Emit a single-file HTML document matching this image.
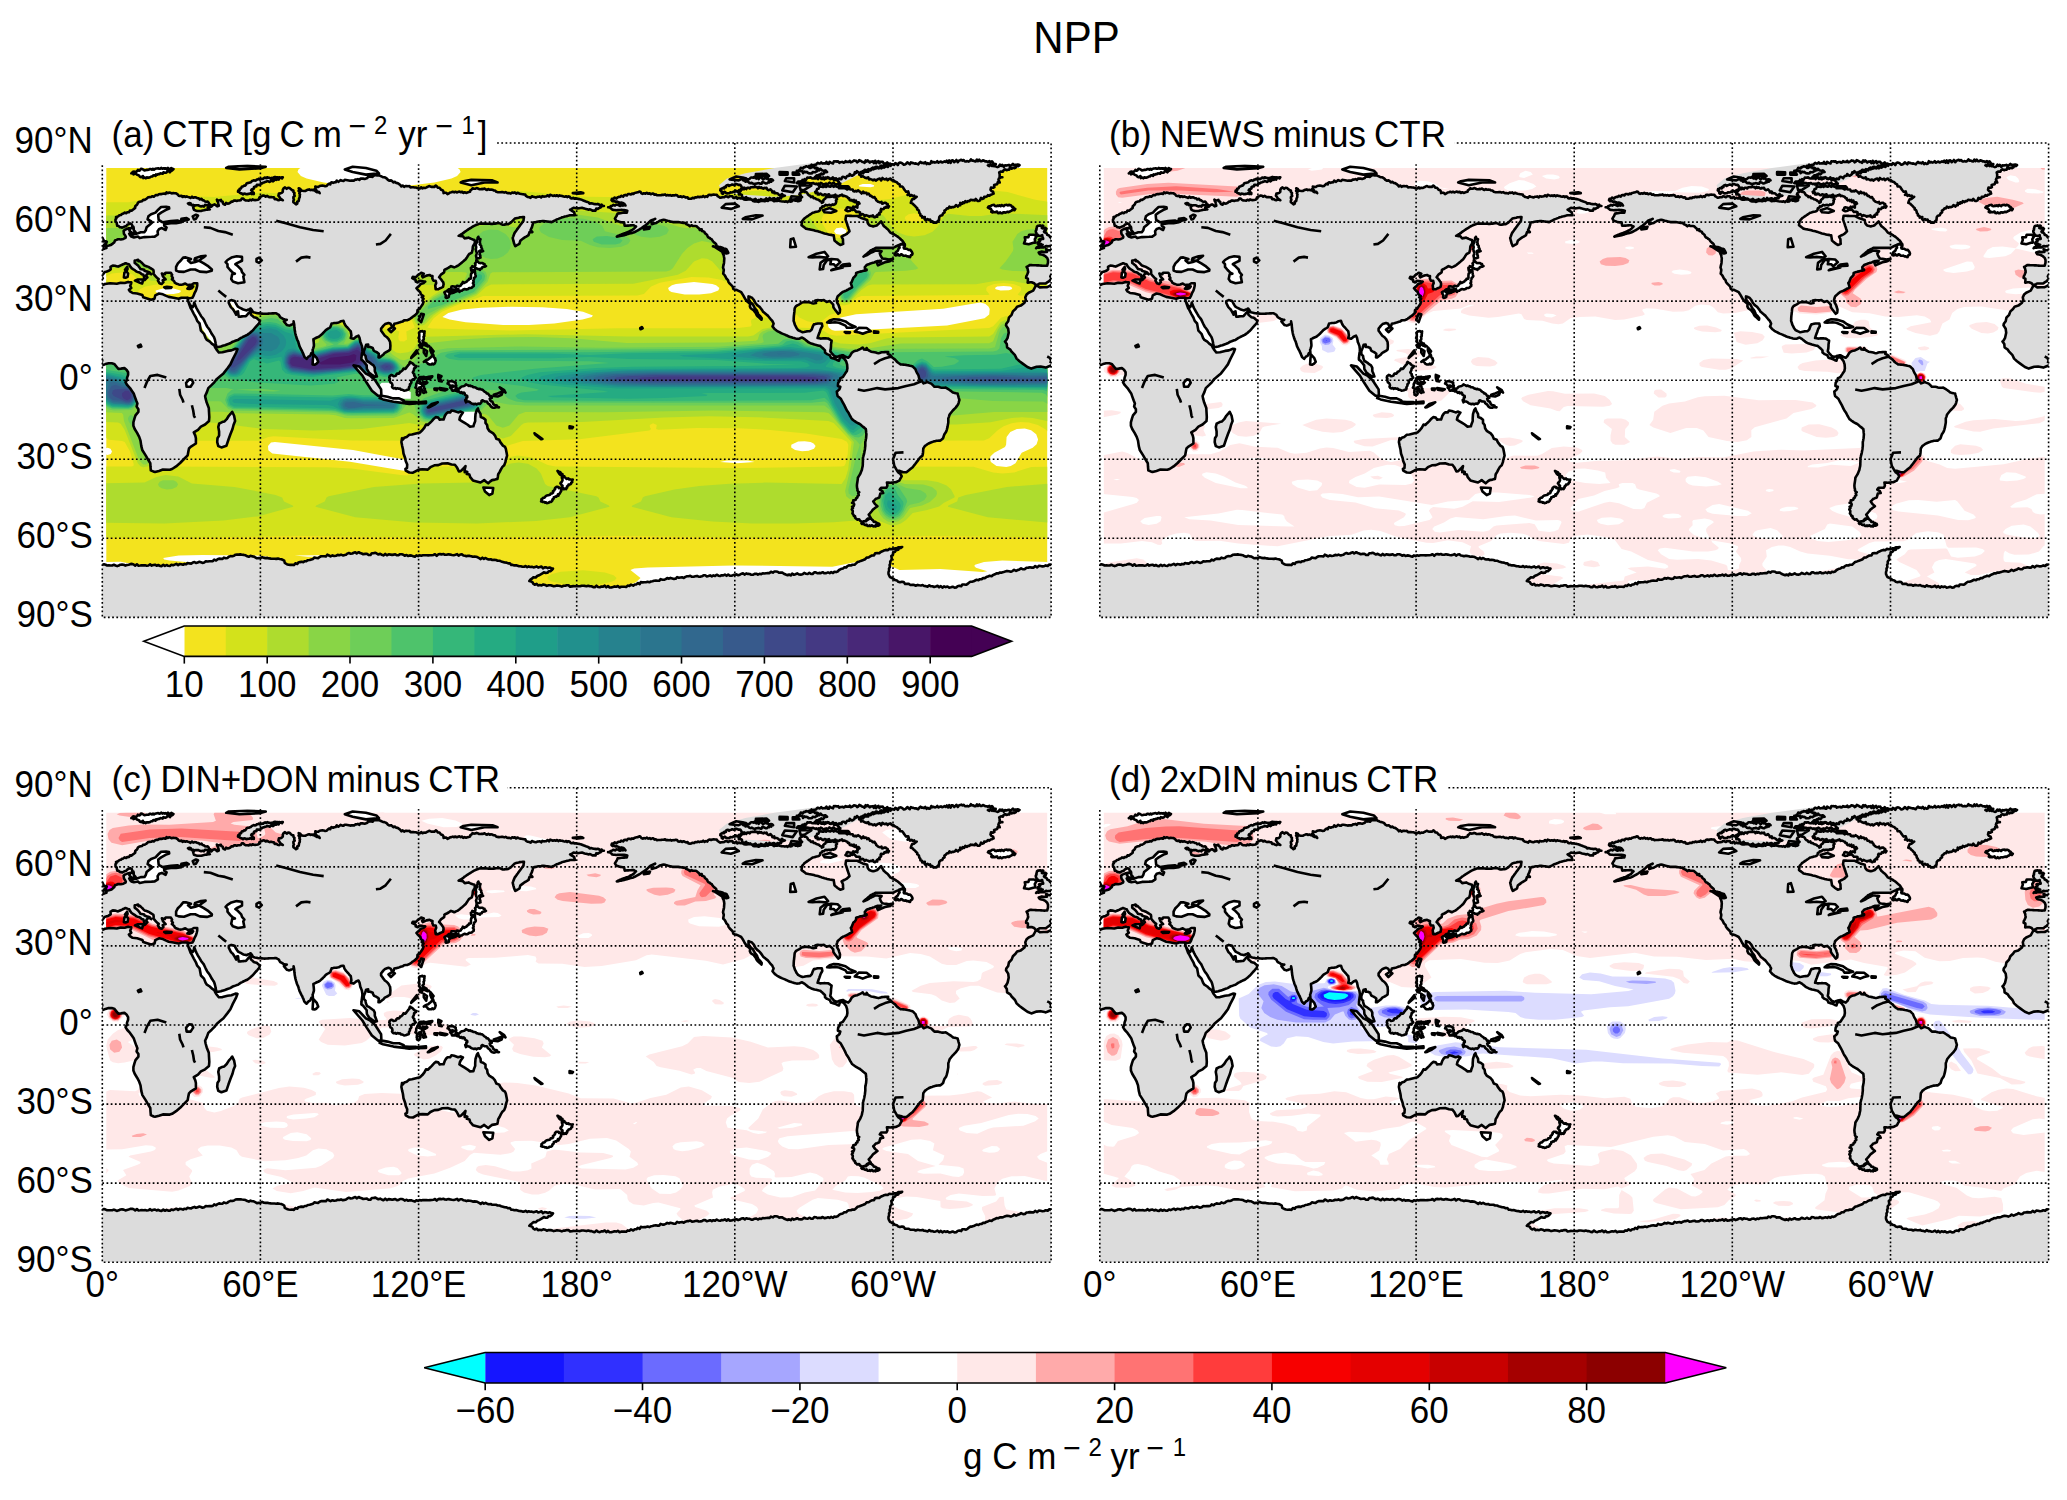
<!DOCTYPE html><html><head><meta charset="utf-8"><title>NPP</title>
<style>html,body{margin:0;padding:0;background:#fff;}svg{display:block;}text{font-family:'Liberation Sans', Arial, Helvetica, sans-serif;fill:#000;}</style></head><body>
<svg xmlns="http://www.w3.org/2000/svg" xmlns:xlink="http://www.w3.org/1999/xlink" width="2067" height="1500" viewBox="0 0 2067 1500">
<rect width="2067" height="1500" fill="#fff"/>
<defs>
<clipPath id="mapclip"><rect x="0" y="0" width="948.8" height="474.4"/></clipPath>
<clipPath id="dataclip"><rect x="4.0" y="25.0" width="940.9" height="448.1"/></clipPath>
<path id="land" fill="#dcdcdc" d="M-14.8,142.3l1.1-.6 1-.6 1.1-.6 1.2,0 1.2,0 1.2,0 1.3,0 1.2,0 1.2-.8 1.2-.8 1.3-.8 .7-1 .8-.9 .8-1-1.3-1.8 .8-1.4 .8-.9 .8-1 .8-1 1.1-.3 1.2-.4 1.1-.3 1.3-.8 1.3-.8-.1-1.3-.1-1.3 1.2-.7 1.1-.6 2.2,.2 1.5,.4 1.6,.4 1.3-.6 1.3-.6 1.4-.6 1.1-.6 1.2-.5 1.1-.5 1.2,.4 1.3,.5 1.2,.4 .8,1.6 .8,1 .8,1.1 1.4,.9 1.5,.9 1,.8 1.1,.8 1.1,.4 1.1,.3 1.2,.4 .9,.8 .9,.8 1.6,.5 .4,1.4 .4,1.5-.3,1.3-.2,1.3 1-.2 1.4-1.4 1.3-1.3-1.3-1.8 .7-1 .8-.9 2.1-.5 1.4,1.1-1.4-1.9-1.3-.4-1.3-.4-1.3-.4-1.3-.4-.3-1-1.2-.3-1.3-.3-1.2-.2-.8-1.2-.8-1.1-.8-1.1-1.1-.9-1.1-.9-1.2-.9 0-2.4 1.7-.3 1.7-.4 .3,1.5 1.6-.2 1.2,1.2 1.2,1.1 1,1.1 1.1,1.1 1.3,.4 1.3,.4 1.3,.5 1.3,.8 1.4,.8 1.1,.7 1.2,.8 .3,2.1-.3,1.6 .8,.9 .8,1 .9,1 1,1.1 1.8,1.3-.8,1.6 .8,1.3 .8,1.3 2.1,.8 .9-.9 .9-.9-.7-1.9 1.4-.5 1.5-.5-.9-1-.9-1-.9-.9-.5-1.5-.5-1.4 1.4,.4 1.5,.4 .8-1.6 1.3,0 1.3,0 1.3,0 1.3,0 .6,1 .7,1.1-.5,1.3 1.3,1.8-1,1.4 1.2,1 1.2,1.1 .5,1.3 1.3,.8 1.3,.4 1.3,.5 1.4,.4 1.3-.1 1.3-.2 1.3-.5 1.3-.5 1.3,.8 1.4,.8 1.3-.2 1.3-.2 1.3-.2 1.9-1.3 1.7,0 1.7,0 0,1.3 0,1.3-.5,2.2-.4,1.3-.4,1.3-.7,1.3-.7,1.3-.5,1.3-.5,1.4-1.1,1.8-1.5,.3-1.6,.2-1.9-.5 .3,1.2 .3,1.3 .2,1.2 .6,1.1 .6,1 .6,1.1 .6,1 1,.8 1.1,.8 1.1-2.1 .2-1.3 .3-1.3 .4,1.1 .4,1.1 .4,1.1 .4,1.1 .6,1.2 .7,1.2 .6,1.2 .7,1.2 .7,1.1 .6,1.1 .7,1.1 .6,1.2 .9,1.1 .9,1.1 .9,1.2 .6,1.3 .6,1.3 .6,1.3 .8,1.6 .8,1.6 .9,1.1 .9,1.2 .8,1.1 .6,1.3 .7,1.2 .6,1.2 .7,1 .7,1 .7,.9 .5,1.3 .5,1.4 .3,1.3 .3,1.3 .2,1.3 .4,1.7 .4,1.7 1.9,.3 1.3-.3 1.3-.2 1.3-.5 1.3-.4 1.4-.4 1.3-.5 1.3-.5 1.3-.4 1.3-.5 1.3-.8 1.4-.8 1.3-.4 1.3-.5 1.3-.5 1.3-.4 1.9-1.3 1.1-.7 1.2-.6 1.1-.6 1.3-.6 1.3-.6 1.4-.6 1.3-1 1.3-.9 1.3-1.2 1.3-1.1 1-1.1 .9-1.1 1-1.1 1.1-1.2 .9-1 .8-1 .9-.9 .4-1.2 .4-1.2-1-1-1.1-.9-1.1-1-1.4-.4-1.5-.4-.9-.9-1-.8-1-.9-.1-1.7-.1-1.7-1.1,.9-1,.9-.9,1.1-.9,1-.9,1.1-1.3,0-1.3,.1-1.3,.1-1.6,.2-1.6,.1-.2-1.2-.3-1.2-.1-1.4-.2-1.5-1.3,.3-.2,1.6-.3,1.5-.6-1.1-.6-1.1-.7-1.2-.7-1.2-.8-1.2-1-.9-.9-.9-.7-1.4-.7-1.4-.7-1.4 0-1.9 1.2-.5 1.2-.5 1.7,.4 1.7,.4 .8,1.6 .8,1.5 .9,1.4 .9,1.3 1.1,.6 1,.5 1.1,.6 1.1,.6 1,.6 1.7,.4 1.7,.4 1.3-.7 1.4-.6 1.3-.6 .9,1.2 .8,1.3 .9,1.2 1.5,.4 1.5,.3 1.5,.4 1.4,.1 1.3,.1 1.4,.1 1.4,.1 1.4,.1 1.2-.1 1.3,0 1.2-.1 1.3-.1 1.3,0 1.3-.1 1.3,0 1.3-.1 1.3,0 1.4,.8 1.3,.7 .6,1.2 .7,1.2 1.1,.6 1,.6 1.1,.7 1.7,.4 1.7,.3-1.5,.8-1.4,.8 1,1.2 .9,1.1 1,1.2 1.2,.4 1.2,.3 1.1-.4 1.1-.5 1.1-.4 1.1-.5 0-1.2 0-1.2 .3,1.6 .3,1.6 .1,1.4 .1,1.5 .2,1.3 .1,1.3 .3,1.3 .2,1.4 .3,1.3 .4,1.5 .5,1.5 .4,1.5 .5,1.2 .6,1.2 .5,1.3 .3,1.2 .4,1.2 .3,1.2 .7,1.5 .7,1.4 .6,1.2 .7,1.2 .6,1.5 .7,1.4 .5,1.5 .6,1.4 1,.9 1.1,1 .9-1.1 .9-1.1 1.1-.6 1-.7 .4-1.2 .4-1.1 1.6,0-.1-1.6-.2-1.6 .5-1.3 .4-1.3 .4-1.4 0-1.3-.1-1.3-.1-1.3-.2-1.5-.1-1.4 1.2-.5 1.2-.6 1.1-.5 1.2-.5 1.1-.5 1.1-.9 1-.9 1.1-.9 .8-.9 .9-.9 .8-.9 .9-1 1.1-.7 1.1-.7 1.2-.7 1.1-.8 .4-1.2 .5-1.2 .4-1.3 1.4-.2 1.5-.3 1.8,0 1.2-.3 1.2-.2 1.2-.7 1.2-.6 1.2-.2 1.2-.1 .4,1.1 .4,1.2 .5,1.1 .8,1.3 .9,1 .9,.9 .9,1 .8,1 .9,1 .8,.9 .2,1.4 .2,1.3 .2,1.3-.3,1.3-.3,1.3 1.5,.4 1.4,.4 1.2-1 1.2-1.1 1.2-.5 1.2-.5 1,2.1 .3,1.4 .3,1.4 .2,1.4 .6,1.3 .5,1.3 .5,1.3 .2,1.4 .2,1.3 .1,1.3-.1,1.3-.2,1.3-.2,1.3-.2,1.4-.1,1.3-.2,1.3 0,1.8 1.8,1.4 .9,1.2 1,1.1 .8,1.1 .8,1 0,1.3 .1,1.2 .1,1.2 .7,1.2 .7,1.1 .7,1.2 1,.8 1,.7 .9,.8 1.1,.6 1,.7 1.1,.6 1.8-.3-.5-1.4-.5-1.5-.6-1.3-.5-1.3 0-1.6 0-1.6-.6-1.2-.7-1.2-1.1-.7-1-.8-1.3-1-1.3-.9-1.9-1-.5-1.4-.5-1.3-.2-1.2-.1-1.1-.9-1-.9-.9 0-1.4 0-1.5 .5-1.2 .5-1.2 .4-1.1 .4-1.2 .5-1.6 2.1-.3 0,1.2 0,1.2 2.1,0 1.2,.5 1.2,.5 .5,1.4 .6,1.3 1.1,.6 1.2,.6 1.1,.6 1.6,1.3-.1,1.3-.1,1.2-.1,1.2 1.1,0 1-.8 .9-.7 1-.8 1-.8 1.3-1.6 1.6-.8 1.6-.8 1.1-.8 1-.8 .1-1.2 .1-1.2 .1-1.3-.1-1.3-.1-1.3-.1-1.3-.7-1.3-.6-1.3-.9-1.1-1-1.1-1-.7-1.1-.8-.9-1.2-.9-1.2-.9-1.3-1-1.3 0-2.2 .8-.9 .8-1 .8-1 1.6-1.5 1.8-.6 1.6-.5 2.1,.8 .7,1.3 .7,1.3 1.3,.3 .5-1.4 .5-1.5 1.2-.3 1.2-.2 1.1-.4 1.2-.3 1.1-.4 1.3-.4 1.4-.4 1.3-1 1.7-.2 1.7-.1 1.3-.6 1.3-.7 1.2-.9 1.2-1 1.2-.7 1.2-.8 1.2-1.2 1.2-1.2 .1-1.5 .1-1.4 1.1-.7 1-.6 .8-1.2 .8-1.2 .8-1.2 .8-1.2 .4-1.2 .4-1.1-1.1-1.4 1.1-1.5-.9-.8-1-.8 1.6-1.1-1.2-.9-1.2-.9-.7-2.1-.9-.9-.9-.9-.9-.9-1-1.3 .9-.9 1-.8 1-.9 1-1.3 1.6-.7 1.6-.6 1.6-1.4-1.8-.2-1.7-.3-2.1-.3-1.2,.8-1.1,.8-1.6-.8 0-1.5-1.2-.7-1.1-.6-1.2-.6 .6-1.3 1.4,.1 1.5,.2 1.2-1.1 1.1-1.1 1.1-.7 1.1-.8 1-.8 1.3,.5 1.3,.5-.9,1.1-.9,1 .8,1.6 1.6-.8 2.1-1 1.6-.3 1.5-.3 1.4,.8 1.5,.3-.2,2.1 .5,1.2 .5,1.2 1.2,.1 1.2,.1 .5,2.2-.5,1.3-.5,1.3 .2,1.2 .1,1.2 .2,1.3 1.2,0 1.2,0 2.1-1.1 1.4-.6 1.5-.7 .2-1.3 .3-1.3-.3-1.9-.7-.9-.7-1-.7-1-1-1.2-1.1-1.1 .7-1 .7-1 .7-.9 1.5-1 1.4-.9 .2-1.3 .1-1.3 1.2-.6 1.2-.5 1.8-1 1.2-.8 1.2-.8 1.6,.6 1.6,.7 1.2-.5 1.2-.6 1.2-.5 1.1-.8 1.1-.9 1-.9 1.1-.8 .9-.8 .9-.8 .9-.8 .9-.8 1-1.4 .9-1.5 .8-1.2 .8-1.1 1.3-.7 1.3-.7 .4-1.5 .4-1.6 .1-1.6 .2-1.6 .7-1.2 .7-1.2 .7-1.3-.3-1.3-.3-1.3-1.5-.5-1.6-.6-1.3-.6-1.4-.7-1.3,.3-1.3,.2-1.3,.3-.9-1-.9-1.1-1.5-.2-1.4-.2-1.4-.1 1.2-.6 1.1-.7 1.2-.6 1.3-1 1.3-1.1 1-.6 1-.7 1-.7 .9-.6 1.1-.7 1.1-.6 1-.7 1.1-.7 1.2-.6 1.2-.6 1.3-.6 1.5-.5 1.6-.6 1.2,0 1.2,0 1.3,0 1.2,0 1.2,0 1.3,.1 1.3,.1 1.3,0 1.4,.1 1.3,0 1.3-.1 1.3-.2 1.3-.2 1.3-.1 1.4-.2 1.3,.5 1.3,.6 1.3,.5 1.3-.1 1.3-.2 1.4-.1 1.3-.1 1.3-.8 1.3-.8 1-1 1-1 1-1 1-1 1.3-.3 1.3-.3 1.3-.3 1.3-.4 1.4-.1 1.3-.1 1.3,0-.2,1.2-.2,1.2-.1,1.3-.8,1-.8,1.1-.8,1.1-.8,1.1-.8,1.1-.8,1.1-.8,1.1-.8,1-.7,1.1-.8,1.1-.8,1-.6,1.3-.5,1.3-.5,1.4-.5,1.3 .3,1.3 .3,1.3 .4,1.3 .3,1.4 .6,1.4 .7,1.5 1.1-.6 1-.6 1.1-.6 1-.6 .4-1.5 .4-1.4 1.2-1 1.3-1 1.2-.9 1.1-.7 1.1-.6 1.2-.7 1.1-.7 .5-1.5 .5-1.6 1.5,0 1.4,0-.9-1.1-.9-1 .6-1.3 .7-1.4 .3-1.1 .4-1.2 .3-1.2 .3-1.2 1.3-.3 1.4-.2 1.3-.3 1.3-.3 1.3-.1 1.3-.1 1.3-.2 1.4-.1 1.3,.2 1.3,.2 1.3,.1 1.3,.2 1.4,.2 1.3,.2 1.3-.7 1.3-.6 1.3-.7 1.3-.7 1.4-.5 1.3-.5 1.3-.5 1.3-.6 1.3-.3 1.3-.4 1.4-.3 1.3-.4 1.3-.3 1.3-.4 1.2,0 1.2,0 1.2,0 1.2,0-.4-1.6-.4-1.5-1.3-.8-1.4-.8-1.3-.8 1.2-.6 1.1-.6 1.1-.7 1.4,.2 1.3,.2 1.3,.2 1.5-.2 1.5-.2 1.5-.2 1.3,.4 1.3,.4 1.3,.3 1.4,.4 1.3,.4 1.4-.4 1.2,.6 1.3,.8 1.3-.2 1.7,.2 .7-2.1 1.6,.3 1.2-.8 1.4-.5 .9-1 1.1-.8 1.5,.2-1.3-.1-.9-1.2-1.7,.9-.9-1.2-1.3-.5-1.4,.4-1.3-.2-1.3-.1-1.3-.4-1.3-.3-1.6,.3-1-1.2-1.3-.5-1.4-.4-1.3-.5-1.3-.5-1.3-.6-1.3-.5-1.4-.3-1.3-.2-1.3-.3-1.2-.2-1.2,.2-1.1-.8-1.4,.7-1.1-.3-1-1.4-1.1-.4-1.4,.8-1-1-1.4,.6-1.3-.3-1.3-.5-1.3-.1-1.3-.5-1.3,.9-1.3-1.1-1.4,.8-1.2-.6-1.5,.5-1.2-.5-1.5-.6-1.1,1.7-1.5-1.2-1.2,1-1.3,.2-1.3,.1-1.4-.5-1.2,1.4-1.4-1.1-1.3,.3-1.3,.1-1.3,.7-1.4-.4-1.3-.4-1.3-.5-1.3,1.6-1.3-.6-1.4-.2-1-.5-1-.6-.6-1.4-1.3-.1-1.3-.2-1.4-.2-1.3-.2-1.3-.5-1.3-.6-1.3,1-1.3-1.3-1.3,.5-1.3-.4-1.4,1.1-1.3-.5-1.3,0-1.3-.2-1.3-.8-1.4,.5-1.2-.5-1.4,0-1.3,.1-1.3,.1-1.5-.2-1.4-.4-1-1.2-1.5,0-1.2-.8-1.4-.1-1.3,.2-1.3-.8-1.4,1-1.2-.5-1.3-1-1.4,.6-1.3-.2-1.3,.3-1.3,0-1.3-.7-1.3-.4-1.4,.6-1.3,.1-1.3-.5-.9,1.2-1.3,.8-.4,1.5-1.3,.3-1.3,.4-1.3,.4-1.4-.6-1.5,.7-1.1-1.3-1.4,.6-1.3-.8-1.3,.4-1.3,.6-1.3-.8-1.3,.7-1.4-.6-1.3,.5-1.4,.2-1.2,.8-1.4,.8-1.2-1.3-1.4,0-1.3,.3-.2-1.7-.8-1.2-1.6-.5-.8-1.1-.9-.9-1.6-.1-.7-1.1-1.2-1-1.5,1.5-1.3-.2-1.3,.1-1.3-.4-1.3-.5-1.2,.7-1.3,.6-1.2,.7-1.6-.2-1.3,.6-1.3-1.1-1.3,1.2-1.4,0-1.3-.6-1.3-.4-1.3,0-1.3-.2-1.4-.1-1.4,.2-1.1-1.3-1.4,.1-1.3-.1-1.3-.1-1.3,.8-1.4-1.2-1.3,.9-.7-1-.9-.9-1-.7-1.2-.8-1.5-.2-1.1-1.1-1.7,.6-1.1-1.2-1.2-.8-1.8,.3-1.3-.8-1-1.3-1.2-.8-1.3-.5-1.5-.1-1.2-.7-1.5-.6-1.3-.8-1.7,.3-1.3-.2-1.2,.1-1.2,.6-1,1.1-1.4-.5-1.3,.3-1.5-.4-1,1.6-1.3,.5-1.3,.4-1.5-.3-1.3,0-1.4,0-1.1,1.4-1.5-.9-1.3,.5-1.3,0-1.2,1-1.4-.1-1.3,.1-1.3,.2-1.3-.3-1.4-.3-1.3-.2-1.4-.1-1.2,1.1-1.3-.2-1.5-.7-1.2,.9-1.2,.8-1.6-1.2-1,1.6-1.4,.2-1.2,.5-1.5-.6-1,.8-.3,1.3-1.5-.6-1.2,1.1-1.1,1.1-1.3,.2-1.5-.5-1.3-.2-1.4,.2-1.3,.3-1.4,1-1.5-.1-1.5-.4 .3,1.5-1.1,1.1 1.4,.4 .7,1.2 .6,1.3 1.5,.3 1,.8-.9-1.4-1.9,.5-1.3-.8-1.1-1-1.4-.1-1.2-.6-1.5,.4-1.2-.7-1.4,.4-1.3,.5-1.3,.7-1.3,0-1.3-.2-1.3-.4-1-1.4-1.6-.7 .6,1.2-.7,1.4 1.4,1-.7,1.4 .7,1.1-.3,1.3 .1,1.4-.7,1.2-.2,1.4-.2,1.3-1.5,.7 .1,1.9-1.3,.8-1.2-1.1-1.4-1-.1-1.3 .6-1.3-.5-1.4 0-1.3 1.3-1.1-.5-1.5 .3-1.4-1.2-1.2 .1-1.4-1.5-.3-1.2-1-1-1.1-1.6-.2-1.4,1-1.7-1.4-1.4,.9-.8,1.6 0,1.9-1.1,1.1-1.3,.5-1.5,.2-.5,2.1 1,1.2 .8,1.4 1.3,.9 1.3,1-1.3-.4-1.3-.4-1.3,.9-1.3-.4-1.3-.8-1.6,0-.8-1.7-1.6-.1-1.3-.3-1.4,.3-1.2-.5-1.3-.9-1.4,.8-1.2-1-1.3-.2-1.4,.7-1.4,.5-1,.8-.3,1.6-1.3,.6-1.3,.3-1.4,.1-1.3-.1-1.3-.6-1.2,1-1.4-.7-1.2,1-1.4-.2-1.4,0-1.4-.7-1.2-1.2-1.5-.1-.9,1.7-1.4,.2-1.5,.1-1.3,.4-1.4-.4-1.3,.1-1.2,1-1.4-.1-1,1.2-1.3,.7-1.6,.2-1.4-.7-1.1,1.8-1.5-.6-.6-1-.2-1.3-1.5-.6-.3-1.3-1.3,.4-1.4,.2-1.3-.8 .4,1.3 .7,1.2 .3,1.4 .5,2.1-1.6,.7-1.3-1.2-1.4-.8-1.5,.5-.9,1-.9,.7-1.4,.1-1,.6-1.1,.5 1.1,.8 1,.8-1.2,.1-1.1,.2-1.2,.1-1.2,.1-1.3,.4-1.3,.3-1.4,.4-1.3,0-1.3,0-1.3,0-1.6-.5-1.6-.6-.4-1.1-.4-1.2 1.1-1.9-1.3-.2-1.2-.5-1.1-.7-1.4,.1-1.3-1 1.5-.4 1.3,.5 .9,1.8 1.5-.4 1.3,.8 1.4-.4 1.3-.1 1.3,.1 1.3,.7 1.3,.4 1.4-.4 1.4,.6 1.1-1.7 1.4,.2 1.4,.3 1.2-1 1.4,.3-1.3-.7-.5-1.5-.9-1-1.4,.2-1.4-.3-1.1-1-1.3-.2-1-1.4-1.8,.7-1-1.3-1.5-.1-1.3-.7-1.3-.1-1.4,.5-1.2-1.1-1.5,1.3-1.2-.7-1.3-.4-1.3-.5-1.5,.5-1.2-.7-1.4,.8-1.2-1.3-1.4,.4-1.3-.4-1.1-1.4-1.5-1-1.5-.1-1.4-.2-1.5,.4-1.4-.6-1.3-.3-1.1,.7-1.4-.8-1,1.6-1.3-.4-1.3,.1-1.3,.4-1.4,0-1.4,.2-1.2,.9-1.4-.2-1.2,.6-1.2,1.1-1.4-.5-1.2,.8-1.5,.1-1.5,.1-1.1,1.1-1.2,.9-1.2,.7-1.5,0-1.1,1.3-1.6,.3-1.5,.4-1.1,.8-.5,1.4-1,1.2-1.2,1 0,1.6-1.3,1-1.1,.9-1.2,1-1.6-.3-.9,1.6-1.8,.2-1.1,.9-1.7-.6-1.1,1-1.4,.4-1.1,1-1.5,.2-.9,1-1.2,.6-1.3,.3 .4,1.3-.9,1 0,2.4 1.2,.7 .1,1.4 .5,1.9 1.4,.2 1,1.1 1.2,.2 1.3,.4 1.2-.6 1.4-.7 1.5-.4 1-1.3 1.4-.6 1.3-.7 1.8,1 .4,1.5 1.2,.9 .3,1.3-1.7,0-1.8,0-1.8,.3-1.1,.4-1.2,.5-1.1,.4-1.4,1.3 .2,1.3 .1,1.4 1.1,1.5 .8,1.6-.3,1.1-2.1,1-1.3,.3-1.4,.3-1.3-.2-1.3-.1-1.6,.7-1.5,.6-.8,1.9-1.1,.9-1,.9-1.4,.8-1.8,.5-1.2,.3-1.2,.3 0,1.8-1.2,.4-1.2,.5-1.3,.4-1.8,1.1-1.9-.3-1.8-.8 .4,1.3 .4,1.4-1.2,.1-1.2,.1-1.3-.2-1.3-.3-1.6,.5-1.6,.5 1.1,1.6 1.7,.4 1.7,.4 2.1,1.1 .9,.9 .9,.9 .8,2.1 0,1.3 0,1.4-.4,1.4-.4,1.5-1.3,.1-1.3,.1-1.7-.1-1.7-.1-1.3-.1-1.4-.1-1.3,0-1.3-.1-1.4-.1-1.5,0-1.4-.1-1.5-.1-1.1,.6-1.2,.7-1.1,.6 1,2.1 .3,1.6 .3,1.5-.6,1.5-.7,1.4-.6,1.4-.2,1.5 1.8,.8 0,1.6-.1,1.2-.2,1.2 1.4-.2 1.3-.2 1.3-.1 1.3,.5 1.3,.5 1.1,1.6zM934.1,142.3l1-.6 1.1-.6 1-.6 1.2,0 1.2,0 1.3,0 1.2,0 1.2,0 1.2-.8 1.2-.8 1.3-.8 .8-1 .8-.9 .7-1-1.3-1.8 .8-1.4 .8-.9 .8-1 .8-1 1.1-.3 1.2-.4 1.1-.3 1.3-.8 1.3-.8-.1-1.3-.1-1.3 1.2-.7 1.2-.6 2.1,.2 1.5,.4 1.6,.4 1.3-.6 1.4-.6 1.3-.6 1.1-.6 1.2-.5 1.1-.5 1.2,.4 1.3,.5 1.2,.4 .8,1.6 .8,1 .8,1.1 1.4,.9 1.5,.9 1,.8 1.1,.8 1.1,.4 1.2,.3 1.1,.4 .9,.8 1,.8 1.5,.5 .4,1.4 .4,1.5-.2,1.3-.3,1.3 1-.2 1.4-1.4 1.3-1.3-1.3-1.8 .8-1 .7-.9 2.2-.5 1.3,1.1-1.3-1.9-1.4-.4-1.3-.4-1.3-.4-1.3-.4-.3-1-1.2-.3-1.2-.3-1.3-.2-.8-1.2-.7-1.1-.8-1.1-1.2-.9-1.1-.9-1.2-.9 0-2.4 1.7-.3 1.8-.4 .2,1.5 1.6-.2 1.2,1.2 1.2,1.1 1,1.1 1.1,1.1 1.3,.4 1.3,.4 1.3,.5 1.4,.8 1.3,.8 1.2,.7 1.1,.8 .3,2.1-.3,1.6 .8,.9 .8,1 1,1 .9,1.1 1.8,1.3-.8,1.6 .8,1.3 .8,1.3 2.1,.8 .9-.9 1-.9-.8-1.9 1.4-.5 1.5-.5-.9-1-.9-1-.9-.9-.5-1.5-.5-1.4 1.4,.4 1.5,.4 .8-1.6 1.3,0 1.3,0 1.3,0 1.3,0 .6,1 .8,1.1-.6,1.3 1.4,1.8-1.1,1.4 1.2,1 1.2,1.1 .5,1.3 1.3,.8 1.3,.4 1.3,.5 1.4,.4 1.3-.1 1.3-.2 1.3-.5 1.3-.5 1.4,.8 1.3,.8 1.3-.2 1.3-.2 1.3-.2 1.9-1.3 1.7,0 1.7,0 0,1.3 0,1.3-.5,2.2-.4,1.3-.4,1.3-.7,1.3-.6,1.3-.6,1.3-.5,1.4-1,1.8-1.6,.3-1.6,.2-1.9-.5 .3,1.2 .3,1.3 .2,1.2 .6,1.1 .6,1 .6,1.1 .6,1 1.1,.8 1,.8 1.1-2.1 .2-1.3 .3-1.3 .4,1.1 .4,1.1 .4,1.1 .4,1.1 .6,1.2 .7,1.2 .7,1.2 .6,1.2 .7,1.1 .6,1.1 .7,1.1 .7,1.2 .8,1.1 .9,1.1 .9,1.2 .6,1.3 .6,1.3 .6,1.3 .8,1.6 .8,1.6 .9,1.1 .9,1.2 .8,1.1 .7,1.3 .6,1.2 .6,1.2 .7,1 .7,1 .7,.9 .5,1.3 .6,1.4 .2,1.3 .3,1.3 .2,1.3 .4,1.7 .4,1.7 1.9,.3 1.3-.3 1.3-.2 1.3-.5 1.4-.4 1.3-.4 1.3-.5 1.3-.5 1.3-.4 1.3-.5 1.4-.8 1.3-.8 1.3-.4 1.3-.5 1.3-.5 1.3-.4 1.9-1.3 1.1-.7 1.2-.6 1.1-.6 1.3-.6 1.4-.6 1.3-.6 1.3-1 1.3-.9 1.3-1.2 1.3-1.1 1-1.1 .9-1.1 1-1.1 1.1-1.2 .9-1 .9-1 .8-.9 .4-1.2 .4-1.2-1-1-1.1-.9-1-1-1.5-.4-1.4-.4-1-.9-1-.8-.9-.9-.2-1.7-.1-1.7-1.1,.9-1,.9-.9,1.1-.9,1-.8,1.1-1.4,0-1.3,.1-1.3,.1-1.6,.2-1.6,.1-.2-1.2-.3-1.2-.1-1.4-.2-1.5-1.3,.3-.2,1.6-.3,1.5-.6-1.1-.6-1.1-.6-1.2-.8-1.2-.8-1.2-.9-.9-1-.9-.7-1.4-.7-1.4-.7-1.4 0-1.9 1.2-.5 1.2-.5 1.7,.4 1.7,.4 .8,1.6 .8,1.5 .9,1.4 .9,1.3 1.1,.6 1.1,.5 1,.6 1.1,.6 1,.6 1.7,.4 1.7,.4 1.4-.7 1.3-.6 1.3-.6 .9,1.2 .9,1.3 .8,1.2 1.5,.4 1.5,.3 1.5,.4 1.4,.1 1.4,.1 1.3,.1 1.4,.1 1.4,.1 1.2-.1 1.3,0 1.2-.1 1.3-.1 1.3,0 1.3-.1 1.3,0 1.3-.1 1.4,0 1.3,.8 1.3,.7 .7,1.2 .6,1.2 1.1,.6 1,.6 1.1,.7 1.7,.4 1.7,.3-1.4,.8-1.5,.8 1,1.2 .9,1.1 1,1.2 1.2,.4 1.2,.3 1.1-.4 1.1-.5 1.1-.4 1.2-.5 0-1.2 0-1.2 .2,1.6 .3,1.6 .1,1.4 .2,1.5 .1,1.3 .1,1.3 .3,1.3 .2,1.4 .3,1.3 .4,1.5 .5,1.5 .4,1.5 .6,1.2 .5,1.2 .5,1.3 .4,1.2 .3,1.2 .4,1.2 .6,1.5 .7,1.4 .6,1.2 .7,1.2 .7,1.5 .6,1.4 .5,1.5 .6,1.4 1,.9 1.1,1 .9-1.1 .9-1.1 1.1-.6 1-.7 .4-1.2 .4-1.1 1.6,0-.1-1.6-.2-1.6 .5-1.3 .4-1.3 .5-1.4-.1-1.3-.1-1.3-.1-1.3-.1-1.5-.2-1.4 1.2-.5 1.2-.6 1.1-.5 1.2-.5 1.1-.5 1.1-.9 1-.9 1.1-.9 .8-.9 .9-.9 .9-.9 .8-1 1.1-.7 1.2-.7 1.1-.7 1.1-.8 .4-1.2 .5-1.2 .4-1.3 1.5-.2 1.4-.3 1.9,0 1.1-.3 1.2-.2 1.2-.7 1.2-.6 1.2-.2 1.2-.1 .4,1.1 .5,1.2 .4,1.1 .8,1.3 .9,1 .9,.9 .9,1 .8,1 .9,1 .9,.9 .1,1.4 .2,1.3 .2,1.3-.3,1.3-.2,1.3 1.4,.4 1.5,.4 1.1-1 1.2-1.1 1.2-.5 1.2-.5 1.1,2.1 .2,1.4 .3,1.4 .2,1.4 .6,1.3 .5,1.3 .5,1.3 .2,1.4 .2,1.3 .1,1.3-.1,1.3-.2,1.3-.2,1.3-.2,1.4-.1,1.3-.2,1.3 0,1.8 1.8,1.4 1,1.2 .9,1.1 .8,1.1 .8,1 .1,1.3 0,1.2 .1,1.2 .7,1.2 .7,1.1 .7,1.2 1,.8 1,.7 .9,.8 1.1,.6 1,.7 1.1,.6 1.8-.3-.5-1.4-.5-1.5-.5-1.3-.6-1.3 0-1.6 0-1.6-.6-1.2-.7-1.2-1-.7-1.1-.8-1.3-1-1.3-.9-1.9-1-.5-1.4-.5-1.3-.2-1.2-.1-1.1-.9-1-.9-.9 0-1.4 0-1.5 .5-1.2 .5-1.2 .4-1.1 .4-1.2 .5-1.6 2.1-.3 0,1.2 0,1.2 2.2,0 1.1,.5 1.2,.5 .6,1.4 .5,1.3 1.1,.6 1.2,.6 1.1,.6 1.6,1.3-.1,1.3-.1,1.2-.1,1.2 1.1,0 1-.8 1-.7 .9-.8 1-.8 1.4-1.6 1.5-.8 1.6-.8 1.1-.8 1-.8 .1-1.2 .1-1.2 .1-1.3-.1-1.3-.1-1.3-.1-1.3-.6-1.3-.7-1.3-.9-1.1-.9-1.1-1.1-.7-1-.8-1-1.2-.9-1.2-.9-1.3-.9-1.3 0-2.2 .8-.9 .7-1 .8-1 1.6-1.5 1.9-.6 1.5-.5 2.2,.8 .6,1.3 .7,1.3 1.3,.3 .5-1.4 .5-1.5 1.2-.3 1.2-.2 1.2-.4 1.1-.3 1.1-.4 1.4-.4 1.3-.4 1.3-1 1.7-.2 1.7-.1 1.3-.6 1.4-.7 1.1-.9 1.2-1 1.2-.7 1.2-.8 1.2-1.2 1.2-1.2 .1-1.5 .1-1.4 1.1-.7 1-.6 .8-1.2 .8-1.2 .8-1.2 .8-1.2 .4-1.2 .4-1.1-1.1-1.4 1.1-1.5-.9-.8-.9-.8 1.5-1.1-1.2-.9-1.1-.9-.8-2.1-.9-.9-.9-.9-.9-.9-1-1.3 .9-.9 1-.8 1-.9 1-1.3 1.6-.7 1.6-.6 1.6-1.4-1.7-.2-1.7-.3-2.2-.3-1.1,.8-1.2,.8-1.6-.8 0-1.5-1.2-.7-1.1-.6-1.1-.6 .5-1.3 1.4,.1 1.5,.2 1.2-1.1 1.2-1.1 1-.7 1.1-.8 1-.8 1.3,.5 1.4,.5-1,1.1-.9,1 .8,1.6 1.6-.8 2.1-1 1.6-.3 1.6-.3 1.3,.8 1.6,.3-.3,2.1 .5,1.2 .5,1.2 1.2,.1 1.2,.1 .5,2.2-.5,1.3-.5,1.3 .2,1.2 .1,1.2 .2,1.3 1.2,0 1.2,0 2.1-1.1 1.4-.6 1.5-.7 .3-1.3 .2-1.3-.2-1.9-.7-.9-.7-1-.7-1-1.1-1.2-1.1-1.1 .7-1 .8-1 .7-.9 1.4-1 1.5-.9 .1-1.3 .1-1.3 1.2-.6 1.2-.5 1.8-1 1.2-.8 1.2-.8 1.6,.6 1.6,.7 1.2-.5 1.2-.6 1.3-.5 1-.8 1.1-.9 1-.9 1.1-.8 .9-.8 .9-.8 .9-.8 1-.8 .9-1.4 .9-1.5 .8-1.2 .8-1.1 1.3-.7 1.3-.7 .4-1.5 .4-1.6 .1-1.6 .2-1.6 .7-1.2 .7-1.2 .7-1.3-.3-1.3-.2-1.3-1.6-.5-1.6-.6-1.3-.6-1.3-.7-1.4,.3-1.3,.2-1.3,.3-.9-1-.9-1.1-1.4-.2-1.4-.2-1.5-.1 1.2-.6 1.1-.7 1.2-.6 1.3-1 1.3-1.1 1-.6 1-.7 1-.7 1-.6 1-.7 1.1-.6 1-.7 1.1-.7 1.2-.6 1.2-.6 1.3-.6 1.6-.5 1.5-.6 1.2,0 1.3,0 1.2,0 1.2,0 1.2,0 1.3,.1 1.3,.1 1.3,0 1.4,.1 1.3,0 1.3-.1 1.3-.2 1.3-.2 1.4-.1 1.3-.2 1.3,.5 1.3,.6 1.3,.5 1.3-.1 1.4-.2 1.3-.1 1.3-.1 1.3-.8 1.3-.8 1-1 1-1 1-1 1-1 1.3-.3 1.3-.3 1.3-.3 1.4-.4 1.3-.1 1.3-.1 1.3,0-.2,1.2-.1,1.2-.2,1.3-.8,1-.8,1.1-.8,1.1-.8,1.1-.8,1.1-.8,1.1-.7,1.1-.8,1-.8,1.1-.8,1.1-.8,1-.5,1.3-.6,1.3-.5,1.4-.5,1.3 .3,1.3 .3,1.3 .4,1.3 .3,1.4 .7,1.4 .6,1.5 1.1-.6 1-.6 1.1-.6 1-.6 .4-1.5 .4-1.4 1.3-1 1.2-1 1.2-.9 1.1-.7 1.2-.6 1.1-.7 1.1-.7 .5-1.5 .5-1.6 1.5,0 1.4,0-.9-1.1-.9-1 .7-1.3 .6-1.4 .3-1.1 .4-1.2 .3-1.2 .3-1.2 1.4-.3 1.3-.2 1.3-.3 1.3-.3 1.3-.1 1.3-.1 1.4-.2 1.3-.1 1.3,.2 1.3,.2 1.3,.1 1.4,.2 1.3,.2 1.3,.2 1.3-.7 1.3-.6 1.3-.7 1.4-.7 1.3-.5 1.3-.5 1.3-.5 1.3-.6 1.3-.3 1.4-.4 1.3-.3 1.3-.4 1.3-.3 1.3-.4 1.2,0 1.2,0 1.2,0 1.2,0-.4-1.6-.4-1.5-1.3-.8-1.3-.8-1.4-.8 1.2-.6 1.1-.6 1.2-.7 1.3,.2 1.3,.2 1.3,.2 1.5-.2 1.5-.2 1.5-.2 1.3,.4 1.3,.4 1.3,.3 1.4,.4 1.3,.4 1.4-.4 1.2,.6 1.3,.8 1.4-.2 1.6,.2 .7-2.1 1.6,.3 1.2-.8 1.4-.5 1-1 1-.8 1.5,.2-1.3-.1-.9-1.2-1.7,.9-.9-1.2-1.2-.5-1.4,.4-1.3-.2-1.4-.1-1.3-.4-1.3-.3-1.6,.3-1-1.2-1.3-.5-1.4-.4-1.3-.5-1.3-.5-1.3-.6-1.3-.5-1.3-.3-1.4-.2-1.3-.3-1.1-.2-1.3,.2-1.1-.8-1.4,.7-1.1-.3-1-1.4-1.1-.4-1.4,.8-1-1-1.4,.6-1.3-.3-1.3-.5-1.3-.1-1.3-.5-1.3,.9-1.3-1.1-1.4,.8-1.2-.6-1.4,.5-1.3-.5-1.5-.6-1.1,1.7-1.5-1.2-1.2,1-1.3,.2-1.3,.1-1.4-.5-1.2,1.4-1.4-1.1-1.3,.3-1.3,.1-1.3,.7-1.3-.4-1.4-.4-1.3-.5-1.3,1.6-1.3-.6-1.3-.2-1.1-.5-1-.6-.5-1.4-1.4-.1-1.3-.2-1.3-.2-1.4-.2-1.3-.5-1.3-.6-1.3,1-1.3-1.3-1.3,.5-1.3-.4-1.4,1.1-1.3-.5-1.3,0-1.3-.2-1.3-.8-1.3,.5-1.3-.5-1.4,0-1.3,.1-1.3,.1-1.5-.2-1.4-.4-1-1.2-1.5,0-1.2-.8-1.3-.1-1.4,.2-1.2-.8-1.4,1-1.3-.5-1.3-1-1.4,.6-1.3-.2-1.3,.3-1.3,0-1.3-.7-1.3-.4-1.4,.6-1.3,.1-1.3-.5-.9,1.2-1.3,.8-.4,1.5-1.3,.3-1.3,.4-1.3,.4-1.4-.6-1.4,.7-1.2-1.3-1.4,.6-1.3-.8-1.3,.4-1.3,.6-1.3-.8-1.3,.7-1.3-.6-1.4,.5-1.4,.2-1.2,.8-1.4,.8-1.2-1.3-1.3,0-1.4,.3-.2-1.7-.8-1.2-1.6-.5-.8-1.1-.9-.9-1.5-.1-.8-1.1-1.2-1-1.4,1.5-1.4-.2-1.3,.1-1.3-.4-1.3-.5-1.2,.7-1.2,.6-1.3,.7-1.5-.2-1.4,.6-1.3-1.1-1.3,1.2-1.3,0-1.3-.6-1.3-.4-1.4,0-1.3-.2-1.4-.1-1.3,.2-1.2-1.3-1.4,.1-1.3-.1-1.3-.1-1.3,.8-1.4-1.2-1.2,.9-.8-1-.9-.9-1-.7-1.2-.8-1.5-.2-1.1-1.1-1.7,.6-1.1-1.2-1.2-.8-1.8,.3-1.3-.8-.9-1.3-1.3-.8-1.3-.5-1.5-.1-1.2-.7-1.5-.6-1.3-.8-1.7,.3-1.3-.2-1.2,.1-1.2,.6-1,1.1-1.4-.5-1.3,.3-1.5-.4-1,1.6-1.3,.5-1.3,.4-1.5-.3-1.3,0-1.3,0-1.2,1.4-1.5-.9-1.2,.5-1.4,0-1.2,1-1.4-.1-1.3,.1-1.3,.2-1.3-.3-1.4-.3-1.3-.2-1.4-.1-1.2,1.1-1.3-.2-1.4-.7-1.3,.9-1.2,.8-1.5-1.2-1.1,1.6-1.4,.2-1.2,.5-1.5-.6-1,.8-.3,1.3-1.5-.6-1.1,1.1-1.2,1.1-1.3,.2-1.5-.5-1.3-.2-1.3,.2-1.3,.3-1.4,1-1.6-.1-1.5-.4 .4,1.5-1.2,1.1 1.4,.4 .7,1.2 .6,1.3 1.5,.3 1.1,.8-1-1.4-1.9,.5-1.3-.8-1.1-1-1.4-.1-1.2-.6-1.5,.4-1.2-.7-1.4,.4-1.3,.5-1.2,.7-1.4,0-1.3-.2-1.3-.4-1-1.4-1.6-.7 .7,1.2-.8,1.4 1.4,1-.7,1.4 .7,1.1-.3,1.3 .1,1.4-.7,1.2-.2,1.4-.2,1.3-1.5,.7 .1,1.9-1.3,.8-1.2-1.1-1.4-1-.1-1.3 .6-1.3-.5-1.4 0-1.3 1.3-1.1-.5-1.5 .3-1.4-1.2-1.2 .1-1.4-1.5-.3-1.1-1-1.1-1.1-1.6-.2-1.4,1-1.7-1.4-1.4,.9-.8,1.6 .1,1.9-1.1,1.1-1.4,.5-1.5,.2-.5,2.1 1,1.2 .8,1.4 1.4,.9 1.3,1-1.3-.4-1.3-.4-1.4,.9-1.3-.4-1.3-.8-1.6,0-.8-1.7-1.6-.1-1.3-.3-1.3,.3-1.3-.5-1.3-.9-1.4,.8-1.2-1-1.3-.2-1.4,.7-1.4,.5-1,.8-.3,1.6-1.3,.6-1.3,.3-1.3,.1-1.4-.1-1.3-.6-1.1,1-1.5-.7-1.2,1-1.4-.2-1.3,0-1.5-.7-1.2-1.2-1.5-.1-.9,1.7-1.4,.2-1.5,.1-1.2,.4-1.4-.4-1.4,.1-1.2,1-1.3-.1-1.1,1.2-1.3,.7-1.6,.2-1.4-.7-1.1,1.8-1.4-.6-.7-1-.2-1.3-1.5-.6-.3-1.3-1.3,.4-1.4,.2-1.2-.8 .3,1.3 .7,1.2 .3,1.4 .5,2.1-1.6,.7-1.3-1.2-1.3-.8-1.6,.5-.8,1-1,.7-1.4,.1-1,.6-1.1,.5 1.1,.8 1,.8-1.1,.1-1.2,.2-1.2,.1-1.2,.1-1.3,.4-1.3,.3-1.3,.4-1.4,0-1.3,0-1.3,0-1.6-.5-1.6-.6-.4-1.1-.4-1.2 1.1-1.9-1.3-.2-1.2-.5-1.1-.7-1.4,.1-1.3-1 1.5-.4 1.3,.5 .9,1.8 1.5-.4 1.3,.8 1.4-.4 1.3-.1 1.3,.1 1.3,.7 1.3,.4 1.4-.4 1.4,.6 1.1-1.7 1.4,.2 1.4,.3 1.2-1 1.4,.3-1.3-.7-.5-1.5-.9-1-1.4,.2-1.3-.3-1.2-1-1.3-.2-1-1.4-1.8,.7-1-1.3-1.5-.1-1.3-.7-1.3-.1-1.4,.5-1.2-1.1-1.4,1.3-1.3-.7-1.3-.4-1.3-.5-1.4,.5-1.3-.7-1.4,.8-1.2-1.3-1.4,.4-1.3-.4-1.1-1.4-1.5-1-1.4-.1-1.5-.2-1.5,.4-1.4-.6-1.3-.3-1.1,.7-1.3-.8-1.1,1.6-1.2-.4-1.4,.1-1.3,.4-1.4,0-1.4,.2-1.1,.9-1.5-.2-1.2,.6-1.2,1.1-1.4-.5-1.2,.8-1.5,.1-1.5,.1-1.1,1.1-1.2,.9-1.2,.7-1.5,0-1,1.3-1.7,.3-1.5,.4-1,.8-.6,1.4-1,1.2-1.1,1-.1,1.6-1.3,1-1.1,.9-1.2,1-1.6-.3-.8,1.6-1.8,.2-1.2,.9-1.7-.6-1.1,1-1.4,.4-1.1,1-1.5,.2-.9,1-1.2,.6-1.3,.3 .4,1.3-.9,1 0,2.4 1.2,.7 .1,1.4 .5,1.9 1.4,.2 1,1.1 1.2,.2 1.3,.4 1.2-.6 1.4-.7 1.5-.4 1.1-1.3 1.3-.6 1.3-.7 1.8,1 .5,1.5 1.1,.9 .3,1.3-1.7,0-1.7,0-1.9,.3-1.1,.4-1.2,.5-1.1,.4-1.3,1.3 .1,1.3 .1,1.4 1.1,1.5 .8,1.6-.3,1.1-2.1,1-1.3,.3-1.3,.3-1.4-.2-1.3-.1-1.6,.7-1.5,.6-.8,1.9-1.1,.9-1,.9-1.4,.8-1.8,.5-1.2,.3-1.2,.3 0,1.8-1.2,.4-1.2,.5-1.3,.4-1.8,1.1-1.8-.3-1.9-.8 .4,1.3 .4,1.4-1.2,.1-1.2,.1-1.3-.2-1.3-.3-1.6,.5-1.6,.5 1.1,1.6 1.7,.4 1.7,.4 2.1,1.1 .9,.9 1,.9 .8,2.1 0,1.3 0,1.4-.4,1.4-.4,1.5-1.4,.1-1.3,.1-1.7-.1-1.7-.1-1.3-.1-1.3-.1-1.4,0-1.3-.1-1.4-.1-1.5,0-1.4-.1-1.5-.1-1.1,.6-1.2,.7-1.1,.6 1.1,2.1 .2,1.6 .3,1.5-.6,1.5-.6,1.4-.7,1.4-.2,1.5 1.8,.8 0,1.6-.1,1.2-.1,1.2 1.3-.2 1.3-.2 1.3-.1 1.3,.5 1.3,.5 1.1,1.6zM-15.3,142.8l-1,1.9-1.6,2.9-2.1,1-2.4,1.1-2.1,1.8-1.3,2.9 .5,2.7-1.6,2.9-3.4,2.6-3.7,1.1-1.6,2.3-2.6,2.4-1.3,3.4-2.7,2.9-.8,3.5-1.8,2.6-.3,1.6 2.1,3.4 .6,4-1.1,5-1.6,2.9-1,.8 1.8,2.6 .3,3.4 3.1,2.1 1.4,2.1 3.4,3.5 1.6,3.4 2.9,2.6 3.1,2.4 4.8,3.4 3.9,1.6 5.3-1.8 4-.3 3.9,.8 1.3,.3 2.7-1.1 2.6-1.1 3.2-1.3 3.1-.8 3.2,0 2.4,.6 2.6,3.1 1.6,1.9 2.6-.3 3.4-.5 2.1,1.6 1.6,2.6 0,2.6-1,2.7-.3,2.6-1.3,2.1 1.8,2.9 2.7,2.9 1.8,2.6 1.9,2.7 1,2.9 1.6,4.5 1.1,2.6-.8,3.2 1.8,2.6 0,2.6-2.9,3.5-1,3.1-1.1,4 0,3.4 1.3,3.2 2.4,3.9 2.1,4 1.3,3.7 .8,5.5 1.1,4.2 3.4,5.3 2.1,3.7 2.4,3.9 .2,3.5 .3,3.6 2.9,1.4 1.3,.2 4-1 3.9-1.3 6.9,.2 2.3-.8 4-2.6 4-3.4 3.9-4 3.7-3.7 .8-4.5 .5-2.3 1.6-1.6 5.3-3.4 0-5.3-.6-2.6-1.5-3.2 4.2-2.6 2.9-3.2 4.2-2.1 3.9-3.4 .3-4-.3-5.3-.2-3.9-2.1-5.3-1.1-3.9-.5-2.7 1.8-3.9 1.4-4 3.4-3.2 2.6-2.6 2.6-3.4 3.5-2.9 3.1-2.6 4-5.1 2.9-3.9 2.4-5.3 3.4-6.6 1.3-3.4-2.1-.3-4,1.6-3.9,.5-5,1.4-3.7,.2-2.4-3.1-1.3-2.1-.8-1.9-2.6-1.8-1.9-1.9-2.9-1.8-1.3-1.9-1.6-4.2-3.1-3.1-.6-3.2-.7-4-2.4-2.6-1.3-3.4-2.1-3.7-1.9-3.7-1.3-2.1-2.4-6.6-.8-3.7-6,0-2.7,1.1-5.2-1.1-4.8-.8-3.1-1.3-2.7-1.3-3.9-.8-3.7,1.8-.8,3.5-3.4,1-4-1.3-3.9-1.3-.8-2.1-5.3-1.6-4.5-.5-2.6-1.6-1.1-1.6 2.4-1.8-1.1-2.2 .8-1.8 .3-1.6-2.1-.2-1.1-.3-3.4,1.1-4-.3-3.9,1-6.6-.5-5.3,.8-3.9,1.8-2.7,1.4-3.6,0-3.7,.2-2.7-1.8zM933.5,142.8l-1,1.9-1.6,2.9-2.1,1-2.4,1.1-2.1,1.8-1.3,2.9 .5,2.7-1.6,2.9-3.4,2.6-3.7,1.1-1.6,2.3-2.6,2.4-1.3,3.4-2.7,2.9-.7,3.5-1.9,2.6-.3,1.6 2.2,3.4 .5,4-1.1,5-1.6,2.9-1,.8 1.8,2.6 .3,3.4 3.2,2.1 1.3,2.1 3.4,3.5 1.6,3.4 2.9,2.6 3.2,2.4 4.7,3.4 3.9,1.6 5.3-1.8 4-.3 3.9,.8 1.3,.3 2.7-1.1 2.6-1.1 3.2-1.3 3.1-.8 3.2,0 2.4,.6 2.6,3.1 1.6,1.9 2.6-.3 3.5-.5 2.1,1.6 1.5,2.6 0,2.6-1,2.7-.3,2.6-1.3,2.1 1.9,2.9 2.6,2.9 1.8,2.6 1.9,2.7 1,2.9 1.6,4.5 1.1,2.6-.8,3.2 1.8,2.6 0,2.6-2.9,3.5-1,3.1-1.1,4 0,3.4 1.3,3.2 2.4,3.9 2.1,4 1.3,3.7 .8,5.5 1.1,4.2 3.4,5.3 2.1,3.7 2.4,3.9 .2,3.5 .3,3.6 2.9,1.4 1.3,.2 4-1 3.9-1.3 6.9,.2 2.4-.8 3.9-2.6 4-3.4 3.9-4 3.7-3.7 .8-4.5 .5-2.3 1.6-1.6 5.3-3.4 0-5.3-.5-2.6-1.6-3.2 4.2-2.6 2.9-3.2 4.2-2.1 4-3.4 .2-4-.2-5.3-.3-3.9-2.1-5.3-1.1-3.9-.5-2.7 1.8-3.9 1.4-4 3.4-3.2 2.6-2.6 2.7-3.4 3.4-2.9 3.2-2.6 3.9-5.1 2.9-3.9 2.4-5.3 3.4-6.6 1.3-3.4-2.1-.3-3.9,1.6-4,.5-5,1.4-3.7,.2-2.4-3.1-1.3-2.1-.8-1.9-2.6-1.8-1.9-1.9-2.9-1.8-1.3-1.9-1.5-4.2-3.2-3.1-.5-3.2-.8-4-2.4-2.6-1.3-3.4-2.1-3.7-1.9-3.7-1.3-2.1-2.4-6.6-.8-3.7-6,0-2.7,1.1-5.2-1.1-4.8-.8-3.1-1.3-2.7-1.3-3.9-.8-3.7,1.8-.8,3.5-3.4,1-4-1.3-3.9-1.3-.8-2.1-5.3-1.6-4.5-.5-2.6-1.6-1.1-1.6 2.4-1.8-1-2.2 .7-1.8 .3-1.6-2.1-.2-1.1-.3-3.4,1.1-3.9-.3-4,1-6.6-.5-5.2,.8-4,1.8-2.6,1.4-3.7,0-3.7,.2-2.7-1.8zM505.8,64.3l1.6,.1 1.1-1.3 1.5-.4 1.2-.8 1.5,.7 1.2-1 1.4,.1 1.2,.7 1.4,.6 1.2-.9 1.4,.5 1.3-.9 1.4,.8-1.4-1.9-1.4-.6-1.5-.4-1.5,.5-1.3-1-1.6-.6-1.5,.2-1.2-.8-1.5,.4-1.1-1.1 .5-1.5 1.6-.1 1.1-1.1 1.7,1.1 1.1-1.1 1.3-.6 1.4,.1 1-1.2 1.9,.8 1-1.3 1.4-.4 1.4,.6 1.1-1.5 1.4,0 1.5,.5 1.2-.9 1.3,.4 1-1 1.1-.2 1.2-.3 1.2-.2 1.3-.7 1.2,.2 1,1.5 1.2,.6 1.3-.6 1.5,.4 1.4-.9 1.5,1 1.4-.5 1.1,.9 1.4-.6 1.2,0 1.1,1.2 1.3-.4 1.2,.9 1.4-.1 1.3,0 1.3-.1 1.4-.2 1.3,0 1.4-.5 1.2,1.1 1.4-.4 1.3,.3 1.3-.3 1.3,.7 1.3-.5 1.3,.1 1.6-.5 1.3,.3 1,1.4 1.4,.2 1.3-.6 1.3,1 1.4-.8 1.3,.6 1.2,.6 1.5-.4 1,1.5 1.4,.1 1.5-.2 1.2-.7 1.6,.3 1.1-.9 1.4,.2 1.2-.8 1.4,.6 1.3-.5 1.3,.2 1.3-1.1 1.4,1.2 1.3-.9 1.4,.6 1.1-1.7 1.3-.4 1.4,.5 1.3-.5 1.3-.1 1.4,.1 1.7,.1 .9,1.4 1.3,.8 1.3,.8 1.4-.4 1.3-.1 1.3-.1 1.2-1 1.4,.3 1.5,.7 1.2-1 1.4,.1 1.4,0 .9,1.7 1.5-.4 1.5-.7 1.1,1.8 1.4-1 1.3,.7 1.3-.1 1.4,.3 1.2,.8 1.3,.2 1.3,0 1.4-.2 1.5-.2 1.3,.3 1.3,.4 1.1,1.2 1.3,.3 1.4,.1 1.4,0 1.3,.4 1.3-.6 1.3-.3 1.3-.2 1.4,.3 1.3,.1 1.3-.7 1.4,.4 1.2-.9 1.3-.3 1.4,.2 1.2,.6 1.2,.8 1.5-.5 1.3,.2 1.4-.7 1.3,.7 1.3,.3 1.3,.2 1.3,0 1.3,.3 1.3-.5 1.4,.8 1.3-1.3 1.3,.8 1.3-.1 1.2-1.2 1.4-.6 1.2,1.1 1.4-.2 1.2,.7 1.5-.3 1.2-.7-.1-1.4 .6-1 1-.9-1.1-.7-.5-1.3-1.1-.6 .6-1.4 1.1-.7 1.2-.6 1.1-.7 1.2,.9 1.6,.1 1.1,1.1 .6,1.2 .8,.9 1.3,.5 .9,1.4 1.9-.5 .8,1.6 1.6,.1 1.2,.9 1.5,.4 1.3,.6 .8,.9 1.3,.5 .5,1.2 1.4-.7 0-1.7 1-1.1 1.2-.8 .4-1.5 1.4,.1 1.2-.4 1.5,.2 1.3-.1 1.2-1.1 1,1.3 1.5,.3 1.4,.5 .7,1.3-1.1,1.2 .4,1.2-.4,1.5-.8,1.2-1.4,.7-1.3-.5-1.4,1.1-1.3-.6-1.3,.1-1.3,.4-1.3-.5-1,.7-.9,.9-1.5-.1-.6,1.2-1.5,.6-.2,1.7-.9,1.1-1.3,.4-1.4,.3-1.3,.4-1.3,.4-1.3,.3-1,.7-1,.7-1,.6-1,.7-.9,.6-1,.7-1,.7-1,.6-.9,1.1-.9,1-.8,1.1-.2,1.3-.2,1.3-.2,1.3 1.1,.9 1.2,.8 1.1,.9 1.1,.9 1.3,.2 1.3,.3 1.4,.2 1.3,.3 1.3,.3 1.3,.3 1.3,.4 1.3,.3 1.4,.3 1.3,.4 1.3,.4 1.3,.5 1.3,.4 1.4,.4 1.3,.3 1.3,.4 1.3,.3 1.3,.3 1.3,.2 1.4,.2 1.3,.1 .2,1.4 .2,1.3 .2,1.3 .2,1.3 1,.9 1.1,.9 1,.9 1.4,.9 1.3,.9 1.4-.5 1.5-.6-.1-1.1-.1-1.2 0-1.2-.1-1.2-.7-1.3-.6-1.3 1.3-.7 1.3-.7 1.3-.6 1.4-.7 .8-.9 .9-.8 .9-.9-.4-1.3-.5-1.3-.4-1.4-.5-1.3-.4-1.3-.4-1.3-.5-1.3-.4-1.3-.5-1.4 .2-1.2 .2-1.2 .2-1.3 1.2,.1 1.2,0 1.3,.1 1.2,0 1.2,.1 1.2,0 1.4,0 1.3,0 1.3,0 1.3,.7 1.3,.6 1.4,.7 1.3,.6 1.5,.5 1.5,.4 1.5,.5 .3,1.7 .4,1.7 1.4,1.8 1.3,.5 1.3,.4 1.3,.4 1.3-.4 1.3-.4 1.4-.5 1-1 .9-.9 1-1 1-1 .7,1.2 .6,1.1 .7,1.2 .7,1.2 .9,.8 1,.8 1,.8 1,.8 .9,1.1 .9,1.2 .8,1.1 1.4,.6 1.3,.6 1.3,.7 1,.6 1,.7 1,.6 1,.7 .9,.8 1,.9 1,.9 1,.8 .9,1.3 .9,1.4-1.1,.3-1.1,.4-1.1,.4-1.1,.4-1.1,.6-1.1,.5-1.1,.5-1.1,.5-1.1,.6-1.1,.5-1.3,0-1.4,0-1.3,0-1.3,0-1.3,0-1.3,0-1.3,0-1.4,0-1.3,0-1.3,0-1.3,0-1.3,0-1.4,0-1.3,.7-1.3,.6-1.3,.7-1.3,.6-1,.9-1,.8-1,.9-1,.9-1,.8-1.1,.9-1,.9 1.5-.7 1.6-.6 1.3-.8 1.4-.8 1.3-.8 1.3-.6 1.3-.6 1.3-.6 1.3-.6 1.5,.2 1.4,.2 1.5,.2 1.4,.2-.9,1.1-.9,1 .5,1.5 .6,1.4 .7,1.1 .8,1 1.4,.3 1.3,.2 1.3,.2 1.3,.2 1.3,.2 1.3-.2 1.4-.2 1.3-.1-1.3,1-1.4,1.1-1.3,.3-1.3,.3-1.3,.3-1.3,.3-1.3,.4-1.2,.5-1.2,.5-1.1,.5-1.2,.6-1.1,.5-.6-1.2-.5-1.2 1.4-.7 1.4-.7 1.4-.7-1.3,.1-1.3,.1-1.3,.1-1.5,.6-1.4,.7-1.3,.3-1.2,.4-1.2,.3-1.3,.6-1.4,.5-1.3,.5-.9,1.1-.9,1 .2,1.9 1.6,.5 0,.8-1.3,.3-1.3,.2-1.3,.3-1.3,.3-1.4,.2-1.3,.5-1.3,.4-1.3,.4 0,1.9-1.3,1.8-1.4,1.1-.5,1.2-.5,1.2-.8,2.1-.8,.8 .4,1.1 .3,1.1 .4,1.2 .2,1-1.3,.7-1.3,.6-1.1,.7-1.2,.6-1.1,.6-1.6,.7-1.6,.6-1.2,.9-1.2,1-.9,.8-1,.9-1,.9-.3,1.1-.4,1.2-.3,1.1 .2,1.3 .3,1.4 .8,1.4 .8,1.5 .4,1.4 .5,1.4 .4,1.4-.1,1.6-.2,1.5-1.5,1.1-1.4-1.9-.7-.9-.8-.9-1-1.5-.9-1.4-.1-1.3-.1-1.3-1.4-1.6-1-.9-1.1-1-1.6,.4-1.5,.4-1.4-.9-1.3-.9-1.7,.1-1.7,.1-1.3-.1-1.3-.1-1.4,.2-1.3,.3 .4,1.2 .4,1.2-1.3,.2-1.3,.3-1.2-.3-1.1-.4-1.1-.3-1.4-.2-1.3-.2-1.3-.2-1.3,.2-1.3,.2-1.3,.2-1.4,.9-1.3,.9-1.1,.6-1.2,.6-1.1,.6-.7,1.1-.6,1.1-.2,1.7-.1,1.7-.2,1.3-.1,1.3-.2,1.3-.1,1.3-.1,1.4 0,1.3-.1,1.3 .5,1.3 .4,1.3 .4,1.4 .7,1.2 .6,1.2 .6,1.2 1.3,1.6 1.3,.7 1.3,.6 1.9,.8 1.3-.2 1.3-.3 1.3-.3 1.7-.1 1.8-.1 .9-.9 .9-1 .5-1.5 .6-1.6 1-1.9 1.3-.2 1.3-.3 1.4-.3 1.3,0 1.3,0 1.3,0 .3,1.4 .2,1.3-.7,1.3-.8,1.3-.6,1.6-.5,1.6-.4,1.1-.5,1.2-.4,1.1-.4,1.3-.4,1.3 1.5,.3 1.4,.3 1.3-.1 1.3-.1 1.4-.1 1.3,.1 1.3,.1 1.3,.1 1.1,.7 1,.7 1.1,.7-.2,1.3-.2,1.3-.2,1.3 0,1.3-.1,1.4-.1,1.3-.3,1.3-.2,1.3 .7,1.1 .8,1 1.2,1.3 1.2,1.4 1.2,.5 1.2,.5 1.2-.4 1.2-.5 1.3-.4 1.3-.3 1.3-.2 1.1,.6 1,.6 1.1,.6 2.1,.8 .9-.9 .9-.9 .6-1.1 .6-1.1 .7-1 1-.8 1.1-.8 1.7-.4 1.7-.4 1.6-.8 1.6-.8 1-.6 1.1-.7 1.3,1.9 2.1,.2 .5-1.6 1.3,1.9 1.1,.6 1.1,.6 1,.6 1.7,.3 1.7,.3 1.3,.3 1.4,.4 1.3,.3 1.1-.3 1.2-.4 1.1-.3 1.5-.1 1.5-.1 1.5-.1 1.8,0-.5,1.8 1.3,.7 1.3,.7 1,1.2 .9,1.1 1,.7 .9,.7 1,.7 1.2,1.4 1.2,1.3 1,.7 1.1,.7 1,.7 1.4,.1 1.4,.1 1.4,.1 1.4,.2 1.3,.3 1.3,.2 1.3,.4 1.3,.3 1.3,.4 .9,.9 .9,.9 .9,.8 .6,1.6 .7,1.6 .6,1.1 .6,1 .6,1.1 .4,1.7 .4,1.7 .9,.9 .9,.8 .9,.9 .8,.9 .8,1 1.2-.5 1.2-.4 1.2-.5 1.4,.6 1.3,.5 1.3,.5 1.1,1.1 1,1 1.1,1.1 1.7,0 1.7,0 1.3,.3 1.3,.4 1.3,.3 1.4,0 1.3-.1 1.3-.1 1.3,.8 1.3,.8 1.3,.8 1.2,.8 1.1,.9 1.2,.9 1.5,.3 1.5,.4 1.5,.3 .3,1.3 .4,1.2 .3,1.2 .4,1.4 .4,1.3-.4,1.3-.3,1.3-.4,1.3-.8,1.3-.9,1.2-.9,1.2-1,1-.9,.9-1,1-.8,1-.8,1-.8,1-.8,1-.4,1.3-.4,1.3-.5,1.3 0,1.3 0,1.4 0,1.3-.2,1.2-.2,1.1-.2,1.2-.2,1.2-.4,1.5-.4,1.5-.5,1.5-.9,1.3-.9,1.3-.5,1.4-.4,1.3-.4,1.3-1.4,1.2-1.3,1.2-1.3,0-1.3,.1-1.3,.1-1.6,.4-1.6,.4-1.2,.5-1.2,.4-1.2,.5-1.1,.5-1.2,.7-1.1,.8-1.2,.8-.9,1.3-.9,1.4-.1,1.4-.1,1.4-.1,1.4-.2,1.4-.3,1.5-1.3,1-1.3,1.1-.7,1-.7,.9-.7,1-.8,1-.8,1.1-.8,1.1-.9,1.1-.9,1.1-.9,1.2-1.3,1-1.3,1.1-1.2,1-1.2,.9-1.3,1-1.7,0-1.7,0-1.1-.5-1.2-.4-1.1-.4-1.3-.2-1.4-.1 1.4,1.9 1,.6 1.1,.7 .6,1.2 .7,1.1-.6,1.2-.6,1.1-.6,1.1-.6,1.1-1.2,.5-1.3,.6-1.2,.5-1.3,.1-1.3,.2-1.3,.1-1.4,.1-1.7-.1-1.7-.1 .3,1.5 .2,1.6-1,2.1-1.3,0-1.3,0-1.4,0-1.3,0-1.3,1.9 1.3,.8 1.3,.8 .8,1.8-1.4,.3-1.5,.2-.3,1.4-.4,1.3-.3,1.3-1.2,.4-1.1,.5-1.2,.4-.8,.9-.9,.9-.9,.8 .9,1.4 1,1.3 1.1,1 1.2,1.1-1,.8-1.1,.8-1,.8-1.1,.7-.9,1.1-.8,1.1-.9,1-.9,1.1-1,1 .7,1.2 .7,1.1 .7,1.1-1.4,.3-1.5,.3-1.1,.9-.8,1.3-1.5,.4-1.8,.8-1.4-.6-1.3-.7-.9-1.5-1.9,.5-1.1-1.1-1.1-.8 .1-1.5-1.3-.5-.4-1.2-1-1.1 .4-1.5-.1-1.3-.9-1.3 1.2-1.5-.9-1.2 1.7-.8 .4-1.8-.9-.9-1.2-.4 1.4-.4-.3-2 1.6-.3 1.1-.6 .2-1.3 1.3-.6 0-1.4 1.4-1-.6-1.9 1-1.1-1.1-.7-.7-1.1 .1-1.2-.4-1.2-.1-1.2-.1-1.2 .1-1.3 .2-1.3 .2-1.3 .2-1.3 .2-1.4 .1-1.3 .8-1.3 .8-1.3 .8-1.3 .5-1.3 .6-1.4 .5-1.3 .2-1.3 .3-1.3 .3-1.3 .1-1.4 0-1.3 .1-1.3 0-1.3 0-1.3 0-1.3 .4-1.4 .3-1.3 .4-1.3 .3-1.3 .2-1.3 .3-1.4 .2-1.3 .1-1.3 .2-1.3 0-1.3 0-1.3 0-1.4 .3-1.3 .2-1.3 .3-1.3 .1-1.3 .1-1.3 .1-1.4-.2-1.3-.1-1.3-.1-1.3-.2-1.3-1.3-1.1-1.3-1-1.1-.9-1-.9-1.1-.9-1.3-.7-1.3-.7-1.3-.7-1-.7-1-.7-1-.8-1-.7-.7-1.1-.7-1.2-.7-1.1-.6-1.3-.7-1.4-.9-1.3-.9-1.3-.7-1.3-.6-1.3-.6-1.3-.7-1.4-.7-1.3-.7-1.3-.7-1.3-.7-1.3-.7-1.3-1.1-.9-1-.9-1.1-.9-.5-2.1-.1-1.2-.2-1.2 1.4-1.1 1.3-1.2 .4-1.2 .4-1.2-1.2-.4-1.2-.4 .1-1.6 .2-1.6 .9-1.3 .9-1.3 .3-2.1 1.3-.5 1.3-.6 .7-1 .6-1.1 .7-1 .6-.9 .7-1 .7-1 .2-1.3 .3-1.4-.1-1.3-.1-1.3-.1-1.3-.5-1.6-.5-1.6-1-1.3-.9-1.3-1.3-.9-1.3-1-.9,.8-1,.8-.4,1.2-.3,1.2-1.4-.5-1.3-.6-1.3-.5-1.3-.5-1.3-.4-1.4-.4-.6-1.3-.7-1.3-1.3-.6-1.3-.5-1.1-.8-1-.8 0-2.1-1.2-1.2-1.2-1.2-1.2-1-1.2-1.1-1.1-.2-1.2-.3-1.7-.4-1.8-.4-1.5-.5-1.6-.5-1.6-.8-1.6-.8-1.1-1-1.2-.9-1.1-1-1.3-.8-1.3-.8-1.4,.5-1.3,.6-1.3,.1-1.3,.1-1.3-.3-1.4-.4-1.3-.3-1.3-.5-1.3-.4-1.3-.4-1.3-.7-1.4-.6-1.3-.6-1.3-.5-1.3-.5-1.3-.6-1.6-.8-1.6-.8-1-.7-.9-.7-1-.7-.8-.9-.8-1-.8-1 .6-1.4 .5-1.5-.7-1.3-.6-1.3-1-1.1-.9-1-.9-1.1-.8-1-.9-1.1-1.3-1-1.3-1.1-1.1-.9-1.1-.9-.6-1.1-.7-1-1-1.3-1.1-1.4-1.2-.9-1.2-.9-.9-1.1-.9-1-.8-1.6-.8-1.6-.9-1-.9-1.1-1.2-.4-1.1-.5-1.2-.4 0,1.3 0,1.3 .8,1.5 .8,1.4 1.3,1.2 1.4,1.2 .6,1.1 .6,1.2 .6,1.1 .8,1.1 .8,1 .8,1.1 .4,1.1 .5,1.2 .4,1.1 1.1,1.1 1,1 1.3,1.9-.2,1.5-1.6-1.5-1-.9-1-.9-.9-.9-.7-1.3-.6-1.3-1-1.3-.9-1.3-1-.7-1.1-.7-1-.7-.8-1.9 .1-1.3 .1-1.3-1.1-.9-1.2-.9-1.1-.9-.9-1.3-.9-1.3-.7-1.3-.7-1.3-.6-1.1-.7-1-1-1.6-2.1-1.1-2.1-1-1.3-.4-1.2-.3-1.2-.4-.3-1.2-.3-1.2-.9-.9-1-1-1-1-1.3-1.8-.5-1.8-1.6-1.6-.8-1.6-.8-1.6-1.6-1.6 .2-1.2 .2-1.2 .2-1.3-.4-1.3-.4-1.3 .3-1.5 .4-1.5 .3-1.5 .1-1.5 .1-1.5 .1-1.5-.3-1.4-.2-1.5-.7-1.4-.6-1.5 1.4-.3 1.2,.9 1.3,.2 1.9-.5-.8-1.8-1.1-1.9-1.1-.4-1.3-.1-1-.8-1.3-.4-1.4-.4-1.4,0-1.3-.7-1.2-.6-.1-1.5-.9-.9-1.1-.8-1-1-.9-1.1-.6-1.1-1.2-.6-.8-.9-1.2-.4-.9-.9-.6-1.6-1.2-1.1-1-.7-.5-1.3-1.2-.6-1.2-.4-.3-1.7-1.9,.8-.5-1.3-1.4-1.2-1.3-1.2-1.3-.3-1.3,0-1.3,0-1.2-.8-1.6,1.1-1.2-1.1-1.3-.6-1.3-.6-1-1.2-1.7,.1-1.3-.2-1.3-.2-1.3-.2-1.3-.2-1.3,0-1.4,0-1.3,0-1.3,0-1.3-.4-1.3-.3-1.3-.3-1.4-.3-1.3-.4-1.3-.4-1.3-.3-1.3,.3-1.4,.4-1.3,.4-1.1,.7-1.2,.7-1.1,.7-1.5,.4-1.5,.4-1.5,.5-.2-1.7-.3-1.7 1.3-.7 1.3-.6 1.3-.6-1.1,.5-1.2,.4-1.2,.5-1.2,.5-.9,.8-.9,.9-.8,.9-1.3,1-1.4,1.1-1.3,.9-1.3,.9-1,.7-1,.7-1,.6-1,.7-1.3,.6-1.3,.7-1.3,.7-1.3,.6-1.3,.3-1.4,.4-1.3,.3-1.3,.3-1.3,.5-1.3,.4-1.4,.4-1.3,.3-1.3,.3-1.3,.2-1.3,.3-2.1,.3 1.1-.6 1.2-.5 1.1-.5 1.3-.5 1.3-.6 1.3-.5 1.4-.4 1.3-.5 1.3-.4 1.1-.6 1-.6 1.1-.6 1-.5 1.1-.6 .9-.9 .8-.9 .9-.9-1.3-.6-1.3-.7-1.3,.1-1.4,.1-1.3,.1-1.2,.1-1.2,0-1.1,.1-1.2,.1-.3-1.6-.3-1.6-1.3-.2-1.3-.2-1.3-.1-1.3-.5-1.3-.4-1.4-.4-.6-1.1-.7-1.1 .6-1 .7-1.1 .6-1 .8-1.9 1.3-.2 1.3-.2 1.3-.2 1.3-.2 1.3,0 1.4-.1 1.3-.1 .5-1.9-1.8-.5-1.4-.1-1.3-.1-1.3-.1-1.3,.1-1.3,.1-1.3,0-1.4,.1-1.3-.2-1.3-.1-1.3-.2-1.3-1.3-1.3-1zM299.7,295.2l-.6,3.9 .8,4 .8,3.4 .5,4 1.6,4.5 .6,2.9 1.5,3.6-.2,3.5-1.6,.8 .3,1.8 3.6,1.9 3.7,.2 2.9-1.6 2.7-1.5 3.9-.3 5.3,.3 2.6-2.4 4-1.9 3.9-.2 4-1.6 5.3-.3 3.9,1.3 3.4,.3 1.9,2.4 2.1,4.2 1.8-.3 2.7-2.6 2.1-2.4-.8,3.5 0,2.6 1.3-.8 1.3,.5-.5,2.1 2.6,.6 .8,2.6 2.7,3.2 3.7,1 3.9,1.1 2.6-1.6 1.1-.8 1.6,1.3 2.4,1.9 2.1-1.9 1.8-1.3 2.9-.5 2.4-.6 .5-2.6 .3-2.1 1.5-2.4 1.1-2.3 1.6-2.7 1.8-1.6 1.3-3.4 .3-2.1 1.3-4.2-.5-2.9-.8-4-.8-1.8-2.1-1.3-2.6-3.5-1.1-2.3-2.9-1.1-1.3-3.1-1.8-2.2-4-2.6-1.6-2.6-.5-3.2-1.6-2.1 0-3.2-2.4-1.8-2.3-.8-.3-3.2-1.8-3.1-.8-2.4-1.1,1.6-1.3,4.2-.3,4.2 0,2.7-1.3,3.4-.5,1.8-3.4,.3-2.7-2.1-2.6-1.6-2.6-1.6-2.7-1.6 .6-2.6 .7-1.3 2.2-3.2-2.2-1-2.6,.8-3.9-1.4-2.7-.5-1.3,1.9-2.6,0-1.4,1.3-1.3,2.1-1.3,3.7-2.6,0-1.3,.2-1.4-2.1-2.6-.5-1.8,1.6-2.1,2.4-2.2,2.1-1.8,1.8-1.8-.5-1.6,3.1-2.1,2.7-2.4,2.1-4,1-3.9,1.1-2.7,.3-2.6,2.1-2.4,.8-1.3,1.8zM834.2,79.6l-1.5-.1-1.5,.3-1-1.5-1.6,.3-.8-2-1.5,.4-1.2-1-1.8,1.3-1-1.4 .2-1.9-2.6,.6-.2-1.6-1.6-.5-.1-1.7-1-1-.2-1.4-.6-1.2-1.3-.8 0-1.4-1.1-.8-.7-.9-.9-.9-1-.8-.8-1-1.9-.7 .6-1.9 .8-1.7 1.9-.4 1.1-1.4 1.5-.7-1.5,1.2-1-2.4-1.5,.6-1-1.2-1.7,.9-.9-1.9-1.6,.9 1.3-1.6-.6-1.9-2,.4-1.1-1.3-1.1-1.4-.8-1.4-1-1.2-2.1-.1-.5-2-1.6-.8-1.1-1.3-1.3-.5-1.3-.6-1-1.2-1.6,.2-1.2-1.6-1.4,.4-1.5,1.2-1.1-1.5-1.4,.7-1.4-.4-1.3-1-1.2,2.5-1.4-2-1.3,.4-1.3,.7-1.4,1-1.3-1.1-1.4,.8-1.2-.7-1.3-.5-1.5,.4-.9-2.2-1.6,.9-1.3-.4-1.3-.8-1.3-.8-1.6,.5-.5-1.9-1.4-.2 .8-1.6 1.3-.6 1.7,1.1 1.1-1.3 1.2-.7 1.5,.1 1.4,.1 .8-2.2 1.7,.9 .8-2 1.7,1 1.3-.6 1.3-.4 1.3-.4 1.3-.4 1.4,.2 1.6,.6 1.1-1.1 1.4,.3 1.2-.8 1.3-.6 1.6,.8 .7-2.9 1.9,1.8 .9-1.7 1.5,.1 1.2,.6 1.1-1.8 1.2,.6 1.3,1.4 1.1-2.1 1.2-.4 1.2,.1 1.3,.9 1.2,1.1 1.2-.2 1.2-.9 1.1-1.3 1.2,1 1.3,1 1.1-2 1.2,.6 1.2,.2 1.3,.5 1.2-.2 1.2,.5 1.2,.5 1.1-1.4 1.2-1.1 1.2,1.1 1.2-.3 1.2,.7 1.2-1.3 1.3,2 1.1-1 1.3,.9 1.2-.3 1.1-2.5 1.2,1.3 1.2-.5 1.2,.6 1.2-.3 1.2-1.1 1.2,1.5 1.2-.7 1.2-.4 1.2,.9 1.2-.5 1.2-.7 1.2,.7 1.1-1.3 1.4,2 1-2.3 1.4,2.5 1-2.3 1.2-.2 1.4,1.8 1.1-.9 1.1-1.3 1.4,2.2 1.1-1.5 1.2-.4 1.2-.5 1.2,.8 1.2-.6 1.2,1.5 1.2,0 1.2-.4 1.2,.5 1.2-.5 1.2-1.7 1.1,1.3 1.3-.2 1.1,.8 1.2,.2 1.3-1.9 1.1,1.6 1.3-1.5 1.1,1.4 1.2,.1 1.3-1 1.2,.5 1.1,.7 1.4,0 1.2,.7 1.6-1.1 1.1,1.6 1.5-1.3 1.1,1.5 .8,1.7 1.9-.4-1.4,0-1.3,.5-1.1,1.4-1.6-1.7-1.1,1.8-1.4-.7 1.2-.5 1.2,0 1.2,.3 1.2-1 1.1,1.9 1.2-.1 1.2,.6 1.2,.5 1.2-.4 1.3-2 1.1,1.2 1.3-1.1 1.5,2.1 1.2-1.6 1.3,.3 1.3-.4 1.3-.3 1.4,.9 1.3-.7 1.3-1.3 1.3,1.4 1.3-.4 1.4-.1 1.3,1.4 1.3-1-1.8-.6-.9,1.5-1,1.4-1.2,.7-1.7-.3-1.2,.9-1.7-1.5-.8,2.5-1.4,0-1.3,.5-1.5-.8-1.3,.7-.8,1.7-1.9-.3-1.8,1 .5,2.1-.1,1.9 .9,.9 1.9-.1-1.4,0-1,.7-1.1,.5-.5,1.4 .8,1.2 .5,1.4-1.9-.4-.6,2.1-1.4,.4-1.7,.5 .3,2-1.3,.7-2.1-.2-.5,2.1 1,1.4 1.6,.7 .5,1.8-1.8,.8-1.3,.4-1.1,1-1.5-.6-.8,1.1-1.2,.6-1.7-.2-.4,1.6-1.2,.6-1.6-1.1-.9,2.5-1.2,.7-1.4-.1-1.8-2-1,1.6-1.4-.4-1.3,0-1.4-.4-1.2,1.5-1.3-.2-1.1,1.1-1.7-1-.9,1.9-1.6-.7-.5,1.4-2.1-.8 .1,2.2-1.4,.1-1,1.4-1.9-1.5-1,1.4-1.3,.6-1.4-.1-1.3,.7-1.6-1.1-1,1.9-1.4-.1-1.1,1.4-1.5,.9 .2,1.8-1.5,.9-.8,1.8-1.9,.5-1.1,1.3-.2,1.6-.1,1.5-1.2,.9zM619.4,48.8l18.4,2.6 34.3,2.4 23.7-1.6 15.8-3.4 10.6-6.6 15.8-1.1 7.9-4.2 13.2-6.6 15.8-5.3 15.8-4.7-26.4-2.1-52.7,1.6-39.5,5.2-29,5.3-18.5,5.3-7.9,6.6zM-948.8,474.4l0-52.7 1.7-.4 1.6,.5 1.6,.7 1.7-.1 1.6,.1 1.7,0 1.6-.7 1.7,.7 1.7,.6 1.6-.6 1.6-.8 1.6-.1 1.7,.2 1.7,.8 1.6-.5 1.6-.4 1.7-.6 1.7-.2 1.6,.6 1.6,1.1 1.7-1.3 1.6,1.4 1.7-.2 1.6-.3 1.7,.2 1.6-.1 1.7,.4 1.6-.2 1.6-1.1 1.7,1.2 1.7-.6 1.6-.3 1.6,1 1.7-.7 1.6,.9 1.6,.2 1.8-1.3 1.5,1.2 1.8-1 1.6,.8 1.7,.2 1.5-1.2 1.7,.5 1.6-.7 1.6-.7 1.8,1.2 1.6-1 1.7,.1 1.6,.6 1.5-.9 1.7,.4 1.4-1.3 1.7,.4 1.9,.2 1.6-1 1.7-.5 1.5,.9 1.7-.6 1.6-.6 1.6,.4 1.5,.7 1.8-.4 1.6-1.3 1.9,.3 1.7-.3 1.7,.1 1.7-.1 1.4-1.6 1.9,.9 1.4-1.2 1.6-.7 1.8,.3 1.7,0 1.3-1.3 1.9,.7 1.6-.3 1.4-1.2 1.7-.7 1.8,.1 1.8-.5 1.4-1 1.6-.2 1.6,.1 1.6-.2 1.7,.3 1.8,.2 1.8,.4 1.6,1 1.6,.5 1.7-1 1.6,.6 1.5,.1 1.5,.8 1.7,1 1.8-.2 1.8-.1 1.8-.9 1.7,.8 1.8,.2 1.8-.2 1.7,.5 1.8,.2 1.7,.1 1.8,0 1.7,.2 1.8-.3 1.5,.4 1.7,.2 1.5,.6 1.4,.9 .7,2.3 2,1.2 1.7,.5 1.8,.2 1.7-.2 1.9,.4 1.5-1.8 1.9,.6 1-1.4 1.7-.4 1.6-.3 1.7,.3 1.4-.9 1.7-.1 1.5-.9 1.8-.2 1.7-.6 1.7-.5 1.3-1.4 1.9,.5 1.8,.1 1.4-1.1 1.5-.7 1.6-.1 1.6,.1 1.7,.2 1.4-1.8 1.6,.8 1.7,.9 1.9-1 1.7,.6 1.8-.3 1.6-.8 1.9,.3 1.5-.6 1.8,.8 1.6-.3 1.6-.4 1.4-1.1 1.5-.6 1.8,.7 1.5-.2 1.6-.7 1.5-.5 1.4,1.2 2-1.3 1.4,.8 1.6,.5 1.5,.7 1.8-.3 1.9-.1 1.6,1.1 2,.1 1.3-1.8 2-.1 1.7-.3 1.4,.9 1.5,.8 1.8-.7 1.5,.9 1.7,.7 1.8-1.5 1.7,1.4 1.8-1 1.8,.3 1.7,.3 1.6-.3 1.5-.3 1.7,1 1.6-.2 1.5-.9 1.7,0 1.5,.5 1.4,1.1 1.9-.8 1.4,1 1.8-.6 1.8,.2 1.7,.7 1.6,.5 1.5-1.4 1.6,.7 1.6-.8 1.6,.4 1.7-.5 1.8,.1 1.8,0 1.7,.1 1.8-.1 1.7-.1 1.7-.2 1.6-.8 1.7,1.7 1.6-1.6 1.6-.2 1.7,.3 1.6-.4 1.7,.7 1.8,.1 1.7-.5 1.8,.3 1.7,.4 1.8,.2 1.8-.5 1.6-.6 1.5,1.6 1.7-1.2 1.6-.1 1.5,1.1 1.5,.2 1.6,.6 1.6-.5 1.6,.1 1.6,.4 1.5,.5 1.7-.2 1.7,.2 1.5,.5 1.5,.8 1.5,1 1.7-1.4 1.5,1.2 1.7-.9 1.5,.9 1.7,.6 1.9-.3 1.6,.8 1.9-.1 1.7,.1 1.7,.7 1.9,0 1.7,.7 1.7,.5 1.7,.6 1.9,.1 1.7,.8 1.7-.2 1.2,1.7 1.7,0 1.6,.5 1.7-.2 1.5,.5 1.6,.5 1.6,.1 1.5,.5 1.7,0 1.6-.8 1.5,1.2 1.6-.8 1.6,.6 1.6-.2 1.6,.6 1.5-.5 1.6-.5 1.6,1.2 1.6-.5 1.7-.6 1.3,1.8 1.8-1 1.6,.1 1.5,.7 1.8-.6 1.7,.8 1.8,.3-1.2,1.5-1.5,1.2-1.7,0-1.2,1.5-1.7,.1-1.9-.6-1.4,1.1-1.7,1-1.7,.9-1.8,.7-1.5,1.5-2.3-.2-1.5,1.4-1.5,1-1.1,1.3 1.6,.4 1.5,.7 .8,1.6 1.5,1 1.9-.9 1.4,1.6 1.8-.4 1.7,.4 1.8-.9 1.8,.4 1.7,1 1.8-.7 1.7,.1 1.7,.3 1.6,.7 1.7-.4 1.6-.4 1.7,.2 1.6,.3 1.6,.6 1.7-.8 1.7,0 1.6-.5 1.7,0 1.6,1.4 1.6-.3 1.7-.3 1.6,.1 1.7-.2 1.6,.2 1.7,.1 1.6-.6 1.7,0 1.6,.2 1.7,.4 1.6-.5 1.7,.5 1.6,0 1.7,.8 1.6,.2 1.7-1.6 1.6,1.3 1.6,.3 1.7-.8 1.6,.1 1.7-.9 1.6,1.6 1.7-1.2 1.6,1.4 1.7,0 1.6-.5 1.7-.6 1.6,.4 1.6-.8 1.8,1.5 1.6-.7 1.6,0 1.7,0 1.7,.2 1.5-1.4 1.7,.4 1.5-1.4 2.2,1.1 1.6-1.2 1.7,0 1.3-1.5 1.9,1.1 1.2-2.1 1.8,.4 1.6-.2 1.7,.1 1.6-.5 1.8,.5 1.6-.8 1.6-.3 1.6-.5 1.7-.2 1.7,.3 1.7,0 1.4-1.7 1.8,.7 1.7,0 1.5-.7 1.6-1 1.7,.6 1.6-.8 1.7,.5 1.8,.5 1.6-.1 1.5-1.7 1.7,.7 1.7-.3 1.6-.2 1.7,.6 1.6-1 1.6-.6 1.7,0 1.6-.5 1.7,1 1.7-.1 1.6-.4 1.6-.4 1.7,.8 1.6-.1 1.7-.3 1.6-1 1.7,0 1.6,1.1 1.7-.4 1.6-.6 1.7,1 1.6-1 1.7,.6 1.6-1.3 1.7,1 1.6,.3 1.6-.8 1.7,.2 1.6-.8 1.7,1.2 1.6-1.2 1.7,1.2 1.7-.1 1.6-.6 1.6-.4 1.7-.3 1.7,.9 1.6-.5 1.6-1.1 1.6-.3 1.7,1.2 1.6-1.2 1.7,.5 1.7,.1 1.6,.8 1.6,0 1.7-.9 1.6-.2 1.7,1 1.6-.9 1.7,.4 1.5-.9 1.8,.2 1.6-.3 1.7-.1 1.7,0 1.5-1.3 1.9,.8 1.5-1.1 1.6,0 1.6,.2 1.4,1.1 1.7-.3 1.6,.1 1.6,1.1 1.8,.8 1.8,.7 1.5-.7 1.8,.9 1.4-1.7 1.7,1.1 1.5-.6 1.8-.8 1.8,1.1 1.7,.1 1.8-.3 1.7-1.4 1.8,.8 1.7,.3 1.6-1.1 1.7,1 1.6,.1 1.6-1.7 1.6,.1 1.7,.9 1.7-.4 1.7,.3 1.8-1 1.7,1.1 1.8-.2 1.8-.7 1.7,.7 1.4-1 1.9,.9 1.4-1.3 1.7,.4 1.5-.6 1.5-1.5 1.7-.9 2.1-.5 1.3-1.2 1.9,.1 1.3-1.4 1.5-.7 1.9,.1 1.7-.8 2.1,.1 1.5-1.4 1.5-1.4 1.9-.6 1.8-.7 2-.7 1.9-.8 1.4-1.6 2-.1 1.6-1.1 1.7-.9 2.1-.1 1.1-2.1 2.1-.2 1.9,.1 1.6-1.3 1.7-.6 1.7-.9 1.7-.5 1.9,.3 1.5-1.3 2,.3 1.8-.3 1.7-.5 1.9,0 1.6-1.1 2-.1 2-.2-1.4,.9-1.7,.2-.9,1.6-2.1,.4-1.3,1.8-1.8,.9 0,1.9-1.7,1.4 .3,2-.1,1.8-1.3,1.6 .1,1.9-.7,1.7 .3,1.9-.9,1.6 .1,1.8-.6,1.7 0,1.8 .6,1.7 .9,1.4 1.6,.9 1.8,.8 1.5,1.3 2,.4 1.3,1.4 1.8,.5 1.9-.5 1.8,.3 1.4,1.9 1.9-.1 1.8,0 1.6,1.1 1.8-.1 1.8,0 1.7,.8 1.9-.8 1.7,.4 1.7,.2 1.6-.4 1.6,.9 1.7,.1 1.6,.6 1.8-1.4 1.5,1 1.7,0 1.6,.7 1.7-.4 1.7-.8 1.6,1.5 1.7-1.2 1.5,1.5 1.8-1.2 1.6,.7 1.7-.6 1.8,1.1 1.7-.3 1.8-.6 1.8,.9 1.7-.2 1.4-1.2 1.6-.4 2,.5 1.1-1.8 1.8,0 1.9,.3 1.5-.8 1.4-1.2 1.4-1 1.7,0 1.6-.5 1.5-.8 1.5-.7 1.9,.4 1.4-1 1.8-.1 1.4-1 1.7,0 1.5-1 1.5-.5 1.7-.8 2.1,.4 1.5-1.3 1.7-.6 1.6-1 2,.1 1.6-.9 1.9,.1 1.7-.5 1.7-.7 1.7-.5 1.9,.4 1.9,.5 1.7-.7 1.6-1.3 2,1.1 1.7-.9 1.7-.6 1.6-1.1 2,1 1.8-.2 1.5-1.4 1.8-.1 1.8-.3 1.8,.3 1.8,0 1.6-1.6 2,1.4 1.5-1.6 1.9,.2 1.8,.4 1.7-.2 1.7-.8 1.9,.6 1.6-1.5 1.8,.2 0,52.7zM0,474.4l0-52.7 1.7-.4 1.6,.5 1.6,.7 1.7-.1 1.6,.1 1.7,0 1.7-.7 1.6,.7 1.7,.6 1.6-.6 1.6-.8 1.6-.1 1.7,.2 1.7,.8 1.6-.5 1.7-.4 1.6-.6 1.7-.2 1.6,.6 1.6,1.1 1.7-1.3 1.6,1.4 1.7-.2 1.6-.3 1.7,.2 1.6-.1 1.7,.4 1.6-.2 1.7-1.1 1.6,1.2 1.7-.6 1.6-.3 1.6,1 1.7-.7 1.6,.9 1.6,.2 1.8-1.3 1.6,1.2 1.7-1 1.6,.8 1.7,.2 1.5-1.2 1.7,.5 1.6-.7 1.6-.7 1.8,1.2 1.6-1 1.7,.1 1.6,.6 1.5-.9 1.7,.4 1.4-1.3 1.7,.4 1.9,.2 1.6-1 1.7-.5 1.5,.9 1.7-.6 1.7-.6 1.5,.4 1.6,.7 1.7-.4 1.6-1.3 1.9,.3 1.7-.3 1.7,.1 1.7-.1 1.4-1.6 1.9,.9 1.5-1.2 1.5-.7 1.8,.3 1.7,0 1.3-1.3 1.9,.7 1.6-.3 1.4-1.2 1.7-.7 1.8,.1 1.8-.5 1.5-1 1.5-.2 1.7,.1 1.5-.2 1.7,.3 1.8,.2 1.8,.4 1.7,1 1.5,.5 1.7-1 1.6,.6 1.6,.1 1.5,.8 1.7,1 1.7-.2 1.8-.1 1.8-.9 1.8,.8 1.7,.2 1.8-.2 1.7,.5 1.8,.2 1.7,.1 1.8,0 1.7,.2 1.8-.3 1.6,.4 1.6,.2 1.5,.6 1.5,.9 .6,2.3 2,1.2 1.7,.5 1.8,.2 1.8-.2 1.8,.4 1.5-1.8 1.9,.6 1-1.4 1.7-.4 1.6-.3 1.7,.3 1.5-.9 1.6-.1 1.5-.9 1.8-.2 1.7-.6 1.7-.5 1.3-1.4 1.9,.5 1.8,.1 1.5-1.1 1.5-.7 1.5-.1 1.7,.1 1.6,.2 1.4-1.8 1.7,.8 1.6,.9 1.9-1 1.7,.6 1.8-.3 1.7-.8 1.8,.3 1.5-.6 1.8,.8 1.6-.3 1.6-.4 1.4-1.1 1.5-.6 1.8,.7 1.6-.2 1.5-.7 1.5-.5 1.4,1.2 2-1.3 1.4,.8 1.6,.5 1.5,.7 1.9-.3 1.8-.1 1.6,1.1 2,.1 1.3-1.8 2-.1 1.7-.3 1.4,.9 1.5,.8 1.8-.7 1.5,.9 1.7,.7 1.8-1.5 1.7,1.4 1.8-1 1.8,.3 1.7,.3 1.6-.3 1.5-.3 1.7,1 1.6-.2 1.5-.9 1.7,0 1.5,.5 1.4,1.1 1.9-.8 1.4,1 1.8-.6 1.8,.2 1.7,.7 1.6,.5 1.5-1.4 1.7,.7 1.5-.8 1.6,.4 1.7-.5 1.8,.1 1.8,0 1.7,.1 1.8-.1 1.8-.1 1.6-.2 1.6-.8 1.7,1.7 1.6-1.6 1.7-.2 1.6,.3 1.7-.4 1.6,.7 1.8,.1 1.7-.5 1.8,.3 1.8,.4 1.7,.2 1.8-.5 1.6-.6 1.5,1.6 1.7-1.2 1.6-.1 1.5,1.1 1.6,.2 1.5,.6 1.6-.5 1.6,.1 1.6,.4 1.5,.5 1.7-.2 1.7,.2 1.5,.5 1.5,.8 1.5,1 1.7-1.4 1.5,1.2 1.7-.9 1.5,.9 1.7,.6 1.9-.3 1.6,.8 1.9-.1 1.8,.1 1.6,.7 1.9,0 1.7,.7 1.8,.5 1.7,.6 1.8,.1 1.7,.8 1.7-.2 1.3,1.7 1.6,0 1.6,.5 1.7-.2 1.5,.5 1.6,.5 1.6,.1 1.6,.5 1.6,0 1.6-.8 1.6,1.2 1.5-.8 1.6,.6 1.6-.2 1.6,.6 1.6-.5 1.6-.5 1.5,1.2 1.6-.5 1.7-.6 1.4,1.8 1.7-1 1.6,.1 1.5,.7 1.9-.6 1.7,.8 1.7,.3-1.2,1.5-1.4,1.2-1.7,0-1.3,1.5-1.7,.1-1.9-.6-1.4,1.1-1.7,1-1.7,.9-1.8,.7-1.5,1.5-2.3-.2-1.5,1.4-1.5,1-1.1,1.3 1.7,.4 1.4,.7 .8,1.6 1.5,1 1.9-.9 1.4,1.6 1.8-.4 1.8,.4 1.7-.9 1.8,.4 1.7,1 1.8-.7 1.8,.1 1.6,.3 1.6,.7 1.7-.4 1.6-.4 1.7,.2 1.6,.3 1.6,.6 1.7-.8 1.7,0 1.6-.5 1.7,0 1.6,1.4 1.7-.3 1.6-.3 1.7,.1 1.6-.2 1.7,.2 1.6,.1 1.7-.6 1.6,0 1.7,.2 1.6,.4 1.6-.5 1.7,.5 1.6,0 1.7,.8 1.6,.2 1.7-1.6 1.6,1.3 1.7,.3 1.6-.8 1.7,.1 1.6-.9 1.6,1.6 1.7-1.2 1.6,1.4 1.7,0 1.6-.5 1.7-.6 1.6,.4 1.6-.8 1.8,1.5 1.6-.7 1.7,0 1.6,0 1.7,.2 1.5-1.4 1.7,.4 1.5-1.4 2.3,1.1 1.5-1.2 1.7,0 1.3-1.5 2,1.1 1.1-2.1 1.8,.4 1.7-.2 1.6,.1 1.7-.5 1.7,.5 1.6-.8 1.6-.3 1.6-.5 1.7-.2 1.7,.3 1.7,0 1.4-1.7 1.8,.7 1.7,0 1.6-.7 1.5-1 1.8,.6 1.5-.8 1.8,.5 1.7,.5 1.6-.1 1.5-1.7 1.8,.7 1.6-.3 1.6-.2 1.7,.6 1.6-1 1.6-.6 1.7,0 1.6-.5 1.7,1 1.7-.1 1.6-.4 1.7-.4 1.6,.8 1.7-.1 1.6-.3 1.6-1 1.7,0 1.6,1.1 1.7-.4 1.6-.6 1.7,1 1.6-1 1.7,.6 1.6-1.3 1.7,1 1.7,.3 1.6-.8 1.6,.2 1.6-.8 1.7,1.2 1.6-1.2 1.7,1.2 1.7-.1 1.6-.6 1.6-.4 1.7-.3 1.7,.9 1.6-.5 1.6-1.1 1.6-.3 1.8,1.2 1.5-1.2 1.7,.5 1.7,.1 1.6,.8 1.6,0 1.7-.9 1.7-.2 1.6,1 1.7-.9 1.6,.4 1.5-.9 1.8,.2 1.6-.3 1.7-.1 1.7,0 1.5-1.3 1.9,.8 1.5-1.1 1.6,0 1.6,.2 1.4,1.1 1.7-.3 1.6,.1 1.6,1.1 1.8,.8 1.9,.7 1.5-.7 1.7,.9 1.4-1.7 1.7,1.1 1.6-.6 1.7-.8 1.8,1.1 1.8,.1 1.7-.3 1.7-1.4 1.8,.8 1.7,.3 1.6-1.1 1.7,1 1.6,.1 1.6-1.7 1.6,.1 1.8,.9 1.6-.4 1.7,.3 1.8-1 1.7,1.1 1.8-.2 1.8-.7 1.7,.7 1.5-1 1.8,.9 1.4-1.3 1.7,.4 1.5-.6 1.5-1.5 1.7-.9 2.1-.5 1.3-1.2 1.9,.1 1.3-1.4 1.5-.7 1.9,.1 1.7-.8 2.1,.1 1.5-1.4 1.5-1.4 1.9-.6 1.9-.7 1.9-.7 1.9-.8 1.4-1.6 2-.1 1.6-1.1 1.7-.9 2.1-.1 1.1-2.1 2.1-.2 2,.1 1.5-1.3 1.7-.6 1.7-.9 1.7-.5 1.9,.3 1.6-1.3 1.9,.3 1.8-.3 1.8-.5 1.9,0 1.6-1.1 1.9-.1 2-.2-1.4,.9-1.7,.2-.8,1.6-2.2,.4-1.3,1.8-1.8,.9 0,1.9-1.7,1.4 .4,2-.2,1.8-1.3,1.6 .1,1.9-.7,1.7 .3,1.9-.9,1.6 .1,1.8-.6,1.7 0,1.8 .7,1.7 .8,1.4 1.7,.9 1.7,.8 1.5,1.3 2,.4 1.4,1.4 1.7,.5 1.9-.5 1.8,.3 1.4,1.9 1.9-.1 1.8,0 1.6,1.1 1.8-.1 1.8,0 1.7,.8 1.9-.8 1.7,.4 1.7,.2 1.7-.4 1.5,.9 1.7,.1 1.6,.6 1.8-1.4 1.6,1 1.6,0 1.6,.7 1.7-.4 1.7-.8 1.6,1.5 1.7-1.2 1.6,1.5 1.7-1.2 1.6,.7 1.8-.6 1.7,1.1 1.8-.3 1.7-.6 1.8,.9 1.7-.2 1.4-1.2 1.7-.4 1.9,.5 1.1-1.8 1.8,0 1.9,.3 1.5-.8 1.4-1.2 1.4-1 1.7,0 1.6-.5 1.5-.8 1.5-.7 1.9,.4 1.5-1 1.7-.1 1.4-1 1.7,0 1.5-1 1.6-.5 1.7-.8 2,.4 1.5-1.3 1.8-.6 1.6-1 1.9,.1 1.6-.9 1.9,.1 1.7-.5 1.7-.7 1.7-.5 1.9,.4 1.9,.5 1.7-.7 1.6-1.3 2,1.1 1.7-.9 1.7-.6 1.6-1.1 2,1 1.8-.2 1.6-1.4 1.8-.1 1.7-.3 1.8,.3 1.8,0 1.6-1.6 2,1.4 1.6-1.6 1.8,.2 1.8,.4 1.8-.2 1.6-.8 1.9,.6 1.6-1.5 1.8,.2 0,52.7zM948.8,474.4l0-52.7 1.7-.4 1.6,.5 1.6,.7 1.7-.1 1.6,.1 1.7,0 1.7-.7 1.6,.7 1.7,.6 1.6-.6 1.6-.8 1.7-.1 1.6,.2 1.7,.8 1.6-.5 1.7-.4 1.6-.6 1.7-.2 1.6,.6 1.6,1.1 1.7-1.3 1.6,1.4 1.7-.2 1.7-.3 1.6,.2 1.7-.1 1.6,.4 1.7-.2 1.6-1.1 1.7,1.2 1.6-.6 1.6-.3 1.6,1 1.7-.7 1.6,.9 1.6,.2 1.8-1.3 1.6,1.2 1.7-1 1.6,.8 1.7,.2 1.5-1.2 1.8,.5 1.6-.7 1.5-.7 1.9,1.2 1.5-1 1.7,.1 1.6,.6 1.6-.9 1.6,.4 1.5-1.3 1.6,.4 1.9,.2 1.6-1 1.8-.5 1.5,.9 1.6-.6 1.7-.6 1.5,.4 1.6,.7 1.7-.4 1.6-1.3 1.9,.3 1.7-.3 1.7,.1 1.7-.1 1.4-1.6 1.9,.9 1.5-1.2 1.5-.7 1.8,.3 1.7,0 1.4-1.3 1.8,.7 1.7-.3 1.3-1.2 1.7-.7 1.9,.1 1.7-.5 1.5-1 1.6-.2 1.6,.1 1.6-.2 1.6,.3 1.9,.2 1.8,.4 1.6,1 1.5,.5 1.7-1 1.6,.6 1.6,.1 1.5,.8 1.7,1 1.8-.2 1.7-.1 1.9-.9 1.7,.8 1.7,.2 1.8-.2 1.7,.5 1.8,.2 1.7,.1 1.8,0 1.8,.2 1.7-.3 1.6,.4 1.6,.2 1.5,.6 1.5,.9 .6,2.3 2,1.2 1.7,.5 1.8,.2 1.8-.2 1.8,.4 1.6-1.8 1.9,.6 .9-1.4 1.7-.4 1.6-.3 1.7,.3 1.5-.9 1.6-.1 1.5-.9 1.8-.2 1.7-.6 1.8-.5 1.3-1.4 1.9,.5 1.8,.1 1.4-1.1 1.5-.7 1.6-.1 1.6,.1 1.6,.2 1.4-1.8 1.7,.8 1.7,.9 1.8-1 1.7,.6 1.8-.3 1.7-.8 1.8,.3 1.5-.6 1.8,.8 1.6-.3 1.6-.4 1.4-1.1 1.6-.6 1.7,.7 1.6-.2 1.5-.7 1.5-.5 1.4,1.2 2-1.3 1.5,.8 1.5,.5 1.5,.7 1.9-.3 1.8-.1 1.6,1.1 2,.1 1.3-1.8 2-.1 1.7-.3 1.5,.9 1.4,.8 1.8-.7 1.5,.9 1.7,.7 1.8-1.5 1.7,1.4 1.8-1 1.8,.3 1.7,.3 1.6-.3 1.6-.3 1.7,1 1.5-.2 1.5-.9 1.7,0 1.5,.5 1.5,1.1 1.8-.8 1.4,1 1.8-.6 1.8,.2 1.7,.7 1.6,.5 1.5-1.4 1.7,.7 1.5-.8 1.6,.4 1.8-.5 1.7,.1 1.8,0 1.8,.1 1.7-.1 1.8-.1 1.6-.2 1.6-.8 1.7,1.7 1.6-1.6 1.7-.2 1.6,.3 1.7-.4 1.6,.7 1.8,.1 1.8-.5 1.7,.3 1.8,.4 1.7,.2 1.8-.5 1.6-.6 1.5,1.6 1.7-1.2 1.6-.1 1.5,1.1 1.6,.2 1.5,.6 1.7-.5 1.5,.1 1.6,.4 1.5,.5 1.8-.2 1.6,.2 1.5,.5 1.5,.8 1.5,1 1.7-1.4 1.5,1.2 1.7-.9 1.5,.9 1.7,.6 1.9-.3 1.7,.8 1.8-.1 1.8,.1 1.7,.7 1.8,0 1.7,.7 1.8,.5 1.7,.6 1.8,.1 1.7,.8 1.7-.2 1.3,1.7 1.6,0 1.6,.5 1.7-.2 1.5,.5 1.6,.5 1.6,.1 1.6,.5 1.6,0 1.6-.8 1.6,1.2 1.6-.8 1.5,.6 1.6-.2 1.6,.6 1.6-.5 1.6-.5 1.5,1.2 1.6-.5 1.7-.6 1.4,1.8 1.7-1 1.6,.1 1.5,.7 1.9-.6 1.7,.8 1.7,.3-1.2,1.5-1.4,1.2-1.7,0-1.3,1.5-1.7,.1-1.8-.6-1.4,1.1-1.7,1-1.8,.9-1.8,.7-1.5,1.5-2.3-.2-1.5,1.4-1.4,1-1.2,1.3 1.7,.4 1.4,.7 .8,1.6 1.5,1 1.9-.9 1.4,1.6 1.8-.4 1.8,.4 1.8-.9 1.7,.4 1.7,1 1.8-.7 1.8,.1 1.6,.3 1.6,.7 1.7-.4 1.7-.4 1.6,.2 1.6,.3 1.7,.6 1.6-.8 1.7,0 1.7-.5 1.6,0 1.6,1.4 1.7-.3 1.6-.3 1.7,.1 1.6-.2 1.7,.2 1.6,.1 1.7-.6 1.6,0 1.7,.2 1.6,.4 1.7-.5 1.6,.5 1.7,0 1.6,.8 1.6,.2 1.7-1.6 1.6,1.3 1.7,.3 1.6-.8 1.7,.1 1.6-.9 1.7,1.6 1.6-1.2 1.7,1.4 1.6,0 1.7-.5 1.6-.6 1.7,.4 1.6-.8 1.7,1.5 1.6-.7 1.7,0 1.6,0 1.7,.2 1.6-1.4 1.6,.4 1.5-1.4 2.3,1.1 1.5-1.2 1.7,0 1.3-1.5 2,1.1 1.1-2.1 1.8,.4 1.7-.2 1.7,.1 1.6-.5 1.7,.5 1.6-.8 1.6-.3 1.6-.5 1.7-.2 1.7,.3 1.7,0 1.4-1.7 1.8,.7 1.7,0 1.6-.7 1.5-1 1.8,.6 1.6-.8 1.7,.5 1.7,.5 1.6-.1 1.5-1.7 1.8,.7 1.6-.3 1.6-.2 1.7,.6 1.6-1 1.6-.6 1.7,0 1.6-.5 1.8,1 1.6-.1 1.6-.4 1.7-.4 1.6,.8 1.7-.1 1.6-.3 1.6-1 1.7,0 1.7,1.1 1.6-.4 1.6-.6 1.7,1 1.6-1 1.7,.6 1.6-1.3 1.7,1 1.7,.3 1.6-.8 1.6,.2 1.7-.8 1.7,1.2 1.6-1.2 1.7,1.2 1.6-.1 1.6-.6 1.7-.4 1.6-.3 1.7,.9 1.6-.5 1.6-1.1 1.6-.3 1.8,1.2 1.6-1.2 1.6,.5 1.7,.1 1.6,.8 1.7,0 1.6-.9 1.7-.2 1.6,1 1.7-.9 1.6,.4 1.6-.9 1.7,.2 1.7-.3 1.6-.1 1.8,0 1.4-1.3 1.9,.8 1.5-1.1 1.6,0 1.6,.2 1.5,1.1 1.6-.3 1.6,.1 1.6,1.1 1.8,.8 1.9,.7 1.5-.7 1.7,.9 1.4-1.7 1.7,1.1 1.6-.6 1.7-.8 1.8,1.1 1.8,.1 1.7-.3 1.7-1.4 1.8,.8 1.7,.3 1.6-1.1 1.7,1 1.7,.1 1.5-1.7 1.7,.1 1.7,.9 1.6-.4 1.7,.3 1.8-1 1.8,1.1 1.7-.2 1.8-.7 1.7,.7 1.5-1 1.8,.9 1.4-1.3 1.7,.4 1.5-.6 1.5-1.5 1.8-.9 2-.5 1.3-1.2 1.9,.1 1.3-1.4 1.5-.7 1.9,.1 1.8-.8 2,.1 1.5-1.4 1.5-1.4 1.9-.6 1.9-.7 1.9-.7 1.9-.8 1.4-1.6 2.1-.1 1.5-1.1 1.7-.9 2.1-.1 1.2-2.1 2-.2 2,.1 1.5-1.3 1.8-.6 1.6-.9 1.7-.5 1.9,.3 1.6-1.3 1.9,.3 1.8-.3 1.8-.5 1.9,0 1.6-1.1 1.9-.1 2-.2-1.3,.9-1.8,.2-.8,1.6-2.2,.4-1.3,1.8-1.8,.9 0,1.9-1.7,1.4 .4,2-.2,1.8-1.3,1.6 .2,1.9-.8,1.7 .3,1.9-.9,1.6 .1,1.8-.5,1.7-.1,1.8 .7,1.7 .8,1.4 1.7,.9 1.7,.8 1.5,1.3 2,.4 1.4,1.4 1.7,.5 1.9-.5 1.8,.3 1.4,1.9 1.9-.1 1.8,0 1.7,1.1 1.8-.1 1.7,0 1.7,.8 1.9-.8 1.8,.4 1.6,.2 1.7-.4 1.6,.9 1.6,.1 1.6,.6 1.8-1.4 1.6,1 1.6,0 1.6,.7 1.7-.4 1.7-.8 1.6,1.5 1.7-1.2 1.6,1.5 1.7-1.2 1.6,.7 1.8-.6 1.7,1.1 1.8-.3 1.7-.6 1.8,.9 1.8-.2 1.3-1.2 1.7-.4 1.9,.5 1.2-1.8 1.8,0 1.8,.3 1.5-.8 1.4-1.2 1.4-1 1.8,0 1.5-.5 1.5-.8 1.6-.7 1.9,.4 1.4-1 1.7-.1 1.4-1 1.8,0 1.4-1 1.6-.5 1.7-.8 2,.4 1.5-1.3 1.8-.6 1.6-1 1.9,.1 1.7-.9 1.8,.1 1.7-.5 1.7-.7 1.8-.5 1.9,.4 1.9,.5 1.6-.7 1.6-1.3 2,1.1 1.7-.9 1.7-.6 1.6-1.1 2,1 1.8-.2 1.6-1.4 1.8-.1 1.7-.3 1.9,.3 1.7,0 1.6-1.6 2,1.4 1.6-1.6 1.8,.2 1.8,.4 1.8-.2 1.7-.8 1.8,.6 1.6-1.5 1.8,.2 0,52.7zM129.9,268.8l1.9,4 1,5.3-1.5,3.6-1.1,4.3-2.1,5.2-1.9,5.3-2.1,6.3-5,1.6-3.1-1.3-1.1-4 .3-3.9 1.6-2.6 0-4-.8-4.5 .8-3.4 3.1-1.6 2.1-.5 2.4-2.4 2.1-3.4 1.9-2.1zM-15,105.2l.9-.8 1,.4 1,0 .9-.3 1-.2 1,.1 .9-.2 1,.3 .9-.6 .9-.6 .9-.3 1,.5 1-.2 1-.2 1.1,.3 1.1,0 .9-1.2 1.2,.6 1-.5-1.6-.8 1.2-.5 .7-1 .5-1.2-.8-.6-1,0-1.1,.2-.8-.6 .4-1-.7-.9-.3-1-.9-.5-.6-.8-.6-.9-.9-.5-1.1-.4-.3-1.1-1.3-1.1-1-.2-.6-.8 .5-.8 1.2-.3 0-1.2 .7-.6-1.1-.8-1.1,.1-1.2,.4-1.1-.3 .6-1.1 .7-1.2-1.1-.2-1,.5-1.1-.7-1,.4-1.1,0-.9,.7-.2,1.2-.5,1 .2,1.1-.7,.9 0,1.1 .5,1.2 .3,1.2 1.1,.5 .5,1.1 1-.1 1,.4 1-.4 .9-.5 .3,1.6 .5,1 .3,1.1-1.1-.1-1,.7-1.1-.3-1,.5 1,1.3-.9,.8-1.1,.6-.3,1.3 1.1-.4 .7,1.4 1.3-.9 .8,1.1 1.1-.2-1.2,0-1.2,0-1.1,.6-.7,.7-.4,1.2-1.3,.1zM933.8,105.2l.9-.8 1,.4 1,0 .9-.3 1-.2 1,.1 .9-.2 1,.3 .9-.6 .9-.6 .9-.3 1,.5 1-.2 1-.2 1.2,.3 1.1,0 .8-1.2 1.2,.6 1-.5-1.6-.8 1.2-.5 .7-1 .5-1.2-.8-.6-1,0-1.1,.2-.8-.6 .5-1-.8-.9-.2-1-1-.5-.6-.8-.6-.9-.9-.5-1.1-.4-.3-1.1-1.3-1.1-1-.2-.6-.8 .6-.8 1.1-.3 0-1.2 .7-.6-1.1-.8-1.1,.1-1.2,.4-1.1-.3 .7-1.1 .6-1.2-1-.2-1.1,.5-1.1-.7-1,.4-1.1,0-.9,.7-.2,1.2-.4,1 .1,1.1-.7,.9 0,1.1 .6,1.2 .2,1.2 1.1,.5 .5,1.1 1-.1 1.1,.4 .9-.4 1-.5 .2,1.6 .6,1 .2,1.1-1.1-.1-1,.7-1.1-.3-1,.5 1,1.3-.9,.8-1.1,.6-.3,1.3 1.1-.4 .8,1.4 1.2-.9 .8,1.1 1.1-.2-1.2,0-1.2,0-1,.6-.8,.7-.4,1.2-1.3,.1zM135.7,48.8l.2-1.3 1.5-.2-.1-1.5 1.5-.3 .3-1.1 .6-.9 1.2,0 .8-.9 1.2,0 .8-.9 .6-1.3 1-.4 1.2-.1 1.1-.4 1-.3 .8-1 .9-.4 1-.5 1.3,.3 1.1-.1 .7-.9 1.1-.2 1-.7 1.2,.9 1-.5 1-.3 1.1,.1 1-.9 1-.5 1.1,.7 1-.9 1.1,.5 1.2,.1 1.1,.6 1.1-.6 1.1,.5 1.1-1.2 1.1-.3 1.1,.3 1.2,0 1.1,.3 1.1-.3 1.1,.8 1.1-.7 1.1,0-.8,1.1-1.6-.9-1.1,.4-.6,1.7-1.4-.4-1.1,.7-1.2-.5-.9,1.1-1,.8-1.3-.8-1,.5-1,.9-1.2-.4-1.2-.4-1.1,.6-1.1,.2-1,.6-1.1,0-.8,.9-1.4-.2-.5,1.5-1.1,.3-1.3-.2-1.2,0-.4,1.7-1.2,0-1.2,.4 0,1.6-1.2,.4-1.1,.5-.5,1 1.2,.6-.2,1.5 1.6,.3 0,1.3-1-.3-1.1,.3-1.1-.9-1.1,.6-1,.1-1.1,.2-1.1,.2-1.1-.6-1.1-.1-1.1,.8-1-.8-1.1-.2-1-.5-.7-1zM720.8,67.2l6.6-2.1 6.6,2.9-5.3,1.8-6.5-.5zM768,375.8l1.1,.1 .5,.7 .7,.5 .7,.6 .4,1 .8,.3 1.1-.1 .5,.7 .7,.3 .9,.2 0,1.6 1.5-.8 .3,1-.7,.5-.8,.4-.9,0-1.1-.9-.5,1.6-1-.5-.8,.4-.8-.1-.8-1.1-.9,.2-.8,.7-.8-.7-.8,.6-.9,0-.8-.4-.5-1-1.2,.5-.8-.3-.7-.8-.7-.6-1.1,.6-.7-.7 .5-.9 1,0 .5-1 1,0 .9-.2 .9,.1 .3-1.2 .9,0 .6-.5 .7-.5 .6-.6zM287.3,233.3l1.6-1.4 1.2,.4 1.1,.9 1.4-.2 1.1-.4 .4-1.3 .8-.8 1.5,.1 .9-.7 .5-1.1 1.2-.4 .9-.8 .7-.9 .6-1.2 1.7,.4 .9-.7 .6-1.2 .9-.9 .7-1.1 1-.8 .2-1.3 .6-1.1 .9,.7 1,.6 .9,.6 .7,.9 .8,.7 1,.5 1.1,.4-.6,1-.9,.6-.9,.5-.1,1.5-.5,1.3-.7,1.2 .6,1 .9,.9-.1,1.4 .9,.9 .6,1.1-.9,.7-.6,1.1-1.4-.1-.8,.9-.9,.8 .3,1.4-.5,1-1,.8 .1,1.1-.5,1-.6,1 .1,1.1-.4,1-1.2,.3-1.1,.5-1.1,.3-1.1,.2-1-.6-1-.4-1.2-.1-.8-1-1.3,.1-1.3-.4-1.3,.6-1-.8-1.4,.4-1.1-.7-.7-1.1 .5-1.3-.3-1.2-.6-1-1.2-.7-.3-1.2-.5-1.1 .3-1.3-.6-1.3zM251.2,222.4l5.8,1.1 6.6,7.1 3.9,1.9 5.3,4.7 2.6,4 3.4,5.2 .3,6.1-3.4,.3-6.1-5.1-5.2-7.9-4.3-7.1-4.4-5zM345.8,239.3l1-.7 1.2-.3 1.2,0 1.1,.2 1.1,.3 1,.5 1,.3-.1,1 .3,1.1 .4,1-.3,1.1 .2,1.2 1.1,.5 .8,.7 1-.5 .9-.7 .7-.9 1-.6 1.2-.2 1.2-.3 1-.6 .9-1 1,.5 1,.4 .9,.6 1.3-.4 .9,.8 1.2-.1 .8,.9 1.3,.1 1.2,.3 1,.9 1.1,.2 1,.5 1.3-.2 1,.6 1.1,.1 1,.6 .8,1 1,.6 1,.5 .7,1.1 1.3,.2 .9,1 .8,1.3 1.5,.1 .7,1.9-1.1,0-1,.8 .4,1.4 1,1.2 1.3,.5 .5,1.3 .6,1.2 1,.6 1.3,.3 1.2,.5 .5,1.5 1.5,.2-1.4-.1-1.3-.3-1.3,.6-1.4,.2-1.4-.4-1.1-.8-.8-1-.7-1.1-1.1-.6-.9-.9-.5-1.2-1.1-.3-1.3,0-1.1-.6-1-.7-1.1,.6 0,1.4-.8,.9-.7,.8-1.2-.3-1.2,.1-1,.8-1.3-.8-1.4,.5-1.1-.4-1.2-.3-1-.7-.8-.9-1.2-.3-1.4-.3-1.2,1-.5-1.1-.3-1.2 1.2-.6-.1-1.5 1-.6-.1-1.3-1.2-.6-1.1-.7-.2-1.3-.9-.9-1.4,.9-.8-1.2-1.3,.7-.9-.8-.7-1-1.3,.3-.9-.7-1.1,0-.7-1-1,1-1.4,0-.6-1-.4-1.3-1.1-.8 1.4,.1 1.2-.9 1.4-.3-1-.7-1.1-.2-1.1,.4-1.3-.6-.8-1.3-1.3-.5zM774.9,73.8l-1.1-.5-1.2,1.1-1.1-.4-.9-1.6-1.2,.9-1.1-.3-1.3,.7-1.1-.8-1.1-.3-1.1-.5-1.3,1.2-1-1.5-1.1-.8-1.2,.7-1.5,.1 .2-2.4-1-.5-1.4,0-1.4,0-.7-.9-.8-.8-1.2-1.2-1.1,1-1.2-.8-1.1,1.6-1.2,.2-1.2,.2-1.1-.4-1.2-.6 1-1.2 .4-1.4 1-.4 1.1,.4 1,.2 1.1,.5 1,.2 1.1-1.9 1,1 1.1-1 1,.3 1.1,.7-.2-1.2 .5-1-.5-1.2 2.3-.6-.8-1.3-1.1,.1-1.2,.2-.5-2-1.5,1.5-.6-2.2-1.4,1.1-.7-1.1-1.3,.5-.9-.7-.3-1.4-1.3-.2-.5-1.2-1.1-.3-1-.5-1.1-.4-1.1,.4-1.1-1.5-1.1,.8-1.1-.1-1.1,1.1-1.1-.6-1.1,.7-1.1-1.8-1.1,.4-1.1,1.5-1.1-.7-1.1-.2-1.1,.7-.9-2.1-1.1,.4-1.2,.8-1-1.1-1-.2-1.3,1.1-1-.2-1-1-1-.6-1.2,.9-1.5,.1-.1-2-1.9,.6-.5-1.3 1.1-.6 .5-1 .3-1.2 1.4-.2 .4-1.2 .3-1.1 1.1,0 1.2,.1 1.1,.3 1.2,0 1-1.7 1.3,1.7 1-1.2 1.1,.5 1.1,.2 1.1,.3 1.1-.9 1.1,0 1.1,1.1 1.1-1.6 1.1,1 1.1,.4 1,.3 1.2-.2 1.1-.8 1.1,.1 .8,1 1,.3 1.1,.2 .8,.9 1.1,.2 .9,.8 1.4-.8 1,.4 1,.4 1.1,0 1.1,.1 .7,1.5 1,.4 1.3-.6 .9,.6 1.5-1.1 .9,.7 .9,.5 .9,1 .8,.9 1.6-1.8 .8,1.4 1.3-.4 1.2,.2 .6,1.4 1.5-.7 .8,1.1 .7,1.3 1.2-.1 .9,1 .9,.6 1.4-.5 .5,1.2 .9,.8 .3,1.2 1,.8 .9,.8 1,.3 1.1,.3 1.3-.5 .6,1.7 1.2-.2 1.4-.7 1.1,.1 .9,1 1,.3 .1,1.4 1.2,.8-.8,1.3-1.6-1.2-.8,1.4-1.4-.3-.7,1.5-1.2,.3-1.4-.4-.5,1.3 .5,1.3-.8,.8-1,.6 .3,1.6-1.7,.1-1,.7zM636.5,50.1l.6-1 .9-.7 .7-.9 .7-.8 1.1-.6 1.2,.1 .8-1.3 1.5,1.2 .9-1.4 1.2,0 1.4,.8 .9-1.2 1-.1 1.1-.1 1,.1 1.1-.5 1,.5 1.1-.2 1,1.3 1.1-1.3 1,.9 1.1-.6 1,.9 1.1,.4 1.1-.8 1,.5 1.1-.5 .5,1.2 .8,.8 1,.4 1.7-.9 .7,.9 .8,.8 .4,1.4 1.8-.9 .2,1.8 1.3-.2 1,.2 1.1,.3 .8,.9 .9,.7 1.2-.1 1.4-1.1 .8,1.2 1,.2 1,.3-1.2,.3-1.2,.4-1.1,.5-.4,1.4-1.2-.4-1.1,1.1-1.2-.8-1.1,1.4-1.2-.6-1.2-.8-1.1,.3-1.2,.4-1,.4-1.2-1.3-1,1.9-1.1-.2-1.1-1.4-1.1,1.2-1,.4-1.1,.2-1.1-.5-1.1-.5-1,1.5-1.2-.7-1,.8-1.1-.5-1.2-1.3-1,.6-1.1,.4-1.1-.2-1-.2-.9-.9-1.3,.4-.9-.6-1.1-.1-.8-1.2-1.4,.8-1.1,.3-.9-.9-.8-.9-.1-1.5-1.1-.6-1.9,.2zM618,47.4l.3-1.3 1.1-.3 .9-.7 1.6,.4 .2-1.4 1.5,.1 .2-1.4 .8-.6 1.1-.3 1.1,1.1 1-.8 1.1-.3 1-.4 1.1,.3 1.1,.4 .9-1.2 1.1,0 1.1,.4 .9,.5 1.3-.2 .9,.5 .7,1.1 .5,1.2 1.1,.2 1.2,.1-1.2,.1-1.1,.2-.8,1-.7,1.3-1.3-.3-.8,.9-1,.6-1.6-1-.8,1.2-1.1-.3-1,.8-1.1,.2-1.1-.3-1.1,1-1.1,.1-1,.2-1.2-.5-1.2-1.2-1.1,.5-.9,1.6-1.2-.8 0-1.7zM711.6,35.1l1,.4 1.1-.5 1.1-.8 1,1.9 1.1-1.5 1.1,0 1,1.2 1.1-1 1-.4 1,2 1.1-1.9 1.1,.9 1-.6 1.1-.3 1,1.5 1.1-.4 1-.2 1.1,.3 1,1.3 1.1-1 1.1-.7 1,1.7 1-.7 1.1-.8 1.1,.6 1.1,.1 .5-1.6 .9-.7 1.2,.1 1.7,1.3 .6-1.3 .8-.9 1.1-.2 1.1-.1 .4-1.8 1.8,1.6 1.1,0 .9-.8 .9-.6 .4-1.9 1.3,.5 .8-1.6 1.6,1.4 1.3,.4 .9-1 1.2-.2 1-.7 1.1-.4 .9-1 1.4,.6 1.1-.2 1-1.1 1.3,.8 1-.8 1.2-.2 .8-1.2 1.2,.1 1.2,.4 .7-1.4 1.2,0 1.5,1.8 1-.4 .7-1.8 1-.7 1.2,.6 1.2-.4 1.2,.1 .9-1.2 1.1-.6 1.6,1.1 1-.7 .9-.9-1.1,.2-1-.5-1-1-1.2,1.2-1.1,0-1.1,.1-1-1.8-1.1,.1-1-.2-1.3,1.5-.9-2.1-1.1,.5-1.3,1.7-.8-2.5-1.4,2.3-.9-1.8-1.1,.4-1.1-.1-1,1-1.1-1.3-1-.9-1.1,1.1-1-1.1-1.1,2.5-1-.9-1.1,0-1-.8-1.1-.6-1-.5-1.1,1.6-1.1,.6-1-1.4-1.1-.1-1-.4-1.1,1-1,.6-1.1,.4-1-1.5-1.1,1.1-1.1-.2-1,.1-1.1-.7-.9,1.2-1.1,.2-1.1-.7-1,.2-1.1,.2-1,.5-1.2-1.5-1,.4-1.1-.4-1.1,.2-1-.2-.9,2.2-1.1-.4-1.1-.5-1.2-.8-.8,2.1-1.1-.1-1.2-1.9-.9,1.6-1.1-.2-1.1,.1-1,.2-1.2-1.2-1,1-1,.2-1.4-.7-.9,.6-.8,1.2-1.1,.2-1.1,.2-.8,1.3-1.6-1.8-.5,2.4-1.3-.5-1.1,.2 .9,1.2 1.1,.1 1.3-1 1.1,.1 1.2-.1 .8,1.2 1.2-.5 .7,1.9 1.1-.1 1.2-.1 1.4-.6 .9,1.2 1.1,.5 1.2,.2 1.3-.3 1.1,.6 .9,1-1.2,.2-1.3-.1-.8,1.4-.9,.9-1.6-.9-.8,1.2-1.3-.1-.9,1-1.6-.2-.9,1-.7,1.2zM738,40.6l-1.1,.7-1.1-.5-1.1,.6-1.1-.2-1,.2-1.1-1.8-1.1,.6-1.1,.6-1.1-.3-1.1-.9-1,1-1.1,.6-1.1-.6-1.1,.3-1.1,.5-1.1-.1-1-.9-1.1-.5-1.1,1.6-1.1-1-1.1,1.1-1-1-1.1,.5-1.1-.5-1.1-.6-1.1,.5-1.1-.3-1,.4-1-.6-1.1,0-1-.3-1.1,0-.8-1-.9-.7-1.5,1.4-1.1-.1-.8-1.1 1.4,.5 .4-1.8 1.5,.8 .6-1.5 1.4,.6 .7-1.2 .6-1.1 1.3,.3 1.1-.2 1.1-.2 1,.9 1,.2 1.1-.2 1.1-1.3 1,1.5 1.1-.8 1,1.2 1.1-1.6 1.1-.3 1,1.3 1,.7 1.1,0 1.1-.8 1,.6 1.1-.6 1-1 1.1,.7 1,.5 1.1,.8 1-1 1.1-.8 1,1.9 1.1-1 .1,1.4 1.1,.4 1.2,.3 .6,.9 .9,.6 0,1.5zM706.3,30.3l1.2,.1 1.2,.1 1-.2 .8-1.3 1.2,.2 1.2,.1 .9-.8 1-.3 .8-1.3 1.3,.5-.7-.9-.6-1.1-1-.5-1.3-.2-1.3-.2-.4-1.3-1,.9-1.2-1.1-1.1,.4-1.2-.6-1,.9-1.1-.1-1.2-.3-1,.8-1.1,0-1,1.3-1.1-.4-1.2-.2-.5,1.3-1,.8-.9,.9-1.5,.1 .9,1.2 1.3-1.1 1.2-.2 1,.4 1.2-.1 .7,2.1 1.4-1.6 1,.6 1.2-.3 1,.7zM690.5,31.6l6.6,0-1.3-2.1-5.3,0zM677.3,31.6l8,0 0-2.3-8-.3zM653.6,32.9l13.2,0-2.6-2.1-10.6,.3zM736.7,45.3l10.5-.5-1.3-1.6-9.2,0zM698.4,47.4l4-.7 6.6-4-11.9-.5zM680,47.4l10.5,1.9 4-5.8-11.9-.8zM687.9,56.7l7.9-.6 1.3-2.1-7.9-.8zM643.1,38.7l1.1-.4 1.1,.1 1,.7 .9,.9 1,.3 1.2-.5 1,.6 1,.3 1,.6 1.2-.7 1.1-.1 1.1-.4 1.1,.2 1.2,.5 1.1,0 .9-1.8 1.2,.4 1.1,.5 1.2,.6 1.1-.2 1-1 1.1,.2 .7-1 1.4,.3 .5-1.6 1.4,.2-1-.9-1.1-.3-1.2,.4-1.3,.1-.7-1.6-1.3,.5-1.1-.8-1.1,.6-1.2,1-1-1.1-1.1-.8-1.1-.3-1.2,1.9-1-1.6-1.2,1.1-1-.5-1-1.2-1.2,.9-1.1-.3-1.1,0-1,.8-.9,.9-1.1,0-1,.1-1.3-1.2-1,.9-1,.1-1,.3 .5,1.1 1.5,.1zM682.6,38l9.2,1.5 0-4.2-7.9,0zM694.5,40.1l9.2,0-1.3-2.1-6.6,.5zM627.3,36.4l6.6-2.9 7.9,1.3-5.3,2.6z"/>
<path id="lakes" fill="#fff" d="M933,99.6l-.5-3.4 1.8-2.9-2.6-1.6-4.8,0-.8,2.4-3.6,.3 .5,2.6-1.3,3.4 4.7,.8 5.5-1.6zM890.8,68.5l-1.1-.3-.5-1.2-.6-1-1-.5-1-.5-1-.4 .7-1.1 1.1-.3 1.2-.3 .9-.7 1.2-.2 1.1-.1 1,1.2 1,.2 1.3-.8 1,.5 1-.7 1.2,.9 .9-1.2 1.1,.6 1.1,.6 1-1.2 1.1,0 1-.2 1.1,.7 1-.6 1.2,.2 1,.4 .7,1.1 1.1,.2 .7,.8 .6,.9 1.1,.4-.9,1.3-1.9-.8-.9,1.3-1,.3-.9,.7-1,.5-1.2-.4-1,.4-1,.4-1.1-.2-1.1,0-.9,.7-1.2,.2-1-.9-1.3,.9-1-.2-.9-1.6-1.2,.6-1.2,.2-1.1-.2-1.1,.4-1.1-.7zM29,30.3l.9-.5 .7-1.1 1.1-.1 1.3,.3 1.2-.1 .7-.9 .7-1 1.1,.8 1.1-.5 .9-1.5 1.2,.3 1.1,.7 1.1,.7 1.1-.2 1-.3 1.1,0 1.1-.1 1-.7 1.1-.1 1.1,.7 1-.9 1.1,.8 1-.7 1.1-.3 1-.2 1.1-.2 1,.6 1.1-.2 1.1-.7 1.1,.9 1.1-.5 1.1,.5 1.1-.5 1.1,1 1.1-1.4 1.1,1 1.1,.2 1.1-1.1 1.1,.8 1.1,.3-.8,.9-.9,.6-1,.6-.9,1.1-1.3-1.5-1.1,.3-.8,1.2-1,.5-1.1,0-1.2-.5-.8,1.5-1.2-.3-1.1-.2-.8,.9-1.2-.2-.9,.7-1.3-.3-.5,1.5-1.5-.7-1,.3-.7,1-1.2,0-1,.7-1.1,.4-1.2,0-1.2-.2-.9,.9-1-.7-1.5,.5-.4-2.1-1.8,1.3-1.1-.4-.8-1.2-1.1-.6-1.1-.3-.9-1.1-1.2,0-1.4,.6-.8-1.5zM123.9,25l13.2,1.4 21-1.1 5.3-1.6-18.4-.8-18.5,.8zM250.4,29l13.2,2.6 13.1-1.3-2.6-2.6-10.5-2.7-13.2-1.3-7.9,2.7zM358.4,39.5l10.6,2.7 13.2-2.7 13.1,0-5.2-2.1-21.1-.5-7.9,1.3zM470.5,50.1l7.9-.8 2.6,.8-5.3,.5zM792.3,111.7l.6-1.1 .4-1.2 1-.8 1.1-.7 .6-1.2 .3-1.1 1-.8-.5-1.6 .7-1 1.1-.7 1.3-.2 1.4,.6 1.2-.7 .1,1.1-.2,1.1-1,.9 .3,1.1 1.3,.2 1.2,.1 1.2,.6 1.1,.7 1.3-.3 .8,.9 .7,.9 .5,.9 .4,1.1-.3,1.2-1.2,.4-.5,.9-.4,1.1-1-.2-1-.7-1.2,.2-.9-.8-1.2,.2-1.4-.1-1.2-1-1.1-.5-1.1,1.2-1.1,.1-1.1-1.3-1.1,1-1,.2zM623.6,109.6l-4.2-1.3-6.6-4.2-2.1-.8 6,1.6 4,1.6zM724.8,179.5l2.6-2.1 4-1.1 5.3,.3 6.5,1.8 4,2.9 6.1,2.7-3.5,.8-5.2,0-1.4-2.2-6.5-2.9-4-.5-5.3,.5zM752.5,188.7l3.9-3.9 7.9,.2 4.2,3.2-4.2,1-3.9,1.6-3.5-1.3zM742.4,189l5.3,.2-.5,.8-3.4,0zM771.7,188.4l4.2,.3 0,1.1-4.2,0zM381.1,344.5l9.8,.5-.8,5.5-3.2,1.6-4.2-3.7zM455.2,327.9l.8,.3 .5,.8 1,0 .8,.4 .2,1.1 .9,.3 .8,.4 0,1.2 .7,.5 1.1,.3 .2,.9 .8,.5 .6,.6 .8,.7 .9-.3 .9-.2 .7,1 .9,0 .9,.2 .8,.3 1-.3-.8,.6 .1,.9 .1,1-1,.5 0,.9-.8,.7-.9,.2-1,.2 0,.9-1,.4-.5,.7 .2,1.1-.9,.5-.1,.9-1.1-.5-1,.6-1.1-.1 .3-1-1-.7-.1-.8 .3-1-.9-.5-.5-1-.7-.6 .3-.9 .9-.5 .5-.9 .4-.8-.1-.8 .1-.9-.6-.7 0-.8 0-.8-.3-.7-.3-.8-1-.2-.6-.5-.6-.6-.4-.7-.2-.8-.7-.5zM455.2,343.9l1,.1 .4,1.1 1.1-.3 .8,.4 .6,.9-.4,.9 .2,1.1-.6,.9-.5,.6-.3,1-.6,.5-1.2,.1-.3,.9 .8,.5-.8,.1-.8,.2-.6,.9-1-.3-.6,.7-.9,0 0,1-.4,.8-1,.5 0,.9-.5,.8-.7,.7-1,0-.9,.1-.7,.8-.9,.2-.9,.1-.7-.7-.9,.3-.7-.6-.9-.2-.9,.1-.7-.4-.9-.2 .7-.9-.4-1.2 .8-.3 .5-.9 .8-.4 1-.1 .6-.7 .5-.7 .7-.5 .8-.3 .8-.2 .8-.1 .9-.2 .7-.4 .4-1 1,0 .8-.3 .6-.6-.2-1.3 .7-.5 .7-.4 .2-.8 .7-.6-.2-.9 .6-.6 .9-.6zM432.2,290.2l7.9,5.8-1.3,.2-6-4.7zM467.3,283.3l3.4,.8-.8,1.1-2.6,0zM538.2,186.3l2.1-1-.8-1.3-1.6,1zM345,147.6l1.4-.5 1.5-.3 1.3,.2 1.3-.5 1.4,0 1.1,.4 .9-1 1.1,.1 1.1,0 .2,1.6 .8,1.3 .9-1.2 1.5,0 1.1-.9 1.8-.8 1.1,.4 1.2,0 1.1-.4 1.1-1 1.6,0 1.1-.4 .8-.9 1-.6 .1-1.6-.9-1.3 .8-1.2-.4-1.5 .6-1.2 .2-1.4 1.1-.7 .6-1.1-.4-1.3-.2-1.3-.3-1.2 .1-1.2-1.1,.7-1.3-.2-.4,1.1-1,.8-.2,1.3-.1,1.3 .1,1.3-.3,1.3-1.7,.1-.4,1.3-1,.3-.6,1-.9,.6-1,.4-.9,.6-1.3-1.1-.4,1-.5,1-.9,.7-.4,1-1.5,.8-1.1-.5-1-.2-1.1,1-1.1,.1-1-.3-1.1-.1-1.3,.2-.3,1.7-1.1,.6-1.2,.4zM369,127.8l1-.4 1.1,0 1-.4 .7-1.4 1.5-.4 .9,.8 1.4,.1 1.1,.7 .4-1.1 1.3-.3 .4-1 1-.5 1.5-.2 1.4-.6-1.2-.7-.3-1.4-1.1-.2-.9-.8-1.1,0-1.2,.1-1-.2-1-.8-.8-1.1-1.1-.7 .1,1.2-.6,1.1-.8,.8 .5,1.5-.5,1.4-1.4,.5-1.3-.7 0,1.2-1.4,.5 .1,1.2zM342.1,149.4l.4,.8 .3,.8 .5,.7 .2,.8 0,.9-.2,.9 .6,.7 1-.2 .9-.4 .8-.6-.4-1.2 .6-.7 .6-.8 .2-.9-.6-.5-.7-.5-.2-1-.8-.3-1.1,.4-1,.3zM349.2,150.2l2.7-.8 3.1-1.3-1.3-1.3-3.2,.5-1.8,1.6zM374.3,116l1.2-.7 1.4-.2 1.3-.5-.2-1 0-1.2-.8-1 .4-1.2-.4-1.1-.3-1 1.3-.6 1.3,1.1 1.3-.5-1-.7 0-1.2-.3-1-.7-.9 .2-1.2-.6-.9-1-.7 .5-1-.5-1.2 .3-1 .1-1.1 .4-1-1.1-.4-.7-.8-.3-1.2-.8,1.1 0,1.4-.5,1.2-.1,1.1-.2,1.1-.8,.9-.1,1.1-.1,1.1 .4,1.1-.1,1.1-.5,1.2 .5,1.1 .1,1.1 .6,1.1-.2,1.2-.2,1-.4,1.1 .3,1.1 .2,1zM316.5,176.6l2.4-5.8 2.6,.5-2.6,7.9zM286.2,186.6l3.7-2.4 2.7,1.3-4,3.7zM317.9,188.4l1.1,0 1.1-.4 1.1,.9 1.1-.5-.2,1.1 0,1.1-.3,1.1 .2,1.2-.8,1 .3,1.1-.1,1.6-1.2,1.1 .6,1.1 1.1,.7 1,.8 1.2,.3 .5,1.3 1,.7 1.2,.3-1.3,.6-1.3-.6-1.1-.4-.9-.9-1.4,.2-.8-1.1-1.3,.1-.8-1-.8-1.1-.2-1.2 .3-1.4-.9-1.1 .7-.9 0-1.2 0-1.2-.1-1.2 .1-1.1zM321.5,218.8l1-.8 1-.7 1.2-.5 1.2-.3 .9-.9 .9-.7 .9-.7 .7-.8 .8-.8 .7-1 .4,1 .1,1.1 .5,1 1.1,.6-.1,1.3 .6,.8-.3,1.2-.4,1.2-.6,1.1-1,.5-1.2-.8-.9,.9-1.1,0-1.1-.1-1.2-.5-.7-1.2-1-.7-1-.8zM328.1,204.3l3.2,3.9-1.8,2.6-1.4-3.4zM321.5,206.1l3.2,2.1-.8,4.8-2.4-3.5zM308.9,215.1l6.3-5.6-.8-2.1-5.2,6.6zM317.1,201.9l3.1,.5-.8,2.4-1.8-.5zM277.3,255.1l2.1-2.3 5.8,1 5.8,1.6 5.8,0 4.7,2.1 .3,2.6-10.6-1.3-10.5-2.4zM303.1,258.8l3.9,.3 6.6,0 0,1.3-6.6,.5-3.9-.5zM315.7,259.3l8-.7 0,1.5-8,.3zM325.5,264.4l4-3.5 6-1.6-3.4,2.4-4.8,2.4zM314.7,251.7l.1-1.1-.4-1.1 .2-1 0-1.1 .6-1-.9-1.1-1.2-.7 .6-1 .3-1.1-.1-1.2 .4-1 .7-1 .1-1.3 1.3-.9-.1-1.5 1-1.3 1.6-.3 1.4,0 1.3-.2 1.3,.8 1-.4 1.2,.4 .9-.9 1.1,.1 1-.3 1.9-.2-.6,1.1-1.2,.6-.6,1.1-1.1-.5-1.2,.2-1.1,.1-1.1-.4-1,.3-1.1-.2-1,.1-1.1,.2-1,.6-.8,.7 0,1.2 1,1-.2,1.2 1.5-.2 1.1-1.1 1.1-.5 1.1,.7 1.2-.6 1.1,.7-1,.8-1.2,.6-1.3,.4-1.5,1.1 1,.5 .7,.9 0,1.3 .9,.7-.1,1.3 .6,1 .6,1.1-1.2-.1-1,.7-1.2-.8-.1-1.7-1.3-.7 .1-1.5-.9-1.1-1,1 .1,1.1 .5,1.1-.1,1.1 0,1.1 .3,1.1-.6,1.1-1.3,.4zM336,231.9l3.2,1.4-1.8,2.6 2.1,2.6-2.7-.5-.8-3.4zM337.4,245.1l7.6,1.3-2.4,1.1-4.7-.8zM332.1,245.6l3.1,0-.5,1.6-2.4-.5zM391.4,251.7l3.9-1.3 5.3-2.1-1.3,3.4-4,1.8-3.9-.5zM397.4,244.3l4.5,2.9 1.3,2.4-3.9-3.2zM210.3,221.4l.3-5.3 .5-4.7 3.2,3.4 1.6,4-1.9,2.1-1.8,.8zM61.9,144.2l2.7-.3 4.7,.3-.8,.8-5.2,.2zM85.1,145.7l1.3-1.3 4.5-1-1.3,1.8-2.6,.8zM32.7,137.6l2.9-1.1 5.5-.2-1.3,4.2-2.1-.8zM21.6,134.4l.5-4.7 2.1-1.1 1.6,1.9-.5,3.4-2.1,.8zM22.7,126.8l2.1-2.9 .5,2.1-1.1,2.1-1-.5zM541.6,86.4l5.3-.7 .8-1.9-3.4,.5zM29,92.2l4.2-1.5-.8-1.4-2.9,.8zM123.3,119.1l1.9-2.1 3.9-2.4 5.3-1.3 5.3,.6 0,3.9-4.5,2.1-2.1,1.3 2.6,2.1 3.2,3.2 .8,2.6 2.4,2.7-1.1,1.8 1.1,5.6-6.4,1-5.2-1.8-1.6-2.4 1-4.7 2.7-.6-2.1-1-2.7-2.7-2.6-3.1 0-2.7zM73.8,127.6l0-3.7 1.8-3.5 2.7-2.6 2.6-3.2 2.6-.2 5.1,1.6-2.9,1.5 2.9,2.4 4.4-1 3.2-1.1-4-.8 .6-1.8 6-1.9 4.5-.5-2.1,1.6-2.4,1.6-1.8,1.8 1.8,1.1 2.7,1.5 3.9,2.4 4.2,3.7-.2,1.3-4.8,1.3-7.1-.5-4.7-2.1-4.5,0-6.6,2.4-5.3-.3zM31.4,85.1l0,1.9 1.8,2.1 .8,1.8 4.5-1.6 3.7-.2 1.3-1.9 .8-2.9 3.1-2.6 2.4-2.1-.8-1.1-3.7-2.1 .8-3.1 2.7-2.1 4.4-1.6 2.7-2.9 2.9-2.7 5-.2 2.9,.5 .2,1.3-2.3,.8-5.8,3.2-2.9,2.1 .2,2.6 .3,2.7 4,2.3 8.1-1.3 6.6-.5 4,1.8-5.3,.8-5.3,0-6.6,1.1 0,1.6 2.4,1.8-1,2.4-3.7-1.9-2.7,.8-1.6,2.4 .3,3.2-3.2,2.1-3.1,.2-7.1,.3-4.8,1-1.8-1.5-4,.8-2.6-.8-1.3-1.4-.8-1.5 1.8-1.6-1.6-1.6 .8-2.4zM706.3,114.1l7.9-3.4 8-1.8 3.6,4.4-2.3,1.3-6.6-.7-6.6,.5zM717.4,126.5l.8-6.6 4.5-3.4 2.6,0-3.9,5.5-.6,4zM725.6,116.5l3.4-.5 6.3,.5 2.7,2.6-4.5,4.2-2.1-2.1-3.4,0 .7-3.4zM729,127.3l11.6-2.9-2.1,0-8.4,2.1zM738.5,123.1l9.2-.5-.5-1.9-6.6,.8zM687.9,104.1l5.8-.3-2.6-8.4-2.7,.8zM640.5,75.9l9.2,.5 10.5-3.9-6.6-.3-10.5,2.1zM619.4,64.6l9.2,1.3 7.9-2.6-4-2.7-9.2,.5zM78.5,78.5l3.2-.7 4.7-1.4-2.1-1.3-5.2,.8zM91.7,76.4l1.9-.5 2.1-3.4-2.1-.8-3.2,1.6zM83.8,239.8l3.2-3.4 2.6,.3 1.3,3.1-2.6,4-4,0zM154.2,118.6l2.6,1.3 2.7-2.6-2.7-2.7-2.6,1.4zM35.6,202.9l2.6-1.3 .8,1.9-2.6,.8z"/>
<path id="nodata" fill="#fff" d="M85.1,156.8l1.9,6.6 3.9,5.3 4,6.6 3.9,7.9 3.5,6.6 4.4,5.8 4,4.7 3.4,3.7 .8-1.8-2.1-5.8-2.1-4-4-6.6-3.1-5.3-2.9-6.6-4.5-6.5-4-5.3-1-3.4-2.9-1.1zM126.5,157.3l2.6,4.8 4,5.3 2.6,5.2 6.6,1.3 6.6-1.3 0-6.6-5.3,0-6.5-2.6-4-5.3-4-1.3zM357.7,268.8l16,0-.8,14.5-6.6,.8-6.5-6-2.7-2.7zM275.4,243.8l4-4 9.2,0 4,5.3 9.2,.8 6.6,3.2 0,6.6-7.9,0-10.6-1.4-10.5-2.6-2.7-4zM26.4,94.9l54,0 0-31.6-38.2,0-15.8,21zM72.5,129.7l38.2,0 0-17.7-38.2,0zM122.6,141l22.4,0 0-29-22.4,0z"/>
<path id="coast" fill="none" stroke="#000" stroke-width="2.6" stroke-linejoin="round" d="M-14.8,142.3l1.1-.6 1-.6 1.1-.6 1.2,0 1.2,0 1.2,0 1.3,0 1.2,0 1.2-.8 1.2-.8 1.3-.8 .7-1 .8-.9 .8-1-1.3-1.8 .8-1.4 .8-.9 .8-1 .8-1 1.1-.3 1.2-.4 1.1-.3 1.3-.8 1.3-.8-.1-1.3-.1-1.3 1.2-.7 1.1-.6 2.2,.2 1.5,.4 1.6,.4 1.3-.6 1.3-.6 1.4-.6 1.1-.6 1.2-.5 1.1-.5 1.2,.4 1.3,.5 1.2,.4 .8,1.6 .8,1 .8,1.1 1.4,.9 1.5,.9 1,.8 1.1,.8 1.1,.4 1.1,.3 1.2,.4 .9,.8 .9,.8 1.6,.5 .4,1.4 .4,1.5-.3,1.3-.2,1.3 1-.2 1.4-1.4 1.3-1.3-1.3-1.8 .7-1 .8-.9 2.1-.5 1.4,1.1-1.4-1.9-1.3-.4-1.3-.4-1.3-.4-1.3-.4-.3-1-1.2-.3-1.3-.3-1.2-.2-.8-1.2-.8-1.1-.8-1.1-1.1-.9-1.1-.9-1.2-.9 0-2.4 1.7-.3 1.7-.4 .3,1.5 1.6-.2 1.2,1.2 1.2,1.1 1,1.1 1.1,1.1 1.3,.4 1.3,.4 1.3,.5 1.3,.8 1.4,.8 1.1,.7 1.2,.8 .3,2.1-.3,1.6 .8,.9 .8,1 .9,1 1,1.1 1.8,1.3-.8,1.6 .8,1.3 .8,1.3 2.1,.8 .9-.9 .9-.9-.7-1.9 1.4-.5 1.5-.5-.9-1-.9-1-.9-.9-.5-1.5-.5-1.4 1.4,.4 1.5,.4 .8-1.6 1.3,0 1.3,0 1.3,0 1.3,0 .6,1 .7,1.1-.5,1.3 1.3,1.8-1,1.4 1.2,1 1.2,1.1 .5,1.3 1.3,.8 1.3,.4 1.3,.5 1.4,.4 1.3-.1 1.3-.2 1.3-.5 1.3-.5 1.3,.8 1.4,.8 1.3-.2 1.3-.2 1.3-.2 1.9-1.3 1.7,0 1.7,0 0,1.3 0,1.3-.5,2.2-.4,1.3-.4,1.3-.7,1.3-.7,1.3-.5,1.3-.5,1.4-1.1,1.8-1.5,.3-1.6,.2-1.9-.5 .3,1.2 .3,1.3 .2,1.2 .6,1.1 .6,1 .6,1.1 .6,1 1,.8 1.1,.8 1.1-2.1 .2-1.3 .3-1.3 .4,1.1 .4,1.1 .4,1.1 .4,1.1 .6,1.2 .7,1.2 .6,1.2 .7,1.2 .7,1.1 .6,1.1 .7,1.1 .6,1.2 .9,1.1 .9,1.1 .9,1.2 .6,1.3 .6,1.3 .6,1.3 .8,1.6 .8,1.6 .9,1.1 .9,1.2 .8,1.1 .6,1.3 .7,1.2 .6,1.2 .7,1 .7,1 .7,.9 .5,1.3 .5,1.4 .3,1.3 .3,1.3 .2,1.3 .4,1.7 .4,1.7 1.9,.3 1.3-.3 1.3-.2 1.3-.5 1.3-.4 1.4-.4 1.3-.5 1.3-.5 1.3-.4 1.3-.5 1.3-.8 1.4-.8 1.3-.4 1.3-.5 1.3-.5 1.3-.4 1.9-1.3 1.1-.7 1.2-.6 1.1-.6 1.3-.6 1.3-.6 1.4-.6 1.3-1 1.3-.9 1.3-1.2 1.3-1.1 1-1.1 .9-1.1 1-1.1 1.1-1.2 .9-1 .8-1 .9-.9 .4-1.2 .4-1.2-1-1-1.1-.9-1.1-1-1.4-.4-1.5-.4-.9-.9-1-.8-1-.9-.1-1.7-.1-1.7-1.1,.9-1,.9-.9,1.1-.9,1-.9,1.1-1.3,0-1.3,.1-1.3,.1-1.6,.2-1.6,.1-.2-1.2-.3-1.2-.1-1.4-.2-1.5-1.3,.3-.2,1.6-.3,1.5-.6-1.1-.6-1.1-.7-1.2-.7-1.2-.8-1.2-1-.9-.9-.9-.7-1.4-.7-1.4-.7-1.4 0-1.9 1.2-.5 1.2-.5 1.7,.4 1.7,.4 .8,1.6 .8,1.5 .9,1.4 .9,1.3 1.1,.6 1,.5 1.1,.6 1.1,.6 1,.6 1.7,.4 1.7,.4 1.3-.7 1.4-.6 1.3-.6 .9,1.2 .8,1.3 .9,1.2 1.5,.4 1.5,.3 1.5,.4 1.4,.1 1.3,.1 1.4,.1 1.4,.1 1.4,.1 1.2-.1 1.3,0 1.2-.1 1.3-.1 1.3,0 1.3-.1 1.3,0 1.3-.1 1.3,0 1.4,.8 1.3,.7 .6,1.2 .7,1.2 1.1,.6 1,.6 1.1,.7 1.7,.4 1.7,.3-1.5,.8-1.4,.8 1,1.2 .9,1.1 1,1.2 1.2,.4 1.2,.3 1.1-.4 1.1-.5 1.1-.4 1.1-.5 0-1.2 0-1.2 .3,1.6 .3,1.6 .1,1.4 .1,1.5 .2,1.3 .1,1.3 .3,1.3 .2,1.4 .3,1.3 .4,1.5 .5,1.5 .4,1.5 .5,1.2 .6,1.2 .5,1.3 .3,1.2 .4,1.2 .3,1.2 .7,1.5 .7,1.4 .6,1.2 .7,1.2 .6,1.5 .7,1.4 .5,1.5 .6,1.4 1,.9 1.1,1 .9-1.1 .9-1.1 1.1-.6 1-.7 .4-1.2 .4-1.1 1.6,0-.1-1.6-.2-1.6 .5-1.3 .4-1.3 .4-1.4 0-1.3-.1-1.3-.1-1.3-.2-1.5-.1-1.4 1.2-.5 1.2-.6 1.1-.5 1.2-.5 1.1-.5 1.1-.9 1-.9 1.1-.9 .8-.9 .9-.9 .8-.9 .9-1 1.1-.7 1.1-.7 1.2-.7 1.1-.8 .4-1.2 .5-1.2 .4-1.3 1.4-.2 1.5-.3 1.8,0 1.2-.3 1.2-.2 1.2-.7 1.2-.6 1.2-.2 1.2-.1 .4,1.1 .4,1.2 .5,1.1 .8,1.3 .9,1 .9,.9 .9,1 .8,1 .9,1 .8,.9 .2,1.4 .2,1.3 .2,1.3-.3,1.3-.3,1.3 1.5,.4 1.4,.4 1.2-1 1.2-1.1 1.2-.5 1.2-.5 1,2.1 .3,1.4 .3,1.4 .2,1.4 .6,1.3 .5,1.3 .5,1.3 .2,1.4 .2,1.3 .1,1.3-.1,1.3-.2,1.3-.2,1.3-.2,1.4-.1,1.3-.2,1.3 0,1.8 1.8,1.4 .9,1.2 1,1.1 .8,1.1 .8,1 0,1.3 .1,1.2 .1,1.2 .7,1.2 .7,1.1 .7,1.2 1,.8 1,.7 .9,.8 1.1,.6 1,.7 1.1,.6 1.8-.3-.5-1.4-.5-1.5-.6-1.3-.5-1.3 0-1.6 0-1.6-.6-1.2-.7-1.2-1.1-.7-1-.8-1.3-1-1.3-.9-1.9-1-.5-1.4-.5-1.3-.2-1.2-.1-1.1-.9-1-.9-.9 0-1.4 0-1.5 .5-1.2 .5-1.2 .4-1.1 .4-1.2 .5-1.6 2.1-.3 0,1.2 0,1.2 2.1,0 1.2,.5 1.2,.5 .5,1.4 .6,1.3 1.1,.6 1.2,.6 1.1,.6 1.6,1.3-.1,1.3-.1,1.2-.1,1.2 1.1,0 1-.8 .9-.7 1-.8 1-.8 1.3-1.6 1.6-.8 1.6-.8 1.1-.8 1-.8 .1-1.2 .1-1.2 .1-1.3-.1-1.3-.1-1.3-.1-1.3-.7-1.3-.6-1.3-.9-1.1-1-1.1-1-.7-1.1-.8-.9-1.2-.9-1.2-.9-1.3-1-1.3 0-2.2 .8-.9 .8-1 .8-1 1.6-1.5 1.8-.6 1.6-.5 2.1,.8 .7,1.3 .7,1.3 1.3,.3 .5-1.4 .5-1.5 1.2-.3 1.2-.2 1.1-.4 1.2-.3 1.1-.4 1.3-.4 1.4-.4 1.3-1 1.7-.2 1.7-.1 1.3-.6 1.3-.7 1.2-.9 1.2-1 1.2-.7 1.2-.8 1.2-1.2 1.2-1.2 .1-1.5 .1-1.4 1.1-.7 1-.6 .8-1.2 .8-1.2 .8-1.2 .8-1.2 .4-1.2 .4-1.1-1.1-1.4 1.1-1.5-.9-.8-1-.8 1.6-1.1-1.2-.9-1.2-.9-.7-2.1-.9-.9-.9-.9-.9-.9-1-1.3 .9-.9 1-.8 1-.9 1-1.3 1.6-.7 1.6-.6 1.6-1.4-1.8-.2-1.7-.3-2.1-.3-1.2,.8-1.1,.8-1.6-.8 0-1.5-1.2-.7-1.1-.6-1.2-.6 .6-1.3 1.4,.1 1.5,.2 1.2-1.1 1.1-1.1 1.1-.7 1.1-.8 1-.8 1.3,.5 1.3,.5-.9,1.1-.9,1 .8,1.6 1.6-.8 2.1-1 1.6-.3 1.5-.3 1.4,.8 1.5,.3-.2,2.1 .5,1.2 .5,1.2 1.2,.1 1.2,.1 .5,2.2-.5,1.3-.5,1.3 .2,1.2 .1,1.2 .2,1.3 1.2,0 1.2,0 2.1-1.1 1.4-.6 1.5-.7 .2-1.3 .3-1.3-.3-1.9-.7-.9-.7-1-.7-1-1-1.2-1.1-1.1 .7-1 .7-1 .7-.9 1.5-1 1.4-.9 .2-1.3 .1-1.3 1.2-.6 1.2-.5 1.8-1 1.2-.8 1.2-.8 1.6,.6 1.6,.7 1.2-.5 1.2-.6 1.2-.5 1.1-.8 1.1-.9 1-.9 1.1-.8 .9-.8 .9-.8 .9-.8 .9-.8 1-1.4 .9-1.5 .8-1.2 .8-1.1 1.3-.7 1.3-.7 .4-1.5 .4-1.6 .1-1.6 .2-1.6 .7-1.2 .7-1.2 .7-1.3-.3-1.3-.3-1.3-1.5-.5-1.6-.6-1.3-.6-1.4-.7-1.3,.3-1.3,.2-1.3,.3-.9-1-.9-1.1-1.5-.2-1.4-.2-1.4-.1 1.2-.6 1.1-.7 1.2-.6 1.3-1 1.3-1.1 1-.6 1-.7 1-.7 .9-.6 1.1-.7 1.1-.6 1-.7 1.1-.7 1.2-.6 1.2-.6 1.3-.6 1.5-.5 1.6-.6 1.2,0 1.2,0 1.3,0 1.2,0 1.2,0 1.3,.1 1.3,.1 1.3,0 1.4,.1 1.3,0 1.3-.1 1.3-.2 1.3-.2 1.3-.1 1.4-.2 1.3,.5 1.3,.6 1.3,.5 1.3-.1 1.3-.2 1.4-.1 1.3-.1 1.3-.8 1.3-.8 1-1 1-1 1-1 1-1 1.3-.3 1.3-.3 1.3-.3 1.3-.4 1.4-.1 1.3-.1 1.3,0-.2,1.2-.2,1.2-.1,1.3-.8,1-.8,1.1-.8,1.1-.8,1.1-.8,1.1-.8,1.1-.8,1.1-.8,1-.7,1.1-.8,1.1-.8,1-.6,1.3-.5,1.3-.5,1.4-.5,1.3 .3,1.3 .3,1.3 .4,1.3 .3,1.4 .6,1.4 .7,1.5 1.1-.6 1-.6 1.1-.6 1-.6 .4-1.5 .4-1.4 1.2-1 1.3-1 1.2-.9 1.1-.7 1.1-.6 1.2-.7 1.1-.7 .5-1.5 .5-1.6 1.5,0 1.4,0-.9-1.1-.9-1 .6-1.3 .7-1.4 .3-1.1 .4-1.2 .3-1.2 .3-1.2 1.3-.3 1.4-.2 1.3-.3 1.3-.3 1.3-.1 1.3-.1 1.3-.2 1.4-.1 1.3,.2 1.3,.2 1.3,.1 1.3,.2 1.4,.2 1.3,.2 1.3-.7 1.3-.6 1.3-.7 1.3-.7 1.4-.5 1.3-.5 1.3-.5 1.3-.6 1.3-.3 1.3-.4 1.4-.3 1.3-.4 1.3-.3 1.3-.4 1.2,0 1.2,0 1.2,0 1.2,0-.4-1.6-.4-1.5-1.3-.8-1.4-.8-1.3-.8 1.2-.6 1.1-.6 1.1-.7 1.4,.2 1.3,.2 1.3,.2 1.5-.2 1.5-.2 1.5-.2 1.3,.4 1.3,.4 1.3,.3 1.4,.4 1.3,.4 1.4-.4 1.2,.6 1.3,.8 1.3-.2 1.7,.2 .7-2.1 1.6,.3 1.2-.8 1.4-.5 .9-1 1.1-.8 1.5,.2-1.3-.1-.9-1.2-1.7,.9-.9-1.2-1.3-.5-1.4,.4-1.3-.2-1.3-.1-1.3-.4-1.3-.3-1.6,.3-1-1.2-1.3-.5-1.4-.4-1.3-.5-1.3-.5-1.3-.6-1.3-.5-1.4-.3-1.3-.2-1.3-.3-1.2-.2-1.2,.2-1.1-.8-1.4,.7-1.1-.3-1-1.4-1.1-.4-1.4,.8-1-1-1.4,.6-1.3-.3-1.3-.5-1.3-.1-1.3-.5-1.3,.9-1.3-1.1-1.4,.8-1.2-.6-1.5,.5-1.2-.5-1.5-.6-1.1,1.7-1.5-1.2-1.2,1-1.3,.2-1.3,.1-1.4-.5-1.2,1.4-1.4-1.1-1.3,.3-1.3,.1-1.3,.7-1.4-.4-1.3-.4-1.3-.5-1.3,1.6-1.3-.6-1.4-.2-1-.5-1-.6-.6-1.4-1.3-.1-1.3-.2-1.4-.2-1.3-.2-1.3-.5-1.3-.6-1.3,1-1.3-1.3-1.3,.5-1.3-.4-1.4,1.1-1.3-.5-1.3,0-1.3-.2-1.3-.8-1.4,.5-1.2-.5-1.4,0-1.3,.1-1.3,.1-1.5-.2-1.4-.4-1-1.2-1.5,0-1.2-.8-1.4-.1-1.3,.2-1.3-.8-1.4,1-1.2-.5-1.3-1-1.4,.6-1.3-.2-1.3,.3-1.3,0-1.3-.7-1.3-.4-1.4,.6-1.3,.1-1.3-.5-.9,1.2-1.3,.8-.4,1.5-1.3,.3-1.3,.4-1.3,.4-1.4-.6-1.5,.7-1.1-1.3-1.4,.6-1.3-.8-1.3,.4-1.3,.6-1.3-.8-1.3,.7-1.4-.6-1.3,.5-1.4,.2-1.2,.8-1.4,.8-1.2-1.3-1.4,0-1.3,.3-.2-1.7-.8-1.2-1.6-.5-.8-1.1-.9-.9-1.6-.1-.7-1.1-1.2-1-1.5,1.5-1.3-.2-1.3,.1-1.3-.4-1.3-.5-1.2,.7-1.3,.6-1.2,.7-1.6-.2-1.3,.6-1.3-1.1-1.3,1.2-1.4,0-1.3-.6-1.3-.4-1.3,0-1.3-.2-1.4-.1-1.4,.2-1.1-1.3-1.4,.1-1.3-.1-1.3-.1-1.3,.8-1.4-1.2-1.3,.9-.7-1-.9-.9-1-.7-1.2-.8-1.5-.2-1.1-1.1-1.7,.6-1.1-1.2-1.2-.8-1.8,.3-1.3-.8-1-1.3-1.2-.8-1.3-.5-1.5-.1-1.2-.7-1.5-.6-1.3-.8-1.7,.3-1.3-.2-1.2,.1-1.2,.6-1,1.1-1.4-.5-1.3,.3-1.5-.4-1,1.6-1.3,.5-1.3,.4-1.5-.3-1.3,0-1.4,0-1.1,1.4-1.5-.9-1.3,.5-1.3,0-1.2,1-1.4-.1-1.3,.1-1.3,.2-1.3-.3-1.4-.3-1.3-.2-1.4-.1-1.2,1.1-1.3-.2-1.5-.7-1.2,.9-1.2,.8-1.6-1.2-1,1.6-1.4,.2-1.2,.5-1.5-.6-1,.8-.3,1.3-1.5-.6-1.2,1.1-1.1,1.1-1.3,.2-1.5-.5-1.3-.2-1.4,.2-1.3,.3-1.4,1-1.5-.1-1.5-.4 .3,1.5-1.1,1.1 1.4,.4 .7,1.2 .6,1.3 1.5,.3 1,.8-.9-1.4-1.9,.5-1.3-.8-1.1-1-1.4-.1-1.2-.6-1.5,.4-1.2-.7-1.4,.4-1.3,.5-1.3,.7-1.3,0-1.3-.2-1.3-.4-1-1.4-1.6-.7 .6,1.2-.7,1.4 1.4,1-.7,1.4 .7,1.1-.3,1.3 .1,1.4-.7,1.2-.2,1.4-.2,1.3-1.5,.7 .1,1.9-1.3,.8-1.2-1.1-1.4-1-.1-1.3 .6-1.3-.5-1.4 0-1.3 1.3-1.1-.5-1.5 .3-1.4-1.2-1.2 .1-1.4-1.5-.3-1.2-1-1-1.1-1.6-.2-1.4,1-1.7-1.4-1.4,.9-.8,1.6 0,1.9-1.1,1.1-1.3,.5-1.5,.2-.5,2.1 1,1.2 .8,1.4 1.3,.9 1.3,1-1.3-.4-1.3-.4-1.3,.9-1.3-.4-1.3-.8-1.6,0-.8-1.7-1.6-.1-1.3-.3-1.4,.3-1.2-.5-1.3-.9-1.4,.8-1.2-1-1.3-.2-1.4,.7-1.4,.5-1,.8-.3,1.6-1.3,.6-1.3,.3-1.4,.1-1.3-.1-1.3-.6-1.2,1-1.4-.7-1.2,1-1.4-.2-1.4,0-1.4-.7-1.2-1.2-1.5-.1-.9,1.7-1.4,.2-1.5,.1-1.3,.4-1.4-.4-1.3,.1-1.2,1-1.4-.1-1,1.2-1.3,.7-1.6,.2-1.4-.7-1.1,1.8-1.5-.6-.6-1-.2-1.3-1.5-.6-.3-1.3-1.3,.4-1.4,.2-1.3-.8 .4,1.3 .7,1.2 .3,1.4 .5,2.1-1.6,.7-1.3-1.2-1.4-.8-1.5,.5-.9,1-.9,.7-1.4,.1-1,.6-1.1,.5 1.1,.8 1,.8-1.2,.1-1.1,.2-1.2,.1-1.2,.1-1.3,.4-1.3,.3-1.4,.4-1.3,0-1.3,0-1.3,0-1.6-.5-1.6-.6-.4-1.1-.4-1.2 1.1-1.9-1.3-.2-1.2-.5-1.1-.7-1.4,.1-1.3-1 1.5-.4 1.3,.5 .9,1.8 1.5-.4 1.3,.8 1.4-.4 1.3-.1 1.3,.1 1.3,.7 1.3,.4 1.4-.4 1.4,.6 1.1-1.7 1.4,.2 1.4,.3 1.2-1 1.4,.3-1.3-.7-.5-1.5-.9-1-1.4,.2-1.4-.3-1.1-1-1.3-.2-1-1.4-1.8,.7-1-1.3-1.5-.1-1.3-.7-1.3-.1-1.4,.5-1.2-1.1-1.5,1.3-1.2-.7-1.3-.4-1.3-.5-1.5,.5-1.2-.7-1.4,.8-1.2-1.3-1.4,.4-1.3-.4-1.1-1.4-1.5-1-1.5-.1-1.4-.2-1.5,.4-1.4-.6-1.3-.3-1.1,.7-1.4-.8-1,1.6-1.3-.4-1.3,.1-1.3,.4-1.4,0-1.4,.2-1.2,.9-1.4-.2-1.2,.6-1.2,1.1-1.4-.5-1.2,.8-1.5,.1-1.5,.1-1.1,1.1-1.2,.9-1.2,.7-1.5,0-1.1,1.3-1.6,.3-1.5,.4-1.1,.8-.5,1.4-1,1.2-1.2,1 0,1.6-1.3,1-1.1,.9-1.2,1-1.6-.3-.9,1.6-1.8,.2-1.1,.9-1.7-.6-1.1,1-1.4,.4-1.1,1-1.5,.2-.9,1-1.2,.6-1.3,.3 .4,1.3-.9,1 0,2.4 1.2,.7 .1,1.4 .5,1.9 1.4,.2 1,1.1 1.2,.2 1.3,.4 1.2-.6 1.4-.7 1.5-.4 1-1.3 1.4-.6 1.3-.7 1.8,1 .4,1.5 1.2,.9 .3,1.3-1.7,0-1.8,0-1.8,.3-1.1,.4-1.2,.5-1.1,.4-1.4,1.3 .2,1.3 .1,1.4 1.1,1.5 .8,1.6-.3,1.1-2.1,1-1.3,.3-1.4,.3-1.3-.2-1.3-.1-1.6,.7-1.5,.6-.8,1.9-1.1,.9-1,.9-1.4,.8-1.8,.5-1.2,.3-1.2,.3 0,1.8-1.2,.4-1.2,.5-1.3,.4-1.8,1.1-1.9-.3-1.8-.8 .4,1.3 .4,1.4-1.2,.1-1.2,.1-1.3-.2-1.3-.3-1.6,.5-1.6,.5 1.1,1.6 1.7,.4 1.7,.4 2.1,1.1 .9,.9 .9,.9 .8,2.1 0,1.3 0,1.4-.4,1.4-.4,1.5-1.3,.1-1.3,.1-1.7-.1-1.7-.1-1.3-.1-1.4-.1-1.3,0-1.3-.1-1.4-.1-1.5,0-1.4-.1-1.5-.1-1.1,.6-1.2,.7-1.1,.6 1,2.1 .3,1.6 .3,1.5-.6,1.5-.7,1.4-.6,1.4-.2,1.5 1.8,.8 0,1.6-.1,1.2-.2,1.2 1.4-.2 1.3-.2 1.3-.1 1.3,.5 1.3,.5 1.1,1.6zM934.1,142.3l1-.6 1.1-.6 1-.6 1.2,0 1.2,0 1.3,0 1.2,0 1.2,0 1.2-.8 1.2-.8 1.3-.8 .8-1 .8-.9 .7-1-1.3-1.8 .8-1.4 .8-.9 .8-1 .8-1 1.1-.3 1.2-.4 1.1-.3 1.3-.8 1.3-.8-.1-1.3-.1-1.3 1.2-.7 1.2-.6 2.1,.2 1.5,.4 1.6,.4 1.3-.6 1.4-.6 1.3-.6 1.1-.6 1.2-.5 1.1-.5 1.2,.4 1.3,.5 1.2,.4 .8,1.6 .8,1 .8,1.1 1.4,.9 1.5,.9 1,.8 1.1,.8 1.1,.4 1.2,.3 1.1,.4 .9,.8 1,.8 1.5,.5 .4,1.4 .4,1.5-.2,1.3-.3,1.3 1-.2 1.4-1.4 1.3-1.3-1.3-1.8 .8-1 .7-.9 2.2-.5 1.3,1.1-1.3-1.9-1.4-.4-1.3-.4-1.3-.4-1.3-.4-.3-1-1.2-.3-1.2-.3-1.3-.2-.8-1.2-.7-1.1-.8-1.1-1.2-.9-1.1-.9-1.2-.9 0-2.4 1.7-.3 1.8-.4 .2,1.5 1.6-.2 1.2,1.2 1.2,1.1 1,1.1 1.1,1.1 1.3,.4 1.3,.4 1.3,.5 1.4,.8 1.3,.8 1.2,.7 1.1,.8 .3,2.1-.3,1.6 .8,.9 .8,1 1,1 .9,1.1 1.8,1.3-.8,1.6 .8,1.3 .8,1.3 2.1,.8 .9-.9 1-.9-.8-1.9 1.4-.5 1.5-.5-.9-1-.9-1-.9-.9-.5-1.5-.5-1.4 1.4,.4 1.5,.4 .8-1.6 1.3,0 1.3,0 1.3,0 1.3,0 .6,1 .8,1.1-.6,1.3 1.4,1.8-1.1,1.4 1.2,1 1.2,1.1 .5,1.3 1.3,.8 1.3,.4 1.3,.5 1.4,.4 1.3-.1 1.3-.2 1.3-.5 1.3-.5 1.4,.8 1.3,.8 1.3-.2 1.3-.2 1.3-.2 1.9-1.3 1.7,0 1.7,0 0,1.3 0,1.3-.5,2.2-.4,1.3-.4,1.3-.7,1.3-.6,1.3-.6,1.3-.5,1.4-1,1.8-1.6,.3-1.6,.2-1.9-.5 .3,1.2 .3,1.3 .2,1.2 .6,1.1 .6,1 .6,1.1 .6,1 1.1,.8 1,.8 1.1-2.1 .2-1.3 .3-1.3 .4,1.1 .4,1.1 .4,1.1 .4,1.1 .6,1.2 .7,1.2 .7,1.2 .6,1.2 .7,1.1 .6,1.1 .7,1.1 .7,1.2 .8,1.1 .9,1.1 .9,1.2 .6,1.3 .6,1.3 .6,1.3 .8,1.6 .8,1.6 .9,1.1 .9,1.2 .8,1.1 .7,1.3 .6,1.2 .6,1.2 .7,1 .7,1 .7,.9 .5,1.3 .6,1.4 .2,1.3 .3,1.3 .2,1.3 .4,1.7 .4,1.7 1.9,.3 1.3-.3 1.3-.2 1.3-.5 1.4-.4 1.3-.4 1.3-.5 1.3-.5 1.3-.4 1.3-.5 1.4-.8 1.3-.8 1.3-.4 1.3-.5 1.3-.5 1.3-.4 1.9-1.3 1.1-.7 1.2-.6 1.1-.6 1.3-.6 1.4-.6 1.3-.6 1.3-1 1.3-.9 1.3-1.2 1.3-1.1 1-1.1 .9-1.1 1-1.1 1.1-1.2 .9-1 .9-1 .8-.9 .4-1.2 .4-1.2-1-1-1.1-.9-1-1-1.5-.4-1.4-.4-1-.9-1-.8-.9-.9-.2-1.7-.1-1.7-1.1,.9-1,.9-.9,1.1-.9,1-.8,1.1-1.4,0-1.3,.1-1.3,.1-1.6,.2-1.6,.1-.2-1.2-.3-1.2-.1-1.4-.2-1.5-1.3,.3-.2,1.6-.3,1.5-.6-1.1-.6-1.1-.6-1.2-.8-1.2-.8-1.2-.9-.9-1-.9-.7-1.4-.7-1.4-.7-1.4 0-1.9 1.2-.5 1.2-.5 1.7,.4 1.7,.4 .8,1.6 .8,1.5 .9,1.4 .9,1.3 1.1,.6 1.1,.5 1,.6 1.1,.6 1,.6 1.7,.4 1.7,.4 1.4-.7 1.3-.6 1.3-.6 .9,1.2 .9,1.3 .8,1.2 1.5,.4 1.5,.3 1.5,.4 1.4,.1 1.4,.1 1.3,.1 1.4,.1 1.4,.1 1.2-.1 1.3,0 1.2-.1 1.3-.1 1.3,0 1.3-.1 1.3,0 1.3-.1 1.4,0 1.3,.8 1.3,.7 .7,1.2 .6,1.2 1.1,.6 1,.6 1.1,.7 1.7,.4 1.7,.3-1.4,.8-1.5,.8 1,1.2 .9,1.1 1,1.2 1.2,.4 1.2,.3 1.1-.4 1.1-.5 1.1-.4 1.2-.5 0-1.2 0-1.2 .2,1.6 .3,1.6 .1,1.4 .2,1.5 .1,1.3 .1,1.3 .3,1.3 .2,1.4 .3,1.3 .4,1.5 .5,1.5 .4,1.5 .6,1.2 .5,1.2 .5,1.3 .4,1.2 .3,1.2 .4,1.2 .6,1.5 .7,1.4 .6,1.2 .7,1.2 .7,1.5 .6,1.4 .5,1.5 .6,1.4 1,.9 1.1,1 .9-1.1 .9-1.1 1.1-.6 1-.7 .4-1.2 .4-1.1 1.6,0-.1-1.6-.2-1.6 .5-1.3 .4-1.3 .5-1.4-.1-1.3-.1-1.3-.1-1.3-.1-1.5-.2-1.4 1.2-.5 1.2-.6 1.1-.5 1.2-.5 1.1-.5 1.1-.9 1-.9 1.1-.9 .8-.9 .9-.9 .9-.9 .8-1 1.1-.7 1.2-.7 1.1-.7 1.1-.8 .4-1.2 .5-1.2 .4-1.3 1.5-.2 1.4-.3 1.9,0 1.1-.3 1.2-.2 1.2-.7 1.2-.6 1.2-.2 1.2-.1 .4,1.1 .5,1.2 .4,1.1 .8,1.3 .9,1 .9,.9 .9,1 .8,1 .9,1 .9,.9 .1,1.4 .2,1.3 .2,1.3-.3,1.3-.2,1.3 1.4,.4 1.5,.4 1.1-1 1.2-1.1 1.2-.5 1.2-.5 1.1,2.1 .2,1.4 .3,1.4 .2,1.4 .6,1.3 .5,1.3 .5,1.3 .2,1.4 .2,1.3 .1,1.3-.1,1.3-.2,1.3-.2,1.3-.2,1.4-.1,1.3-.2,1.3 0,1.8 1.8,1.4 1,1.2 .9,1.1 .8,1.1 .8,1 .1,1.3 0,1.2 .1,1.2 .7,1.2 .7,1.1 .7,1.2 1,.8 1,.7 .9,.8 1.1,.6 1,.7 1.1,.6 1.8-.3-.5-1.4-.5-1.5-.5-1.3-.6-1.3 0-1.6 0-1.6-.6-1.2-.7-1.2-1-.7-1.1-.8-1.3-1-1.3-.9-1.9-1-.5-1.4-.5-1.3-.2-1.2-.1-1.1-.9-1-.9-.9 0-1.4 0-1.5 .5-1.2 .5-1.2 .4-1.1 .4-1.2 .5-1.6 2.1-.3 0,1.2 0,1.2 2.2,0 1.1,.5 1.2,.5 .6,1.4 .5,1.3 1.1,.6 1.2,.6 1.1,.6 1.6,1.3-.1,1.3-.1,1.2-.1,1.2 1.1,0 1-.8 1-.7 .9-.8 1-.8 1.4-1.6 1.5-.8 1.6-.8 1.1-.8 1-.8 .1-1.2 .1-1.2 .1-1.3-.1-1.3-.1-1.3-.1-1.3-.6-1.3-.7-1.3-.9-1.1-.9-1.1-1.1-.7-1-.8-1-1.2-.9-1.2-.9-1.3-.9-1.3 0-2.2 .8-.9 .7-1 .8-1 1.6-1.5 1.9-.6 1.5-.5 2.2,.8 .6,1.3 .7,1.3 1.3,.3 .5-1.4 .5-1.5 1.2-.3 1.2-.2 1.2-.4 1.1-.3 1.1-.4 1.4-.4 1.3-.4 1.3-1 1.7-.2 1.7-.1 1.3-.6 1.4-.7 1.1-.9 1.2-1 1.2-.7 1.2-.8 1.2-1.2 1.2-1.2 .1-1.5 .1-1.4 1.1-.7 1-.6 .8-1.2 .8-1.2 .8-1.2 .8-1.2 .4-1.2 .4-1.1-1.1-1.4 1.1-1.5-.9-.8-.9-.8 1.5-1.1-1.2-.9-1.1-.9-.8-2.1-.9-.9-.9-.9-.9-.9-1-1.3 .9-.9 1-.8 1-.9 1-1.3 1.6-.7 1.6-.6 1.6-1.4-1.7-.2-1.7-.3-2.2-.3-1.1,.8-1.2,.8-1.6-.8 0-1.5-1.2-.7-1.1-.6-1.1-.6 .5-1.3 1.4,.1 1.5,.2 1.2-1.1 1.2-1.1 1-.7 1.1-.8 1-.8 1.3,.5 1.4,.5-1,1.1-.9,1 .8,1.6 1.6-.8 2.1-1 1.6-.3 1.6-.3 1.3,.8 1.6,.3-.3,2.1 .5,1.2 .5,1.2 1.2,.1 1.2,.1 .5,2.2-.5,1.3-.5,1.3 .2,1.2 .1,1.2 .2,1.3 1.2,0 1.2,0 2.1-1.1 1.4-.6 1.5-.7 .3-1.3 .2-1.3-.2-1.9-.7-.9-.7-1-.7-1-1.1-1.2-1.1-1.1 .7-1 .8-1 .7-.9 1.4-1 1.5-.9 .1-1.3 .1-1.3 1.2-.6 1.2-.5 1.8-1 1.2-.8 1.2-.8 1.6,.6 1.6,.7 1.2-.5 1.2-.6 1.3-.5 1-.8 1.1-.9 1-.9 1.1-.8 .9-.8 .9-.8 .9-.8 1-.8 .9-1.4 .9-1.5 .8-1.2 .8-1.1 1.3-.7 1.3-.7 .4-1.5 .4-1.6 .1-1.6 .2-1.6 .7-1.2 .7-1.2 .7-1.3-.3-1.3-.2-1.3-1.6-.5-1.6-.6-1.3-.6-1.3-.7-1.4,.3-1.3,.2-1.3,.3-.9-1-.9-1.1-1.4-.2-1.4-.2-1.5-.1 1.2-.6 1.1-.7 1.2-.6 1.3-1 1.3-1.1 1-.6 1-.7 1-.7 1-.6 1-.7 1.1-.6 1-.7 1.1-.7 1.2-.6 1.2-.6 1.3-.6 1.6-.5 1.5-.6 1.2,0 1.3,0 1.2,0 1.2,0 1.2,0 1.3,.1 1.3,.1 1.3,0 1.4,.1 1.3,0 1.3-.1 1.3-.2 1.3-.2 1.4-.1 1.3-.2 1.3,.5 1.3,.6 1.3,.5 1.3-.1 1.4-.2 1.3-.1 1.3-.1 1.3-.8 1.3-.8 1-1 1-1 1-1 1-1 1.3-.3 1.3-.3 1.3-.3 1.4-.4 1.3-.1 1.3-.1 1.3,0-.2,1.2-.1,1.2-.2,1.3-.8,1-.8,1.1-.8,1.1-.8,1.1-.8,1.1-.8,1.1-.7,1.1-.8,1-.8,1.1-.8,1.1-.8,1-.5,1.3-.6,1.3-.5,1.4-.5,1.3 .3,1.3 .3,1.3 .4,1.3 .3,1.4 .7,1.4 .6,1.5 1.1-.6 1-.6 1.1-.6 1-.6 .4-1.5 .4-1.4 1.3-1 1.2-1 1.2-.9 1.1-.7 1.2-.6 1.1-.7 1.1-.7 .5-1.5 .5-1.6 1.5,0 1.4,0-.9-1.1-.9-1 .7-1.3 .6-1.4 .3-1.1 .4-1.2 .3-1.2 .3-1.2 1.4-.3 1.3-.2 1.3-.3 1.3-.3 1.3-.1 1.3-.1 1.4-.2 1.3-.1 1.3,.2 1.3,.2 1.3,.1 1.4,.2 1.3,.2 1.3,.2 1.3-.7 1.3-.6 1.3-.7 1.4-.7 1.3-.5 1.3-.5 1.3-.5 1.3-.6 1.3-.3 1.4-.4 1.3-.3 1.3-.4 1.3-.3 1.3-.4 1.2,0 1.2,0 1.2,0 1.2,0-.4-1.6-.4-1.5-1.3-.8-1.3-.8-1.4-.8 1.2-.6 1.1-.6 1.2-.7 1.3,.2 1.3,.2 1.3,.2 1.5-.2 1.5-.2 1.5-.2 1.3,.4 1.3,.4 1.3,.3 1.4,.4 1.3,.4 1.4-.4 1.2,.6 1.3,.8 1.4-.2 1.6,.2 .7-2.1 1.6,.3 1.2-.8 1.4-.5 1-1 1-.8 1.5,.2-1.3-.1-.9-1.2-1.7,.9-.9-1.2-1.2-.5-1.4,.4-1.3-.2-1.4-.1-1.3-.4-1.3-.3-1.6,.3-1-1.2-1.3-.5-1.4-.4-1.3-.5-1.3-.5-1.3-.6-1.3-.5-1.3-.3-1.4-.2-1.3-.3-1.1-.2-1.3,.2-1.1-.8-1.4,.7-1.1-.3-1-1.4-1.1-.4-1.4,.8-1-1-1.4,.6-1.3-.3-1.3-.5-1.3-.1-1.3-.5-1.3,.9-1.3-1.1-1.4,.8-1.2-.6-1.4,.5-1.3-.5-1.5-.6-1.1,1.7-1.5-1.2-1.2,1-1.3,.2-1.3,.1-1.4-.5-1.2,1.4-1.4-1.1-1.3,.3-1.3,.1-1.3,.7-1.3-.4-1.4-.4-1.3-.5-1.3,1.6-1.3-.6-1.3-.2-1.1-.5-1-.6-.5-1.4-1.4-.1-1.3-.2-1.3-.2-1.4-.2-1.3-.5-1.3-.6-1.3,1-1.3-1.3-1.3,.5-1.3-.4-1.4,1.1-1.3-.5-1.3,0-1.3-.2-1.3-.8-1.3,.5-1.3-.5-1.4,0-1.3,.1-1.3,.1-1.5-.2-1.4-.4-1-1.2-1.5,0-1.2-.8-1.3-.1-1.4,.2-1.2-.8-1.4,1-1.3-.5-1.3-1-1.4,.6-1.3-.2-1.3,.3-1.3,0-1.3-.7-1.3-.4-1.4,.6-1.3,.1-1.3-.5-.9,1.2-1.3,.8-.4,1.5-1.3,.3-1.3,.4-1.3,.4-1.4-.6-1.4,.7-1.2-1.3-1.4,.6-1.3-.8-1.3,.4-1.3,.6-1.3-.8-1.3,.7-1.3-.6-1.4,.5-1.4,.2-1.2,.8-1.4,.8-1.2-1.3-1.3,0-1.4,.3-.2-1.7-.8-1.2-1.6-.5-.8-1.1-.9-.9-1.5-.1-.8-1.1-1.2-1-1.4,1.5-1.4-.2-1.3,.1-1.3-.4-1.3-.5-1.2,.7-1.2,.6-1.3,.7-1.5-.2-1.4,.6-1.3-1.1-1.3,1.2-1.3,0-1.3-.6-1.3-.4-1.4,0-1.3-.2-1.4-.1-1.3,.2-1.2-1.3-1.4,.1-1.3-.1-1.3-.1-1.3,.8-1.4-1.2-1.2,.9-.8-1-.9-.9-1-.7-1.2-.8-1.5-.2-1.1-1.1-1.7,.6-1.1-1.2-1.2-.8-1.8,.3-1.3-.8-.9-1.3-1.3-.8-1.3-.5-1.5-.1-1.2-.7-1.5-.6-1.3-.8-1.7,.3-1.3-.2-1.2,.1-1.2,.6-1,1.1-1.4-.5-1.3,.3-1.5-.4-1,1.6-1.3,.5-1.3,.4-1.5-.3-1.3,0-1.3,0-1.2,1.4-1.5-.9-1.2,.5-1.4,0-1.2,1-1.4-.1-1.3,.1-1.3,.2-1.3-.3-1.4-.3-1.3-.2-1.4-.1-1.2,1.1-1.3-.2-1.4-.7-1.3,.9-1.2,.8-1.5-1.2-1.1,1.6-1.4,.2-1.2,.5-1.5-.6-1,.8-.3,1.3-1.5-.6-1.1,1.1-1.2,1.1-1.3,.2-1.5-.5-1.3-.2-1.3,.2-1.3,.3-1.4,1-1.6-.1-1.5-.4 .4,1.5-1.2,1.1 1.4,.4 .7,1.2 .6,1.3 1.5,.3 1.1,.8-1-1.4-1.9,.5-1.3-.8-1.1-1-1.4-.1-1.2-.6-1.5,.4-1.2-.7-1.4,.4-1.3,.5-1.2,.7-1.4,0-1.3-.2-1.3-.4-1-1.4-1.6-.7 .7,1.2-.8,1.4 1.4,1-.7,1.4 .7,1.1-.3,1.3 .1,1.4-.7,1.2-.2,1.4-.2,1.3-1.5,.7 .1,1.9-1.3,.8-1.2-1.1-1.4-1-.1-1.3 .6-1.3-.5-1.4 0-1.3 1.3-1.1-.5-1.5 .3-1.4-1.2-1.2 .1-1.4-1.5-.3-1.1-1-1.1-1.1-1.6-.2-1.4,1-1.7-1.4-1.4,.9-.8,1.6 .1,1.9-1.1,1.1-1.4,.5-1.5,.2-.5,2.1 1,1.2 .8,1.4 1.4,.9 1.3,1-1.3-.4-1.3-.4-1.4,.9-1.3-.4-1.3-.8-1.6,0-.8-1.7-1.6-.1-1.3-.3-1.3,.3-1.3-.5-1.3-.9-1.4,.8-1.2-1-1.3-.2-1.4,.7-1.4,.5-1,.8-.3,1.6-1.3,.6-1.3,.3-1.3,.1-1.4-.1-1.3-.6-1.1,1-1.5-.7-1.2,1-1.4-.2-1.3,0-1.5-.7-1.2-1.2-1.5-.1-.9,1.7-1.4,.2-1.5,.1-1.2,.4-1.4-.4-1.4,.1-1.2,1-1.3-.1-1.1,1.2-1.3,.7-1.6,.2-1.4-.7-1.1,1.8-1.4-.6-.7-1-.2-1.3-1.5-.6-.3-1.3-1.3,.4-1.4,.2-1.2-.8 .3,1.3 .7,1.2 .3,1.4 .5,2.1-1.6,.7-1.3-1.2-1.3-.8-1.6,.5-.8,1-1,.7-1.4,.1-1,.6-1.1,.5 1.1,.8 1,.8-1.1,.1-1.2,.2-1.2,.1-1.2,.1-1.3,.4-1.3,.3-1.3,.4-1.4,0-1.3,0-1.3,0-1.6-.5-1.6-.6-.4-1.1-.4-1.2 1.1-1.9-1.3-.2-1.2-.5-1.1-.7-1.4,.1-1.3-1 1.5-.4 1.3,.5 .9,1.8 1.5-.4 1.3,.8 1.4-.4 1.3-.1 1.3,.1 1.3,.7 1.3,.4 1.4-.4 1.4,.6 1.1-1.7 1.4,.2 1.4,.3 1.2-1 1.4,.3-1.3-.7-.5-1.5-.9-1-1.4,.2-1.3-.3-1.2-1-1.3-.2-1-1.4-1.8,.7-1-1.3-1.5-.1-1.3-.7-1.3-.1-1.4,.5-1.2-1.1-1.4,1.3-1.3-.7-1.3-.4-1.3-.5-1.4,.5-1.3-.7-1.4,.8-1.2-1.3-1.4,.4-1.3-.4-1.1-1.4-1.5-1-1.4-.1-1.5-.2-1.5,.4-1.4-.6-1.3-.3-1.1,.7-1.3-.8-1.1,1.6-1.2-.4-1.4,.1-1.3,.4-1.4,0-1.4,.2-1.1,.9-1.5-.2-1.2,.6-1.2,1.1-1.4-.5-1.2,.8-1.5,.1-1.5,.1-1.1,1.1-1.2,.9-1.2,.7-1.5,0-1,1.3-1.7,.3-1.5,.4-1,.8-.6,1.4-1,1.2-1.1,1-.1,1.6-1.3,1-1.1,.9-1.2,1-1.6-.3-.8,1.6-1.8,.2-1.2,.9-1.7-.6-1.1,1-1.4,.4-1.1,1-1.5,.2-.9,1-1.2,.6-1.3,.3 .4,1.3-.9,1 0,2.4 1.2,.7 .1,1.4 .5,1.9 1.4,.2 1,1.1 1.2,.2 1.3,.4 1.2-.6 1.4-.7 1.5-.4 1.1-1.3 1.3-.6 1.3-.7 1.8,1 .5,1.5 1.1,.9 .3,1.3-1.7,0-1.7,0-1.9,.3-1.1,.4-1.2,.5-1.1,.4-1.3,1.3 .1,1.3 .1,1.4 1.1,1.5 .8,1.6-.3,1.1-2.1,1-1.3,.3-1.3,.3-1.4-.2-1.3-.1-1.6,.7-1.5,.6-.8,1.9-1.1,.9-1,.9-1.4,.8-1.8,.5-1.2,.3-1.2,.3 0,1.8-1.2,.4-1.2,.5-1.3,.4-1.8,1.1-1.8-.3-1.9-.8 .4,1.3 .4,1.4-1.2,.1-1.2,.1-1.3-.2-1.3-.3-1.6,.5-1.6,.5 1.1,1.6 1.7,.4 1.7,.4 2.1,1.1 .9,.9 1,.9 .8,2.1 0,1.3 0,1.4-.4,1.4-.4,1.5-1.4,.1-1.3,.1-1.7-.1-1.7-.1-1.3-.1-1.3-.1-1.4,0-1.3-.1-1.4-.1-1.5,0-1.4-.1-1.5-.1-1.1,.6-1.2,.7-1.1,.6 1.1,2.1 .2,1.6 .3,1.5-.6,1.5-.6,1.4-.7,1.4-.2,1.5 1.8,.8 0,1.6-.1,1.2-.1,1.2 1.3-.2 1.3-.2 1.3-.1 1.3,.5 1.3,.5 1.1,1.6zM-15.3,142.8l-1,1.9-1.6,2.9-2.1,1-2.4,1.1-2.1,1.8-1.3,2.9 .5,2.7-1.6,2.9-3.4,2.6-3.7,1.1-1.6,2.3-2.6,2.4-1.3,3.4-2.7,2.9-.8,3.5-1.8,2.6-.3,1.6 2.1,3.4 .6,4-1.1,5-1.6,2.9-1,.8 1.8,2.6 .3,3.4 3.1,2.1 1.4,2.1 3.4,3.5 1.6,3.4 2.9,2.6 3.1,2.4 4.8,3.4 3.9,1.6 5.3-1.8 4-.3 3.9,.8 1.3,.3 2.7-1.1 2.6-1.1 3.2-1.3 3.1-.8 3.2,0 2.4,.6 2.6,3.1 1.6,1.9 2.6-.3 3.4-.5 2.1,1.6 1.6,2.6 0,2.6-1,2.7-.3,2.6-1.3,2.1 1.8,2.9 2.7,2.9 1.8,2.6 1.9,2.7 1,2.9 1.6,4.5 1.1,2.6-.8,3.2 1.8,2.6 0,2.6-2.9,3.5-1,3.1-1.1,4 0,3.4 1.3,3.2 2.4,3.9 2.1,4 1.3,3.7 .8,5.5 1.1,4.2 3.4,5.3 2.1,3.7 2.4,3.9 .2,3.5 .3,3.6 2.9,1.4 1.3,.2 4-1 3.9-1.3 6.9,.2 2.3-.8 4-2.6 4-3.4 3.9-4 3.7-3.7 .8-4.5 .5-2.3 1.6-1.6 5.3-3.4 0-5.3-.6-2.6-1.5-3.2 4.2-2.6 2.9-3.2 4.2-2.1 3.9-3.4 .3-4-.3-5.3-.2-3.9-2.1-5.3-1.1-3.9-.5-2.7 1.8-3.9 1.4-4 3.4-3.2 2.6-2.6 2.6-3.4 3.5-2.9 3.1-2.6 4-5.1 2.9-3.9 2.4-5.3 3.4-6.6 1.3-3.4-2.1-.3-4,1.6-3.9,.5-5,1.4-3.7,.2-2.4-3.1-1.3-2.1-.8-1.9-2.6-1.8-1.9-1.9-2.9-1.8-1.3-1.9-1.6-4.2-3.1-3.1-.6-3.2-.7-4-2.4-2.6-1.3-3.4-2.1-3.7-1.9-3.7-1.3-2.1-2.4-6.6-.8-3.7-6,0-2.7,1.1-5.2-1.1-4.8-.8-3.1-1.3-2.7-1.3-3.9-.8-3.7,1.8-.8,3.5-3.4,1-4-1.3-3.9-1.3-.8-2.1-5.3-1.6-4.5-.5-2.6-1.6-1.1-1.6 2.4-1.8-1.1-2.2 .8-1.8 .3-1.6-2.1-.2-1.1-.3-3.4,1.1-4-.3-3.9,1-6.6-.5-5.3,.8-3.9,1.8-2.7,1.4-3.6,0-3.7,.2-2.7-1.8zM933.5,142.8l-1,1.9-1.6,2.9-2.1,1-2.4,1.1-2.1,1.8-1.3,2.9 .5,2.7-1.6,2.9-3.4,2.6-3.7,1.1-1.6,2.3-2.6,2.4-1.3,3.4-2.7,2.9-.7,3.5-1.9,2.6-.3,1.6 2.2,3.4 .5,4-1.1,5-1.6,2.9-1,.8 1.8,2.6 .3,3.4 3.2,2.1 1.3,2.1 3.4,3.5 1.6,3.4 2.9,2.6 3.2,2.4 4.7,3.4 3.9,1.6 5.3-1.8 4-.3 3.9,.8 1.3,.3 2.7-1.1 2.6-1.1 3.2-1.3 3.1-.8 3.2,0 2.4,.6 2.6,3.1 1.6,1.9 2.6-.3 3.5-.5 2.1,1.6 1.5,2.6 0,2.6-1,2.7-.3,2.6-1.3,2.1 1.9,2.9 2.6,2.9 1.8,2.6 1.9,2.7 1,2.9 1.6,4.5 1.1,2.6-.8,3.2 1.8,2.6 0,2.6-2.9,3.5-1,3.1-1.1,4 0,3.4 1.3,3.2 2.4,3.9 2.1,4 1.3,3.7 .8,5.5 1.1,4.2 3.4,5.3 2.1,3.7 2.4,3.9 .2,3.5 .3,3.6 2.9,1.4 1.3,.2 4-1 3.9-1.3 6.9,.2 2.4-.8 3.9-2.6 4-3.4 3.9-4 3.7-3.7 .8-4.5 .5-2.3 1.6-1.6 5.3-3.4 0-5.3-.5-2.6-1.6-3.2 4.2-2.6 2.9-3.2 4.2-2.1 4-3.4 .2-4-.2-5.3-.3-3.9-2.1-5.3-1.1-3.9-.5-2.7 1.8-3.9 1.4-4 3.4-3.2 2.6-2.6 2.7-3.4 3.4-2.9 3.2-2.6 3.9-5.1 2.9-3.9 2.4-5.3 3.4-6.6 1.3-3.4-2.1-.3-3.9,1.6-4,.5-5,1.4-3.7,.2-2.4-3.1-1.3-2.1-.8-1.9-2.6-1.8-1.9-1.9-2.9-1.8-1.3-1.9-1.5-4.2-3.2-3.1-.5-3.2-.8-4-2.4-2.6-1.3-3.4-2.1-3.7-1.9-3.7-1.3-2.1-2.4-6.6-.8-3.7-6,0-2.7,1.1-5.2-1.1-4.8-.8-3.1-1.3-2.7-1.3-3.9-.8-3.7,1.8-.8,3.5-3.4,1-4-1.3-3.9-1.3-.8-2.1-5.3-1.6-4.5-.5-2.6-1.6-1.1-1.6 2.4-1.8-1-2.2 .7-1.8 .3-1.6-2.1-.2-1.1-.3-3.4,1.1-3.9-.3-4,1-6.6-.5-5.2,.8-4,1.8-2.6,1.4-3.7,0-3.7,.2-2.7-1.8zM505.8,64.3l1.6,.1 1.1-1.3 1.5-.4 1.2-.8 1.5,.7 1.2-1 1.4,.1 1.2,.7 1.4,.6 1.2-.9 1.4,.5 1.3-.9 1.4,.8-1.4-1.9-1.4-.6-1.5-.4-1.5,.5-1.3-1-1.6-.6-1.5,.2-1.2-.8-1.5,.4-1.1-1.1 .5-1.5 1.6-.1 1.1-1.1 1.7,1.1 1.1-1.1 1.3-.6 1.4,.1 1-1.2 1.9,.8 1-1.3 1.4-.4 1.4,.6 1.1-1.5 1.4,0 1.5,.5 1.2-.9 1.3,.4 1-1 1.1-.2 1.2-.3 1.2-.2 1.3-.7 1.2,.2 1,1.5 1.2,.6 1.3-.6 1.5,.4 1.4-.9 1.5,1 1.4-.5 1.1,.9 1.4-.6 1.2,0 1.1,1.2 1.3-.4 1.2,.9 1.4-.1 1.3,0 1.3-.1 1.4-.2 1.3,0 1.4-.5 1.2,1.1 1.4-.4 1.3,.3 1.3-.3 1.3,.7 1.3-.5 1.3,.1 1.6-.5 1.3,.3 1,1.4 1.4,.2 1.3-.6 1.3,1 1.4-.8 1.3,.6 1.2,.6 1.5-.4 1,1.5 1.4,.1 1.5-.2 1.2-.7 1.6,.3 1.1-.9 1.4,.2 1.2-.8 1.4,.6 1.3-.5 1.3,.2 1.3-1.1 1.4,1.2 1.3-.9 1.4,.6 1.1-1.7 1.3-.4 1.4,.5 1.3-.5 1.3-.1 1.4,.1 1.7,.1 .9,1.4 1.3,.8 1.3,.8 1.4-.4 1.3-.1 1.3-.1 1.2-1 1.4,.3 1.5,.7 1.2-1 1.4,.1 1.4,0 .9,1.7 1.5-.4 1.5-.7 1.1,1.8 1.4-1 1.3,.7 1.3-.1 1.4,.3 1.2,.8 1.3,.2 1.3,0 1.4-.2 1.5-.2 1.3,.3 1.3,.4 1.1,1.2 1.3,.3 1.4,.1 1.4,0 1.3,.4 1.3-.6 1.3-.3 1.3-.2 1.4,.3 1.3,.1 1.3-.7 1.4,.4 1.2-.9 1.3-.3 1.4,.2 1.2,.6 1.2,.8 1.5-.5 1.3,.2 1.4-.7 1.3,.7 1.3,.3 1.3,.2 1.3,0 1.3,.3 1.3-.5 1.4,.8 1.3-1.3 1.3,.8 1.3-.1 1.2-1.2 1.4-.6 1.2,1.1 1.4-.2 1.2,.7 1.5-.3 1.2-.7-.1-1.4 .6-1 1-.9-1.1-.7-.5-1.3-1.1-.6 .6-1.4 1.1-.7 1.2-.6 1.1-.7 1.2,.9 1.6,.1 1.1,1.1 .6,1.2 .8,.9 1.3,.5 .9,1.4 1.9-.5 .8,1.6 1.6,.1 1.2,.9 1.5,.4 1.3,.6 .8,.9 1.3,.5 .5,1.2 1.4-.7 0-1.7 1-1.1 1.2-.8 .4-1.5 1.4,.1 1.2-.4 1.5,.2 1.3-.1 1.2-1.1 1,1.3 1.5,.3 1.4,.5 .7,1.3-1.1,1.2 .4,1.2-.4,1.5-.8,1.2-1.4,.7-1.3-.5-1.4,1.1-1.3-.6-1.3,.1-1.3,.4-1.3-.5-1,.7-.9,.9-1.5-.1-.6,1.2-1.5,.6-.2,1.7-.9,1.1-1.3,.4-1.4,.3-1.3,.4-1.3,.4-1.3,.3-1,.7-1,.7-1,.6-1,.7-.9,.6-1,.7-1,.7-1,.6-.9,1.1-.9,1-.8,1.1-.2,1.3-.2,1.3-.2,1.3 1.1,.9 1.2,.8 1.1,.9 1.1,.9 1.3,.2 1.3,.3 1.4,.2 1.3,.3 1.3,.3 1.3,.3 1.3,.4 1.3,.3 1.4,.3 1.3,.4 1.3,.4 1.3,.5 1.3,.4 1.4,.4 1.3,.3 1.3,.4 1.3,.3 1.3,.3 1.3,.2 1.4,.2 1.3,.1 .2,1.4 .2,1.3 .2,1.3 .2,1.3 1,.9 1.1,.9 1,.9 1.4,.9 1.3,.9 1.4-.5 1.5-.6-.1-1.1-.1-1.2 0-1.2-.1-1.2-.7-1.3-.6-1.3 1.3-.7 1.3-.7 1.3-.6 1.4-.7 .8-.9 .9-.8 .9-.9-.4-1.3-.5-1.3-.4-1.4-.5-1.3-.4-1.3-.4-1.3-.5-1.3-.4-1.3-.5-1.4 .2-1.2 .2-1.2 .2-1.3 1.2,.1 1.2,0 1.3,.1 1.2,0 1.2,.1 1.2,0 1.4,0 1.3,0 1.3,0 1.3,.7 1.3,.6 1.4,.7 1.3,.6 1.5,.5 1.5,.4 1.5,.5 .3,1.7 .4,1.7 1.4,1.8 1.3,.5 1.3,.4 1.3,.4 1.3-.4 1.3-.4 1.4-.5 1-1 .9-.9 1-1 1-1 .7,1.2 .6,1.1 .7,1.2 .7,1.2 .9,.8 1,.8 1,.8 1,.8 .9,1.1 .9,1.2 .8,1.1 1.4,.6 1.3,.6 1.3,.7 1,.6 1,.7 1,.6 1,.7 .9,.8 1,.9 1,.9 1,.8 .9,1.3 .9,1.4-1.1,.3-1.1,.4-1.1,.4-1.1,.4-1.1,.6-1.1,.5-1.1,.5-1.1,.5-1.1,.6-1.1,.5-1.3,0-1.4,0-1.3,0-1.3,0-1.3,0-1.3,0-1.3,0-1.4,0-1.3,0-1.3,0-1.3,0-1.3,0-1.4,0-1.3,.7-1.3,.6-1.3,.7-1.3,.6-1,.9-1,.8-1,.9-1,.9-1,.8-1.1,.9-1,.9 1.5-.7 1.6-.6 1.3-.8 1.4-.8 1.3-.8 1.3-.6 1.3-.6 1.3-.6 1.3-.6 1.5,.2 1.4,.2 1.5,.2 1.4,.2-.9,1.1-.9,1 .5,1.5 .6,1.4 .7,1.1 .8,1 1.4,.3 1.3,.2 1.3,.2 1.3,.2 1.3,.2 1.3-.2 1.4-.2 1.3-.1-1.3,1-1.4,1.1-1.3,.3-1.3,.3-1.3,.3-1.3,.3-1.3,.4-1.2,.5-1.2,.5-1.1,.5-1.2,.6-1.1,.5-.6-1.2-.5-1.2 1.4-.7 1.4-.7 1.4-.7-1.3,.1-1.3,.1-1.3,.1-1.5,.6-1.4,.7-1.3,.3-1.2,.4-1.2,.3-1.3,.6-1.4,.5-1.3,.5-.9,1.1-.9,1 .2,1.9 1.6,.5 0,.8-1.3,.3-1.3,.2-1.3,.3-1.3,.3-1.4,.2-1.3,.5-1.3,.4-1.3,.4 0,1.9-1.3,1.8-1.4,1.1-.5,1.2-.5,1.2-.8,2.1-.8,.8 .4,1.1 .3,1.1 .4,1.2 .2,1-1.3,.7-1.3,.6-1.1,.7-1.2,.6-1.1,.6-1.6,.7-1.6,.6-1.2,.9-1.2,1-.9,.8-1,.9-1,.9-.3,1.1-.4,1.2-.3,1.1 .2,1.3 .3,1.4 .8,1.4 .8,1.5 .4,1.4 .5,1.4 .4,1.4-.1,1.6-.2,1.5-1.5,1.1-1.4-1.9-.7-.9-.8-.9-1-1.5-.9-1.4-.1-1.3-.1-1.3-1.4-1.6-1-.9-1.1-1-1.6,.4-1.5,.4-1.4-.9-1.3-.9-1.7,.1-1.7,.1-1.3-.1-1.3-.1-1.4,.2-1.3,.3 .4,1.2 .4,1.2-1.3,.2-1.3,.3-1.2-.3-1.1-.4-1.1-.3-1.4-.2-1.3-.2-1.3-.2-1.3,.2-1.3,.2-1.3,.2-1.4,.9-1.3,.9-1.1,.6-1.2,.6-1.1,.6-.7,1.1-.6,1.1-.2,1.7-.1,1.7-.2,1.3-.1,1.3-.2,1.3-.1,1.3-.1,1.4 0,1.3-.1,1.3 .5,1.3 .4,1.3 .4,1.4 .7,1.2 .6,1.2 .6,1.2 1.3,1.6 1.3,.7 1.3,.6 1.9,.8 1.3-.2 1.3-.3 1.3-.3 1.7-.1 1.8-.1 .9-.9 .9-1 .5-1.5 .6-1.6 1-1.9 1.3-.2 1.3-.3 1.4-.3 1.3,0 1.3,0 1.3,0 .3,1.4 .2,1.3-.7,1.3-.8,1.3-.6,1.6-.5,1.6-.4,1.1-.5,1.2-.4,1.1-.4,1.3-.4,1.3 1.5,.3 1.4,.3 1.3-.1 1.3-.1 1.4-.1 1.3,.1 1.3,.1 1.3,.1 1.1,.7 1,.7 1.1,.7-.2,1.3-.2,1.3-.2,1.3 0,1.3-.1,1.4-.1,1.3-.3,1.3-.2,1.3 .7,1.1 .8,1 1.2,1.3 1.2,1.4 1.2,.5 1.2,.5 1.2-.4 1.2-.5 1.3-.4 1.3-.3 1.3-.2 1.1,.6 1,.6 1.1,.6 2.1,.8 .9-.9 .9-.9 .6-1.1 .6-1.1 .7-1 1-.8 1.1-.8 1.7-.4 1.7-.4 1.6-.8 1.6-.8 1-.6 1.1-.7 1.3,1.9 2.1,.2 .5-1.6 1.3,1.9 1.1,.6 1.1,.6 1,.6 1.7,.3 1.7,.3 1.3,.3 1.4,.4 1.3,.3 1.1-.3 1.2-.4 1.1-.3 1.5-.1 1.5-.1 1.5-.1 1.8,0-.5,1.8 1.3,.7 1.3,.7 1,1.2 .9,1.1 1,.7 .9,.7 1,.7 1.2,1.4 1.2,1.3 1,.7 1.1,.7 1,.7 1.4,.1 1.4,.1 1.4,.1 1.4,.2 1.3,.3 1.3,.2 1.3,.4 1.3,.3 1.3,.4 .9,.9 .9,.9 .9,.8 .6,1.6 .7,1.6 .6,1.1 .6,1 .6,1.1 .4,1.7 .4,1.7 .9,.9 .9,.8 .9,.9 .8,.9 .8,1 1.2-.5 1.2-.4 1.2-.5 1.4,.6 1.3,.5 1.3,.5 1.1,1.1 1,1 1.1,1.1 1.7,0 1.7,0 1.3,.3 1.3,.4 1.3,.3 1.4,0 1.3-.1 1.3-.1 1.3,.8 1.3,.8 1.3,.8 1.2,.8 1.1,.9 1.2,.9 1.5,.3 1.5,.4 1.5,.3 .3,1.3 .4,1.2 .3,1.2 .4,1.4 .4,1.3-.4,1.3-.3,1.3-.4,1.3-.8,1.3-.9,1.2-.9,1.2-1,1-.9,.9-1,1-.8,1-.8,1-.8,1-.8,1-.4,1.3-.4,1.3-.5,1.3 0,1.3 0,1.4 0,1.3-.2,1.2-.2,1.1-.2,1.2-.2,1.2-.4,1.5-.4,1.5-.5,1.5-.9,1.3-.9,1.3-.5,1.4-.4,1.3-.4,1.3-1.4,1.2-1.3,1.2-1.3,0-1.3,.1-1.3,.1-1.6,.4-1.6,.4-1.2,.5-1.2,.4-1.2,.5-1.1,.5-1.2,.7-1.1,.8-1.2,.8-.9,1.3-.9,1.4-.1,1.4-.1,1.4-.1,1.4-.2,1.4-.3,1.5-1.3,1-1.3,1.1-.7,1-.7,.9-.7,1-.8,1-.8,1.1-.8,1.1-.9,1.1-.9,1.1-.9,1.2-1.3,1-1.3,1.1-1.2,1-1.2,.9-1.3,1-1.7,0-1.7,0-1.1-.5-1.2-.4-1.1-.4-1.3-.2-1.4-.1 1.4,1.9 1,.6 1.1,.7 .6,1.2 .7,1.1-.6,1.2-.6,1.1-.6,1.1-.6,1.1-1.2,.5-1.3,.6-1.2,.5-1.3,.1-1.3,.2-1.3,.1-1.4,.1-1.7-.1-1.7-.1 .3,1.5 .2,1.6-1,2.1-1.3,0-1.3,0-1.4,0-1.3,0-1.3,1.9 1.3,.8 1.3,.8 .8,1.8-1.4,.3-1.5,.2-.3,1.4-.4,1.3-.3,1.3-1.2,.4-1.1,.5-1.2,.4-.8,.9-.9,.9-.9,.8 .9,1.4 1,1.3 1.1,1 1.2,1.1-1,.8-1.1,.8-1,.8-1.1,.7-.9,1.1-.8,1.1-.9,1-.9,1.1-1,1 .7,1.2 .7,1.1 .7,1.1-1.4,.3-1.5,.3-1.1,.9-.8,1.3-1.5,.4-1.8,.8-1.4-.6-1.3-.7-.9-1.5-1.9,.5-1.1-1.1-1.1-.8 .1-1.5-1.3-.5-.4-1.2-1-1.1 .4-1.5-.1-1.3-.9-1.3 1.2-1.5-.9-1.2 1.7-.8 .4-1.8-.9-.9-1.2-.4 1.4-.4-.3-2 1.6-.3 1.1-.6 .2-1.3 1.3-.6 0-1.4 1.4-1-.6-1.9 1-1.1-1.1-.7-.7-1.1 .1-1.2-.4-1.2-.1-1.2-.1-1.2 .1-1.3 .2-1.3 .2-1.3 .2-1.3 .2-1.4 .1-1.3 .8-1.3 .8-1.3 .8-1.3 .5-1.3 .6-1.4 .5-1.3 .2-1.3 .3-1.3 .3-1.3 .1-1.4 0-1.3 .1-1.3 0-1.3 0-1.3 0-1.3 .4-1.4 .3-1.3 .4-1.3 .3-1.3 .2-1.3 .3-1.4 .2-1.3 .1-1.3 .2-1.3 0-1.3 0-1.3 0-1.4 .3-1.3 .2-1.3 .3-1.3 .1-1.3 .1-1.3 .1-1.4-.2-1.3-.1-1.3-.1-1.3-.2-1.3-1.3-1.1-1.3-1-1.1-.9-1-.9-1.1-.9-1.3-.7-1.3-.7-1.3-.7-1-.7-1-.7-1-.8-1-.7-.7-1.1-.7-1.2-.7-1.1-.6-1.3-.7-1.4-.9-1.3-.9-1.3-.7-1.3-.6-1.3-.6-1.3-.7-1.4-.7-1.3-.7-1.3-.7-1.3-.7-1.3-.7-1.3-1.1-.9-1-.9-1.1-.9-.5-2.1-.1-1.2-.2-1.2 1.4-1.1 1.3-1.2 .4-1.2 .4-1.2-1.2-.4-1.2-.4 .1-1.6 .2-1.6 .9-1.3 .9-1.3 .3-2.1 1.3-.5 1.3-.6 .7-1 .6-1.1 .7-1 .6-.9 .7-1 .7-1 .2-1.3 .3-1.4-.1-1.3-.1-1.3-.1-1.3-.5-1.6-.5-1.6-1-1.3-.9-1.3-1.3-.9-1.3-1-.9,.8-1,.8-.4,1.2-.3,1.2-1.4-.5-1.3-.6-1.3-.5-1.3-.5-1.3-.4-1.4-.4-.6-1.3-.7-1.3-1.3-.6-1.3-.5-1.1-.8-1-.8 0-2.1-1.2-1.2-1.2-1.2-1.2-1-1.2-1.1-1.1-.2-1.2-.3-1.7-.4-1.8-.4-1.5-.5-1.6-.5-1.6-.8-1.6-.8-1.1-1-1.2-.9-1.1-1-1.3-.8-1.3-.8-1.4,.5-1.3,.6-1.3,.1-1.3,.1-1.3-.3-1.4-.4-1.3-.3-1.3-.5-1.3-.4-1.3-.4-1.3-.7-1.4-.6-1.3-.6-1.3-.5-1.3-.5-1.3-.6-1.6-.8-1.6-.8-1-.7-.9-.7-1-.7-.8-.9-.8-1-.8-1 .6-1.4 .5-1.5-.7-1.3-.6-1.3-1-1.1-.9-1-.9-1.1-.8-1-.9-1.1-1.3-1-1.3-1.1-1.1-.9-1.1-.9-.6-1.1-.7-1-1-1.3-1.1-1.4-1.2-.9-1.2-.9-.9-1.1-.9-1-.8-1.6-.8-1.6-.9-1-.9-1.1-1.2-.4-1.1-.5-1.2-.4 0,1.3 0,1.3 .8,1.5 .8,1.4 1.3,1.2 1.4,1.2 .6,1.1 .6,1.2 .6,1.1 .8,1.1 .8,1 .8,1.1 .4,1.1 .5,1.2 .4,1.1 1.1,1.1 1,1 1.3,1.9-.2,1.5-1.6-1.5-1-.9-1-.9-.9-.9-.7-1.3-.6-1.3-1-1.3-.9-1.3-1-.7-1.1-.7-1-.7-.8-1.9 .1-1.3 .1-1.3-1.1-.9-1.2-.9-1.1-.9-.9-1.3-.9-1.3-.7-1.3-.7-1.3-.6-1.1-.7-1-1-1.6-2.1-1.1-2.1-1-1.3-.4-1.2-.3-1.2-.4-.3-1.2-.3-1.2-.9-.9-1-1-1-1-1.3-1.8-.5-1.8-1.6-1.6-.8-1.6-.8-1.6-1.6-1.6 .2-1.2 .2-1.2 .2-1.3-.4-1.3-.4-1.3 .3-1.5 .4-1.5 .3-1.5 .1-1.5 .1-1.5 .1-1.5-.3-1.4-.2-1.5-.7-1.4-.6-1.5 1.4-.3 1.2,.9 1.3,.2 1.9-.5-.8-1.8-1.1-1.9-1.1-.4-1.3-.1-1-.8-1.3-.4-1.4-.4-1.4,0-1.3-.7-1.2-.6-.1-1.5-.9-.9-1.1-.8-1-1-.9-1.1-.6-1.1-1.2-.6-.8-.9-1.2-.4-.9-.9-.6-1.6-1.2-1.1-1-.7-.5-1.3-1.2-.6-1.2-.4-.3-1.7-1.9,.8-.5-1.3-1.4-1.2-1.3-1.2-1.3-.3-1.3,0-1.3,0-1.2-.8-1.6,1.1-1.2-1.1-1.3-.6-1.3-.6-1-1.2-1.7,.1-1.3-.2-1.3-.2-1.3-.2-1.3-.2-1.3,0-1.4,0-1.3,0-1.3,0-1.3-.4-1.3-.3-1.3-.3-1.4-.3-1.3-.4-1.3-.4-1.3-.3-1.3,.3-1.4,.4-1.3,.4-1.1,.7-1.2,.7-1.1,.7-1.5,.4-1.5,.4-1.5,.5-.2-1.7-.3-1.7 1.3-.7 1.3-.6 1.3-.6-1.1,.5-1.2,.4-1.2,.5-1.2,.5-.9,.8-.9,.9-.8,.9-1.3,1-1.4,1.1-1.3,.9-1.3,.9-1,.7-1,.7-1,.6-1,.7-1.3,.6-1.3,.7-1.3,.7-1.3,.6-1.3,.3-1.4,.4-1.3,.3-1.3,.3-1.3,.5-1.3,.4-1.4,.4-1.3,.3-1.3,.3-1.3,.2-1.3,.3-2.1,.3 1.1-.6 1.2-.5 1.1-.5 1.3-.5 1.3-.6 1.3-.5 1.4-.4 1.3-.5 1.3-.4 1.1-.6 1-.6 1.1-.6 1-.5 1.1-.6 .9-.9 .8-.9 .9-.9-1.3-.6-1.3-.7-1.3,.1-1.4,.1-1.3,.1-1.2,.1-1.2,0-1.1,.1-1.2,.1-.3-1.6-.3-1.6-1.3-.2-1.3-.2-1.3-.1-1.3-.5-1.3-.4-1.4-.4-.6-1.1-.7-1.1 .6-1 .7-1.1 .6-1 .8-1.9 1.3-.2 1.3-.2 1.3-.2 1.3-.2 1.3,0 1.4-.1 1.3-.1 .5-1.9-1.8-.5-1.4-.1-1.3-.1-1.3-.1-1.3,.1-1.3,.1-1.3,0-1.4,.1-1.3-.2-1.3-.1-1.3-.2-1.3-1.3-1.3-1zM299.7,295.2l-.6,3.9 .8,4 .8,3.4 .5,4 1.6,4.5 .6,2.9 1.5,3.6-.2,3.5-1.6,.8 .3,1.8 3.6,1.9 3.7,.2 2.9-1.6 2.7-1.5 3.9-.3 5.3,.3 2.6-2.4 4-1.9 3.9-.2 4-1.6 5.3-.3 3.9,1.3 3.4,.3 1.9,2.4 2.1,4.2 1.8-.3 2.7-2.6 2.1-2.4-.8,3.5 0,2.6 1.3-.8 1.3,.5-.5,2.1 2.6,.6 .8,2.6 2.7,3.2 3.7,1 3.9,1.1 2.6-1.6 1.1-.8 1.6,1.3 2.4,1.9 2.1-1.9 1.8-1.3 2.9-.5 2.4-.6 .5-2.6 .3-2.1 1.5-2.4 1.1-2.3 1.6-2.7 1.8-1.6 1.3-3.4 .3-2.1 1.3-4.2-.5-2.9-.8-4-.8-1.8-2.1-1.3-2.6-3.5-1.1-2.3-2.9-1.1-1.3-3.1-1.8-2.2-4-2.6-1.6-2.6-.5-3.2-1.6-2.1 0-3.2-2.4-1.8-2.3-.8-.3-3.2-1.8-3.1-.8-2.4-1.1,1.6-1.3,4.2-.3,4.2 0,2.7-1.3,3.4-.5,1.8-3.4,.3-2.7-2.1-2.6-1.6-2.6-1.6-2.7-1.6 .6-2.6 .7-1.3 2.2-3.2-2.2-1-2.6,.8-3.9-1.4-2.7-.5-1.3,1.9-2.6,0-1.4,1.3-1.3,2.1-1.3,3.7-2.6,0-1.3,.2-1.4-2.1-2.6-.5-1.8,1.6-2.1,2.4-2.2,2.1-1.8,1.8-1.8-.5-1.6,3.1-2.1,2.7-2.4,2.1-4,1-3.9,1.1-2.7,.3-2.6,2.1-2.4,.8-1.3,1.8zM834.2,79.6l-1.5-.1-1.5,.3-1-1.5-1.6,.3-.8-2-1.5,.4-1.2-1-1.8,1.3-1-1.4 .2-1.9-2.6,.6-.2-1.6-1.6-.5-.1-1.7-1-1-.2-1.4-.6-1.2-1.3-.8 0-1.4-1.1-.8-.7-.9-.9-.9-1-.8-.8-1-1.9-.7 .6-1.9 .8-1.7 1.9-.4 1.1-1.4 1.5-.7-1.5,1.2-1-2.4-1.5,.6-1-1.2-1.7,.9-.9-1.9-1.6,.9 1.3-1.6-.6-1.9-2,.4-1.1-1.3-1.1-1.4-.8-1.4-1-1.2-2.1-.1-.5-2-1.6-.8-1.1-1.3-1.3-.5-1.3-.6-1-1.2-1.6,.2-1.2-1.6-1.4,.4-1.5,1.2-1.1-1.5-1.4,.7-1.4-.4-1.3-1-1.2,2.5-1.4-2-1.3,.4-1.3,.7-1.4,1-1.3-1.1-1.4,.8-1.2-.7-1.3-.5-1.5,.4-.9-2.2-1.6,.9-1.3-.4-1.3-.8-1.3-.8-1.6,.5-.5-1.9-1.4-.2 .8-1.6 1.3-.6 1.7,1.1 1.1-1.3 1.2-.7 1.5,.1 1.4,.1 .8-2.2 1.7,.9 .8-2 1.7,1 1.3-.6 1.3-.4 1.3-.4 1.3-.4 1.4,.2 1.6,.6 1.1-1.1 1.4,.3 1.2-.8 1.3-.6 1.6,.8 .7-2.9 1.9,1.8 .9-1.7 1.5,.1 1.2,.6 1.1-1.8 1.2,.6 1.3,1.4 1.1-2.1 1.2-.4 1.2,.1 1.3,.9 1.2,1.1 1.2-.2 1.2-.9 1.1-1.3 1.2,1 1.3,1 1.1-2 1.2,.6 1.2,.2 1.3,.5 1.2-.2 1.2,.5 1.2,.5 1.1-1.4 1.2-1.1 1.2,1.1 1.2-.3 1.2,.7 1.2-1.3 1.3,2 1.1-1 1.3,.9 1.2-.3 1.1-2.5 1.2,1.3 1.2-.5 1.2,.6 1.2-.3 1.2-1.1 1.2,1.5 1.2-.7 1.2-.4 1.2,.9 1.2-.5 1.2-.7 1.2,.7 1.1-1.3 1.4,2 1-2.3 1.4,2.5 1-2.3 1.2-.2 1.4,1.8 1.1-.9 1.1-1.3 1.4,2.2 1.1-1.5 1.2-.4 1.2-.5 1.2,.8 1.2-.6 1.2,1.5 1.2,0 1.2-.4 1.2,.5 1.2-.5 1.2-1.7 1.1,1.3 1.3-.2 1.1,.8 1.2,.2 1.3-1.9 1.1,1.6 1.3-1.5 1.1,1.4 1.2,.1 1.3-1 1.2,.5 1.1,.7 1.4,0 1.2,.7 1.6-1.1 1.1,1.6 1.5-1.3 1.1,1.5 .8,1.7 1.9-.4-1.4,0-1.3,.5-1.1,1.4-1.6-1.7-1.1,1.8-1.4-.7 1.2-.5 1.2,0 1.2,.3 1.2-1 1.1,1.9 1.2-.1 1.2,.6 1.2,.5 1.2-.4 1.3-2 1.1,1.2 1.3-1.1 1.5,2.1 1.2-1.6 1.3,.3 1.3-.4 1.3-.3 1.4,.9 1.3-.7 1.3-1.3 1.3,1.4 1.3-.4 1.4-.1 1.3,1.4 1.3-1-1.8-.6-.9,1.5-1,1.4-1.2,.7-1.7-.3-1.2,.9-1.7-1.5-.8,2.5-1.4,0-1.3,.5-1.5-.8-1.3,.7-.8,1.7-1.9-.3-1.8,1 .5,2.1-.1,1.9 .9,.9 1.9-.1-1.4,0-1,.7-1.1,.5-.5,1.4 .8,1.2 .5,1.4-1.9-.4-.6,2.1-1.4,.4-1.7,.5 .3,2-1.3,.7-2.1-.2-.5,2.1 1,1.4 1.6,.7 .5,1.8-1.8,.8-1.3,.4-1.1,1-1.5-.6-.8,1.1-1.2,.6-1.7-.2-.4,1.6-1.2,.6-1.6-1.1-.9,2.5-1.2,.7-1.4-.1-1.8-2-1,1.6-1.4-.4-1.3,0-1.4-.4-1.2,1.5-1.3-.2-1.1,1.1-1.7-1-.9,1.9-1.6-.7-.5,1.4-2.1-.8 .1,2.2-1.4,.1-1,1.4-1.9-1.5-1,1.4-1.3,.6-1.4-.1-1.3,.7-1.6-1.1-1,1.9-1.4-.1-1.1,1.4-1.5,.9 .2,1.8-1.5,.9-.8,1.8-1.9,.5-1.1,1.3-.2,1.6-.1,1.5-1.2,.9zM-948.8,421.7l1.7-.4 1.6,.5 1.6,.7 1.7-.1 1.6,.1 1.7,0 1.6-.7 1.7,.7 1.7,.6 1.6-.6 1.6-.8 1.6-.1 1.7,.2 1.7,.8 1.6-.5 1.6-.4 1.7-.6 1.7-.2 1.6,.6 1.6,1.1 1.7-1.3 1.6,1.4 1.7-.2 1.6-.3 1.7,.2 1.6-.1 1.7,.4 1.6-.2 1.6-1.1 1.7,1.2 1.7-.6 1.6-.3 1.6,1 1.7-.7 1.6,.9 1.6,.2 1.8-1.3 1.5,1.2 1.8-1 1.6,.8 1.7,.2 1.5-1.2 1.7,.5 1.6-.7 1.6-.7 1.8,1.2 1.6-1 1.7,.1 1.6,.6 1.5-.9 1.7,.4 1.4-1.3 1.7,.4 1.9,.2 1.6-1 1.7-.5 1.5,.9 1.7-.6 1.6-.6 1.6,.4 1.5,.7 1.8-.4 1.6-1.3 1.9,.3 1.7-.3 1.7,.1 1.7-.1 1.4-1.6 1.9,.9 1.4-1.2 1.6-.7 1.8,.3 1.7,0 1.3-1.3 1.9,.7 1.6-.3 1.4-1.2 1.7-.7 1.8,.1 1.8-.5 1.4-1 1.6-.2 1.6,.1 1.6-.2 1.7,.3 1.8,.2 1.8,.4 1.6,1 1.6,.5 1.7-1 1.6,.6 1.5,.1 1.5,.8 1.7,1 1.8-.2 1.8-.1 1.8-.9 1.7,.8 1.8,.2 1.8-.2 1.7,.5 1.8,.2 1.7,.1 1.8,0 1.7,.2 1.8-.3 1.5,.4 1.7,.2 1.5,.6 1.4,.9 .7,2.3 2,1.2 1.7,.5 1.8,.2 1.7-.2 1.9,.4 1.5-1.8 1.9,.6 1-1.4 1.7-.4 1.6-.3 1.7,.3 1.4-.9 1.7-.1 1.5-.9 1.8-.2 1.7-.6 1.7-.5 1.3-1.4 1.9,.5 1.8,.1 1.4-1.1 1.5-.7 1.6-.1 1.6,.1 1.7,.2 1.4-1.8 1.6,.8 1.7,.9 1.9-1 1.7,.6 1.8-.3 1.6-.8 1.9,.3 1.5-.6 1.8,.8 1.6-.3 1.6-.4 1.4-1.1 1.5-.6 1.8,.7 1.5-.2 1.6-.7 1.5-.5 1.4,1.2 2-1.3 1.4,.8 1.6,.5 1.5,.7 1.8-.3 1.9-.1 1.6,1.1 2,.1 1.3-1.8 2-.1 1.7-.3 1.4,.9 1.5,.8 1.8-.7 1.5,.9 1.7,.7 1.8-1.5 1.7,1.4 1.8-1 1.8,.3 1.7,.3 1.6-.3 1.5-.3 1.7,1 1.6-.2 1.5-.9 1.7,0 1.5,.5 1.4,1.1 1.9-.8 1.4,1 1.8-.6 1.8,.2 1.7,.7 1.6,.5 1.5-1.4 1.6,.7 1.6-.8 1.6,.4 1.7-.5 1.8,.1 1.8,0 1.7,.1 1.8-.1 1.7-.1 1.7-.2 1.6-.8 1.7,1.7 1.6-1.6 1.6-.2 1.7,.3 1.6-.4 1.7,.7 1.8,.1 1.7-.5 1.8,.3 1.7,.4 1.8,.2 1.8-.5 1.6-.6 1.5,1.6 1.7-1.2 1.6-.1 1.5,1.1 1.5,.2 1.6,.6 1.6-.5 1.6,.1 1.6,.4 1.5,.5 1.7-.2 1.7,.2 1.5,.5 1.5,.8 1.5,1 1.7-1.4 1.5,1.2 1.7-.9 1.5,.9 1.7,.6 1.9-.3 1.6,.8 1.9-.1 1.7,.1 1.7,.7 1.9,0 1.7,.7 1.7,.5 1.7,.6 1.9,.1 1.7,.8 1.7-.2 1.2,1.7 1.7,0 1.6,.5 1.7-.2 1.5,.5 1.6,.5 1.6,.1 1.5,.5 1.7,0 1.6-.8 1.5,1.2 1.6-.8 1.6,.6 1.6-.2 1.6,.6 1.5-.5 1.6-.5 1.6,1.2 1.6-.5 1.7-.6 1.3,1.8 1.8-1 1.6,.1 1.5,.7 1.8-.6 1.7,.8 1.8,.3-1.2,1.5-1.5,1.2-1.7,0-1.2,1.5-1.7,.1-1.9-.6-1.4,1.1-1.7,1-1.7,.9-1.8,.7-1.5,1.5-2.3-.2-1.5,1.4-1.5,1-1.1,1.3 1.6,.4 1.5,.7 .8,1.6 1.5,1 1.9-.9 1.4,1.6 1.8-.4 1.7,.4 1.8-.9 1.8,.4 1.7,1 1.8-.7 1.7,.1 1.7,.3 1.6,.7 1.7-.4 1.6-.4 1.7,.2 1.6,.3 1.6,.6 1.7-.8 1.7,0 1.6-.5 1.7,0 1.6,1.4 1.6-.3 1.7-.3 1.6,.1 1.7-.2 1.6,.2 1.7,.1 1.6-.6 1.7,0 1.6,.2 1.7,.4 1.6-.5 1.7,.5 1.6,0 1.7,.8 1.6,.2 1.7-1.6 1.6,1.3 1.6,.3 1.7-.8 1.6,.1 1.7-.9 1.6,1.6 1.7-1.2 1.6,1.4 1.7,0 1.6-.5 1.7-.6 1.6,.4 1.6-.8 1.8,1.5 1.6-.7 1.6,0 1.7,0 1.7,.2 1.5-1.4 1.7,.4 1.5-1.4 2.2,1.1 1.6-1.2 1.7,0 1.3-1.5 1.9,1.1 1.2-2.1 1.8,.4 1.6-.2 1.7,.1 1.6-.5 1.8,.5 1.6-.8 1.6-.3 1.6-.5 1.7-.2 1.7,.3 1.7,0 1.4-1.7 1.8,.7 1.7,0 1.5-.7 1.6-1 1.7,.6 1.6-.8 1.7,.5 1.8,.5 1.6-.1 1.5-1.7 1.7,.7 1.7-.3 1.6-.2 1.7,.6 1.6-1 1.6-.6 1.7,0 1.6-.5 1.7,1 1.7-.1 1.6-.4 1.6-.4 1.7,.8 1.6-.1 1.7-.3 1.6-1 1.7,0 1.6,1.1 1.7-.4 1.6-.6 1.7,1 1.6-1 1.7,.6 1.6-1.3 1.7,1 1.6,.3 1.6-.8 1.7,.2 1.6-.8 1.7,1.2 1.6-1.2 1.7,1.2 1.7-.1 1.6-.6 1.6-.4 1.7-.3 1.7,.9 1.6-.5 1.6-1.1 1.6-.3 1.7,1.2 1.6-1.2 1.7,.5 1.7,.1 1.6,.8 1.6,0 1.7-.9 1.6-.2 1.7,1 1.6-.9 1.7,.4 1.5-.9 1.8,.2 1.6-.3 1.7-.1 1.7,0 1.5-1.3 1.9,.8 1.5-1.1 1.6,0 1.6,.2 1.4,1.1 1.7-.3 1.6,.1 1.6,1.1 1.8,.8 1.8,.7 1.5-.7 1.8,.9 1.4-1.7 1.7,1.1 1.5-.6 1.8-.8 1.8,1.1 1.7,.1 1.8-.3 1.7-1.4 1.8,.8 1.7,.3 1.6-1.1 1.7,1 1.6,.1 1.6-1.7 1.6,.1 1.7,.9 1.7-.4 1.7,.3 1.8-1 1.7,1.1 1.8-.2 1.8-.7 1.7,.7 1.4-1 1.9,.9 1.4-1.3 1.7,.4 1.5-.6 1.5-1.5 1.7-.9 2.1-.5 1.3-1.2 1.9,.1 1.3-1.4 1.5-.7 1.9,.1 1.7-.8 2.1,.1 1.5-1.4 1.5-1.4 1.9-.6 1.8-.7 2-.7 1.9-.8 1.4-1.6 2-.1 1.6-1.1 1.7-.9 2.1-.1 1.1-2.1 2.1-.2 1.9,.1 1.6-1.3 1.7-.6 1.7-.9 1.7-.5 1.9,.3 1.5-1.3 2,.3 1.8-.3 1.7-.5 1.9,0 1.6-1.1 2-.1 2-.2-1.4,.9-1.7,.2-.9,1.6-2.1,.4-1.3,1.8-1.8,.9 0,1.9-1.7,1.4 .3,2-.1,1.8-1.3,1.6 .1,1.9-.7,1.7 .3,1.9-.9,1.6 .1,1.8-.6,1.7 0,1.8 .6,1.7 .9,1.4 1.6,.9 1.8,.8 1.5,1.3 2,.4 1.3,1.4 1.8,.5 1.9-.5 1.8,.3 1.4,1.9 1.9-.1 1.8,0 1.6,1.1 1.8-.1 1.8,0 1.7,.8 1.9-.8 1.7,.4 1.7,.2 1.6-.4 1.6,.9 1.7,.1 1.6,.6 1.8-1.4 1.5,1 1.7,0 1.6,.7 1.7-.4 1.7-.8 1.6,1.5 1.7-1.2 1.5,1.5 1.8-1.2 1.6,.7 1.7-.6 1.8,1.1 1.7-.3 1.8-.6 1.8,.9 1.7-.2 1.4-1.2 1.6-.4 2,.5 1.1-1.8 1.8,0 1.9,.3 1.5-.8 1.4-1.2 1.4-1 1.7,0 1.6-.5 1.5-.8 1.5-.7 1.9,.4 1.4-1 1.8-.1 1.4-1 1.7,0 1.5-1 1.5-.5 1.7-.8 2.1,.4 1.5-1.3 1.7-.6 1.6-1 2,.1 1.6-.9 1.9,.1 1.7-.5 1.7-.7 1.7-.5 1.9,.4 1.9,.5 1.7-.7 1.6-1.3 2,1.1 1.7-.9 1.7-.6 1.6-1.1 2,1 1.8-.2 1.5-1.4 1.8-.1 1.8-.3 1.8,.3 1.8,0 1.6-1.6 2,1.4 1.5-1.6 1.9,.2 1.8,.4 1.7-.2 1.7-.8 1.9,.6 1.6-1.5 1.8,.2M0,421.7l1.7-.4 1.6,.5 1.6,.7 1.7-.1 1.6,.1 1.7,0 1.7-.7 1.6,.7 1.7,.6 1.6-.6 1.6-.8 1.6-.1 1.7,.2 1.7,.8 1.6-.5 1.7-.4 1.6-.6 1.7-.2 1.6,.6 1.6,1.1 1.7-1.3 1.6,1.4 1.7-.2 1.6-.3 1.7,.2 1.6-.1 1.7,.4 1.6-.2 1.7-1.1 1.6,1.2 1.7-.6 1.6-.3 1.6,1 1.7-.7 1.6,.9 1.6,.2 1.8-1.3 1.6,1.2 1.7-1 1.6,.8 1.7,.2 1.5-1.2 1.7,.5 1.6-.7 1.6-.7 1.8,1.2 1.6-1 1.7,.1 1.6,.6 1.5-.9 1.7,.4 1.4-1.3 1.7,.4 1.9,.2 1.6-1 1.7-.5 1.5,.9 1.7-.6 1.7-.6 1.5,.4 1.6,.7 1.7-.4 1.6-1.3 1.9,.3 1.7-.3 1.7,.1 1.7-.1 1.4-1.6 1.9,.9 1.5-1.2 1.5-.7 1.8,.3 1.7,0 1.3-1.3 1.9,.7 1.6-.3 1.4-1.2 1.7-.7 1.8,.1 1.8-.5 1.5-1 1.5-.2 1.7,.1 1.5-.2 1.7,.3 1.8,.2 1.8,.4 1.7,1 1.5,.5 1.7-1 1.6,.6 1.6,.1 1.5,.8 1.7,1 1.7-.2 1.8-.1 1.8-.9 1.8,.8 1.7,.2 1.8-.2 1.7,.5 1.8,.2 1.7,.1 1.8,0 1.7,.2 1.8-.3 1.6,.4 1.6,.2 1.5,.6 1.5,.9 .6,2.3 2,1.2 1.7,.5 1.8,.2 1.8-.2 1.8,.4 1.5-1.8 1.9,.6 1-1.4 1.7-.4 1.6-.3 1.7,.3 1.5-.9 1.6-.1 1.5-.9 1.8-.2 1.7-.6 1.7-.5 1.3-1.4 1.9,.5 1.8,.1 1.5-1.1 1.5-.7 1.5-.1 1.7,.1 1.6,.2 1.4-1.8 1.7,.8 1.6,.9 1.9-1 1.7,.6 1.8-.3 1.7-.8 1.8,.3 1.5-.6 1.8,.8 1.6-.3 1.6-.4 1.4-1.1 1.5-.6 1.8,.7 1.6-.2 1.5-.7 1.5-.5 1.4,1.2 2-1.3 1.4,.8 1.6,.5 1.5,.7 1.9-.3 1.8-.1 1.6,1.1 2,.1 1.3-1.8 2-.1 1.7-.3 1.4,.9 1.5,.8 1.8-.7 1.5,.9 1.7,.7 1.8-1.5 1.7,1.4 1.8-1 1.8,.3 1.7,.3 1.6-.3 1.5-.3 1.7,1 1.6-.2 1.5-.9 1.7,0 1.5,.5 1.4,1.1 1.9-.8 1.4,1 1.8-.6 1.8,.2 1.7,.7 1.6,.5 1.5-1.4 1.7,.7 1.5-.8 1.6,.4 1.7-.5 1.8,.1 1.8,0 1.7,.1 1.8-.1 1.8-.1 1.6-.2 1.6-.8 1.7,1.7 1.6-1.6 1.7-.2 1.6,.3 1.7-.4 1.6,.7 1.8,.1 1.7-.5 1.8,.3 1.8,.4 1.7,.2 1.8-.5 1.6-.6 1.5,1.6 1.7-1.2 1.6-.1 1.5,1.1 1.6,.2 1.5,.6 1.6-.5 1.6,.1 1.6,.4 1.5,.5 1.7-.2 1.7,.2 1.5,.5 1.5,.8 1.5,1 1.7-1.4 1.5,1.2 1.7-.9 1.5,.9 1.7,.6 1.9-.3 1.6,.8 1.9-.1 1.8,.1 1.6,.7 1.9,0 1.7,.7 1.8,.5 1.7,.6 1.8,.1 1.7,.8 1.7-.2 1.3,1.7 1.6,0 1.6,.5 1.7-.2 1.5,.5 1.6,.5 1.6,.1 1.6,.5 1.6,0 1.6-.8 1.6,1.2 1.5-.8 1.6,.6 1.6-.2 1.6,.6 1.6-.5 1.6-.5 1.5,1.2 1.6-.5 1.7-.6 1.4,1.8 1.7-1 1.6,.1 1.5,.7 1.9-.6 1.7,.8 1.7,.3-1.2,1.5-1.4,1.2-1.7,0-1.3,1.5-1.7,.1-1.9-.6-1.4,1.1-1.7,1-1.7,.9-1.8,.7-1.5,1.5-2.3-.2-1.5,1.4-1.5,1-1.1,1.3 1.7,.4 1.4,.7 .8,1.6 1.5,1 1.9-.9 1.4,1.6 1.8-.4 1.8,.4 1.7-.9 1.8,.4 1.7,1 1.8-.7 1.8,.1 1.6,.3 1.6,.7 1.7-.4 1.6-.4 1.7,.2 1.6,.3 1.6,.6 1.7-.8 1.7,0 1.6-.5 1.7,0 1.6,1.4 1.7-.3 1.6-.3 1.7,.1 1.6-.2 1.7,.2 1.6,.1 1.7-.6 1.6,0 1.7,.2 1.6,.4 1.6-.5 1.7,.5 1.6,0 1.7,.8 1.6,.2 1.7-1.6 1.6,1.3 1.7,.3 1.6-.8 1.7,.1 1.6-.9 1.6,1.6 1.7-1.2 1.6,1.4 1.7,0 1.6-.5 1.7-.6 1.6,.4 1.6-.8 1.8,1.5 1.6-.7 1.7,0 1.6,0 1.7,.2 1.5-1.4 1.7,.4 1.5-1.4 2.3,1.1 1.5-1.2 1.7,0 1.3-1.5 2,1.1 1.1-2.1 1.8,.4 1.7-.2 1.6,.1 1.7-.5 1.7,.5 1.6-.8 1.6-.3 1.6-.5 1.7-.2 1.7,.3 1.7,0 1.4-1.7 1.8,.7 1.7,0 1.6-.7 1.5-1 1.8,.6 1.5-.8 1.8,.5 1.7,.5 1.6-.1 1.5-1.7 1.8,.7 1.6-.3 1.6-.2 1.7,.6 1.6-1 1.6-.6 1.7,0 1.6-.5 1.7,1 1.7-.1 1.6-.4 1.7-.4 1.6,.8 1.7-.1 1.6-.3 1.6-1 1.7,0 1.6,1.1 1.7-.4 1.6-.6 1.7,1 1.6-1 1.7,.6 1.6-1.3 1.7,1 1.7,.3 1.6-.8 1.6,.2 1.6-.8 1.7,1.2 1.6-1.2 1.7,1.2 1.7-.1 1.6-.6 1.6-.4 1.7-.3 1.7,.9 1.6-.5 1.6-1.1 1.6-.3 1.8,1.2 1.5-1.2 1.7,.5 1.7,.1 1.6,.8 1.6,0 1.7-.9 1.7-.2 1.6,1 1.7-.9 1.6,.4 1.5-.9 1.8,.2 1.6-.3 1.7-.1 1.7,0 1.5-1.3 1.9,.8 1.5-1.1 1.6,0 1.6,.2 1.4,1.1 1.7-.3 1.6,.1 1.6,1.1 1.8,.8 1.9,.7 1.5-.7 1.7,.9 1.4-1.7 1.7,1.1 1.6-.6 1.7-.8 1.8,1.1 1.8,.1 1.7-.3 1.7-1.4 1.8,.8 1.7,.3 1.6-1.1 1.7,1 1.6,.1 1.6-1.7 1.6,.1 1.8,.9 1.6-.4 1.7,.3 1.8-1 1.7,1.1 1.8-.2 1.8-.7 1.7,.7 1.5-1 1.8,.9 1.4-1.3 1.7,.4 1.5-.6 1.5-1.5 1.7-.9 2.1-.5 1.3-1.2 1.9,.1 1.3-1.4 1.5-.7 1.9,.1 1.7-.8 2.1,.1 1.5-1.4 1.5-1.4 1.9-.6 1.9-.7 1.9-.7 1.9-.8 1.4-1.6 2-.1 1.6-1.1 1.7-.9 2.1-.1 1.1-2.1 2.1-.2 2,.1 1.5-1.3 1.7-.6 1.7-.9 1.7-.5 1.9,.3 1.6-1.3 1.9,.3 1.8-.3 1.8-.5 1.9,0 1.6-1.1 1.9-.1 2-.2-1.4,.9-1.7,.2-.8,1.6-2.2,.4-1.3,1.8-1.8,.9 0,1.9-1.7,1.4 .4,2-.2,1.8-1.3,1.6 .1,1.9-.7,1.7 .3,1.9-.9,1.6 .1,1.8-.6,1.7 0,1.8 .7,1.7 .8,1.4 1.7,.9 1.7,.8 1.5,1.3 2,.4 1.4,1.4 1.7,.5 1.9-.5 1.8,.3 1.4,1.9 1.9-.1 1.8,0 1.6,1.1 1.8-.1 1.8,0 1.7,.8 1.9-.8 1.7,.4 1.7,.2 1.7-.4 1.5,.9 1.7,.1 1.6,.6 1.8-1.4 1.6,1 1.6,0 1.6,.7 1.7-.4 1.7-.8 1.6,1.5 1.7-1.2 1.6,1.5 1.7-1.2 1.6,.7 1.8-.6 1.7,1.1 1.8-.3 1.7-.6 1.8,.9 1.7-.2 1.4-1.2 1.7-.4 1.9,.5 1.1-1.8 1.8,0 1.9,.3 1.5-.8 1.4-1.2 1.4-1 1.7,0 1.6-.5 1.5-.8 1.5-.7 1.9,.4 1.5-1 1.7-.1 1.4-1 1.7,0 1.5-1 1.6-.5 1.7-.8 2,.4 1.5-1.3 1.8-.6 1.6-1 1.9,.1 1.6-.9 1.9,.1 1.7-.5 1.7-.7 1.7-.5 1.9,.4 1.9,.5 1.7-.7 1.6-1.3 2,1.1 1.7-.9 1.7-.6 1.6-1.1 2,1 1.8-.2 1.6-1.4 1.8-.1 1.7-.3 1.8,.3 1.8,0 1.6-1.6 2,1.4 1.6-1.6 1.8,.2 1.8,.4 1.8-.2 1.6-.8 1.9,.6 1.6-1.5 1.8,.2M948.8,421.7l1.7-.4 1.6,.5 1.6,.7 1.7-.1 1.6,.1 1.7,0 1.7-.7 1.6,.7 1.7,.6 1.6-.6 1.6-.8 1.7-.1 1.6,.2 1.7,.8 1.6-.5 1.7-.4 1.6-.6 1.7-.2 1.6,.6 1.6,1.1 1.7-1.3 1.6,1.4 1.7-.2 1.7-.3 1.6,.2 1.7-.1 1.6,.4 1.7-.2 1.6-1.1 1.7,1.2 1.6-.6 1.6-.3 1.6,1 1.7-.7 1.6,.9 1.6,.2 1.8-1.3 1.6,1.2 1.7-1 1.6,.8 1.7,.2 1.5-1.2 1.8,.5 1.6-.7 1.5-.7 1.9,1.2 1.5-1 1.7,.1 1.6,.6 1.6-.9 1.6,.4 1.5-1.3 1.6,.4 1.9,.2 1.6-1 1.8-.5 1.5,.9 1.6-.6 1.7-.6 1.5,.4 1.6,.7 1.7-.4 1.6-1.3 1.9,.3 1.7-.3 1.7,.1 1.7-.1 1.4-1.6 1.9,.9 1.5-1.2 1.5-.7 1.8,.3 1.7,0 1.4-1.3 1.8,.7 1.7-.3 1.3-1.2 1.7-.7 1.9,.1 1.7-.5 1.5-1 1.6-.2 1.6,.1 1.6-.2 1.6,.3 1.9,.2 1.8,.4 1.6,1 1.5,.5 1.7-1 1.6,.6 1.6,.1 1.5,.8 1.7,1 1.8-.2 1.7-.1 1.9-.9 1.7,.8 1.7,.2 1.8-.2 1.7,.5 1.8,.2 1.7,.1 1.8,0 1.8,.2 1.7-.3 1.6,.4 1.6,.2 1.5,.6 1.5,.9 .6,2.3 2,1.2 1.7,.5 1.8,.2 1.8-.2 1.8,.4 1.6-1.8 1.9,.6 .9-1.4 1.7-.4 1.6-.3 1.7,.3 1.5-.9 1.6-.1 1.5-.9 1.8-.2 1.7-.6 1.8-.5 1.3-1.4 1.9,.5 1.8,.1 1.4-1.1 1.5-.7 1.6-.1 1.6,.1 1.6,.2 1.4-1.8 1.7,.8 1.7,.9 1.8-1 1.7,.6 1.8-.3 1.7-.8 1.8,.3 1.5-.6 1.8,.8 1.6-.3 1.6-.4 1.4-1.1 1.6-.6 1.7,.7 1.6-.2 1.5-.7 1.5-.5 1.4,1.2 2-1.3 1.5,.8 1.5,.5 1.5,.7 1.9-.3 1.8-.1 1.6,1.1 2,.1 1.3-1.8 2-.1 1.7-.3 1.5,.9 1.4,.8 1.8-.7 1.5,.9 1.7,.7 1.8-1.5 1.7,1.4 1.8-1 1.8,.3 1.7,.3 1.6-.3 1.6-.3 1.7,1 1.5-.2 1.5-.9 1.7,0 1.5,.5 1.5,1.1 1.8-.8 1.4,1 1.8-.6 1.8,.2 1.7,.7 1.6,.5 1.5-1.4 1.7,.7 1.5-.8 1.6,.4 1.8-.5 1.7,.1 1.8,0 1.8,.1 1.7-.1 1.8-.1 1.6-.2 1.6-.8 1.7,1.7 1.6-1.6 1.7-.2 1.6,.3 1.7-.4 1.6,.7 1.8,.1 1.8-.5 1.7,.3 1.8,.4 1.7,.2 1.8-.5 1.6-.6 1.5,1.6 1.7-1.2 1.6-.1 1.5,1.1 1.6,.2 1.5,.6 1.7-.5 1.5,.1 1.6,.4 1.5,.5 1.8-.2 1.6,.2 1.5,.5 1.5,.8 1.5,1 1.7-1.4 1.5,1.2 1.7-.9 1.5,.9 1.7,.6 1.9-.3 1.7,.8 1.8-.1 1.8,.1 1.7,.7 1.8,0 1.7,.7 1.8,.5 1.7,.6 1.8,.1 1.7,.8 1.7-.2 1.3,1.7 1.6,0 1.6,.5 1.7-.2 1.5,.5 1.6,.5 1.6,.1 1.6,.5 1.6,0 1.6-.8 1.6,1.2 1.6-.8 1.5,.6 1.6-.2 1.6,.6 1.6-.5 1.6-.5 1.5,1.2 1.6-.5 1.7-.6 1.4,1.8 1.7-1 1.6,.1 1.5,.7 1.9-.6 1.7,.8 1.7,.3-1.2,1.5-1.4,1.2-1.7,0-1.3,1.5-1.7,.1-1.8-.6-1.4,1.1-1.7,1-1.8,.9-1.8,.7-1.5,1.5-2.3-.2-1.5,1.4-1.4,1-1.2,1.3 1.7,.4 1.4,.7 .8,1.6 1.5,1 1.9-.9 1.4,1.6 1.8-.4 1.8,.4 1.8-.9 1.7,.4 1.7,1 1.8-.7 1.8,.1 1.6,.3 1.6,.7 1.7-.4 1.7-.4 1.6,.2 1.6,.3 1.7,.6 1.6-.8 1.7,0 1.7-.5 1.6,0 1.6,1.4 1.7-.3 1.6-.3 1.7,.1 1.6-.2 1.7,.2 1.6,.1 1.7-.6 1.6,0 1.7,.2 1.6,.4 1.7-.5 1.6,.5 1.7,0 1.6,.8 1.6,.2 1.7-1.6 1.6,1.3 1.7,.3 1.6-.8 1.7,.1 1.6-.9 1.7,1.6 1.6-1.2 1.7,1.4 1.6,0 1.7-.5 1.6-.6 1.7,.4 1.6-.8 1.7,1.5 1.6-.7 1.7,0 1.6,0 1.7,.2 1.6-1.4 1.6,.4 1.5-1.4 2.3,1.1 1.5-1.2 1.7,0 1.3-1.5 2,1.1 1.1-2.1 1.8,.4 1.7-.2 1.7,.1 1.6-.5 1.7,.5 1.6-.8 1.6-.3 1.6-.5 1.7-.2 1.7,.3 1.7,0 1.4-1.7 1.8,.7 1.7,0 1.6-.7 1.5-1 1.8,.6 1.6-.8 1.7,.5 1.7,.5 1.6-.1 1.5-1.7 1.8,.7 1.6-.3 1.6-.2 1.7,.6 1.6-1 1.6-.6 1.7,0 1.6-.5 1.8,1 1.6-.1 1.6-.4 1.7-.4 1.6,.8 1.7-.1 1.6-.3 1.6-1 1.7,0 1.7,1.1 1.6-.4 1.6-.6 1.7,1 1.6-1 1.7,.6 1.6-1.3 1.7,1 1.7,.3 1.6-.8 1.6,.2 1.7-.8 1.7,1.2 1.6-1.2 1.7,1.2 1.6-.1 1.6-.6 1.7-.4 1.6-.3 1.7,.9 1.6-.5 1.6-1.1 1.6-.3 1.8,1.2 1.6-1.2 1.6,.5 1.7,.1 1.6,.8 1.7,0 1.6-.9 1.7-.2 1.6,1 1.7-.9 1.6,.4 1.6-.9 1.7,.2 1.7-.3 1.6-.1 1.8,0 1.4-1.3 1.9,.8 1.5-1.1 1.6,0 1.6,.2 1.5,1.1 1.6-.3 1.6,.1 1.6,1.1 1.8,.8 1.9,.7 1.5-.7 1.7,.9 1.4-1.7 1.7,1.1 1.6-.6 1.7-.8 1.8,1.1 1.8,.1 1.7-.3 1.7-1.4 1.8,.8 1.7,.3 1.6-1.1 1.7,1 1.7,.1 1.5-1.7 1.7,.1 1.7,.9 1.6-.4 1.7,.3 1.8-1 1.8,1.1 1.7-.2 1.8-.7 1.7,.7 1.5-1 1.8,.9 1.4-1.3 1.7,.4 1.5-.6 1.5-1.5 1.8-.9 2-.5 1.3-1.2 1.9,.1 1.3-1.4 1.5-.7 1.9,.1 1.8-.8 2,.1 1.5-1.4 1.5-1.4 1.9-.6 1.9-.7 1.9-.7 1.9-.8 1.4-1.6 2.1-.1 1.5-1.1 1.7-.9 2.1-.1 1.2-2.1 2-.2 2,.1 1.5-1.3 1.8-.6 1.6-.9 1.7-.5 1.9,.3 1.6-1.3 1.9,.3 1.8-.3 1.8-.5 1.9,0 1.6-1.1 1.9-.1 2-.2-1.3,.9-1.8,.2-.8,1.6-2.2,.4-1.3,1.8-1.8,.9 0,1.9-1.7,1.4 .4,2-.2,1.8-1.3,1.6 .2,1.9-.8,1.7 .3,1.9-.9,1.6 .1,1.8-.5,1.7-.1,1.8 .7,1.7 .8,1.4 1.7,.9 1.7,.8 1.5,1.3 2,.4 1.4,1.4 1.7,.5 1.9-.5 1.8,.3 1.4,1.9 1.9-.1 1.8,0 1.7,1.1 1.8-.1 1.7,0 1.7,.8 1.9-.8 1.8,.4 1.6,.2 1.7-.4 1.6,.9 1.6,.1 1.6,.6 1.8-1.4 1.6,1 1.6,0 1.6,.7 1.7-.4 1.7-.8 1.6,1.5 1.7-1.2 1.6,1.5 1.7-1.2 1.6,.7 1.8-.6 1.7,1.1 1.8-.3 1.7-.6 1.8,.9 1.8-.2 1.3-1.2 1.7-.4 1.9,.5 1.2-1.8 1.8,0 1.8,.3 1.5-.8 1.4-1.2 1.4-1 1.8,0 1.5-.5 1.5-.8 1.6-.7 1.9,.4 1.4-1 1.7-.1 1.4-1 1.8,0 1.4-1 1.6-.5 1.7-.8 2,.4 1.5-1.3 1.8-.6 1.6-1 1.9,.1 1.7-.9 1.8,.1 1.7-.5 1.7-.7 1.8-.5 1.9,.4 1.9,.5 1.6-.7 1.6-1.3 2,1.1 1.7-.9 1.7-.6 1.6-1.1 2,1 1.8-.2 1.6-1.4 1.8-.1 1.7-.3 1.9,.3 1.7,0 1.6-1.6 2,1.4 1.6-1.6 1.8,.2 1.8,.4 1.8-.2 1.7-.8 1.8,.6 1.6-1.5 1.8,.2M129.9,268.8l1.9,4 1,5.3-1.5,3.6-1.1,4.3-2.1,5.2-1.9,5.3-2.1,6.3-5,1.6-3.1-1.3-1.1-4 .3-3.9 1.6-2.6 0-4-.8-4.5 .8-3.4 3.1-1.6 2.1-.5 2.4-2.4 2.1-3.4 1.9-2.1zM-15,105.2l.9-.8 1,.4 1,0 .9-.3 1-.2 1,.1 .9-.2 1,.3 .9-.6 .9-.6 .9-.3 1,.5 1-.2 1-.2 1.1,.3 1.1,0 .9-1.2 1.2,.6 1-.5-1.6-.8 1.2-.5 .7-1 .5-1.2-.8-.6-1,0-1.1,.2-.8-.6 .4-1-.7-.9-.3-1-.9-.5-.6-.8-.6-.9-.9-.5-1.1-.4-.3-1.1-1.3-1.1-1-.2-.6-.8 .5-.8 1.2-.3 0-1.2 .7-.6-1.1-.8-1.1,.1-1.2,.4-1.1-.3 .6-1.1 .7-1.2-1.1-.2-1,.5-1.1-.7-1,.4-1.1,0-.9,.7-.2,1.2-.5,1 .2,1.1-.7,.9 0,1.1 .5,1.2 .3,1.2 1.1,.5 .5,1.1 1-.1 1,.4 1-.4 .9-.5 .3,1.6 .5,1 .3,1.1-1.1-.1-1,.7-1.1-.3-1,.5 1,1.3-.9,.8-1.1,.6-.3,1.3 1.1-.4 .7,1.4 1.3-.9 .8,1.1 1.1-.2-1.2,0-1.2,0-1.1,.6-.7,.7-.4,1.2-1.3,.1zM933.8,105.2l.9-.8 1,.4 1,0 .9-.3 1-.2 1,.1 .9-.2 1,.3 .9-.6 .9-.6 .9-.3 1,.5 1-.2 1-.2 1.2,.3 1.1,0 .8-1.2 1.2,.6 1-.5-1.6-.8 1.2-.5 .7-1 .5-1.2-.8-.6-1,0-1.1,.2-.8-.6 .5-1-.8-.9-.2-1-1-.5-.6-.8-.6-.9-.9-.5-1.1-.4-.3-1.1-1.3-1.1-1-.2-.6-.8 .6-.8 1.1-.3 0-1.2 .7-.6-1.1-.8-1.1,.1-1.2,.4-1.1-.3 .7-1.1 .6-1.2-1-.2-1.1,.5-1.1-.7-1,.4-1.1,0-.9,.7-.2,1.2-.4,1 .1,1.1-.7,.9 0,1.1 .6,1.2 .2,1.2 1.1,.5 .5,1.1 1-.1 1.1,.4 .9-.4 1-.5 .2,1.6 .6,1 .2,1.1-1.1-.1-1,.7-1.1-.3-1,.5 1,1.3-.9,.8-1.1,.6-.3,1.3 1.1-.4 .8,1.4 1.2-.9 .8,1.1 1.1-.2-1.2,0-1.2,0-1,.6-.8,.7-.4,1.2-1.3,.1zM933,99.6l-.5-3.4 1.8-2.9-2.6-1.6-4.8,0-.8,2.4-3.6,.3 .5,2.6-1.3,3.4 4.7,.8 5.5-1.6zM890.8,68.5l-1.1-.3-.5-1.2-.6-1-1-.5-1-.5-1-.4 .7-1.1 1.1-.3 1.2-.3 .9-.7 1.2-.2 1.1-.1 1,1.2 1,.2 1.3-.8 1,.5 1-.7 1.2,.9 .9-1.2 1.1,.6 1.1,.6 1-1.2 1.1,0 1-.2 1.1,.7 1-.6 1.2,.2 1,.4 .7,1.1 1.1,.2 .7,.8 .6,.9 1.1,.4-.9,1.3-1.9-.8-.9,1.3-1,.3-.9,.7-1,.5-1.2-.4-1,.4-1,.4-1.1-.2-1.1,0-.9,.7-1.2,.2-1-.9-1.3,.9-1-.2-.9-1.6-1.2,.6-1.2,.2-1.1-.2-1.1,.4-1.1-.7zM29,30.3l.9-.5 .7-1.1 1.1-.1 1.3,.3 1.2-.1 .7-.9 .7-1 1.1,.8 1.1-.5 .9-1.5 1.2,.3 1.1,.7 1.1,.7 1.1-.2 1-.3 1.1,0 1.1-.1 1-.7 1.1-.1 1.1,.7 1-.9 1.1,.8 1-.7 1.1-.3 1-.2 1.1-.2 1,.6 1.1-.2 1.1-.7 1.1,.9 1.1-.5 1.1,.5 1.1-.5 1.1,1 1.1-1.4 1.1,1 1.1,.2 1.1-1.1 1.1,.8 1.1,.3-.8,.9-.9,.6-1,.6-.9,1.1-1.3-1.5-1.1,.3-.8,1.2-1,.5-1.1,0-1.2-.5-.8,1.5-1.2-.3-1.1-.2-.8,.9-1.2-.2-.9,.7-1.3-.3-.5,1.5-1.5-.7-1,.3-.7,1-1.2,0-1,.7-1.1,.4-1.2,0-1.2-.2-.9,.9-1-.7-1.5,.5-.4-2.1-1.8,1.3-1.1-.4-.8-1.2-1.1-.6-1.1-.3-.9-1.1-1.2,0-1.4,.6-.8-1.5zM135.7,48.8l.2-1.3 1.5-.2-.1-1.5 1.5-.3 .3-1.1 .6-.9 1.2,0 .8-.9 1.2,0 .8-.9 .6-1.3 1-.4 1.2-.1 1.1-.4 1-.3 .8-1 .9-.4 1-.5 1.3,.3 1.1-.1 .7-.9 1.1-.2 1-.7 1.2,.9 1-.5 1-.3 1.1,.1 1-.9 1-.5 1.1,.7 1-.9 1.1,.5 1.2,.1 1.1,.6 1.1-.6 1.1,.5 1.1-1.2 1.1-.3 1.1,.3 1.2,0 1.1,.3 1.1-.3 1.1,.8 1.1-.7 1.1,0-.8,1.1-1.6-.9-1.1,.4-.6,1.7-1.4-.4-1.1,.7-1.2-.5-.9,1.1-1,.8-1.3-.8-1,.5-1,.9-1.2-.4-1.2-.4-1.1,.6-1.1,.2-1,.6-1.1,0-.8,.9-1.4-.2-.5,1.5-1.1,.3-1.3-.2-1.2,0-.4,1.7-1.2,0-1.2,.4 0,1.6-1.2,.4-1.1,.5-.5,1 1.2,.6-.2,1.5 1.6,.3 0,1.3-1-.3-1.1,.3-1.1-.9-1.1,.6-1,.1-1.1,.2-1.1,.2-1.1-.6-1.1-.1-1.1,.8-1-.8-1.1-.2-1-.5-.7-1zM123.9,25l13.2,1.4 21-1.1 5.3-1.6-18.4-.8-18.5,.8zM250.4,29l13.2,2.6 13.1-1.3-2.6-2.6-10.5-2.7-13.2-1.3-7.9,2.7zM358.4,39.5l10.6,2.7 13.2-2.7 13.1,0-5.2-2.1-21.1-.5-7.9,1.3zM470.5,50.1l7.9-.8 2.6,.8-5.3,.5zM720.8,67.2l6.6-2.1 6.6,2.9-5.3,1.8-6.5-.5zM792.3,111.7l.6-1.1 .4-1.2 1-.8 1.1-.7 .6-1.2 .3-1.1 1-.8-.5-1.6 .7-1 1.1-.7 1.3-.2 1.4,.6 1.2-.7 .1,1.1-.2,1.1-1,.9 .3,1.1 1.3,.2 1.2,.1 1.2,.6 1.1,.7 1.3-.3 .8,.9 .7,.9 .5,.9 .4,1.1-.3,1.2-1.2,.4-.5,.9-.4,1.1-1-.2-1-.7-1.2,.2-.9-.8-1.2,.2-1.4-.1-1.2-1-1.1-.5-1.1,1.2-1.1,.1-1.1-1.3-1.1,1-1,.2zM623.6,109.6l-4.2-1.3-6.6-4.2-2.1-.8 6,1.6 4,1.6zM724.8,179.5l2.6-2.1 4-1.1 5.3,.3 6.5,1.8 4,2.9 6.1,2.7-3.5,.8-5.2,0-1.4-2.2-6.5-2.9-4-.5-5.3,.5zM752.5,188.7l3.9-3.9 7.9,.2 4.2,3.2-4.2,1-3.9,1.6-3.5-1.3zM742.4,189l5.3,.2-.5,.8-3.4,0zM771.7,188.4l4.2,.3 0,1.1-4.2,0zM768,375.8l1.1,.1 .5,.7 .7,.5 .7,.6 .4,1 .8,.3 1.1-.1 .5,.7 .7,.3 .9,.2 0,1.6 1.5-.8 .3,1-.7,.5-.8,.4-.9,0-1.1-.9-.5,1.6-1-.5-.8,.4-.8-.1-.8-1.1-.9,.2-.8,.7-.8-.7-.8,.6-.9,0-.8-.4-.5-1-1.2,.5-.8-.3-.7-.8-.7-.6-1.1,.6-.7-.7 .5-.9 1,0 .5-1 1,0 .9-.2 .9,.1 .3-1.2 .9,0 .6-.5 .7-.5 .6-.6zM381.1,344.5l9.8,.5-.8,5.5-3.2,1.6-4.2-3.7zM455.2,327.9l.8,.3 .5,.8 1,0 .8,.4 .2,1.1 .9,.3 .8,.4 0,1.2 .7,.5 1.1,.3 .2,.9 .8,.5 .6,.6 .8,.7 .9-.3 .9-.2 .7,1 .9,0 .9,.2 .8,.3 1-.3-.8,.6 .1,.9 .1,1-1,.5 0,.9-.8,.7-.9,.2-1,.2 0,.9-1,.4-.5,.7 .2,1.1-.9,.5-.1,.9-1.1-.5-1,.6-1.1-.1 .3-1-1-.7-.1-.8 .3-1-.9-.5-.5-1-.7-.6 .3-.9 .9-.5 .5-.9 .4-.8-.1-.8 .1-.9-.6-.7 0-.8 0-.8-.3-.7-.3-.8-1-.2-.6-.5-.6-.6-.4-.7-.2-.8-.7-.5zM455.2,343.9l1,.1 .4,1.1 1.1-.3 .8,.4 .6,.9-.4,.9 .2,1.1-.6,.9-.5,.6-.3,1-.6,.5-1.2,.1-.3,.9 .8,.5-.8,.1-.8,.2-.6,.9-1-.3-.6,.7-.9,0 0,1-.4,.8-1,.5 0,.9-.5,.8-.7,.7-1,0-.9,.1-.7,.8-.9,.2-.9,.1-.7-.7-.9,.3-.7-.6-.9-.2-.9,.1-.7-.4-.9-.2 .7-.9-.4-1.2 .8-.3 .5-.9 .8-.4 1-.1 .6-.7 .5-.7 .7-.5 .8-.3 .8-.2 .8-.1 .9-.2 .7-.4 .4-1 1,0 .8-.3 .6-.6-.2-1.3 .7-.5 .7-.4 .2-.8 .7-.6-.2-.9 .6-.6 .9-.6zM432.2,290.2l7.9,5.8-1.3,.2-6-4.7zM467.3,283.3l3.4,.8-.8,1.1-2.6,0zM538.2,186.3l2.1-1-.8-1.3-1.6,1zM345,147.6l1.4-.5 1.5-.3 1.3,.2 1.3-.5 1.4,0 1.1,.4 .9-1 1.1,.1 1.1,0 .2,1.6 .8,1.3 .9-1.2 1.5,0 1.1-.9 1.8-.8 1.1,.4 1.2,0 1.1-.4 1.1-1 1.6,0 1.1-.4 .8-.9 1-.6 .1-1.6-.9-1.3 .8-1.2-.4-1.5 .6-1.2 .2-1.4 1.1-.7 .6-1.1-.4-1.3-.2-1.3-.3-1.2 .1-1.2-1.1,.7-1.3-.2-.4,1.1-1,.8-.2,1.3-.1,1.3 .1,1.3-.3,1.3-1.7,.1-.4,1.3-1,.3-.6,1-.9,.6-1,.4-.9,.6-1.3-1.1-.4,1-.5,1-.9,.7-.4,1-1.5,.8-1.1-.5-1-.2-1.1,1-1.1,.1-1-.3-1.1-.1-1.3,.2-.3,1.7-1.1,.6-1.2,.4zM369,127.8l1-.4 1.1,0 1-.4 .7-1.4 1.5-.4 .9,.8 1.4,.1 1.1,.7 .4-1.1 1.3-.3 .4-1 1-.5 1.5-.2 1.4-.6-1.2-.7-.3-1.4-1.1-.2-.9-.8-1.1,0-1.2,.1-1-.2-1-.8-.8-1.1-1.1-.7 .1,1.2-.6,1.1-.8,.8 .5,1.5-.5,1.4-1.4,.5-1.3-.7 0,1.2-1.4,.5 .1,1.2zM342.1,149.4l.4,.8 .3,.8 .5,.7 .2,.8 0,.9-.2,.9 .6,.7 1-.2 .9-.4 .8-.6-.4-1.2 .6-.7 .6-.8 .2-.9-.6-.5-.7-.5-.2-1-.8-.3-1.1,.4-1,.3zM349.2,150.2l2.7-.8 3.1-1.3-1.3-1.3-3.2,.5-1.8,1.6zM374.3,116l1.2-.7 1.4-.2 1.3-.5-.2-1 0-1.2-.8-1 .4-1.2-.4-1.1-.3-1 1.3-.6 1.3,1.1 1.3-.5-1-.7 0-1.2-.3-1-.7-.9 .2-1.2-.6-.9-1-.7 .5-1-.5-1.2 .3-1 .1-1.1 .4-1-1.1-.4-.7-.8-.3-1.2-.8,1.1 0,1.4-.5,1.2-.1,1.1-.2,1.1-.8,.9-.1,1.1-.1,1.1 .4,1.1-.1,1.1-.5,1.2 .5,1.1 .1,1.1 .6,1.1-.2,1.2-.2,1-.4,1.1 .3,1.1 .2,1zM316.5,176.6l2.4-5.8 2.6,.5-2.6,7.9zM286.2,186.6l3.7-2.4 2.7,1.3-4,3.7zM317.9,188.4l1.1,0 1.1-.4 1.1,.9 1.1-.5-.2,1.1 0,1.1-.3,1.1 .2,1.2-.8,1 .3,1.1-.1,1.6-1.2,1.1 .6,1.1 1.1,.7 1,.8 1.2,.3 .5,1.3 1,.7 1.2,.3-1.3,.6-1.3-.6-1.1-.4-.9-.9-1.4,.2-.8-1.1-1.3,.1-.8-1-.8-1.1-.2-1.2 .3-1.4-.9-1.1 .7-.9 0-1.2 0-1.2-.1-1.2 .1-1.1zM321.5,218.8l1-.8 1-.7 1.2-.5 1.2-.3 .9-.9 .9-.7 .9-.7 .7-.8 .8-.8 .7-1 .4,1 .1,1.1 .5,1 1.1,.6-.1,1.3 .6,.8-.3,1.2-.4,1.2-.6,1.1-1,.5-1.2-.8-.9,.9-1.1,0-1.1-.1-1.2-.5-.7-1.2-1-.7-1-.8zM328.1,204.3l3.2,3.9-1.8,2.6-1.4-3.4zM321.5,206.1l3.2,2.1-.8,4.8-2.4-3.5zM308.9,215.1l6.3-5.6-.8-2.1-5.2,6.6zM317.1,201.9l3.1,.5-.8,2.4-1.8-.5zM287.3,233.3l1.6-1.4 1.2,.4 1.1,.9 1.4-.2 1.1-.4 .4-1.3 .8-.8 1.5,.1 .9-.7 .5-1.1 1.2-.4 .9-.8 .7-.9 .6-1.2 1.7,.4 .9-.7 .6-1.2 .9-.9 .7-1.1 1-.8 .2-1.3 .6-1.1 .9,.7 1,.6 .9,.6 .7,.9 .8,.7 1,.5 1.1,.4-.6,1-.9,.6-.9,.5-.1,1.5-.5,1.3-.7,1.2 .6,1 .9,.9-.1,1.4 .9,.9 .6,1.1-.9,.7-.6,1.1-1.4-.1-.8,.9-.9,.8 .3,1.4-.5,1-1,.8 .1,1.1-.5,1-.6,1 .1,1.1-.4,1-1.2,.3-1.1,.5-1.1,.3-1.1,.2-1-.6-1-.4-1.2-.1-.8-1-1.3,.1-1.3-.4-1.3,.6-1-.8-1.4,.4-1.1-.7-.7-1.1 .5-1.3-.3-1.2-.6-1-1.2-.7-.3-1.2-.5-1.1 .3-1.3-.6-1.3zM251.2,222.4l5.8,1.1 6.6,7.1 3.9,1.9 5.3,4.7 2.6,4 3.4,5.2 .3,6.1-3.4,.3-6.1-5.1-5.2-7.9-4.3-7.1-4.4-5zM277.3,255.1l2.1-2.3 5.8,1 5.8,1.6 5.8,0 4.7,2.1 .3,2.6-10.6-1.3-10.5-2.4zM303.1,258.8l3.9,.3 6.6,0 0,1.3-6.6,.5-3.9-.5zM315.7,259.3l8-.7 0,1.5-8,.3zM325.5,264.4l4-3.5 6-1.6-3.4,2.4-4.8,2.4zM314.7,251.7l.1-1.1-.4-1.1 .2-1 0-1.1 .6-1-.9-1.1-1.2-.7 .6-1 .3-1.1-.1-1.2 .4-1 .7-1 .1-1.3 1.3-.9-.1-1.5 1-1.3 1.6-.3 1.4,0 1.3-.2 1.3,.8 1-.4 1.2,.4 .9-.9 1.1,.1 1-.3 1.9-.2-.6,1.1-1.2,.6-.6,1.1-1.1-.5-1.2,.2-1.1,.1-1.1-.4-1,.3-1.1-.2-1,.1-1.1,.2-1,.6-.8,.7 0,1.2 1,1-.2,1.2 1.5-.2 1.1-1.1 1.1-.5 1.1,.7 1.2-.6 1.1,.7-1,.8-1.2,.6-1.3,.4-1.5,1.1 1,.5 .7,.9 0,1.3 .9,.7-.1,1.3 .6,1 .6,1.1-1.2-.1-1,.7-1.2-.8-.1-1.7-1.3-.7 .1-1.5-.9-1.1-1,1 .1,1.1 .5,1.1-.1,1.1 0,1.1 .3,1.1-.6,1.1-1.3,.4zM336,231.9l3.2,1.4-1.8,2.6 2.1,2.6-2.7-.5-.8-3.4zM337.4,245.1l7.6,1.3-2.4,1.1-4.7-.8zM332.1,245.6l3.1,0-.5,1.6-2.4-.5zM345.8,239.3l1-.7 1.2-.3 1.2,0 1.1,.2 1.1,.3 1,.5 1,.3-.1,1 .3,1.1 .4,1-.3,1.1 .2,1.2 1.1,.5 .8,.7 1-.5 .9-.7 .7-.9 1-.6 1.2-.2 1.2-.3 1-.6 .9-1 1,.5 1,.4 .9,.6 1.3-.4 .9,.8 1.2-.1 .8,.9 1.3,.1 1.2,.3 1,.9 1.1,.2 1,.5 1.3-.2 1,.6 1.1,.1 1,.6 .8,1 1,.6 1,.5 .7,1.1 1.3,.2 .9,1 .8,1.3 1.5,.1 .7,1.9-1.1,0-1,.8 .4,1.4 1,1.2 1.3,.5 .5,1.3 .6,1.2 1,.6 1.3,.3 1.2,.5 .5,1.5 1.5,.2-1.4-.1-1.3-.3-1.3,.6-1.4,.2-1.4-.4-1.1-.8-.8-1-.7-1.1-1.1-.6-.9-.9-.5-1.2-1.1-.3-1.3,0-1.1-.6-1-.7-1.1,.6 0,1.4-.8,.9-.7,.8-1.2-.3-1.2,.1-1,.8-1.3-.8-1.4,.5-1.1-.4-1.2-.3-1-.7-.8-.9-1.2-.3-1.4-.3-1.2,1-.5-1.1-.3-1.2 1.2-.6-.1-1.5 1-.6-.1-1.3-1.2-.6-1.1-.7-.2-1.3-.9-.9-1.4,.9-.8-1.2-1.3,.7-.9-.8-.7-1-1.3,.3-.9-.7-1.1,0-.7-1-1,1-1.4,0-.6-1-.4-1.3-1.1-.8 1.4,.1 1.2-.9 1.4-.3-1-.7-1.1-.2-1.1,.4-1.3-.6-.8-1.3-1.3-.5zM391.4,251.7l3.9-1.3 5.3-2.1-1.3,3.4-4,1.8-3.9-.5zM397.4,244.3l4.5,2.9 1.3,2.4-3.9-3.2zM210.3,221.4l.3-5.3 .5-4.7 3.2,3.4 1.6,4-1.9,2.1-1.8,.8zM61.9,144.2l2.7-.3 4.7,.3-.8,.8-5.2,.2zM85.1,145.7l1.3-1.3 4.5-1-1.3,1.8-2.6,.8zM32.7,137.6l2.9-1.1 5.5-.2-1.3,4.2-2.1-.8zM21.6,134.4l.5-4.7 2.1-1.1 1.6,1.9-.5,3.4-2.1,.8zM22.7,126.8l2.1-2.9 .5,2.1-1.1,2.1-1-.5zM541.6,86.4l5.3-.7 .8-1.9-3.4,.5zM29,92.2l4.2-1.5-.8-1.4-2.9,.8zM774.9,73.8l-1.1-.5-1.2,1.1-1.1-.4-.9-1.6-1.2,.9-1.1-.3-1.3,.7-1.1-.8-1.1-.3-1.1-.5-1.3,1.2-1-1.5-1.1-.8-1.2,.7-1.5,.1 .2-2.4-1-.5-1.4,0-1.4,0-.7-.9-.8-.8-1.2-1.2-1.1,1-1.2-.8-1.1,1.6-1.2,.2-1.2,.2-1.1-.4-1.2-.6 1-1.2 .4-1.4 1-.4 1.1,.4 1,.2 1.1,.5 1,.2 1.1-1.9 1,1 1.1-1 1,.3 1.1,.7-.2-1.2 .5-1-.5-1.2 2.3-.6-.8-1.3-1.1,.1-1.2,.2-.5-2-1.5,1.5-.6-2.2-1.4,1.1-.7-1.1-1.3,.5-.9-.7-.3-1.4-1.3-.2-.5-1.2-1.1-.3-1-.5-1.1-.4-1.1,.4-1.1-1.5-1.1,.8-1.1-.1-1.1,1.1-1.1-.6-1.1,.7-1.1-1.8-1.1,.4-1.1,1.5-1.1-.7-1.1-.2-1.1,.7-.9-2.1-1.1,.4-1.2,.8-1-1.1-1-.2-1.3,1.1-1-.2-1-1-1-.6-1.2,.9-1.5,.1-.1-2-1.9,.6-.5-1.3 1.1-.6 .5-1 .3-1.2 1.4-.2 .4-1.2 .3-1.1 1.1,0 1.2,.1 1.1,.3 1.2,0 1-1.7 1.3,1.7 1-1.2 1.1,.5 1.1,.2 1.1,.3 1.1-.9 1.1,0 1.1,1.1 1.1-1.6 1.1,1 1.1,.4 1,.3 1.2-.2 1.1-.8 1.1,.1 .8,1 1,.3 1.1,.2 .8,.9 1.1,.2 .9,.8 1.4-.8 1,.4 1,.4 1.1,0 1.1,.1 .7,1.5 1,.4 1.3-.6 .9,.6 1.5-1.1 .9,.7 .9,.5 .9,1 .8,.9 1.6-1.8 .8,1.4 1.3-.4 1.2,.2 .6,1.4 1.5-.7 .8,1.1 .7,1.3 1.2-.1 .9,1 .9,.6 1.4-.5 .5,1.2 .9,.8 .3,1.2 1,.8 .9,.8 1,.3 1.1,.3 1.3-.5 .6,1.7 1.2-.2 1.4-.7 1.1,.1 .9,1 1,.3 .1,1.4 1.2,.8-.8,1.3-1.6-1.2-.8,1.4-1.4-.3-.7,1.5-1.2,.3-1.4-.4-.5,1.3 .5,1.3-.8,.8-1,.6 .3,1.6-1.7,.1-1,.7zM636.5,50.1l.6-1 .9-.7 .7-.9 .7-.8 1.1-.6 1.2,.1 .8-1.3 1.5,1.2 .9-1.4 1.2,0 1.4,.8 .9-1.2 1-.1 1.1-.1 1,.1 1.1-.5 1,.5 1.1-.2 1,1.3 1.1-1.3 1,.9 1.1-.6 1,.9 1.1,.4 1.1-.8 1,.5 1.1-.5 .5,1.2 .8,.8 1,.4 1.7-.9 .7,.9 .8,.8 .4,1.4 1.8-.9 .2,1.8 1.3-.2 1,.2 1.1,.3 .8,.9 .9,.7 1.2-.1 1.4-1.1 .8,1.2 1,.2 1,.3-1.2,.3-1.2,.4-1.1,.5-.4,1.4-1.2-.4-1.1,1.1-1.2-.8-1.1,1.4-1.2-.6-1.2-.8-1.1,.3-1.2,.4-1,.4-1.2-1.3-1,1.9-1.1-.2-1.1-1.4-1.1,1.2-1,.4-1.1,.2-1.1-.5-1.1-.5-1,1.5-1.2-.7-1,.8-1.1-.5-1.2-1.3-1,.6-1.1,.4-1.1-.2-1-.2-.9-.9-1.3,.4-.9-.6-1.1-.1-.8-1.2-1.4,.8-1.1,.3-.9-.9-.8-.9-.1-1.5-1.1-.6-1.9,.2zM618,47.4l.3-1.3 1.1-.3 .9-.7 1.6,.4 .2-1.4 1.5,.1 .2-1.4 .8-.6 1.1-.3 1.1,1.1 1-.8 1.1-.3 1-.4 1.1,.3 1.1,.4 .9-1.2 1.1,0 1.1,.4 .9,.5 1.3-.2 .9,.5 .7,1.1 .5,1.2 1.1,.2 1.2,.1-1.2,.1-1.1,.2-.8,1-.7,1.3-1.3-.3-.8,.9-1,.6-1.6-1-.8,1.2-1.1-.3-1,.8-1.1,.2-1.1-.3-1.1,1-1.1,.1-1,.2-1.2-.5-1.2-1.2-1.1,.5-.9,1.6-1.2-.8 0-1.7zM711.6,35.1l1,.4 1.1-.5 1.1-.8 1,1.9 1.1-1.5 1.1,0 1,1.2 1.1-1 1-.4 1,2 1.1-1.9 1.1,.9 1-.6 1.1-.3 1,1.5 1.1-.4 1-.2 1.1,.3 1,1.3 1.1-1 1.1-.7 1,1.7 1-.7 1.1-.8 1.1,.6 1.1,.1 .5-1.6 .9-.7 1.2,.1 1.7,1.3 .6-1.3 .8-.9 1.1-.2 1.1-.1 .4-1.8 1.8,1.6 1.1,0 .9-.8 .9-.6 .4-1.9 1.3,.5 .8-1.6 1.6,1.4 1.3,.4 .9-1 1.2-.2 1-.7 1.1-.4 .9-1 1.4,.6 1.1-.2 1-1.1 1.3,.8 1-.8 1.2-.2 .8-1.2 1.2,.1 1.2,.4 .7-1.4 1.2,0 1.5,1.8 1-.4 .7-1.8 1-.7 1.2,.6 1.2-.4 1.2,.1 .9-1.2 1.1-.6 1.6,1.1 1-.7 .9-.9-1.1,.2-1-.5-1-1-1.2,1.2-1.1,0-1.1,.1-1-1.8-1.1,.1-1-.2-1.3,1.5-.9-2.1-1.1,.5-1.3,1.7-.8-2.5-1.4,2.3-.9-1.8-1.1,.4-1.1-.1-1,1-1.1-1.3-1-.9-1.1,1.1-1-1.1-1.1,2.5-1-.9-1.1,0-1-.8-1.1-.6-1-.5-1.1,1.6-1.1,.6-1-1.4-1.1-.1-1-.4-1.1,1-1,.6-1.1,.4-1-1.5-1.1,1.1-1.1-.2-1,.1-1.1-.7-.9,1.2-1.1,.2-1.1-.7-1,.2-1.1,.2-1,.5-1.2-1.5-1,.4-1.1-.4-1.1,.2-1-.2-.9,2.2-1.1-.4-1.1-.5-1.2-.8-.8,2.1-1.1-.1-1.2-1.9-.9,1.6-1.1-.2-1.1,.1-1,.2-1.2-1.2-1,1-1,.2-1.4-.7-.9,.6-.8,1.2-1.1,.2-1.1,.2-.8,1.3-1.6-1.8-.5,2.4-1.3-.5-1.1,.2 .9,1.2 1.1,.1 1.3-1 1.1,.1 1.2-.1 .8,1.2 1.2-.5 .7,1.9 1.1-.1 1.2-.1 1.4-.6 .9,1.2 1.1,.5 1.2,.2 1.3-.3 1.1,.6 .9,1-1.2,.2-1.3-.1-.8,1.4-.9,.9-1.6-.9-.8,1.2-1.3-.1-.9,1-1.6-.2-.9,1-.7,1.2zM738,40.6l-1.1,.7-1.1-.5-1.1,.6-1.1-.2-1,.2-1.1-1.8-1.1,.6-1.1,.6-1.1-.3-1.1-.9-1,1-1.1,.6-1.1-.6-1.1,.3-1.1,.5-1.1-.1-1-.9-1.1-.5-1.1,1.6-1.1-1-1.1,1.1-1-1-1.1,.5-1.1-.5-1.1-.6-1.1,.5-1.1-.3-1,.4-1-.6-1.1,0-1-.3-1.1,0-.8-1-.9-.7-1.5,1.4-1.1-.1-.8-1.1 1.4,.5 .4-1.8 1.5,.8 .6-1.5 1.4,.6 .7-1.2 .6-1.1 1.3,.3 1.1-.2 1.1-.2 1,.9 1,.2 1.1-.2 1.1-1.3 1,1.5 1.1-.8 1,1.2 1.1-1.6 1.1-.3 1,1.3 1,.7 1.1,0 1.1-.8 1,.6 1.1-.6 1-1 1.1,.7 1,.5 1.1,.8 1-1 1.1-.8 1,1.9 1.1-1 .1,1.4 1.1,.4 1.2,.3 .6,.9 .9,.6 0,1.5zM706.3,30.3l1.2,.1 1.2,.1 1-.2 .8-1.3 1.2,.2 1.2,.1 .9-.8 1-.3 .8-1.3 1.3,.5-.7-.9-.6-1.1-1-.5-1.3-.2-1.3-.2-.4-1.3-1,.9-1.2-1.1-1.1,.4-1.2-.6-1,.9-1.1-.1-1.2-.3-1,.8-1.1,0-1,1.3-1.1-.4-1.2-.2-.5,1.3-1,.8-.9,.9-1.5,.1 .9,1.2 1.3-1.1 1.2-.2 1,.4 1.2-.1 .7,2.1 1.4-1.6 1,.6 1.2-.3 1,.7zM690.5,31.6l6.6,0-1.3-2.1-5.3,0zM677.3,31.6l8,0 0-2.3-8-.3zM653.6,32.9l13.2,0-2.6-2.1-10.6,.3zM736.7,45.3l10.5-.5-1.3-1.6-9.2,0zM698.4,47.4l4-.7 6.6-4-11.9-.5zM680,47.4l10.5,1.9 4-5.8-11.9-.8zM687.9,56.7l7.9-.6 1.3-2.1-7.9-.8zM643.1,38.7l1.1-.4 1.1,.1 1,.7 .9,.9 1,.3 1.2-.5 1,.6 1,.3 1,.6 1.2-.7 1.1-.1 1.1-.4 1.1,.2 1.2,.5 1.1,0 .9-1.8 1.2,.4 1.1,.5 1.2,.6 1.1-.2 1-1 1.1,.2 .7-1 1.4,.3 .5-1.6 1.4,.2-1-.9-1.1-.3-1.2,.4-1.3,.1-.7-1.6-1.3,.5-1.1-.8-1.1,.6-1.2,1-1-1.1-1.1-.8-1.1-.3-1.2,1.9-1-1.6-1.2,1.1-1-.5-1-1.2-1.2,.9-1.1-.3-1.1,0-1,.8-.9,.9-1.1,0-1,.1-1.3-1.2-1,.9-1,.1-1,.3 .5,1.1 1.5,.1zM682.6,38l9.2,1.5 0-4.2-7.9,0zM694.5,40.1l9.2,0-1.3-2.1-6.6,.5zM627.3,36.4l6.6-2.9 7.9,1.3-5.3,2.6zM123.3,119.1l1.9-2.1 3.9-2.4 5.3-1.3 5.3,.6 0,3.9-4.5,2.1-2.1,1.3 2.6,2.1 3.2,3.2 .8,2.6 2.4,2.7-1.1,1.8 1.1,5.6-6.4,1-5.2-1.8-1.6-2.4 1-4.7 2.7-.6-2.1-1-2.7-2.7-2.6-3.1 0-2.7zM73.8,127.6l0-3.7 1.8-3.5 2.7-2.6 2.6-3.2 2.6-.2 5.1,1.6-2.9,1.5 2.9,2.4 4.4-1 3.2-1.1-4-.8 .6-1.8 6-1.9 4.5-.5-2.1,1.6-2.4,1.6-1.8,1.8 1.8,1.1 2.7,1.5 3.9,2.4 4.2,3.7-.2,1.3-4.8,1.3-7.1-.5-4.7-2.1-4.5,0-6.6,2.4-5.3-.3zM31.4,85.1l0,1.9 1.8,2.1 .8,1.8 4.5-1.6 3.7-.2 1.3-1.9 .8-2.9 3.1-2.6 2.4-2.1-.8-1.1-3.7-2.1 .8-3.1 2.7-2.1 4.4-1.6 2.7-2.9 2.9-2.7 5-.2 2.9,.5 .2,1.3-2.3,.8-5.8,3.2-2.9,2.1 .2,2.6 .3,2.7 4,2.3 8.1-1.3 6.6-.5 4,1.8-5.3,.8-5.3,0-6.6,1.1 0,1.6 2.4,1.8-1,2.4-3.7-1.9-2.7,.8-1.6,2.4 .3,3.2-3.2,2.1-3.1,.2-7.1,.3-4.8,1-1.8-1.5-4,.8-2.6-.8-1.3-1.4-.8-1.5 1.8-1.6-1.6-1.6 .8-2.4M706.3,114.1l7.9-3.4 8-1.8 3.6,4.4-2.3,1.3-6.6-.7-6.6,.5zM717.4,126.5l.8-6.6 4.5-3.4 2.6,0-3.9,5.5-.6,4zM725.6,116.5l3.4-.5 6.3,.5 2.7,2.6-4.5,4.2-2.1-2.1-3.4,0 .7-3.4zM729,127.3l11.6-2.9-2.1,0-8.4,2.1zM738.5,123.1l9.2-.5-.5-1.9-6.6,.8zM687.9,104.1l5.8-.3-2.6-8.4-2.7,.8zM640.5,75.9l9.2,.5 10.5-3.9-6.6-.3-10.5,2.1zM619.4,64.6l9.2,1.3 7.9-2.6-4-2.7-9.2,.5zM78.5,78.5l3.2-.7 4.7-1.4-2.1-1.3-5.2,.8zM91.7,76.4l1.9-.5 2.1-3.4-2.1-.8-3.2,1.6zM818.4,238.5l-6.6,2.7-7.9,1.8-7.9,2.1-5.3,.5-7.9,.8-7.9-1.3-7.9,1.6-5.3,1-6.3-1.3M771.7,221.1l5.8-3.7 5.3-2.1 6.6-1.8M794.6,327.3l-2.6-4.4-1.3-6.6 2.6-6.6 7.9-.3M83.8,239.8l3.2-3.4 2.6,.3 1.3,3.1-2.6,4-4,0zM42.2,245.1l2.6-6.6 3.2-5.5 7.3-1.1 8.7,2.7M-.8,220.1l.8-2.7-1.3-2.6-2.7-1.3M948,220.1l.8-2.7-1.3-2.6-2.6-1.3M101.5,84.3l6.6,.6 7.9,3.1 6.6,1.1 7.9,2.6M173.9,77.8l10.6,2.6 13.2,3.9 13.1,2.7 10.6,1.3M116,147.6l3.9,3.2 4,3.1M193.7,118.6l5.3-4 5.3-.7 3.9,.7M273.6,101.5l4.5-.6 5.2-3.4 5.3-6.6M154.2,118.6l2.6,1.3 2.7-2.6-2.7-2.7-2.6,1.4zM77,245.9l.8,5.8 2.6,5.3 .8,2.6M89.6,262.2l1.3,5.3 .8,5.3 1.1,2.1M35.6,202.9l2.6-1.3 .8,1.9-2.6,.8z"/>
<path id="grid" fill="none" stroke="#000" stroke-width="1.6" stroke-dasharray="1.75 2.45" d="M158.1,0V474.4M316.3,0V474.4M474.4,0V474.4M632.5,0V474.4M790.7,0V474.4M0,79.1H948.8M0,158.1H948.8M0,237.2H948.8M0,316.3H948.8M0,395.3H948.8M0,0H948.8V474.4H0Z"/>
</defs>
<g transform="translate(102.3,143.0)">
<g clip-path="url(#dataclip)">
<path fill="#f3e31e" fill-rule="evenodd" d="M457.3,446.8L492.9,447.6L508.7,446.2L523.2,443.4L533.7,439.3L538.2,434.9L528.1,427.0L531.9,425.6L545.6,424.6L631.2,422.4L730.1,423.7L751.1,419.5L765.6,418.7L782.8,420.5L797.3,427.0L838.1,426.0L880.3,429.1L884.9,428.3L873.7,424.7L872.0,423.0L872.7,421.7L881.7,419.1L900.1,417.6L948.8,419.2L948.8,15.8L317.2,15.8L349.3,22.4L355.8,25.2L357.3,26.4L358.3,29.0L354.8,32.9L349.2,35.6L332.2,39.5L309.7,42.2L276.7,43.4L243.8,42.2L221.3,39.5L204.3,35.6L198.6,32.9L195.2,29.0L196.1,26.4L197.7,25.2L204.2,22.4L236.2,15.8L0.0,15.8L0.0,308.2L1.9,305.7L5.3,304.8L8.2,305.7L9.7,308.4L8.5,311.0L5.3,312.0L1.9,311.0L0.0,308.5L0.0,419.1L18.4,418.8L27.4,420.4L27.1,421.7L21.1,423.1L0.0,424.1L0.0,430.0L411.2,430.1L417.7,431.1L422.9,437.5L432.2,442.2L442.8,444.9L457.3,446.8ZM83.4,419.1L67.2,417.6L61.9,416.4L60.9,415.1L76.4,412.6L100.2,411.9L154.6,412.5L167.4,413.8L130.5,418.9L83.4,419.1ZM205.5,413.8L192.2,412.5L231.9,412.1L263.6,410.5L307.2,412.5L296.4,413.8L275.4,414.2L205.5,413.8ZM295.5,326.8L247.7,318.7L170.0,310.4L166.0,307.3L165.7,303.1L168.7,299.5L172.6,298.9L250.7,307.0L303.1,316.7L305.9,317.6L308.3,320.2L308.4,324.2L305.7,327.2L303.1,327.9L295.5,326.8ZM894.2,322.9L888.6,318.9L887.7,316.3L888.1,313.6L892.0,309.7L902.7,304.1L903.8,301.8L904.3,293.9L908.0,289.1L914.6,286.0L922.5,285.6L928.8,287.3L933.9,291.2L935.8,296.5L934.3,301.3L930.4,304.7L919.4,309.7L913.2,320.2L908.5,322.9L904.0,323.9L894.2,322.9ZM617.8,318.9L624.4,317.6L635.2,317.4L645.6,317.6L652.4,318.9L635.2,320.2L617.8,318.9ZM692.8,307.0L688.9,304.4L689.0,301.8L695.8,298.6L702.4,298.2L708.3,299.1L711.3,300.5L713.3,303.1L711.7,305.7L706.3,307.8L699.8,308.3L692.8,307.0ZM729.6,187.1L726.4,184.5L725.6,181.9L726.5,179.2L729.3,176.6L753.8,171.2L840.8,165.7L877.7,159.4L882.9,160.8L886.1,163.4L887.4,166.0L886.9,171.4L882.2,175.3L844.7,182.4L764.3,186.7L732.7,187.8L729.6,187.1ZM400.9,181.9L363.3,179.2L347.4,176.6L340.1,173.9L346.0,170.0L359.8,166.5L378.8,164.7L408.5,163.8L440.1,164.3L464.4,166.0L480.7,168.7L490.6,172.6L489.5,173.9L480.2,176.6L452.0,180.5L426.6,181.9L400.9,181.9ZM582.4,151.5L569.1,148.9L566.7,147.5L565.8,145.0L569.6,142.3L573.7,141.0L591.7,139.0L610.0,141.0L613.8,142.3L617.1,145.0L616.0,147.6L608.7,150.2L597.0,151.6L582.4,151.5ZM56.1,150.2L53.5,148.9L53.4,147.6L60.6,145.5L71.2,145.5L78.4,147.6L78.3,148.9L76.4,149.9L71.2,151.0L63.3,151.3L56.1,150.2ZM898.3,147.6L893.4,146.3L892.7,145.0L894.8,143.6L901.4,143.0L908.0,143.6L910.0,145.0L909.4,146.3L906.6,147.2L898.3,147.6ZM733.7,90.9L731.7,88.3L734.0,85.3L739.3,84.6L743.9,87.0L743.8,89.6L741.9,91.1L738.0,91.8L733.7,90.9ZM756.9,43.5L756.8,42.2L760.5,40.9L768.2,40.9L771.8,42.2L771.7,43.5L768.3,44.2L756.9,43.5ZM937.0,429.6L948.8,430.0L948.8,424.2L933.3,428.3L937.0,429.6Z"/>
<path fill="#d3e21b" fill-rule="evenodd" d="M463.9,441.6L481.0,442.4L496.8,441.5L509.3,438.8L512.6,437.2L514.3,434.9L511.3,432.2L502.6,429.6L481.0,427.2L458.6,428.7L449.6,430.9L445.3,433.6L445.4,436.2L449.4,438.5L463.9,441.6ZM1.3,394.6L72.5,394.7L201.6,393.0L353.2,394.8L517.9,393.0L664.2,394.8L832.8,393.0L948.8,394.5L948.8,323.6L929.0,324.0L911.9,329.4L900.1,330.6L890.8,329.4L871.1,323.7L769.6,323.5L768.1,322.9L767.1,318.9L768.3,306.2L769.6,300.8L772.2,297.8L881.6,297.5L886.9,295.3L895.4,287.3L901.3,283.3L909.3,280.2L918.5,278.9L926.5,279.4L935.6,282.0L942.6,286.0L948.8,291.2L948.8,185.2L919.8,184.9L917.2,183.2L910.6,175.8L904.0,173.1L898.7,174.8L890.8,183.2L886.9,185.1L734.0,192.7L727.4,191.4L716.9,185.3L690.5,184.6L673.8,180.5L670.5,179.2L666.8,175.5L660.2,174.3L653.6,174.6L649.7,176.2L648.5,177.9L649.4,181.9L648.4,183.6L633.9,185.3L515.3,185.3L408.5,187.5L329.4,185.5L325.0,184.5L331.4,175.3L339.7,168.7L354.9,162.1L380.8,153.0L535.0,152.5L541.6,151.1L548.8,143.6L557.4,139.7L589.1,134.0L606.2,134.5L619.5,137.1L631.7,142.3L640.5,150.4L645.7,152.3L731.4,153.3L735.3,159.5L735.3,161.1L723.5,157.5L711.6,157.3L701.1,160.2L693.6,166.0L693.0,170.0L697.1,174.5L705.0,178.3L712.9,179.7L718.2,179.0L727.4,171.9L737.5,168.7L739.4,166.0L737.2,162.1L741.9,162.5L747.2,161.2L755.1,154.6L759.1,153.0L885.6,152.1L887.2,151.5L884.0,147.6L884.0,145.0L885.2,143.6L891.6,141.0L901.4,140.1L911.1,141.0L917.6,143.6L918.8,145.0L918.8,147.6L915.3,151.5L917.2,152.4L948.8,152.9L948.8,59.2L932.9,56.7L905.3,49.1L890.8,47.5L821.0,47.6L788.0,56.1L763.0,58.2L740.6,56.3L710.3,47.9L685.3,47.3L652.3,47.8L603.6,53.3L561.4,54.8L483.6,53.8L417.7,48.1L328.1,53.4L282.0,54.7L231.9,53.7L159.5,49.5L112.0,54.1L63.3,52.4L26.4,59.2L0.0,59.3L0.0,152.9L30.3,152.3L32.9,151.4L37.5,146.3L43.0,143.6L54.0,141.6L65.9,140.9L77.8,141.6L87.8,143.6L93.7,146.3L99.0,151.5L105.4,152.8L318.9,152.9L323.2,154.2L310.5,168.7L309.1,176.6L312.6,184.5L304.0,188.4L304.7,196.4L301.8,198.5L297.8,198.2L296.5,197.1L296.0,193.7L297.0,188.4L291.2,186.1L251.7,184.9L241.2,179.7L231.9,178.2L222.7,179.7L212.2,184.9L204.3,184.9L200.3,183.2L189.8,173.2L185.8,170.7L172.6,167.9L164.7,168.2L155.5,170.3L131.8,183.7L126.5,185.0L0.0,185.2L0.0,292.1L6.6,296.7L19.8,297.9L22.4,299.1L27.7,308.6L31.5,321.5L31.1,322.9L29.0,323.6L0.0,323.6L0.0,394.6L1.3,394.6ZM298.4,332.1L249.1,325.5L225.3,324.2L55.3,323.6L53.2,322.9L52.9,321.5L53.1,315.0L49.0,300.5L50.1,298.1L52.7,297.8L156.8,297.7L166.0,294.1L171.3,293.3L249.1,297.6L379.5,297.9L384.8,298.8L395.3,303.0L401.9,303.7L420.4,298.0L477.0,296.3L546.9,287.5L548.9,286.0L547.7,284.6L547.4,282.0L550.8,280.2L554.5,282.0L553.8,286.0L556.1,286.7L594.3,285.1L636.5,285.3L668.1,286.9L703.7,290.5L739.3,296.0L744.6,298.7L746.0,301.8L745.4,311.0L743.2,320.8L741.9,322.9L739.3,323.6L633.9,325.1L453.3,323.6L445.4,322.1L429.6,314.5L415.1,312.6L400.6,315.4L388.8,321.6L383.5,323.2L318.9,323.7L316.3,324.6L308.4,331.4L304.4,332.5L298.4,332.1ZM13.4,141.0L5.3,137.9L3.6,135.7L4.5,133.1L9.5,130.5L19.8,129.4L27.7,130.6L30.7,131.8L33.2,134.4L32.6,137.1L27.7,140.0L21.1,141.3L13.4,141.0ZM733.1,94.9L726.4,90.9L720.0,80.4L719.2,76.4L720.8,72.3L727.4,67.4L735.3,65.4L744.6,66.0L752.5,69.7L756.0,73.8L756.7,77.8L749.6,90.9L742.8,94.9L733.1,94.9ZM810.3,79.1L803.9,77.6L802.5,75.6L802.9,73.8L806.3,71.2L811.8,70.2L817.1,71.2L820.5,73.8L820.5,76.4L818.4,78.3L810.3,79.1Z"/>
<path fill="#aedc2e" fill-rule="evenodd" d="M788.0,382.3L793.3,382.3L798.6,380.5L803.7,376.9L810.4,369.9L824.9,367.0L836.8,363.4L841.7,359.8L852.1,354.5L852.4,353.2L848.8,346.6L844.3,342.6L835.5,339.1L824.9,337.2L802.5,337.3L789.4,334.8L782.8,336.7L772.2,344.2L765.6,343.8L764.3,342.4L763.3,337.4L763.4,322.9L765.6,302.5L769.6,280.5L772.2,279.4L796.0,279.4L835.5,281.5L853.9,281.4L888.2,279.2L909.3,275.0L919.8,274.2L930.4,275.0L948.8,278.8L948.8,193.7L919.8,193.2L917.2,190.9L910.6,179.9L908.0,177.7L904.0,176.5L898.1,179.2L890.8,190.9L886.9,193.5L793.3,194.5L784.1,195.5L767.5,200.3L757.2,201.6L738.0,200.4L718.2,194.6L696.1,192.4L691.8,191.1L682.6,185.6L670.8,183.9L660.2,186.1L651.0,192.5L645.7,193.5L524.5,193.6L423.0,191.2L322.9,193.7L317.6,195.5L312.7,204.3L309.7,207.5L305.7,209.3L297.8,210.3L293.9,209.6L290.1,206.9L284.6,197.3L282.0,194.7L250.4,191.4L243.8,183.6L235.9,180.4L230.6,180.0L224.0,181.5L217.6,185.8L212.2,193.1L204.3,192.9L201.6,191.2L195.0,181.6L184.8,172.6L179.2,170.5L170.0,169.6L162.1,170.4L155.7,172.6L143.0,180.5L130.5,191.8L125.2,193.5L0.0,193.7L0.0,278.9L15.8,279.5L18.4,280.8L22.4,287.1L35.5,320.2L38.2,323.2L40.9,324.2L46.1,323.2L48.8,320.4L49.8,317.6L49.4,313.6L41.8,288.6L41.6,282.0L42.2,280.4L44.8,279.4L112.0,279.8L162.3,286.0L210.8,287.6L259.4,286.0L307.0,280.0L326.8,283.4L351.9,280.7L375.6,279.6L379.5,280.2L382.2,281.9L392.7,293.0L400.6,295.5L408.5,293.0L419.1,281.9L421.7,280.2L425.6,279.5L479.7,278.9L561.4,274.4L606.2,273.3L654.9,274.2L726.1,278.1L731.4,280.1L749.3,299.1L745.9,326.0L743.2,335.2L739.3,341.0L662.9,339.6L627.3,340.7L597.0,342.9L572.1,346.6L542.6,353.2L540.5,354.5L538.7,358.4L530.0,362.4L529.4,363.7L569.2,374.3L610.1,378.4L649.7,380.4L691.8,380.6L731.4,379.2L772.2,375.9L788.0,382.3ZM1.3,379.8L61.9,380.6L121.2,377.6L155.5,373.4L191.0,363.7L190.4,362.4L181.7,358.4L179.9,354.5L173.2,351.9L132.2,343.9L89.6,340.4L76.0,333.4L63.3,332.0L54.0,333.9L42.2,339.4L0.0,340.4L0.0,379.8L1.3,379.8ZM312.3,379.6L374.3,380.6L433.6,377.9L467.5,374.3L507.2,363.7L506.6,362.4L498.0,358.4L496.2,354.5L494.1,353.2L445.4,342.9L442.8,340.9L438.7,330.8L434.4,325.5L425.6,320.8L416.4,319.4L408.5,320.4L400.2,324.2L395.9,328.1L390.1,336.9L386.1,339.2L318.9,340.4L271.5,344.0L226.3,353.2L224.2,354.5L222.4,358.4L213.8,362.4L213.1,363.7L252.9,374.3L312.3,379.6ZM944.9,379.6L948.8,379.7L948.8,340.5L904.5,343.9L863.4,351.9L856.0,354.5L854.8,358.4L846.0,362.4L845.6,363.7L885.5,374.3L944.9,379.6ZM316.3,182.2L320.2,182.5L322.9,181.3L331.2,172.6L338.7,167.3L374.3,152.5L383.5,144.1L388.8,141.4L531.1,140.7L575.5,131.8L583.4,127.8L591.7,118.4L599.6,115.3L604.9,115.8L610.1,118.4L619.3,129.1L624.8,133.1L633.9,137.0L645.7,140.1L658.9,141.2L736.7,141.4L737.8,143.6L735.4,150.2L735.5,154.2L738.0,158.4L741.9,160.3L747.2,159.2L759.1,147.0L765.6,142.5L769.6,141.4L873.7,141.3L892.2,138.1L901.4,137.5L910.6,138.1L926.4,141.0L934.3,140.8L938.3,139.0L942.6,131.8L948.8,128.4L948.8,72.4L898.7,70.2L879.0,72.9L867.1,73.1L846.0,70.8L841.9,72.5L835.5,83.4L830.2,88.7L822.2,92.2L811.8,93.5L803.9,92.5L796.0,89.5L789.4,84.1L781.5,72.8L778.7,71.2L773.5,70.8L769.6,72.6L762.0,84.3L753.0,92.2L745.9,96.3L738.0,97.6L731.4,96.7L724.8,93.6L713.9,84.3L706.3,72.6L703.7,71.0L698.4,70.3L516.6,70.2L469.1,67.0L421.7,70.2L76.4,70.3L23.7,72.5L0.0,72.4L0.0,128.0L11.9,125.3L25.0,125.3L39.1,129.1L43.1,131.8L47.2,137.1L48.8,137.7L75.1,138.1L104.1,141.1L343.9,141.9L342.3,145.0L329.5,153.2L312.8,168.7L311.0,172.6L311.2,176.6L313.6,180.5L316.3,182.2Z"/>
<path fill="#89d546" fill-rule="evenodd" d="M785.4,378.4L790.7,379.5L796.0,378.3L801.2,374.3L807.8,364.9L819.7,362.5L827.6,358.9L833.7,353.2L834.7,350.5L834.2,347.7L829.7,343.9L821.0,341.5L802.5,340.9L792.0,337.7L788.0,337.9L784.1,339.5L780.1,342.7L776.7,347.9L774.6,354.5L774.3,359.8L775.4,366.3L777.9,371.6L781.1,375.6L785.4,378.4ZM747.2,356.0L751.1,356.8L755.1,355.7L757.9,353.2L759.3,349.2L762.6,309.7L766.7,287.3L766.0,280.7L762.9,272.8L763.0,269.6L767.0,268.8L794.6,269.0L828.9,272.6L844.7,273.1L892.2,269.0L948.8,268.9L948.8,200.4L922.5,200.3L918.5,199.6L915.9,195.8L910.6,183.6L907.6,180.5L904.0,179.3L898.7,182.0L895.4,187.1L890.8,198.3L886.9,200.3L798.6,200.5L765.7,205.6L745.9,205.8L734.2,204.3L705.0,198.0L689.2,192.8L681.2,187.1L672.1,185.7L665.5,186.5L660.2,188.5L657.3,191.1L655.4,196.4L653.6,197.8L622.0,199.5L524.5,199.9L469.1,195.2L433.6,194.1L392.7,194.5L358.6,196.4L322.9,200.4L318.9,203.1L308.4,215.1L301.8,217.3L297.8,216.4L291.0,212.2L279.4,201.2L267.5,200.0L260.9,195.3L257.0,193.8L247.7,195.5L245.3,187.1L241.2,183.5L235.9,181.5L228.0,181.5L220.1,185.5L216.8,191.1L217.0,197.7L216.1,199.8L210.8,200.4L204.3,199.6L201.6,197.4L197.0,187.1L192.4,181.4L187.1,178.8L183.4,173.9L181.1,172.6L170.0,170.9L159.5,172.7L146.3,180.9L139.3,187.1L131.8,196.9L126.5,200.0L0.0,200.4L0.0,268.9L19.5,270.1L20.8,271.5L21.7,278.1L36.9,317.6L40.9,321.5L43.5,321.5L45.7,320.2L47.4,316.3L40.0,293.9L37.9,283.3L37.0,271.5L37.3,270.1L39.5,269.0L119.9,268.8L135.7,270.3L226.3,271.5L233.3,272.3L242.5,275.0L247.7,275.2L291.2,275.0L307.0,269.4L311.0,271.2L318.9,278.2L326.8,280.4L382.2,270.7L386.1,272.7L394.0,282.6L400.6,284.8L407.2,282.6L416.4,271.4L423.0,269.1L502.1,269.2L611.5,267.4L722.2,269.2L726.1,270.1L728.7,272.3L751.6,299.1L748.6,322.9L742.8,347.9L743.9,353.2L747.2,356.0ZM59.3,345.3L64.6,346.5L69.8,346.0L74.3,343.9L75.8,341.3L74.1,338.7L71.2,337.3L60.6,337.2L57.4,338.7L55.7,341.3L56.7,343.5L59.3,345.3ZM317.6,180.8L321.5,180.0L328.2,172.6L338.3,166.0L374.3,150.7L385.4,138.4L388.2,130.5L390.1,129.2L564.0,128.4L568.0,127.2L570.5,125.2L579.8,110.7L585.1,104.9L591.7,100.6L599.6,98.1L607.5,99.4L616.7,104.9L622.0,110.7L631.3,125.2L636.5,128.4L747.2,129.3L748.2,130.5L747.2,133.1L736.6,151.5L738.0,156.6L741.9,159.1L745.9,158.7L748.4,156.8L756.4,147.3L768.2,137.1L772.2,129.9L773.5,129.1L803.4,127.8L813.3,126.5L816.0,125.2L809.8,118.6L803.3,109.4L800.1,101.5L776.2,86.9L772.2,87.3L761.7,93.0L748.5,98.3L736.7,100.0L724.8,97.3L702.4,86.1L698.4,85.1L582.5,84.9L577.2,84.1L562.7,79.4L549.5,78.0L536.3,78.9L519.2,83.3L495.5,74.5L474.4,71.4L459.9,71.6L446.7,73.5L436.4,76.4L420.4,83.3L413.8,84.5L390.1,81.0L363.7,84.9L0.0,85.1L0.0,123.2L11.9,121.5L26.4,121.7L36.9,123.4L51.4,128.2L59.3,129.1L359.8,129.1L363.7,129.4L364.9,130.5L362.2,137.1L330.8,154.3L314.8,168.7L313.0,171.3L312.5,175.3L314.6,179.2L317.6,180.8ZM910.6,127.9L931.7,128.4L948.8,123.4L948.8,85.1L925.1,86.6L919.0,88.3L915.0,90.9L910.2,98.8L911.1,105.4L910.6,108.1L903.3,118.6L897.2,125.2L899.9,126.5L910.6,127.9Z"/>
<path fill="#6ece58" fill-rule="evenodd" d="M788.0,377.0L793.3,377.0L797.3,375.1L800.7,371.6L805.2,363.8L807.8,361.7L816.8,359.8L822.1,357.1L824.5,353.2L823.5,350.5L818.4,347.3L803.9,345.0L793.3,340.1L788.0,340.0L784.1,341.9L780.7,345.3L777.9,350.5L776.6,361.1L777.8,366.3L780.5,371.6L784.1,375.2L788.0,377.0ZM749.8,353.3L753.8,352.7L756.2,349.2L758.5,313.6L758.1,301.8L763.0,293.9L765.2,287.3L763.9,279.4L756.5,264.9L756.4,259.6L757.7,258.6L796.0,258.1L828.9,255.0L848.7,254.6L890.8,258.1L940.9,258.4L948.8,262.6L948.8,206.1L919.8,205.6L915.9,204.6L914.6,202.8L910.6,188.3L907.9,184.5L904.0,182.7L900.1,184.5L897.4,188.3L892.6,204.3L886.9,205.6L796.0,205.7L761.7,207.9L744.6,207.6L705.0,200.6L697.1,196.3L685.7,193.7L678.7,188.5L672.1,187.6L665.9,188.4L661.2,191.1L660.2,193.7L661.5,199.0L658.8,200.3L616.7,203.7L498.1,204.7L416.4,203.5L345.3,205.3L320.2,209.4L316.3,212.2L309.4,221.4L303.1,223.8L300.5,223.0L292.6,215.9L279.2,208.2L266.2,203.1L261.8,197.7L258.3,195.4L253.0,195.4L246.4,200.5L242.5,201.0L241.6,200.3L245.3,193.7L245.1,189.8L242.4,185.8L235.9,182.5L226.7,182.9L222.7,184.8L219.3,188.4L218.5,193.7L220.1,197.2L224.4,201.6L223.2,202.9L212.2,205.8L202.9,205.0L200.6,202.9L196.8,189.8L192.4,183.2L184.2,180.5L182.6,179.2L181.2,175.3L179.4,173.9L170.0,172.4L160.8,173.9L146.3,183.1L140.6,188.4L129.1,204.3L123.9,208.1L4.0,208.3L0.0,206.8L0.0,263.2L6.6,266.4L11.9,267.4L29.0,267.1L40.9,258.4L116.0,258.3L118.6,258.6L126.3,266.2L131.8,267.7L226.7,269.4L233.3,270.0L245.1,272.9L289.9,272.8L293.9,272.2L297.6,270.1L305.7,259.7L308.4,258.8L311.9,260.9L314.0,268.8L317.0,274.1L321.5,277.5L326.8,278.7L374.3,269.8L380.1,266.2L386.1,260.0L391.4,258.5L405.9,261.5L423.0,262.5L722.2,262.6L727.4,266.8L735.9,279.4L745.7,291.2L754.4,297.8L757.5,301.8L753.8,313.2L746.0,346.6L746.4,350.5L749.8,353.3ZM29.0,282.2L31.6,282.9L32.6,278.1L32.1,274.1L29.0,272.0L26.9,272.8L25.6,275.4L26.4,278.4L29.0,282.2ZM316.3,178.1L320.2,178.2L325.2,171.3L336.0,165.6L372.9,150.0L384.0,137.1L384.7,133.1L383.5,129.1L378.2,125.7L372.9,126.6L363.7,138.7L330.8,156.0L315.1,171.3L314.6,175.3L316.3,178.1ZM743.2,158.2L747.2,156.6L755.8,146.3L767.1,135.7L768.8,130.5L768.0,127.8L765.6,125.2L761.7,124.0L757.7,125.2L744.9,139.7L737.8,151.5L739.3,156.5L743.2,158.2ZM383.5,115.0L388.8,115.9L395.3,115.4L400.8,113.3L405.5,109.4L407.9,105.4L408.7,100.2L406.7,94.9L403.2,90.9L395.8,87.0L387.4,86.4L380.8,88.3L374.4,93.6L371.4,100.2L372.3,105.4L376.9,111.7L383.5,115.0ZM495.5,104.2L507.4,105.1L519.2,103.7L525.8,101.1L528.1,97.5L526.4,94.9L523.2,93.2L502.6,88.3L500.1,83.0L494.0,79.1L481.0,75.7L466.5,74.9L452.9,76.4L441.6,80.4L437.2,84.3L437.1,87.0L438.8,89.6L446.7,94.1L459.9,97.0L478.4,97.7L487.6,102.1L495.5,104.2ZM539.0,93.8L548.2,94.7L557.4,93.7L564.4,90.9L566.6,87.0L564.5,84.3L561.9,83.0L552.2,81.0L540.3,81.5L531.9,84.3L529.8,87.0L530.5,89.6L533.7,92.0L539.0,93.8Z"/>
<path fill="#4ec36b" fill-rule="evenodd" d="M786.7,374.6L792.0,375.4L797.3,372.9L801.1,367.7L804.9,358.4L804.1,355.8L797.1,345.3L793.8,342.6L790.7,341.8L786.7,342.6L782.8,345.5L779.7,350.5L778.3,355.8L778.5,362.4L780.1,367.7L782.8,371.7L786.7,374.6ZM752.5,294.1L756.4,294.4L760.4,292.6L763.0,288.9L763.7,284.6L762.6,279.4L755.3,267.5L751.1,255.7L751.1,251.4L753.8,249.4L840.8,248.2L939.6,249.7L943.5,251.3L948.8,259.4L948.8,209.9L946.2,208.7L918.5,208.6L913.2,207.6L910.9,205.6L909.6,196.4L908.0,192.3L904.0,189.6L901.4,190.7L898.8,195.0L897.1,205.6L894.8,207.6L890.8,208.5L749.8,209.6L705.0,202.4L695.8,197.2L685.3,195.9L681.3,196.4L676.0,200.7L610.1,206.1L353.2,207.2L338.7,209.7L334.6,212.2L332.2,218.8L330.8,219.6L318.9,220.4L309.7,226.5L303.1,227.9L299.7,226.7L295.6,220.1L292.6,217.3L288.6,215.2L280.2,213.5L274.1,208.0L266.2,204.9L261.7,199.0L258.3,196.5L253.0,196.5L245.1,202.5L234.8,201.6L242.3,196.4L244.0,191.1L240.8,185.8L234.6,183.2L229.3,183.2L225.2,184.5L221.7,187.1L219.9,191.1L220.7,195.0L222.7,197.6L231.6,201.6L212.2,207.5L201.6,206.6L198.8,204.3L196.5,192.4L192.4,185.0L189.8,183.4L181.9,181.9L175.3,176.1L168.7,175.0L160.8,176.8L145.0,186.0L141.2,189.8L125.2,212.1L117.3,219.7L7.9,219.9L1.3,218.8L0.0,213.3L0.0,260.4L5.3,264.1L10.5,265.8L26.4,265.9L31.6,264.1L36.2,258.3L38.2,247.2L39.5,246.0L64.6,245.3L123.9,245.1L131.7,246.4L129.1,247.0L125.2,250.5L122.8,257.0L125.2,263.2L130.5,266.1L226.7,268.0L233.3,268.6L242.5,271.3L249.1,271.7L289.9,271.3L295.2,269.8L299.5,264.9L300.3,258.3L297.8,252.6L291.8,247.7L292.0,246.4L309.7,245.1L332.1,245.4L341.0,246.4L341.3,247.7L339.2,249.1L321.5,255.3L316.6,260.9L315.6,266.2L317.0,271.5L321.5,276.1L326.8,277.4L374.3,267.9L378.3,264.9L380.8,260.9L382.2,248.0L386.1,246.7L399.1,247.7L401.2,249.1L403.1,253.0L406.2,255.7L413.8,258.4L423.0,259.6L709.0,259.7L722.2,258.6L724.8,260.1L737.3,279.4L746.0,289.9L752.5,294.1ZM150.1,247.7L133.5,246.4L160.8,245.9L178.3,247.7L171.3,248.5L150.1,247.7ZM672.1,195.1L673.0,195.0L671.4,195.0L672.1,195.1ZM325.5,166.0L340.1,162.1L371.6,149.1L382.0,137.1L382.8,133.1L381.8,130.5L378.2,128.1L373.3,129.1L365.0,140.1L332.4,156.8L325.6,163.4L325.5,166.0ZM741.9,156.9L744.6,156.9L746.7,155.5L755.1,145.4L765.6,135.4L767.2,131.8L765.6,127.5L763.0,126.0L759.1,126.5L747.2,138.9L739.0,151.5L739.3,154.5L741.9,156.9ZM499.4,101.5L512.9,101.5L517.8,100.2L520.3,97.5L516.6,94.8L504.7,93.0L494.5,93.6L490.3,96.2L491.5,98.8L499.4,101.5Z"/>
<path fill="#35b779" fill-rule="evenodd" d="M788.0,373.1L792.0,373.4L796.0,371.6L799.9,366.4L801.3,361.1L800.8,358.4L795.5,351.9L793.1,346.6L789.4,344.5L785.4,345.8L782.8,348.5L779.8,357.1L781.5,366.7L784.1,370.5L788.0,373.1ZM749.8,291.6L753.8,291.9L758.1,289.9L760.7,287.3L762.1,283.3L761.2,279.4L754.4,268.8L749.0,255.7L748.9,249.1L751.1,246.2L835.5,245.8L940.9,246.9L944.9,248.3L948.8,256.8L948.8,223.0L935.6,219.4L918.7,217.4L917.1,216.1L929.3,213.5L913.2,212.0L904.0,209.9L893.5,211.8L861.6,212.2L842.3,213.5L852.6,215.2L856.6,217.4L856.2,218.8L851.9,221.4L839.4,223.8L831.5,223.9L824.9,218.3L819.7,215.4L815.7,217.0L809.1,223.2L806.5,224.3L746.2,224.0L739.9,222.7L737.7,221.4L737.4,220.1L740.6,217.5L744.6,216.3L763.1,213.5L745.9,211.6L718.2,205.4L702.4,203.4L695.8,198.9L689.2,197.6L683.9,198.6L680.5,201.6L677.3,202.6L615.4,207.5L487.6,209.2L357.1,208.7L345.3,210.8L343.2,212.2L342.8,213.5L346.6,215.7L355.8,217.3L487.6,218.3L506.9,220.1L432.2,225.7L378.6,231.9L370.5,234.6L370.5,235.9L374.3,237.3L420.4,243.0L436.6,246.4L434.6,247.7L419.1,249.6L415.1,251.0L413.0,253.0L415.6,255.7L421.7,257.2L527.1,258.0L709.0,257.2L722.2,254.8L726.1,258.3L738.6,279.4L749.8,291.6ZM322.9,275.5L329.5,276.1L372.9,267.1L376.4,264.9L379.0,260.9L379.7,257.0L378.9,253.0L374.3,247.3L369.0,245.7L322.9,257.5L318.8,260.9L317.1,266.2L318.4,271.5L322.9,275.5ZM242.5,270.3L291.2,270.0L294.4,268.8L297.1,266.2L298.5,259.6L296.5,255.6L291.2,252.6L260.9,252.3L246.4,251.0L230.6,252.4L131.8,250.4L126.5,252.9L124.7,257.0L126.2,262.2L131.8,264.9L226.7,266.7L233.3,267.4L242.5,270.3ZM25.0,264.9L29.0,264.4L33.5,260.9L36.2,253.0L34.3,240.7L43.2,235.9L40.9,233.9L35.6,232.1L6.6,227.2L0.0,223.9L0.0,258.2L4.5,262.2L9.2,264.4L25.0,264.9ZM208.2,242.5L231.9,240.8L237.3,238.5L234.1,234.6L253.0,230.7L257.0,230.8L264.9,233.3L274.1,231.8L282.0,233.9L288.6,233.7L295.2,230.6L297.0,228.0L297.1,225.3L295.5,221.4L292.6,218.3L287.3,215.9L279.4,215.1L274.1,209.5L265.5,205.6L260.9,199.3L257.0,196.9L253.0,197.4L245.1,203.4L231.9,203.7L210.8,208.8L200.3,207.4L197.7,205.2L195.3,192.4L191.1,185.9L183.2,184.3L173.9,180.0L167.4,178.9L160.8,179.6L155.5,181.4L143.6,188.6L123.0,217.4L120.6,222.7L120.7,228.0L122.5,231.9L126.5,235.2L130.5,236.4L155.5,239.5L208.2,242.5ZM818.4,213.6L821.8,213.5L817.7,213.5L818.4,213.6ZM229.3,199.2L234.6,199.2L240.4,196.4L242.2,193.7L242.6,191.1L240.6,187.1L235.9,184.5L231.9,184.0L228.0,184.5L223.3,187.1L221.5,189.8L221.7,193.7L224.0,196.8L229.3,199.2ZM741.9,155.0L743.2,155.4L745.8,154.2L753.4,145.0L764.3,134.5L765.5,131.8L764.3,128.8L761.7,127.7L759.1,128.7L748.7,139.7L740.7,151.5L741.9,155.0ZM361.1,147.9L369.0,146.3L371.6,144.4L379.5,135.8L379.8,133.1L378.9,131.8L376.9,131.0L374.8,131.8L367.7,142.7L361.1,147.9Z"/>
<path fill="#25ab82" fill-rule="evenodd" d="M788.0,370.7L792.0,371.1L794.6,369.9L797.7,366.3L798.6,362.4L797.3,359.4L792.1,354.5L789.4,350.4L786.7,349.0L782.8,352.8L781.6,359.8L783.4,366.3L788.0,370.7ZM751.1,290.0L759.1,284.3L760.4,282.0L759.7,279.4L753.0,268.8L747.4,255.7L747.1,247.7L749.8,244.2L786.7,243.7L942.2,245.4L946.2,246.7L948.8,254.0L948.8,225.9L938.3,222.4L923.8,221.1L914.6,221.9L898.7,225.8L832.8,226.6L830.2,225.7L823.6,219.4L819.7,218.5L814.4,220.4L809.1,225.8L806.5,226.9L744.6,226.7L734.0,224.6L730.4,222.7L730.7,220.1L737.1,213.5L733.6,210.8L719.5,206.9L699.8,204.3L694.5,201.5L690.5,200.6L678.7,203.8L610.1,209.2L525.8,210.2L487.6,211.9L448.1,210.4L358.4,210.5L351.7,212.2L352.0,213.5L357.1,214.9L448.1,215.3L487.6,213.9L527.1,215.9L614.1,217.0L668.1,221.0L694.4,221.4L644.4,223.1L529.8,223.7L494.2,224.9L437.5,229.3L425.1,231.9L419.5,234.6L419.0,235.9L425.6,238.9L438.8,241.6L500.9,247.7L506.0,249.1L445.2,253.0L449.7,254.3L525.8,255.7L561.4,254.9L604.1,253.0L605.2,251.7L599.0,250.4L604.9,250.0L702.4,249.8L720.8,247.6L723.5,248.7L724.7,250.4L729.7,262.2L739.1,278.1L748.0,288.6L751.1,290.0ZM326.8,275.5L372.9,266.0L377.6,260.9L377.7,254.3L374.3,249.9L367.7,248.2L324.2,258.7L319.6,262.2L318.5,268.8L321.5,273.6L326.8,275.5ZM241.2,269.1L250.4,269.8L291.2,268.9L295.7,266.2L297.2,260.9L295.2,256.6L291.2,254.4L260.9,254.1L249.1,252.5L229.3,254.4L131.8,252.5L127.8,254.2L126.5,257.0L127.8,261.6L131.8,263.4L226.7,265.2L233.3,266.1L241.2,269.1ZM10.5,263.7L26.4,264.2L30.3,262.9L34.6,257.0L35.3,253.0L34.7,247.7L26.3,234.6L18.4,231.5L2.6,228.7L0.0,227.1L0.0,256.1L4.4,260.9L10.5,263.7ZM127.8,233.7L134.4,234.2L139.5,231.9L142.0,229.3L147.6,218.6L151.5,216.1L164.7,220.6L176.6,217.6L178.2,218.8L179.8,226.7L183.2,230.2L189.8,232.1L209.5,233.9L255.7,228.8L264.9,231.2L274.1,229.9L282.0,232.3L286.0,232.4L293.9,229.6L296.0,225.3L294.5,221.4L291.2,218.3L287.3,216.6L278.1,215.7L272.8,209.8L264.9,206.2L260.9,200.3L257.0,197.7L253.0,198.2L245.1,204.1L230.6,204.8L210.8,209.6L200.0,208.2L196.3,205.6L194.2,193.7L191.1,188.2L188.4,186.9L183.2,186.4L172.6,181.8L164.7,181.0L156.8,182.6L145.0,188.6L132.2,205.6L123.4,218.8L121.9,222.7L123.0,229.3L127.8,233.7ZM229.3,197.7L234.6,197.7L239.5,195.0L241.0,191.1L239.8,188.3L237.2,186.3L233.3,185.2L229.3,185.4L225.3,187.1L223.2,189.8L223.4,193.7L226.0,196.4L229.3,197.7Z"/>
<path fill="#1f9e89" fill-rule="evenodd" d="M788.0,366.8L792.0,367.3L793.6,366.3L794.6,363.7L792.4,361.1L786.7,357.3L785.4,357.7L784.8,361.1L785.4,363.7L788.0,366.8ZM748.5,286.6L751.1,286.9L758.1,280.7L751.4,268.8L745.5,254.3L745.9,245.2L747.2,243.3L749.8,242.1L942.2,244.2L947.0,245.1L948.8,247.6L948.8,228.1L937.0,225.1L925.1,224.1L900.1,227.8L832.8,228.3L830.2,227.5L823.6,220.6L819.7,219.6L814.7,221.4L809.1,227.7L806.5,228.7L744.6,228.6L723.7,224.0L723.6,222.7L730.6,214.8L730.3,212.2L728.3,210.8L718.2,207.9L687.9,204.1L661.5,205.8L619.4,210.4L577.0,212.2L581.0,213.5L664.2,218.1L698.4,218.3L705.1,220.1L707.7,223.0L703.7,224.5L693.2,225.1L508.7,226.1L451.6,230.6L439.1,233.3L436.3,235.9L441.9,238.5L456.0,240.9L515.3,245.5L722.2,245.6L725.9,247.7L730.6,260.9L735.3,269.2L740.6,277.9L748.5,286.6ZM324.2,274.2L329.5,274.4L371.6,265.5L374.7,263.6L376.5,260.9L377.1,258.3L376.3,254.3L372.9,250.7L367.7,249.7L324.2,259.9L320.2,263.3L319.3,267.5L320.7,271.5L324.2,274.2ZM245.1,268.9L291.2,267.9L295.2,265.0L296.0,260.9L293.9,257.2L291.2,255.8L260.9,255.5L247.7,253.7L241.2,254.1L228.0,257.7L133.1,255.9L130.5,256.7L130.0,258.3L131.8,260.1L149.9,260.9L225.3,261.9L230.6,262.9L239.8,267.6L245.1,268.9ZM9.2,262.4L25.0,263.5L29.0,262.8L31.6,260.9L33.9,257.0L34.2,249.1L31.6,243.8L20.9,234.6L0.0,229.2L0.0,253.4L4.0,259.3L9.2,262.4ZM127.8,232.4L133.1,233.1L137.1,231.5L147.6,216.7L152.9,213.5L166.0,216.1L179.2,213.7L181.3,224.0L185.8,229.2L189.8,230.5L209.5,232.6L255.7,227.8L266.2,229.9L274.1,228.7L280.7,231.1L286.0,231.5L292.6,229.3L295.1,225.3L294.5,222.7L291.2,219.0L286.0,217.1L278.1,216.8L272.8,210.8L264.9,207.2L260.1,200.3L257.0,198.4L253.0,198.9L247.7,203.6L245.1,204.7L230.6,205.5L210.8,210.3L199.0,208.6L195.9,206.9L193.8,204.3L192.4,195.7L189.7,191.1L183.2,189.1L173.9,184.2L164.7,182.9L148.9,187.3L142.3,192.5L123.1,221.4L123.5,228.0L127.8,232.4ZM228.0,195.3L231.9,196.1L236.3,195.0L238.6,192.4L238.3,189.8L234.6,187.1L228.0,187.7L225.1,191.1L226.0,193.7L228.0,195.3Z"/>
<path fill="#21908d" fill-rule="evenodd" d="M748.5,282.3L751.1,282.5L754.6,279.4L743.6,255.7L743.5,245.1L744.9,242.5L748.5,240.5L790.7,240.3L871.1,242.9L948.8,243.8L948.8,229.7L935.6,228.4L832.8,229.8L830.2,229.1L823.6,221.6L819.7,220.4L814.4,222.6L809.1,229.5L805.2,230.5L749.8,230.8L714.2,226.1L528.4,227.0L478.4,230.0L456.1,233.3L452.7,234.6L452.0,235.9L457.3,238.0L468.0,239.8L516.6,243.9L723.5,244.2L727.7,246.4L732.7,260.8L736.7,267.6L741.9,275.9L748.5,282.3ZM324.2,273.3L329.5,273.6L371.6,264.6L375.4,260.9L375.7,255.7L372.9,252.0L367.7,250.9L325.5,260.5L322.3,262.2L320.2,266.2L320.8,270.1L324.2,273.3ZM242.5,267.7L289.9,267.1L294.0,264.9L294.9,260.9L293.3,258.3L289.9,256.9L260.9,256.7L251.7,254.9L243.8,254.9L237.7,257.0L235.4,260.9L237.4,264.9L242.5,267.7ZM22.4,262.3L28.7,262.2L32.7,258.3L34.0,251.7L31.6,245.1L17.1,234.7L0.0,230.6L0.6,250.4L3.2,257.0L9.2,261.5L22.4,262.3ZM130.5,232.2L134.4,231.6L137.1,229.9L146.3,216.8L152.9,211.7L155.5,211.0L163.4,212.8L168.7,212.8L173.9,211.4L179.4,208.2L182.7,204.3L183.9,200.3L183.5,196.4L181.3,192.4L174.8,187.1L167.4,185.2L150.2,187.8L145.0,190.5L132.8,206.9L123.9,221.4L123.5,225.3L124.4,228.0L126.6,230.6L130.5,232.2ZM200.3,230.6L212.2,231.7L257.0,227.0L266.2,228.9L274.1,227.6L280.7,230.3L286.0,230.8L292.6,228.4L293.9,226.7L294.2,224.0L292.6,221.0L288.6,218.3L276.7,217.2L272.8,212.0L264.9,208.1L260.4,201.6L257.0,199.1L253.0,199.7L246.4,205.0L229.3,206.3L210.8,211.0L199.6,209.5L191.1,205.6L185.8,206.4L183.0,209.5L181.5,214.8L181.5,220.1L183.2,225.0L188.4,229.2L200.3,230.6ZM712.9,220.4L718.2,220.8L722.2,219.3L725.6,216.1L726.3,213.5L723.2,210.8L718.8,209.5L686.6,205.7L661.1,206.9L628.7,212.2L631.2,213.5L664.2,216.6L702.4,216.6L712.9,220.4Z"/>
<path fill="#26828e" fill-rule="evenodd" d="M325.5,272.9L370.3,264.1L374.5,260.9L374.7,255.7L371.6,252.4L367.7,251.9L325.5,261.5L322.3,263.6L321.0,267.5L322.8,271.5L325.5,272.9ZM242.5,266.7L250.4,267.3L260.9,266.2L289.9,266.1L292.6,264.9L293.8,262.2L292.9,259.6L289.9,258.1L260.9,257.8L251.7,256.1L245.1,256.0L241.0,257.0L238.0,260.9L239.5,264.9L242.5,266.7ZM11.9,261.1L18.4,260.8L25.0,262.2L29.0,261.4L31.6,258.9L33.0,255.7L33.4,251.7L32.4,247.7L29.0,243.6L22.4,240.7L15.8,235.9L0.0,231.8L0.0,241.8L1.3,241.9L2.4,243.8L1.8,250.4L2.8,254.3L6.6,259.1L11.9,261.1ZM732.7,245.6L736.7,246.2L744.6,239.2L752.5,237.8L792.0,238.4L809.1,239.0L819.7,240.6L828.9,240.1L872.4,241.9L947.5,242.3L948.8,242.2L948.8,231.0L944.9,230.1L905.3,230.1L832.8,231.3L828.9,229.7L823.6,222.4L819.7,221.2L814.4,223.7L809.1,231.5L805.2,232.4L751.1,233.1L744.6,232.6L727.4,228.6L711.6,227.7L553.5,227.8L515.3,228.6L494.2,230.0L472.9,233.3L468.7,234.6L467.8,235.9L470.2,237.2L483.3,239.8L515.3,242.6L556.1,243.4L723.5,242.8L728.7,243.5L732.7,245.6ZM129.1,231.0L133.1,231.0L135.7,229.6L146.3,215.6L154.2,209.3L159.5,207.5L168.7,208.2L174.5,205.6L177.6,200.3L177.2,196.4L175.6,193.7L168.7,190.0L160.8,189.9L154.2,188.5L148.9,189.0L145.3,191.1L133.5,206.9L124.7,221.4L124.7,226.7L126.5,229.4L129.1,231.0ZM206.9,230.7L212.2,231.0L257.0,226.2L266.2,227.9L274.1,226.6L280.7,229.6L286.0,230.1L291.9,228.0L293.4,224.0L291.2,220.5L288.2,218.8L276.7,218.4L271.7,212.2L264.9,209.0L259.6,201.6L255.7,199.7L253.0,200.5L246.4,205.5L230.6,206.7L212.2,211.4L200.3,210.4L191.1,207.2L185.4,209.5L182.9,213.5L182.2,218.8L183.0,222.7L185.8,226.7L189.8,228.7L206.9,230.7ZM714.2,217.5L719.5,216.9L721.2,214.8L720.8,213.5L716.9,211.6L689.2,207.2L662.9,208.0L653.9,209.5L647.9,212.2L657.6,214.4L672.1,215.6L705.0,214.2L714.2,217.5Z"/>
<path fill="#2b758e" fill-rule="evenodd" d="M324.2,271.5L328.1,272.2L370.3,263.2L373.4,260.9L374.1,257.0L371.6,253.6L367.7,252.9L326.3,262.2L323.6,263.6L322.0,266.2L322.1,268.8L324.2,271.5ZM245.1,266.2L260.9,265.1L288.6,265.0L291.2,264.3L292.5,262.2L289.9,259.4L262.2,259.2L251.7,257.4L245.1,257.4L241.2,259.1L240.0,262.2L241.5,264.9L245.1,266.2ZM22.4,260.9L27.7,261.2L31.6,257.6L32.7,251.7L30.3,245.8L14.5,237.2L0.0,233.1L0.0,240.2L2.6,240.0L4.0,241.3L3.0,250.4L5.3,256.4L10.5,259.9L22.4,260.9ZM511.3,241.2L554.8,242.3L711.6,242.1L726.1,241.0L737.2,234.6L734.5,231.9L728.7,230.1L712.9,229.0L554.8,228.9L503.4,230.6L484.9,233.3L481.3,234.6L480.5,235.9L487.7,238.5L511.3,241.2ZM880.3,241.2L947.5,241.1L948.8,240.7L948.8,232.2L944.9,231.4L926.4,232.1L886.9,231.2L831.5,233.0L828.9,231.7L824.3,224.0L819.7,222.0L817.0,222.6L814.4,224.8L809.1,235.9L818.4,239.5L830.2,238.5L880.3,241.2ZM127.8,229.4L131.8,230.2L134.4,229.2L146.3,214.5L159.3,202.9L160.6,200.3L160.7,196.4L157.5,191.1L154.2,189.6L150.2,189.5L146.4,191.1L143.8,193.7L134.3,206.9L125.4,221.4L125.2,225.7L127.8,229.4ZM201.6,229.3L212.2,230.3L257.0,225.5L266.2,226.9L272.8,225.4L280.7,228.9L286.0,229.5L291.2,227.5L292.7,224.0L291.2,221.3L287.3,219.1L275.4,219.0L271.8,213.5L264.9,210.0L259.6,202.6L255.7,200.4L253.0,201.3L246.4,206.1L230.6,207.2L212.2,212.0L200.3,211.0L192.4,208.5L187.1,209.7L184.7,212.2L183.2,216.1L183.1,220.1L184.5,224.0L189.8,227.9L201.6,229.3ZM666.8,213.6L687.9,213.8L696.6,212.2L697.4,210.8L691.8,209.0L680.0,208.1L668.1,208.9L660.2,210.8L660.5,212.2L666.8,213.6Z"/>
<path fill="#31688e" fill-rule="evenodd" d="M324.2,270.4L328.1,271.4L369.0,262.7L372.3,260.9L373.1,257.0L370.9,254.3L367.7,253.9L326.8,263.1L324.2,264.3L322.9,266.2L324.2,270.4ZM246.4,264.9L252.0,264.9L262.2,262.9L289.5,262.2L262.2,261.3L251.7,259.1L243.8,259.6L242.4,260.9L242.5,263.0L246.4,264.9ZM21.1,259.7L26.4,260.8L30.4,258.3L32.1,253.0L30.3,247.0L27.7,244.7L19.8,242.5L14.5,239.5L10.5,238.8L7.9,239.6L4.5,247.7L5.3,254.3L10.5,258.6L21.1,259.7ZM548.2,241.2L712.9,241.1L724.8,239.8L728.7,237.2L730.9,233.3L726.1,230.9L710.3,230.0L553.5,229.9L511.3,231.2L496.2,233.3L492.0,234.6L491.0,235.9L498.1,238.3L510.1,239.8L548.2,241.2ZM869.7,239.9L946.2,239.9L948.8,239.2L948.8,233.7L944.9,232.7L926.4,233.4L904.0,232.2L876.3,232.4L853.9,233.3L841.7,234.6L837.8,235.9L840.8,237.2L850.4,238.5L869.7,239.9ZM819.7,238.5L825.8,237.2L828.2,234.6L824.4,225.3L819.7,222.8L815.0,225.3L812.2,233.3L814.4,237.0L819.7,238.5ZM1.1,237.2L0.0,234.9L0.0,238.2L1.1,237.2ZM206.9,229.3L212.2,229.6L237.2,227.4L258.3,224.6L266.2,225.7L274.1,223.7L280.0,228.0L286.0,228.8L291.1,226.7L291.9,224.0L289.9,221.0L286.0,219.5L275.4,220.9L271.5,214.8L263.6,209.9L259.0,202.9L255.7,201.2L246.4,206.6L229.3,208.0L212.2,212.7L200.3,211.6L191.1,209.3L185.8,212.1L183.9,216.1L183.8,220.1L187.1,225.8L191.1,227.4L206.9,229.3ZM127.8,228.2L131.8,229.0L134.4,227.5L146.2,213.5L157.3,202.9L159.1,197.7L156.8,192.3L154.2,190.7L150.2,190.3L144.6,193.7L126.5,220.9L126.0,225.3L127.8,228.2ZM676.0,211.2L684.5,210.8L674.9,210.8L676.0,211.2Z"/>
<path fill="#375a8c" fill-rule="evenodd" d="M325.5,270.2L329.6,270.1L369.0,261.7L371.9,259.6L372.0,257.0L370.3,255.2L367.7,255.0L326.8,264.2L324.0,266.2L324.1,268.8L325.5,270.2ZM23.7,259.7L27.7,259.6L30.4,257.0L31.3,251.7L29.0,246.7L26.4,245.1L19.8,244.2L13.2,241.8L9.2,242.9L6.0,249.1L6.5,253.0L7.9,255.2L10.5,257.0L18.4,257.7L23.7,259.7ZM537.7,239.8L710.3,240.1L723.5,238.8L726.3,237.2L728.0,234.6L727.6,233.3L724.8,232.0L710.3,231.1L554.8,230.9L513.9,232.4L502.7,234.6L501.5,235.9L512.6,238.7L537.7,239.8ZM871.1,238.6L939.6,238.7L946.2,237.9L947.8,237.2L948.0,235.9L944.9,234.5L925.1,235.0L892.2,233.4L867.1,234.2L856.4,235.9L858.8,237.2L871.1,238.6ZM819.7,237.3L824.4,235.9L825.8,233.3L824.1,226.7L822.3,224.7L819.7,223.8L815.7,226.0L813.8,231.9L815.4,235.9L819.7,237.3ZM202.9,228.1L212.2,228.9L238.9,226.7L259.6,223.6L266.5,224.0L270.1,222.7L271.4,221.4L271.5,218.8L269.1,214.8L263.6,211.3L258.3,203.3L255.7,202.1L246.4,207.3L230.6,208.4L212.2,213.3L201.6,212.5L192.4,210.3L187.0,212.2L185.2,214.8L184.5,218.8L187.1,224.7L191.1,226.6L202.9,228.1ZM283.3,228.1L289.8,226.7L290.9,224.0L289.9,222.1L287.3,220.5L283.4,220.1L277.1,222.7L277.0,224.0L279.3,226.7L283.3,228.1ZM129.1,227.4L131.8,227.3L134.4,225.3L156.6,201.6L157.6,196.4L155.1,192.4L151.5,191.1L148.9,191.5L143.6,196.3L127.3,221.4L127.2,225.3L129.1,227.4Z"/>
<path fill="#3e4989" fill-rule="evenodd" d="M326.8,269.2L367.2,260.9L370.3,259.7L370.8,258.3L370.3,256.9L367.7,256.3L329.2,264.9L325.5,266.5L325.5,268.3L326.8,269.2ZM23.7,258.6L27.7,258.4L30.3,254.5L30.1,250.4L27.7,247.0L23.7,245.9L13.2,246.2L10.5,247.5L9.7,250.4L11.4,253.0L23.7,258.6ZM536.3,238.5L707.7,239.0L720.8,238.0L723.5,237.1L725.0,234.6L720.8,233.1L698.4,232.0L554.8,232.0L525.5,233.3L513.9,234.5L512.1,235.9L516.6,237.2L536.3,238.5ZM889.5,237.2L900.1,235.9L881.4,235.9L889.5,237.2ZM817.0,234.7L821.0,235.4L823.7,233.3L823.6,228.9L821.0,225.6L818.4,225.6L816.1,228.0L815.5,231.9L817.0,234.7ZM208.2,228.0L237.2,226.1L253.2,224.0L263.0,221.4L264.8,220.1L265.6,217.4L259.0,205.6L255.7,203.2L246.4,207.9L229.3,209.4L212.2,214.1L191.1,211.2L188.4,212.2L186.1,214.8L185.4,220.1L188.4,224.7L208.2,228.0ZM282.0,226.8L287.6,226.7L289.6,224.0L287.0,221.4L281.7,221.4L279.4,222.7L279.0,224.0L282.0,226.8ZM129.1,224.7L131.8,224.3L138.4,219.6L155.0,201.6L156.4,197.7L154.2,193.3L150.2,192.2L145.8,195.0L130.5,218.0L128.5,222.7L129.1,224.7Z"/>
<path fill="#443983" fill-rule="evenodd" d="M25.0,257.2L28.1,255.7L28.9,251.7L26.4,248.1L23.0,247.7L19.8,250.3L19.7,253.0L21.5,255.7L25.0,257.2ZM545.6,237.3L697.1,237.7L711.9,237.2L717.9,235.9L712.9,234.3L697.1,233.5L560.1,233.5L539.2,234.6L535.2,235.9L545.6,237.3ZM205.6,226.7L210.8,227.3L237.2,225.4L254.3,222.9L260.4,220.1L262.0,217.4L262.1,214.8L258.6,206.9L255.7,204.6L246.4,208.8L231.9,209.7L212.2,215.0L200.3,214.0L192.4,212.2L189.8,212.7L187.3,214.8L186.4,220.1L189.2,224.0L205.6,226.7ZM283.3,224.6L286.4,224.0L284.6,223.3L282.7,224.0L283.3,224.6ZM134.4,217.8L138.4,216.2L152.9,201.5L154.6,197.7L152.9,194.5L150.2,193.9L146.8,196.4L135.7,213.5L134.4,217.8Z"/>
<path fill="#482878" fill-rule="evenodd" d="M205.6,225.4L210.8,226.0L237.2,224.2L253.0,221.9L258.2,218.8L259.3,216.1L259.2,212.2L257.0,207.7L254.3,206.7L246.4,209.9L232.2,210.8L212.2,216.4L192.4,213.7L189.8,214.4L188.2,216.1L187.8,220.1L189.8,222.8L205.6,225.4Z"/>
<path fill="#481668" fill-rule="evenodd" d="M218.8,221.4L237.2,221.6L250.4,219.5L253.4,217.4L254.1,212.2L251.7,211.0L246.4,212.7L227.8,214.8L216.5,220.1L218.8,221.4Z"/>
<use href="#nodata"/>
</g>
<g clip-path="url(#mapclip)">
<use href="#land"/><use href="#lakes"/><use href="#coast"/>
</g>
<use href="#grid"/>
</g>
<g transform="translate(1099.8,143.0)">
<g clip-path="url(#dataclip)">
<rect x="0" y="0" width="948.8" height="474.4" fill="#ffffff"/>
<path fill="#ffe8e8" fill-rule="evenodd" d="M1.3,453.3L20.5,453.3L24.6,449.4L21.1,447.0L7.9,443.8L2.7,441.5L2.0,437.5L4.3,434.9L14.5,430.9L39.5,428.1L45.0,425.6L49.5,421.7L43.5,416.4L36.9,415.3L9.2,419.6L0.0,422.9L0.0,453.3L1.3,453.3ZM80.4,453.3L176.0,453.3L185.8,450.3L192.1,442.8L199.0,438.3L206.9,436.2L217.4,435.4L247.7,436.5L251.7,438.4L255.2,444.1L258.9,445.4L279.4,450.2L295.2,449.0L303.1,449.5L309.7,451.0L313.7,453.3L355.0,453.3L353.6,450.7L355.1,449.4L369.0,444.8L374.3,444.2L399.3,446.3L419.1,444.9L431.4,446.7L430.8,448.1L426.7,449.4L413.8,451.4L408.8,453.3L511.4,453.3L511.4,450.7L515.6,448.1L531.1,444.9L532.3,446.7L530.3,449.4L521.1,453.3L549.3,453.3L550.9,449.4L549.5,447.3L542.9,445.1L532.4,444.6L528.0,438.8L530.3,437.5L539.0,437.0L545.9,437.5L561.4,441.1L588.5,442.8L591.2,444.1L591.7,445.4L587.2,450.7L587.3,453.3L620.3,453.3L621.0,449.4L627.3,445.0L637.4,440.1L655.9,433.6L666.3,428.3L666.5,427.0L662.8,423.0L662.5,420.4L667.0,413.8L666.2,407.2L672.1,404.1L678.7,402.5L683.9,402.6L690.5,404.0L700.4,408.5L707.7,410.4L730.1,412.7L748.5,416.3L770.9,416.8L777.1,415.1L773.9,412.5L759.4,408.5L757.7,407.2L758.7,405.9L769.6,400.0L774.9,398.4L803.9,398.3L808.0,396.7L816.3,390.1L827.6,388.3L838.1,389.3L843.6,391.4L846.9,403.2L848.7,404.8L876.3,404.6L882.6,405.9L884.6,407.2L884.6,408.5L881.5,411.2L875.0,413.4L857.9,414.7L851.3,413.5L847.3,406.1L846.0,405.4L810.4,406.4L808.1,407.2L804.9,411.2L796.6,416.4L799.5,419.1L816.7,427.0L820.8,432.2L820.1,433.6L798.6,441.1L781.5,439.4L770.9,439.8L752.1,442.8L748.1,444.1L744.3,446.7L745.6,448.1L753.8,450.0L778.8,451.5L782.7,453.3L816.6,453.3L814.5,450.7L815.6,449.4L831.7,446.7L836.8,444.9L839.5,442.8L838.8,440.1L827.1,433.6L834.6,429.6L832.1,424.3L835.0,419.1L839.4,416.9L846.0,416.1L875.0,420.5L876.7,421.7L876.5,423.0L864.9,429.6L871.1,431.9L879.0,432.1L892.2,429.1L905.3,427.7L916.4,428.3L920.6,429.6L921.0,430.9L920.0,432.2L913.7,434.9L904.0,436.7L886.9,438.0L882.9,439.2L879.0,442.5L877.4,445.4L878.4,448.1L882.9,450.4L891.9,453.3L948.8,453.3L948.8,423.8L942.7,425.6L934.3,425.5L921.1,419.8L905.3,419.0L904.0,417.8L903.6,415.1L904.0,410.2L905.3,407.8L909.3,410.3L914.6,411.8L929.0,411.6L939.2,408.5L943.6,403.2L948.8,400.8L948.8,370.8L940.9,371.4L935.6,370.6L933.1,369.0L931.7,365.9L927.7,364.3L911.9,364.7L910.3,363.7L915.6,359.8L926.4,356.5L937.0,351.2L948.8,350.5L948.8,313.2L926.4,316.2L904.0,321.3L855.3,325.8L847.3,325.1L839.9,321.5L827.6,318.0L823.5,312.3L819.7,310.3L805.2,308.6L781.5,312.4L778.8,311.4L772.2,305.8L764.3,304.7L703.7,307.6L681.3,306.7L653.6,308.5L623.3,314.6L599.6,313.9L578.5,315.9L557.4,313.6L525.8,317.3L498.1,317.7L477.0,319.8L470.9,318.9L468.9,317.6L469.2,316.3L479.9,311.0L482.5,308.4L482.4,307.0L477.0,304.4L463.9,303.6L452.0,304.9L442.2,311.0L437.5,312.7L413.8,312.6L395.3,318.5L379.5,320.5L375.6,319.9L373.0,317.6L374.0,313.6L378.9,309.7L377.9,308.4L358.4,305.1L343.3,305.7L329.5,308.8L309.7,315.4L291.2,318.9L282.0,316.6L274.1,309.4L270.1,307.8L249.1,308.9L233.3,305.1L226.7,304.6L220.1,305.4L206.9,309.8L195.0,310.7L189.8,309.8L177.9,304.8L155.5,303.8L139.7,300.3L130.5,302.1L120.1,308.4L110.7,311.3L64.2,311.0L61.2,312.3L57.4,317.6L51.4,319.2L42.2,317.8L27.7,310.0L22.4,308.6L0.0,313.0L0.0,350.7L32.9,353.9L36.9,355.1L39.2,357.1L37.0,359.8L33.6,361.1L0.0,370.6L0.0,400.6L21.1,400.4L42.2,398.1L52.2,399.3L58.0,401.8L60.9,401.9L62.5,400.6L61.8,398.0L62.7,396.7L68.7,392.7L76.4,390.5L84.3,389.7L89.6,390.8L91.2,392.7L92.2,396.7L96.2,397.9L119.9,397.8L138.4,400.6L177.9,403.3L228.0,393.3L251.7,391.8L263.6,387.5L271.5,386.7L280.7,388.0L297.3,394.0L326.8,399.7L333.4,399.9L347.9,397.3L362.7,399.3L371.3,403.2L369.7,408.5L371.3,411.2L378.2,413.4L382.2,412.9L384.9,411.2L383.9,408.5L378.9,404.6L378.8,403.2L391.3,398.0L396.7,392.3L400.6,390.6L411.2,389.8L423.0,390.7L428.3,392.4L433.6,395.9L439.2,398.0L463.9,401.0L469.1,399.7L471.0,395.3L474.4,392.9L487.6,391.4L505.7,394.0L514.8,396.7L521.8,406.1L531.4,408.5L548.2,417.1L565.3,420.8L568.0,422.6L568.6,424.3L565.3,425.7L548.2,423.4L531.1,424.5L527.7,425.6L536.8,429.6L524.9,433.6L523.9,437.5L486.3,441.8L471.8,446.3L466.5,446.9L454.6,445.7L450.9,444.1L453.1,441.5L463.7,434.9L460.9,433.6L440.1,431.1L434.9,431.2L424.3,434.4L409.8,436.7L386.1,438.0L370.3,440.3L365.0,439.4L351.9,434.0L328.1,435.6L311.0,433.6L291.2,438.6L280.7,439.5L262.2,436.7L257.0,435.3L254.8,433.6L256.1,429.6L259.6,426.2L281.5,425.6L286.0,424.4L286.5,423.0L282.0,420.6L274.1,419.6L262.7,420.4L253.0,423.9L237.2,424.9L222.7,425.0L200.3,422.8L192.3,423.0L180.2,428.3L166.0,432.2L154.2,437.6L130.5,441.2L128.8,442.8L127.1,449.4L122.6,451.7L114.6,450.4L109.5,446.7L110.9,444.1L117.6,440.1L118.3,438.8L116.9,437.5L100.2,431.5L77.8,429.3L68.5,430.7L60.3,433.6L60.4,434.9L75.1,437.3L80.9,440.1L85.3,445.4L86.1,448.1L80.4,453.3ZM611.0,438.8L607.4,437.5L608.0,436.2L614.1,434.8L617.9,436.2L618.3,437.5L616.7,438.4L611.0,438.8ZM628.1,427.0L627.4,423.0L625.9,421.7L611.5,417.5L598.3,416.1L577.2,416.7L569.3,415.9L561.3,411.2L557.9,407.2L560.1,405.5L565.3,404.8L593.0,408.4L608.3,408.5L615.7,407.2L618.4,405.9L618.9,404.6L612.3,399.3L611.5,397.3L630.8,400.6L638.1,403.2L638.5,404.6L636.0,408.5L641.2,415.1L641.5,417.7L639.4,421.7L639.2,425.6L633.9,427.2L628.1,427.0ZM717.4,398.0L711.5,395.3L710.5,392.7L725.1,386.1L727.4,381.5L730.1,380.5L752.4,383.5L759.6,388.8L761.6,391.4L761.3,392.7L757.7,394.9L747.2,397.3L728.7,399.0L717.4,398.0ZM670.5,396.7L657.6,394.6L653.6,392.9L652.8,391.4L654.7,388.8L657.6,387.3L670.8,385.1L677.3,387.3L683.0,392.7L681.3,395.3L678.7,396.4L670.5,396.7ZM603.4,395.3L594.3,391.9L589.1,387.4L589.2,386.1L592.9,382.2L592.5,378.2L593.5,376.9L604.9,375.5L610.1,376.4L613.4,378.2L613.9,379.5L608.2,383.5L606.3,386.1L606.5,388.8L609.9,395.3L608.8,396.3L603.4,395.3ZM920.6,394.0L906.6,391.4L903.7,390.1L903.4,388.8L905.7,386.1L911.9,382.7L923.8,381.5L930.6,383.5L938.3,390.1L940.0,392.7L938.3,394.6L934.3,395.3L920.6,394.0ZM335.0,388.8L332.5,386.1L334.5,383.5L344.2,379.5L350.5,375.4L355.8,374.1L383.5,376.3L406.3,372.9L415.1,372.6L436.2,377.4L458.2,376.9L461.2,378.0L461.7,379.5L458.6,386.4L454.6,388.2L449.4,388.9L438.8,387.7L434.9,381.3L429.6,380.0L396.7,382.5L393.7,383.5L389.2,387.4L383.5,388.7L358.4,387.0L340.0,389.5L335.0,388.8ZM189.4,383.5L138.4,381.9L110.7,377.6L89.6,376.3L84.4,374.3L118.6,370.5L137.1,366.8L142.3,366.9L182.4,371.6L184.4,372.9L184.9,375.6L187.1,378.5L194.7,383.5L189.4,383.5ZM295.0,382.2L294.1,380.8L294.8,379.5L304.2,374.3L306.0,371.6L305.6,370.3L299.1,367.6L275.4,365.2L255.7,359.4L230.1,357.1L222.5,354.5L220.6,351.9L222.7,350.4L230.6,350.1L242.5,351.0L258.3,354.2L279.4,353.4L332.1,362.0L348.0,358.4L369.0,356.9L375.6,351.1L383.5,349.3L398.0,349.4L429.6,352.0L434.9,353.2L431.7,354.5L399.3,358.9L372.9,358.2L362.8,363.7L354.5,365.8L333.4,364.1L330.8,365.4L329.1,367.7L332.8,374.3L329.6,376.9L304.4,382.9L299.1,383.2L295.0,382.2ZM508.0,382.2L500.8,380.8L498.3,379.5L497.0,376.9L502.1,374.7L511.3,374.3L520.5,375.6L523.5,376.9L524.1,378.2L519.2,381.2L508.0,382.2ZM42.9,380.8L40.5,378.2L44.8,375.1L56.7,372.9L60.6,373.0L61.8,374.3L60.8,378.2L56.8,380.8L48.8,382.1L42.9,380.8ZM761.1,376.9L737.8,370.3L732.2,367.7L729.4,365.0L736.0,362.4L757.7,359.1L759.3,359.8L763.0,365.8L775.9,370.3L777.7,372.9L777.0,375.6L773.5,377.5L767.0,377.9L761.1,376.9ZM858.3,376.9L838.1,372.5L798.6,368.5L793.3,367.2L791.3,365.0L793.1,362.4L796.0,360.7L809.1,357.3L818.4,356.9L836.8,358.8L855.3,356.9L857.6,358.4L864.8,367.7L873.7,371.6L876.2,374.3L874.7,375.6L868.4,377.3L858.3,376.9ZM568.9,375.6L564.0,374.5L562.4,372.9L565.3,371.3L573.2,370.5L578.5,371.1L581.6,372.9L581.3,374.3L578.5,375.1L568.9,375.6ZM637.5,372.9L612.8,370.7L607.5,369.0L605.6,366.3L612.8,362.0L619.4,361.0L648.1,367.7L652.0,370.3L647.0,372.9L637.5,372.9ZM472.2,367.7L470.6,365.0L478.4,356.0L494.2,352.6L504.7,348.0L516.5,345.3L519.7,343.9L518.9,341.3L522.5,340.0L532.8,340.0L535.3,341.3L536.7,345.3L539.4,346.6L556.6,350.5L559.4,351.9L560.0,353.2L547.1,359.8L544.6,365.0L541.6,366.2L533.7,365.9L519.2,360.3L510.0,358.8L504.7,359.7L478.4,368.7L472.2,367.7ZM679.9,367.7L680.1,366.3L682.3,365.0L687.2,363.7L694.5,363.7L698.7,365.0L697.7,366.3L690.5,368.1L683.9,368.6L679.9,367.7ZM766.8,354.5L768.4,353.2L774.4,353.2L766.8,354.5ZM209.5,347.9L197.7,344.6L192.6,341.3L191.9,338.7L197.7,336.9L208.2,336.5L217.4,337.6L222.4,340.0L221.8,342.6L217.4,347.3L209.5,347.9ZM665.8,347.9L666.8,346.6L669.4,346.0L673.5,346.6L673.7,347.9L669.4,349.0L665.8,347.9ZM141.1,345.3L116.0,339.9L105.0,334.7L102.1,332.1L102.8,330.6L106.7,329.3L116.0,330.5L124.2,333.4L135.7,339.6L145.0,342.6L147.5,343.9L147.8,345.3L141.1,345.3ZM256.8,343.9L249.1,340.0L249.6,337.4L255.7,333.9L264.9,330.6L274.1,325.0L287.3,321.7L295.2,322.1L304.6,325.5L311.3,330.8L314.4,337.4L312.3,340.5L305.7,342.1L279.4,341.6L264.9,344.7L256.8,343.9ZM592.8,342.6L589.1,341.3L586.0,338.7L585.7,336.0L587.7,333.7L595.6,333.0L606.2,334.2L618.3,338.7L622.0,341.3L617.5,342.6L606.2,343.5L592.8,342.6ZM485.4,340.0L471.7,337.4L467.0,334.7L465.6,332.1L469.1,328.6L477.0,325.8L485.0,325.6L498.1,327.4L505.4,329.5L506.2,334.7L510.7,340.0L499.4,341.0L485.4,340.0ZM791.1,340.0L786.2,338.7L785.0,337.4L786.8,336.0L793.3,335.4L807.3,338.7L799.9,340.1L791.1,340.0ZM900.2,337.4L899.8,336.0L901.6,332.1L906.6,329.2L915.9,329.7L925.8,333.4L926.0,334.7L923.5,336.0L917.4,337.4L906.6,338.3L900.2,337.4ZM13.4,336.0L20.4,336.0L17.1,337.2L13.4,336.0ZM574.0,329.5L570.3,328.1L569.8,326.8L574.6,326.1L580.8,328.1L579.8,329.7L574.0,329.5ZM707.9,324.2L708.1,322.9L712.5,321.5L727.4,319.9L739.3,317.3L751.1,317.4L759.3,318.9L758.1,320.2L751.1,322.9L731.4,321.8L718.2,324.5L707.9,324.2ZM151.4,316.3L148.9,315.0L163.2,315.0L167.5,316.3L151.4,316.3ZM191.1,453.3L234.0,453.3L239.9,448.1L237.2,446.4L230.6,446.3L216.1,449.7L193.4,452.0L191.1,453.3ZM662.9,453.3L730.0,453.3L731.7,449.4L727.6,448.1L695.8,443.9L681.3,443.8L670.8,444.9L664.0,446.7L661.5,449.4L661.7,452.0L662.9,453.3ZM702.4,436.7L709.0,436.9L724.8,434.6L741.9,429.0L764.3,429.3L769.6,428.5L771.4,427.0L769.6,425.2L765.6,424.2L742.3,424.3L705.7,430.9L701.5,433.6L701.1,435.7L702.4,436.7ZM438.8,428.3L463.2,425.6L466.6,424.3L463.9,422.4L457.3,420.4L444.1,419.4L438.8,421.1L433.9,425.6L433.8,427.0L434.9,427.7L438.8,428.3ZM485.0,423.0L494.2,424.3L500.3,423.0L498.1,419.0L491.5,417.3L484.1,419.1L483.4,421.7L485.0,423.0ZM274.1,336.1L279.4,336.6L283.1,334.7L278.1,332.8L270.4,333.4L274.1,336.1ZM853.9,311.2L860.5,311.9L871.1,311.2L878.8,309.7L883.4,307.0L881.2,304.4L876.3,302.8L860.5,301.2L855.3,302.8L851.1,307.0L851.1,309.7L853.9,311.2ZM93.6,308.5L97.5,308.0L100.1,304.4L99.9,300.5L96.2,297.1L92.2,298.0L89.7,301.8L90.2,305.7L93.6,308.5ZM264.9,303.3L272.8,303.6L291.2,296.9L313.6,298.2L319.2,297.8L321.7,296.5L316.3,294.3L307.0,293.7L263.6,295.9L254.3,297.8L253.9,299.1L255.7,300.5L264.9,303.3ZM405.9,301.8L409.8,302.9L415.1,302.4L422.4,299.1L423.1,297.8L420.4,296.4L409.8,294.4L398.6,295.2L397.9,296.5L399.4,297.8L405.9,301.8ZM515.3,301.8L524.6,301.8L530.4,299.1L525.0,293.9L525.4,286.0L528.9,282.0L529.3,279.4L526.0,276.7L521.5,275.4L507.3,275.4L504.3,276.7L503.8,279.4L512.1,286.0L510.7,292.6L510.8,297.8L512.6,300.5L515.3,301.8ZM627.3,297.9L637.8,298.9L647.0,297.2L651.6,293.9L651.5,287.3L654.9,284.3L686.7,275.4L693.7,270.1L711.6,266.1L715.6,264.1L716.7,262.2L712.9,259.6L695.8,257.0L658.9,257.2L624.6,252.8L604.9,253.2L598.0,254.3L585.1,258.6L569.3,260.5L562.7,262.7L554.5,268.8L553.4,276.7L549.6,282.0L553.6,284.6L570.6,289.9L586.4,285.0L597.0,285.0L603.6,287.5L608.7,293.9L627.3,297.9ZM358.4,296.7L370.3,296.6L375.2,295.2L376.2,293.9L371.6,292.2L363.7,292.5L357.4,295.2L358.4,296.7ZM716.9,293.9L726.1,294.7L734.0,294.0L737.7,292.6L738.8,289.9L736.8,287.3L732.0,284.6L719.5,281.2L709.0,281.4L701.9,284.6L701.5,287.3L702.8,288.6L716.9,293.9ZM826.3,294.0L832.8,294.5L838.1,293.2L842.7,289.9L846.9,284.6L840.2,283.3L823.6,282.7L822.0,282.0L818.8,276.7L815.2,274.1L809.1,271.0L802.5,269.3L778.8,268.0L769.6,268.7L766.1,270.1L770.9,274.7L773.5,279.4L777.5,281.6L785.4,283.4L807.9,286.0L816.6,291.2L826.3,294.0ZM97.5,292.8L102.8,293.5L106.3,292.6L103.7,287.3L105.2,283.3L102.1,280.7L94.9,280.3L85.7,282.9L71.2,284.8L67.0,286.0L65.8,287.3L69.0,288.6L87.0,290.3L97.5,292.8ZM138.4,292.9L146.3,293.8L154.2,292.8L159.6,289.9L162.5,284.6L164.7,283.4L181.4,280.7L146.3,278.0L138.7,279.4L129.6,283.3L129.2,284.6L132.8,289.9L138.4,292.9ZM222.7,288.7L233.3,289.8L242.5,288.9L252.8,284.6L255.9,282.0L255.8,280.7L251.7,278.3L245.5,276.7L226.7,275.6L216.4,276.7L202.5,282.0L211.8,286.0L222.7,288.7ZM873.7,288.6L880.3,288.8L893.5,285.5L939.6,280.2L948.8,275.6L948.8,269.5L943.5,273.6L925.1,277.6L915.9,278.1L894.8,276.0L873.7,277.3L865.8,278.7L854.2,283.3L855.0,284.6L873.7,288.6ZM1.3,274.7L17.9,271.5L20.9,270.1L20.8,268.8L11.9,267.2L2.6,267.7L0.0,268.6L0.0,275.1L1.3,274.7ZM275.4,274.4L287.3,275.0L292.6,274.1L294.3,272.8L293.8,271.5L291.2,270.1L282.0,269.2L273.6,271.5L272.9,272.8L275.4,274.4ZM457.3,267.9L459.9,268.3L463.9,264.0L467.8,262.9L503.4,263.8L510.0,262.8L512.3,260.9L510.0,257.0L505.0,253.0L494.2,250.5L465.2,250.8L453.3,248.3L448.1,248.1L428.8,251.7L422.4,254.3L421.4,255.7L423.3,258.3L430.8,262.2L450.7,265.4L457.3,267.9ZM851.3,267.5L861.8,268.1L864.3,266.2L864.1,264.9L860.5,260.9L853.9,259.5L842.1,260.9L839.1,262.2L838.6,263.6L840.5,264.9L851.3,267.5ZM101.5,265.1L108.1,266.2L118.6,265.1L122.3,263.6L122.9,260.9L121.2,259.1L105.4,260.9L101.5,262.2L100.3,263.6L101.5,265.1ZM321.5,258.3L333.4,259.1L341.3,257.7L350.4,249.1L350.1,247.7L336.0,245.2L307.0,245.1L303.1,244.1L297.8,241.0L288.8,242.5L288.5,243.8L291.2,244.9L301.8,247.4L310.5,255.7L321.5,258.3ZM558.7,254.5L565.3,254.4L566.9,253.0L566.7,250.4L561.4,246.6L556.1,246.7L554.4,247.7L553.9,250.4L558.7,254.5ZM934.3,249.2L940.9,249.7L947.5,248.4L948.8,247.9L948.8,244.4L926.4,240.7L910.6,235.4L902.7,235.3L900.0,237.2L902.1,243.8L903.7,245.1L934.3,249.2ZM0.6,246.4L0.0,245.0L0.0,247.0L0.6,246.4ZM817.0,245.3L822.8,245.1L815.9,245.1L817.0,245.3ZM821.0,241.5L824.9,239.6L827.0,234.6L825.3,230.6L821.0,229.1L817.1,230.6L815.0,234.6L817.0,239.6L821.0,241.5ZM35.6,234.7L50.1,235.2L54.0,234.2L56.6,231.9L56.2,230.6L52.7,228.8L22.4,223.5L14.5,219.1L9.2,220.2L2.0,226.7L10.5,234.1L15.8,234.2L21.1,231.8L35.6,234.7ZM781.5,233.3L792.0,233.2L797.9,230.6L797.5,229.3L794.3,228.0L772.2,224.8L757.7,218.9L748.5,217.6L726.1,216.8L715.6,217.4L702.9,220.1L699.9,221.4L697.7,224.0L699.2,226.7L705.0,228.0L727.4,228.8L738.0,230.3L756.4,230.3L781.5,233.3ZM204.3,229.4L214.8,230.1L221.4,226.7L223.5,224.0L222.2,222.7L216.1,220.8L206.9,220.7L202.6,222.7L200.1,225.3L201.1,228.0L204.3,229.4ZM313.6,228.1L330.6,226.7L335.5,225.3L336.9,224.0L334.9,222.7L317.8,218.8L316.8,216.1L321.9,210.8L322.2,209.5L320.2,207.9L308.4,205.9L296.3,206.9L297.5,208.2L305.7,210.0L308.6,212.2L307.0,214.0L295.4,216.1L294.2,217.4L305.9,222.7L310.0,226.7L313.6,228.1ZM619.4,226.7L626.0,226.7L631.7,225.3L643.5,217.4L636.6,216.1L611.5,215.4L603.6,217.0L599.5,220.1L599.9,222.7L602.2,224.1L619.4,226.7ZM81.7,225.4L98.8,224.8L104.1,223.3L106.0,221.4L100.9,218.8L81.7,215.5L68.5,211.0L63.3,212.2L64.3,214.8L72.5,223.1L81.7,225.4ZM376.9,223.1L390.1,223.6L395.3,222.4L397.9,220.1L395.2,217.4L388.8,214.7L378.2,214.0L372.5,216.1L371.1,218.8L373.0,221.4L376.9,223.1ZM801.2,223.0L803.9,223.7L806.5,222.0L806.8,218.8L805.2,216.9L792.0,211.2L789.4,211.3L787.1,213.5L787.3,216.1L789.4,218.2L801.2,223.0ZM651.0,215.6L661.5,215.2L669.5,213.5L656.3,213.4L650.5,214.8L651.0,215.6ZM760.4,212.4L765.6,212.6L768.1,210.8L769.0,208.2L767.0,204.5L764.3,203.5L748.5,202.9L745.9,203.9L744.8,205.6L744.8,208.2L747.2,210.7L760.4,212.4ZM683.9,209.8L691.8,210.6L706.8,209.5L714.1,206.9L715.4,204.3L711.6,202.1L705.0,201.0L685.3,201.6L682.2,202.9L681.9,204.3L683.9,209.8ZM821.0,207.2L826.3,207.3L829.6,205.6L828.7,204.3L824.9,203.3L818.5,204.3L818.1,205.6L821.0,207.2ZM242.5,201.9L246.4,202.6L250.1,200.3L251.4,196.4L249.5,192.4L242.5,185.0L233.3,181.9L229.3,182.3L226.8,185.8L227.1,189.8L236.3,195.0L242.5,201.9ZM275.4,201.7L289.9,201.9L293.5,200.3L294.2,197.7L289.9,195.7L282.0,195.4L274.1,196.4L268.0,199.0L269.5,200.3L275.4,201.7ZM645.7,201.7L657.6,200.2L662.9,197.3L665.0,193.7L662.3,191.1L652.3,188.9L640.5,188.3L634.0,189.8L636.8,199.0L645.7,201.7ZM31.6,199.0L42.1,197.7L41.5,196.4L31.7,191.1L31.6,188.4L36.4,183.2L36.2,181.9L31.5,177.9L35.4,175.3L46.1,172.3L56.7,170.5L80.4,172.8L108.1,172.0L145.0,180.3L158.1,180.1L174.0,177.9L176.8,176.6L177.5,173.9L175.3,172.5L170.0,171.7L142.3,172.1L134.4,170.0L131.3,167.4L134.4,164.7L141.0,163.2L181.9,159.9L187.1,160.4L199.9,167.4L226.7,174.4L239.8,175.0L260.9,172.6L291.2,175.5L301.8,174.2L308.4,178.9L313.6,180.2L317.6,179.0L326.8,171.3L333.4,167.9L361.1,165.4L369.0,162.1L372.9,161.8L374.7,162.1L363.7,165.4L361.1,167.9L361.4,170.0L369.5,172.6L388.8,174.7L398.0,174.1L419.1,170.6L421.7,171.3L424.3,175.9L427.0,177.1L442.8,177.7L452.3,180.5L458.6,181.3L463.1,180.5L470.6,175.3L479.7,173.9L495.5,173.5L515.3,177.0L524.5,176.5L543.0,172.6L545.1,171.3L542.5,167.4L542.9,166.2L546.9,165.3L556.1,165.7L573.2,168.8L583.8,168.6L589.1,167.3L595.6,162.8L600.9,161.4L610.1,162.3L614.0,164.7L618.0,169.3L623.3,170.5L635.2,170.0L647.0,167.5L653.0,164.7L655.3,160.8L658.9,160.0L695.8,168.8L699.8,170.6L716.9,171.6L732.7,169.5L734.3,167.4L735.3,162.8L740.6,164.0L752.5,169.2L769.6,170.3L785.4,173.4L798.6,174.0L817.0,172.2L824.9,173.4L830.2,176.6L831.5,179.2L810.8,183.2L806.4,185.8L807.7,187.1L815.7,189.9L830.2,192.7L837.4,191.1L839.5,188.4L842.6,180.5L849.7,176.6L852.4,170.0L857.5,166.0L864.5,163.9L881.6,163.6L921.1,169.4L940.9,170.3L948.8,171.8L948.8,111.1L938.3,110.6L917.2,105.7L915.9,105.8L911.2,110.7L905.5,113.3L889.5,114.9L884.7,114.6L883.4,113.3L887.7,106.7L893.0,104.1L902.7,103.5L915.9,105.2L918.5,102.6L919.1,100.2L914.0,96.2L913.4,94.9L914.2,93.6L921.1,89.3L929.0,87.2L939.6,87.3L947.0,89.6L948.0,92.2L942.5,97.5L941.4,100.2L943.9,104.1L948.8,106.7L948.8,15.8L898.7,15.8L904.0,17.5L913.8,18.4L916.3,19.8L914.4,21.1L909.3,21.8L890.8,19.2L859.2,19.3L853.9,18.2L850.0,15.8L759.5,15.8L753.8,17.0L748.0,15.8L707.2,15.8L707.8,18.4L712.8,22.4L711.6,23.8L705.0,24.7L698.4,24.1L694.7,22.4L694.1,18.4L692.4,15.8L324.0,15.8L320.2,18.3L312.3,19.5L308.4,18.7L306.9,15.8L0.0,15.8L0.0,107.1L12.8,108.1L10.5,109.7L0.0,111.0L0.0,172.1L11.5,176.6L14.9,179.2L14.4,183.2L20.4,189.8L15.0,195.0L15.8,195.7L21.8,197.7L31.6,199.0ZM446.2,173.9L444.4,172.6L444.5,171.3L446.7,170.6L453.3,171.0L456.8,172.6L452.0,174.4L446.2,173.9ZM238.5,166.0L233.4,164.7L231.8,163.4L232.0,162.1L235.9,160.2L243.8,159.3L250.4,160.0L254.2,162.1L253.2,164.7L250.4,165.9L238.5,166.0ZM187.8,156.8L186.3,155.5L187.9,152.9L208.2,145.5L217.4,145.3L221.4,146.7L223.3,148.9L221.1,151.5L213.5,153.9L195.0,157.3L187.8,156.8ZM906.9,150.2L905.3,148.9L906.0,147.6L913.2,145.5L937.0,144.1L941.8,145.0L938.3,147.6L929.7,150.2L915.9,151.2L906.9,150.2ZM581.5,131.8L574.6,130.8L571.6,129.1L573.2,127.4L579.8,126.6L587.7,127.4L591.6,129.1L591.3,130.5L589.1,131.2L581.5,131.8ZM409.2,129.1L412.6,129.1L409.2,129.1ZM846.2,129.1L843.8,127.8L843.6,126.5L867.1,118.6L872.4,118.7L875.0,123.9L874.0,126.5L867.1,128.6L853.9,130.0L846.2,129.1ZM730.1,126.5L721.5,122.6L720.9,121.2L721.5,119.9L730.1,116.5L741.9,115.1L755.1,116.5L757.7,117.8L759.0,119.9L756.4,123.8L751.1,126.0L739.3,127.3L730.1,126.5ZM634.7,121.2L625.7,118.6L626.6,117.3L634.8,113.3L635.2,112.0L633.6,108.1L634.1,106.7L636.5,105.7L641.8,105.4L647.0,106.7L661.6,114.6L661.2,116.0L657.6,117.2L640.5,121.3L634.7,121.2ZM239.0,116.0L234.9,114.6L234.1,113.3L237.2,111.2L242.5,110.4L247.7,111.2L251.9,113.3L251.1,114.6L246.4,115.9L239.0,116.0ZM428.4,110.7L427.1,109.4L432.2,109.4L434.0,110.7L428.4,110.7ZM788.9,109.4L790.8,106.7L796.0,105.1L802.5,105.2L806.0,106.7L805.6,108.1L799.9,109.9L793.3,110.4L788.9,109.4ZM158.0,108.1L154.7,106.7L155.3,105.4L162.1,104.8L169.0,106.7L165.8,108.1L158.0,108.1ZM525.5,105.4L525.8,104.1L529.8,103.5L533.7,104.1L534.2,105.4L529.8,106.6L525.5,105.4ZM852.2,105.4L849.9,104.1L850.1,102.8L855.3,101.4L865.8,101.8L869.7,102.8L870.9,104.1L868.7,105.4L861.8,106.4L852.2,105.4ZM465.6,100.2L465.2,98.6L470.5,96.9L477.0,97.2L480.4,98.8L478.2,100.2L473.1,100.9L465.6,100.2ZM224.4,96.2L223.2,94.9L223.5,93.6L225.3,92.3L226.7,92.6L227.8,94.9L226.7,96.3L224.4,96.2ZM840.1,88.3L832.8,87.0L830.8,85.7L840.8,84.6L846.0,85.5L847.8,87.0L846.0,88.4L840.1,88.3ZM194.5,76.4L193.6,75.1L200.9,75.1L199.4,76.4L194.5,76.4ZM476.5,69.8L478.4,66.9L483.6,64.2L488.0,64.6L491.4,67.2L490.6,68.5L485.0,70.4L479.7,70.8L476.5,69.8ZM722.5,64.6L722.6,63.3L725.0,61.9L731.1,61.9L731.2,63.3L728.7,64.8L724.8,65.4L722.5,64.6ZM17.9,59.3L22.6,59.3L19.8,60.0L17.9,59.3ZM551.6,52.7L547.1,50.1L548.3,48.8L553.5,48.0L574.6,48.3L582.7,44.8L591.7,42.9L602.0,43.5L609.0,46.1L608.9,47.4L606.2,48.6L599.6,49.8L574.6,49.3L561.4,53.7L551.6,52.7ZM927.7,50.1L925.3,48.8L925.0,47.4L927.7,45.7L935.6,46.2L944.3,48.8L942.9,50.1L938.3,50.6L927.7,50.1ZM408.6,47.4L405.2,46.1L404.2,44.8L404.8,43.5L409.8,40.3L419.1,37.0L424.3,37.4L433.6,40.9L436.6,43.5L432.3,46.1L425.6,47.4L415.1,48.1L408.6,47.4ZM229.3,46.1L233.6,44.8L251.2,43.5L255.7,43.5L259.8,44.8L256.5,46.1L250.4,46.5L229.3,46.1ZM344.5,46.1L340.0,44.6L320.2,43.9L315.9,42.2L314.8,39.5L320.2,37.7L327.9,38.2L335.8,40.9L341.3,44.5L349.3,46.1L344.5,46.1ZM915.7,39.5L908.8,36.9L906.5,34.3L910.6,32.3L915.9,33.2L918.4,35.6L919.5,38.2L918.5,39.6L915.7,39.5ZM446.3,35.6L442.0,32.9L447.2,31.6L453.3,31.6L458.6,32.8L460.1,34.3L459.0,35.6L454.6,36.6L446.3,35.6ZM420.1,34.3L419.3,32.9L420.5,30.3L425.6,27.7L430.9,29.0L433.1,31.6L424.3,35.0L420.1,34.3ZM212.0,27.7L208.2,26.4L216.1,23.6L223.3,25.0L222.2,26.4L212.0,27.7ZM747.2,195.0L756.4,195.3L770.9,194.0L777.5,192.4L778.5,191.1L770.1,184.5L768.8,177.9L765.6,176.7L760.4,176.7L755.1,178.7L750.0,187.1L741.3,191.1L740.4,192.4L747.2,195.0ZM881.6,189.9L888.2,190.4L893.5,189.5L897.8,187.1L898.8,184.5L894.8,180.9L886.9,179.1L876.3,179.8L869.8,181.9L869.4,183.2L871.9,185.8L881.6,189.9ZM602.2,188.5L615.4,189.3L621.2,188.4L622.0,187.1L616.4,184.5L607.5,182.5L599.6,182.7L594.4,184.5L594.1,185.8L596.4,187.1L602.2,188.5ZM343.9,187.5L349.2,188.2L356.5,187.1L355.5,185.8L349.2,185.4L345.6,185.8L343.2,187.1L343.9,187.5Z"/>
<path fill="#ffaaaa" fill-rule="evenodd" d="M799.9,334.7L803.9,333.8L814.4,327.6L822.3,318.8L823.2,316.3L822.3,314.1L818.4,313.0L809.1,320.8L796.0,326.0L794.2,328.1L793.9,330.8L797.3,334.3L799.9,334.7ZM421.7,325.8L432.2,326.5L438.5,325.5L439.7,324.2L434.9,322.6L425.6,322.5L420.1,324.2L421.7,325.8ZM73.8,322.9L79.1,324.0L85.2,321.5L84.3,320.0L80.4,319.8L74.7,321.5L73.8,322.9ZM93.6,307.1L96.2,307.1L98.8,304.4L98.9,301.8L96.2,298.9L93.6,299.0L90.9,301.8L91.0,304.4L93.6,307.1ZM821.0,240.0L824.6,238.5L826.2,234.6L824.9,231.2L821.0,229.6L817.0,231.4L815.8,234.6L817.4,238.5L821.0,240.0ZM10.5,232.7L15.8,232.8L19.5,229.3L20.2,226.7L19.5,224.0L15.8,220.6L10.5,220.7L6.9,224.0L7.0,229.3L10.5,232.7ZM801.2,221.8L805.2,222.0L805.7,218.8L792.0,212.5L788.6,213.5L789.4,216.9L801.2,221.8ZM761.7,210.9L764.3,211.0L766.9,209.5L767.3,206.9L766.4,205.6L764.3,204.6L749.8,203.9L747.2,204.3L745.9,205.6L746.0,208.2L748.5,210.0L761.7,210.9ZM243.8,201.0L247.7,200.3L249.8,197.7L249.7,195.0L248.0,192.4L241.2,185.4L233.3,182.8L229.3,183.6L227.4,187.1L228.3,189.8L236.5,193.7L243.8,201.0ZM311.0,178.1L315.0,178.4L317.6,177.2L341.3,157.7L351.9,155.8L355.8,154.1L359.1,148.9L359.2,145.0L357.6,141.0L351.9,137.5L338.7,138.1L326.8,135.7L321.5,136.2L316.8,138.4L314.0,142.3L316.1,155.5L307.3,166.0L305.8,170.0L307.2,175.3L311.0,178.1ZM715.6,170.1L730.4,168.7L732.3,167.4L732.5,164.7L730.1,163.1L716.9,164.0L701.1,162.5L697.9,164.7L698.2,167.4L699.8,168.7L715.6,170.1ZM275.4,163.5L286.0,163.1L294.7,159.5L294.1,158.1L288.6,156.5L268.8,154.1L268.3,156.8L269.2,159.5L272.0,162.1L275.4,163.5ZM751.1,163.8L756.4,164.2L761.2,160.8L761.8,158.1L760.8,155.5L752.9,150.2L755.1,146.8L766.9,135.7L776.6,129.1L777.5,126.5L777.0,123.9L773.5,120.7L768.3,120.1L760.4,124.8L744.2,138.4L740.1,143.6L739.9,150.2L745.9,155.5L746.6,159.5L751.1,163.8ZM75.1,155.9L80.4,156.7L89.6,154.9L93.2,152.9L94.0,150.2L92.2,148.3L86.6,146.3L83.0,141.7L80.4,140.5L53.2,135.7L32.9,127.4L13.2,126.7L0.0,130.0L0.0,143.5L14.5,139.9L27.7,141.2L46.1,149.2L75.1,155.9ZM264.9,153.0L267.5,153.1L267.9,151.5L264.8,148.9L260.9,147.6L253.0,146.6L248.3,147.6L248.6,148.9L250.7,150.2L264.9,153.0ZM797.3,150.3L803.6,150.2L805.9,148.9L798.6,147.4L793.9,148.9L797.3,150.3ZM554.8,142.6L560.1,142.5L563.3,141.0L561.9,139.7L558.7,139.0L552.0,139.7L551.6,141.0L554.8,142.6ZM946.2,142.9L948.8,143.5L948.8,130.1L944.0,131.8L941.3,135.7L942.6,139.7L946.2,142.9ZM919.8,134.5L929.0,135.5L933.3,134.4L934.2,133.1L932.3,130.5L926.4,127.7L918.5,126.6L914.8,127.8L915.8,131.8L919.8,134.5ZM260.9,130.5L274.1,130.1L278.1,128.9L280.2,126.5L275.4,124.1L267.5,123.7L259.0,125.2L254.5,127.8L254.6,129.1L260.9,130.5ZM506.0,122.8L515.3,123.1L523.2,122.1L528.5,119.9L529.6,117.3L525.8,114.9L520.5,113.9L507.4,114.5L503.0,116.0L499.8,118.6L501.1,121.2L506.0,122.8ZM346.6,116.0L359.7,116.0L364.2,114.6L364.4,113.3L359.8,111.8L350.5,111.9L345.4,113.3L344.3,114.6L346.6,116.0ZM608.8,112.2L612.8,112.6L615.7,110.7L616.4,106.7L614.1,103.5L610.1,103.0L606.9,105.4L606.3,109.4L608.8,112.2ZM116.0,108.1L119.9,107.9L123.9,105.8L125.6,102.8L125.4,98.8L122.6,97.5L118.6,97.5L113.3,98.8L109.1,101.5L108.6,102.8L110.3,105.4L116.0,108.1ZM371.6,108.7L376.9,108.4L380.1,104.1L378.7,98.8L375.6,96.8L371.6,97.4L368.4,101.5L368.8,105.4L371.6,108.7ZM1.3,106.0L9.2,106.1L21.8,98.8L24.7,93.6L23.3,88.3L19.8,85.2L14.5,83.6L9.2,84.0L5.3,85.9L3.3,88.3L1.6,93.6L0.0,94.4L0.0,105.5L1.3,106.0ZM947.5,104.8L948.8,105.3L948.8,94.9L945.0,97.5L944.0,100.2L945.1,102.8L947.5,104.8ZM880.3,88.4L887.6,88.3L891.4,87.0L891.3,85.7L884.2,84.1L876.6,85.7L876.3,87.0L880.3,88.4ZM565.3,77.9L573.2,78.6L582.5,77.9L601.4,73.8L590.4,70.5L581.7,65.9L577.2,65.0L564.0,65.6L556.9,68.5L556.3,71.2L557.8,73.8L561.2,76.4L565.3,77.9ZM358.4,75.2L366.3,75.9L374.3,75.1L377.7,73.8L379.3,71.2L375.6,65.5L370.3,63.5L347.7,65.9L341.0,67.2L339.5,68.5L344.2,71.2L358.4,75.2ZM901.4,65.9L914.6,64.8L924.0,60.6L922.5,59.3L913.0,56.7L897.4,53.8L885.6,54.9L879.2,58.0L879.4,59.3L884.6,61.9L901.4,65.9ZM615.4,60.7L635.2,60.6L660.2,55.6L664.6,54.0L666.0,50.1L664.9,48.8L660.2,47.5L647.0,47.4L642.4,48.8L638.5,52.7L635.7,54.0L615.4,55.8L606.3,58.0L607.1,59.3L615.4,60.7ZM378.2,55.7L384.8,55.5L387.4,54.0L387.5,52.7L383.5,51.1L378.2,51.3L376.3,52.7L376.3,54.0L378.2,55.7ZM18.4,54.2L22.4,54.7L48.8,51.3L77.8,50.9L137.1,53.8L139.9,52.7L141.8,48.8L140.1,44.8L137.1,43.5L68.5,39.7L47.4,40.9L19.8,44.9L17.5,46.1L16.1,48.8L16.2,51.4L18.4,54.2ZM821.0,43.5L826.6,42.2L825.8,40.9L822.3,39.5L816.6,39.5L816.1,40.9L817.0,42.2L821.0,43.5ZM806.5,35.7L813.1,36.6L817.0,36.1L827.2,29.0L828.2,27.7L827.7,26.4L807.1,29.0L799.8,31.6L799.3,32.9L801.0,34.3L806.5,35.7ZM755.1,34.3L761.7,33.3L763.1,31.6L762.8,30.3L760.4,28.7L755.1,28.0L749.8,28.8L747.5,30.3L747.4,31.6L749.1,32.9L755.1,34.3ZM65.9,29.0L77.7,27.7L85.6,25.0L83.0,23.3L73.8,23.0L56.7,24.6L51.7,26.4L54.9,27.7L65.9,29.0ZM1.3,26.4L20.1,15.8L5.7,15.8L3.4,18.4L0.0,20.1L0.0,26.7L1.3,26.4ZM942.2,26.5L948.8,26.9L948.8,20.6L941.6,23.7L940.7,25.0L942.2,26.5ZM827.6,21.5L831.5,21.7L834.2,20.7L838.3,15.8L802.9,15.8L827.6,21.5ZM453.3,18.5L459.9,18.8L463.4,15.8L446.5,15.8L453.3,18.5ZM93.6,17.2L104.5,15.8L87.8,15.8L93.6,17.2ZM345.3,17.2L354.5,17.7L363.5,15.8L341.5,15.8L345.3,17.2ZM623.3,17.2L639.1,18.0L651.4,15.8L619.0,15.8L623.3,17.2Z"/>
<path fill="#ff7373" fill-rule="evenodd" d="M797.3,333.6L802.5,333.8L807.8,328.8L813.1,326.0L821.0,317.8L821.0,315.0L818.4,314.8L807.8,323.5L796.0,327.4L794.8,330.8L797.3,333.6ZM93.6,306.0L96.2,306.0L97.8,304.4L97.9,301.8L96.2,300.1L93.6,300.1L91.9,301.8L92.0,304.4L93.6,306.0ZM818.4,238.6L822.3,239.3L824.9,237.2L825.6,233.3L823.6,230.7L819.7,230.1L817.2,231.9L816.4,235.9L818.4,238.6ZM11.9,232.5L17.1,231.2L19.2,228.0L18.6,224.0L14.5,220.9L10.5,221.4L7.2,225.3L7.8,229.3L11.9,232.5ZM803.9,221.6L805.3,220.1L803.9,218.4L792.0,213.4L789.4,214.2L790.7,216.6L803.9,221.6ZM756.4,209.6L764.3,209.9L765.6,209.4L766.2,206.9L763.0,205.4L749.8,204.9L747.1,205.6L747.1,208.2L748.5,208.9L756.4,209.6ZM245.1,200.3L248.1,199.0L249.1,196.4L248.1,193.7L242.5,187.1L233.3,183.6L229.3,184.5L228.2,187.1L229.2,189.8L237.2,193.2L242.5,199.3L245.1,200.3ZM312.3,177.0L317.6,175.5L340.0,155.0L354.5,151.9L357.1,147.6L355.8,142.1L351.9,139.6L338.7,140.1L328.1,137.6L321.5,137.9L318.9,139.1L317.1,141.0L315.7,145.0L317.0,158.1L308.7,167.4L307.6,170.0L308.4,174.2L312.3,177.0ZM701.1,166.1L706.5,166.0L701.1,166.1ZM79.1,155.5L89.6,153.8L92.4,151.5L92.2,150.2L80.4,144.0L50.1,137.0L32.9,129.0L13.2,127.9L0.0,131.5L0.0,142.2L14.5,138.5L29.0,139.8L46.1,147.6L79.1,155.5ZM743.2,152.1L745.9,152.8L748.5,152.2L764.8,135.7L773.5,130.1L775.1,126.5L773.5,122.9L770.9,121.4L767.0,122.1L759.9,126.5L749.8,135.0L741.3,145.0L740.9,148.9L743.2,152.1ZM946.2,141.5L948.8,142.2L948.8,131.6L945.0,133.1L943.4,135.7L943.6,138.4L946.2,141.5ZM371.6,107.1L375.6,107.6L378.4,105.4L379.0,101.5L376.9,98.6L372.9,98.0L370.1,100.2L369.5,104.1L371.6,107.1ZM2.6,105.5L9.2,105.3L13.7,102.8L21.0,94.9L21.4,90.9L19.7,88.3L13.2,85.9L9.2,86.6L6.7,88.3L3.9,93.6L0.0,95.3L0.0,104.9L2.6,105.5ZM948.8,104.6L948.8,95.6L946.1,97.5L945.0,100.2L946.2,102.8L948.8,104.6ZM21.1,51.4L48.8,47.5L80.4,47.5L114.6,49.3L134.0,48.8L117.4,46.1L76.4,43.2L47.4,44.8L27.1,47.4L20.2,48.8L19.6,50.1L21.1,51.4Z"/>
<path fill="#ff3c3c" fill-rule="evenodd" d="M798.6,333.7L801.2,333.8L804.2,332.1L805.4,329.5L803.9,326.9L799.9,326.2L796.1,328.1L795.3,330.8L798.6,333.7ZM93.6,304.6L96.4,304.4L96.2,301.6L93.4,301.8L93.6,304.6ZM819.7,238.8L822.3,238.8L825.2,235.9L825.1,233.3L822.3,230.5L819.7,230.6L816.9,233.3L816.8,235.9L819.7,238.8ZM13.2,232.0L17.1,230.4L18.7,226.7L17.1,223.0L13.2,221.3L9.2,223.0L7.7,226.7L9.2,230.3L13.2,232.0ZM761.7,208.2L763.7,208.2L761.7,208.2ZM749.8,206.9L759.2,206.9L749.8,206.9ZM243.8,199.3L246.9,199.0L248.3,196.4L242.5,188.1L233.3,184.3L230.4,184.5L229.2,185.8L229.3,188.7L237.2,192.4L243.8,199.3ZM311.0,174.1L313.6,175.0L316.3,174.0L340.0,152.2L353.2,150.0L354.8,147.6L354.3,143.6L350.5,141.7L340.0,142.2L328.1,139.5L322.9,138.9L319.8,139.7L317.4,142.3L316.5,146.3L318.6,159.5L309.8,170.0L311.0,174.1ZM75.1,154.2L80.4,155.0L88.3,153.6L91.4,151.5L91.3,150.2L80.4,145.5L50.1,138.6L32.9,130.5L13.2,129.3L0.0,132.9L0.0,140.9L13.2,137.2L30.3,138.5L46.1,146.1L67.2,151.2L75.1,154.2ZM745.9,151.6L748.5,150.5L764.3,134.7L772.8,129.1L773.8,126.5L772.8,123.9L769.6,122.4L767.0,123.4L760.4,127.5L750.6,135.7L742.1,146.3L742.9,150.2L745.9,151.6ZM946.2,139.9L948.8,140.9L948.8,133.0L946.2,134.0L944.9,135.7L946.2,139.9ZM372.9,106.7L375.6,106.7L378.1,104.1L378.1,101.5L375.6,98.9L372.9,98.9L370.4,101.5L370.4,104.1L372.9,106.7ZM1.3,104.7L6.6,105.2L11.9,103.5L14.4,100.2L14.4,96.2L11.9,93.9L9.2,93.5L0.0,95.9L0.0,104.3L1.3,104.7ZM947.5,103.3L948.8,104.0L948.8,96.3L946.9,97.5L945.7,100.2L947.5,103.3Z"/>
<path fill="#f70000" fill-rule="evenodd" d="M799.9,333.5L802.5,332.9L804.5,330.8L804.1,328.1L802.5,327.0L798.6,327.0L795.8,329.5L796.5,332.1L799.9,333.5ZM821.0,238.6L823.6,237.6L825.0,234.6L824.0,231.9L821.0,230.7L818.1,231.9L817.0,234.6L818.4,237.6L821.0,238.6ZM10.5,230.8L14.5,231.4L17.4,229.3L18.0,225.3L15.8,222.5L11.9,222.0L9.0,224.0L8.4,228.0L10.5,230.8ZM243.8,198.2L246.4,198.2L247.3,196.4L241.6,188.4L233.3,185.3L230.3,185.8L230.6,188.8L238.5,192.1L243.8,198.2ZM321.5,159.0L325.3,156.8L328.1,151.1L333.6,148.9L335.1,146.3L334.7,145.0L328.1,145.4L326.6,142.3L322.9,139.8L318.9,141.3L317.1,145.0L317.1,150.2L318.9,156.1L321.5,159.0ZM77.8,154.3L88.3,153.2L90.6,151.5L90.4,150.2L80.4,146.6L73.8,146.8L69.8,148.6L70.5,151.5L77.8,154.3ZM744.6,149.4L747.2,149.3L761.7,134.8L770.9,128.6L772.2,126.5L771.7,125.2L769.6,124.1L766.9,125.2L752.5,136.2L744.0,146.3L744.6,149.4ZM372.9,105.8L375.6,105.8L377.2,104.1L377.2,101.5L375.6,99.8L372.9,99.8L371.3,101.5L371.3,104.1L372.9,105.8ZM1.3,104.2L6.6,104.9L10.5,103.7L13.7,100.2L13.3,97.5L10.5,95.3L7.9,94.7L0.0,96.5L0.0,103.8L1.3,104.2ZM948.8,103.5L948.8,96.8L946.3,100.2L948.8,103.5Z"/>
<path fill="#e40000" fill-rule="evenodd" d="M797.3,332.3L799.9,333.2L802.5,332.5L804.1,329.5L802.5,327.5L798.6,327.3L796.2,329.5L797.3,332.3ZM819.7,238.0L822.3,238.0L824.4,235.9L824.4,233.3L822.3,231.2L819.7,231.3L817.6,233.3L817.6,235.9L819.7,238.0ZM11.9,230.9L15.1,230.6L17.5,228.0L17.1,224.6L14.5,222.4L11.3,222.7L8.9,225.3L9.2,228.7L11.9,230.9ZM321.5,157.5L324.8,155.5L326.8,148.9L325.0,142.3L321.5,140.5L318.9,142.3L317.3,147.6L318.6,154.2L321.5,157.5ZM75.1,153.3L80.4,154.1L85.7,153.5L89.6,151.8L89.7,150.2L81.7,147.5L75.1,148.0L71.5,150.2L71.9,151.5L75.1,153.3ZM2.6,104.2L6.6,104.5L11.2,102.8L13.0,100.2L12.3,97.5L6.6,95.2L0.0,97.0L0.0,103.3L2.6,104.2ZM372.9,104.2L375.7,104.1L375.6,101.4L372.8,101.5L372.9,104.2ZM948.8,102.9L948.8,97.3L946.9,100.2L948.8,102.9Z"/>
<path fill="#c80000" fill-rule="evenodd" d="M798.6,332.6L802.6,332.1L803.6,329.5L802.7,328.1L799.9,327.4L797.3,328.5L796.6,330.8L798.6,332.6ZM819.7,237.6L822.3,237.6L824.0,235.9L824.0,233.3L822.3,231.6L819.7,231.6L818.0,233.3L818.0,235.9L819.7,237.6ZM13.2,230.6L16.1,229.3L17.2,226.7L16.1,224.0L13.2,222.7L10.3,224.0L9.2,226.7L10.3,229.3L13.2,230.6ZM320.2,155.8L321.5,156.5L323.8,155.5L326.0,150.2L324.9,143.6L321.5,141.3L318.9,143.2L317.7,147.6L318.6,152.9L320.2,155.8ZM75.1,152.9L81.7,153.7L89.1,151.5L88.9,150.2L86.1,148.9L79.1,148.0L72.8,150.2L72.9,151.5L75.1,152.9ZM5.3,104.2L9.2,103.4L11.8,101.5L12.2,98.8L11.3,97.5L6.6,95.8L0.0,97.4L0.0,102.8L5.3,104.2ZM948.8,102.3L948.8,98.0L947.5,100.2L948.8,102.3Z"/>
<path fill="#a50000" fill-rule="evenodd" d="M798.6,332.3L802.5,331.5L802.5,328.7L799.9,327.8L797.3,329.1L797.0,330.8L798.6,332.3ZM819.7,237.2L822.3,237.2L823.6,235.9L823.6,233.3L822.3,232.0L819.8,231.9L818.4,233.3L818.3,235.9L819.7,237.2ZM11.9,229.7L14.5,229.7L16.3,228.0L16.3,225.3L14.5,223.6L11.9,223.6L10.1,225.3L10.1,228.0L11.9,229.7ZM321.5,155.6L324.2,153.8L325.5,148.9L324.2,143.6L321.5,142.0L318.9,144.3L318.2,147.6L318.9,152.6L321.5,155.6ZM76.4,152.9L83.0,153.3L88.3,151.5L88.0,150.2L84.8,148.9L79.1,148.4L73.9,150.2L73.9,151.5L76.4,152.9ZM1.3,102.9L5.3,103.7L9.2,102.9L11.0,101.5L11.4,98.8L9.2,96.9L6.6,96.3L1.3,97.4L0.0,98.1L0.0,102.1L1.3,102.9ZM948.8,101.6L948.8,98.7L948.8,101.6Z"/>
<path fill="#8c0000" fill-rule="evenodd" d="M799.9,332.2L802.6,330.8L802.5,329.4L799.9,328.1L797.6,329.5L797.5,330.8L799.9,332.2ZM819.7,236.6L821.0,237.1L823.0,235.9L823.5,234.6L822.3,232.6L821.0,232.1L819.0,233.3L818.5,234.6L819.7,236.6ZM11.9,228.8L13.2,229.3L15.3,228.0L15.8,226.6L14.5,224.5L13.2,224.1L11.0,225.3L10.5,226.7L11.9,228.8ZM321.5,154.7L324.0,152.9L324.9,148.9L324.2,145.0L321.5,142.8L319.2,145.0L318.6,148.9L319.6,152.9L321.5,154.7ZM79.1,153.0L85.7,152.3L87.4,151.5L87.1,150.2L80.4,148.8L75.0,150.2L75.0,151.5L79.1,153.0ZM2.6,102.9L8.2,102.8L10.2,101.5L10.6,98.8L6.6,96.9L2.2,97.5L0.0,98.9L0.0,101.4L2.6,102.9Z"/>
<path fill="#ff00ff" fill-rule="evenodd" d="M798.6,331.2L801.2,331.3L801.8,329.5L798.6,329.2L798.6,331.2ZM819.7,236.0L822.4,235.9L822.3,233.2L819.6,233.3L819.7,236.0ZM321.5,153.7L323.1,152.9L324.3,148.9L323.3,145.0L321.5,143.7L320.0,145.0L319.2,148.9L320.2,152.8L321.5,153.7ZM76.4,151.6L80.4,152.5L86.1,151.5L85.8,150.2L80.4,149.4L76.4,150.2L76.4,151.6ZM2.6,102.1L7.9,102.1L9.9,100.2L9.5,98.8L6.6,97.4L2.6,98.1L0.6,100.2L2.6,102.1Z"/>
<path fill="#dcdcff" fill-rule="evenodd" d="M481.0,429.6L501.1,429.6L481.0,429.6ZM814.4,230.3L819.7,228.3L824.9,228.0L827.6,220.5L830.2,218.8L827.6,218.2L821.0,213.9L815.7,215.1L811.6,220.1L814.4,230.3ZM228.0,209.7L233.3,209.1L234.8,208.2L235.9,205.6L232.8,201.6L233.6,197.7L232.9,195.0L229.3,192.6L225.3,191.6L220.4,195.0L219.8,199.0L222.0,202.9L222.4,206.9L228.0,209.7Z"/>
<path fill="#a6a6ff" fill-rule="evenodd" d="M822.3,222.4L823.5,221.4L823.2,218.8L822.3,217.3L819.7,216.6L818.4,217.4L818.6,218.8L822.3,222.4ZM225.3,201.9L229.3,201.4L231.8,199.0L231.9,196.4L229.3,193.7L225.3,193.2L221.4,196.4L222.3,200.3L225.3,201.9Z"/>
<path fill="#6b6bff" fill-rule="evenodd" d="M225.3,200.4L230.2,199.0L230.6,196.8L229.4,195.0L225.3,194.5L222.8,196.4L222.9,199.0L225.3,200.4Z"/>
<path fill="#3030ff" fill-rule="evenodd" d="M226.7,197.8L227.3,197.7L226.7,197.0L225.8,197.7L226.7,197.8Z"/>
<use href="#nodata"/>
</g>
<g clip-path="url(#mapclip)">
<use href="#land"/><use href="#lakes"/><use href="#coast"/>
</g>
<use href="#grid"/>
</g>
<g transform="translate(102.3,787.8)">
<g clip-path="url(#dataclip)">
<rect x="0" y="0" width="948.8" height="474.4" fill="#ffffff"/>
<path fill="#ffe8e8" fill-rule="evenodd" d="M1.3,453.3L7.1,453.3L0.0,450.6L0.0,453.3L1.3,453.3ZM36.9,452.8L49.7,453.3L51.1,450.7L51.4,446.7L55.3,444.3L84.3,441.7L85.3,440.1L84.4,438.8L75.9,433.6L78.2,430.9L88.1,424.3L88.6,423.0L81.7,420.7L72.5,419.8L35.4,424.3L34.8,425.6L36.0,427.0L40.6,429.6L58.8,433.6L60.6,434.9L47.4,443.2L36.9,446.9L35.2,449.4L36.9,452.8ZM146.3,453.3L195.4,453.3L185.9,448.1L182.6,442.8L182.7,440.1L191.1,436.9L209.5,435.5L224.0,435.8L234.9,438.8L238.1,441.5L237.9,442.8L232.9,446.7L233.1,448.1L239.9,453.3L251.7,453.3L263.6,449.3L275.4,448.2L289.8,449.4L291.5,450.7L289.5,453.3L341.4,453.3L344.1,445.4L341.3,442.9L337.5,441.5L322.9,438.3L320.7,442.8L319.0,444.1L312.3,446.4L305.7,447.1L296.5,443.2L290.5,437.5L292.6,435.9L299.1,435.2L321.5,437.0L326.8,432.2L334.1,428.3L334.5,427.0L332.3,425.6L321.5,422.9L293.9,418.5L260.9,418.9L250.6,420.4L238.5,425.4L208.2,425.2L197.6,428.3L177.9,428.9L168.7,430.7L162.5,433.6L157.4,438.8L135.2,445.4L134.4,446.7L143.6,450.5L146.3,453.3ZM365.0,453.3L411.6,453.3L410.0,448.1L410.8,445.4L421.4,438.8L423.2,436.2L421.7,434.5L417.7,432.9L407.2,432.3L401.6,438.8L402.4,444.1L401.7,445.4L393.0,448.1L365.0,453.3ZM429.6,452.1L430.3,453.3L494.9,453.3L525.0,448.1L528.9,446.7L530.0,445.4L528.0,442.8L519.4,436.2L513.9,434.8L503.4,434.8L452.0,440.8L430.5,448.1L428.9,449.4L429.6,452.1ZM549.5,453.3L608.9,453.3L593.0,450.2L564.0,448.8L552.2,450.1L548.9,452.0L548.6,453.3L549.5,453.3ZM683.9,452.4L684.8,453.3L699.5,453.3L689.2,445.3L673.4,446.6L662.9,445.9L652.3,443.5L648.8,441.5L647.2,438.8L649.7,437.3L658.9,436.9L675.7,438.8L689.2,442.4L697.1,440.7L701.4,437.5L703.1,430.9L701.1,428.3L695.7,425.6L694.2,423.0L697.1,420.0L710.3,412.0L715.6,410.2L735.3,411.9L744.6,414.5L746.1,416.4L747.3,424.3L746.5,429.6L747.0,430.9L749.8,432.2L768.3,435.2L788.0,434.0L804.9,430.9L809.5,428.3L810.9,425.6L796.0,421.0L788.1,416.4L786.6,413.8L792.0,410.7L803.9,408.8L814.4,409.3L838.1,413.3L838.3,419.1L840.3,420.4L847.3,421.1L857.9,420.5L866.4,419.1L870.2,417.7L870.5,416.4L864.5,413.8L844.7,411.9L843.3,411.2L843.9,409.8L848.3,407.2L856.6,405.6L880.3,408.2L892.2,408.0L893.9,407.2L892.1,400.6L895.6,394.0L900.1,390.9L909.3,388.4L922.5,388.3L943.5,393.3L948.8,393.1L948.8,376.5L936.8,371.6L934.7,369.0L938.1,366.3L948.8,362.1L948.8,315.9L935.6,316.6L911.9,313.8L894.8,315.8L884.2,315.3L880.5,313.6L889.8,309.7L879.0,304.0L875.0,303.4L860.5,306.3L847.3,307.8L810.4,308.0L803.9,310.3L799.9,316.1L797.3,317.5L764.3,320.1L757.0,318.9L752.1,316.3L751.8,307.0L749.8,304.6L741.9,303.4L731.4,303.4L721.9,305.7L716.4,308.4L711.6,312.6L705.0,314.6L693.2,315.1L678.7,312.6L673.4,313.2L669.4,314.9L660.6,321.5L656.0,330.8L646.1,340.0L646.4,341.3L648.4,342.2L664.9,343.9L662.9,345.3L656.3,346.2L650.9,345.3L644.4,342.5L625.3,340.0L623.5,334.7L624.7,330.8L628.6,327.6L637.5,322.9L638.5,321.5L637.5,320.2L628.6,318.2L601.1,317.6L600.5,316.3L608.7,311.0L609.6,308.4L599.6,302.4L586.4,298.6L578.5,299.6L564.0,307.0L548.2,310.2L533.7,315.0L528.4,315.5L511.3,310.6L478.4,310.5L466.5,305.7L433.3,297.8L415.1,295.1L401.9,294.7L389.9,296.5L379.6,301.8L379.8,303.1L395.3,305.5L402.8,308.4L402.6,309.7L398.0,311.0L382.2,311.3L329.5,302.5L320.2,301.8L311.7,303.1L303.1,306.3L279.4,305.2L262.2,306.2L256.8,308.4L255.7,312.3L251.7,314.9L233.3,317.6L224.0,315.0L210.8,315.2L202.9,313.8L202.0,312.3L203.7,311.0L213.5,307.2L213.6,304.4L209.5,302.2L201.6,300.0L187.1,298.8L176.6,300.2L139.8,309.7L137.3,311.0L135.9,315.0L132.5,317.6L118.6,323.3L112.0,324.6L104.5,322.9L102.1,320.2L100.1,315.0L85.9,311.0L84.8,309.7L86.1,305.7L84.3,303.9L69.6,296.5L59.7,293.9L50.1,293.3L43.5,294.5L38.4,297.8L35.6,302.3L32.9,303.5L7.9,302.3L2.6,304.0L0.3,307.0L0.4,309.7L4.0,313.6L0.0,315.6L0.0,361.8L19.8,361.5L43.5,357.5L50.1,357.9L53.4,359.8L53.4,361.1L51.9,362.4L48.6,363.7L27.9,367.7L26.2,369.0L38.3,374.3L37.8,375.6L35.2,376.9L20.7,382.2L24.1,387.4L15.2,392.7L16.9,395.3L26.4,400.1L69.8,404.0L76.4,402.8L88.2,398.0L89.8,395.3L86.9,388.8L89.9,383.5L89.6,382.2L83.3,376.9L83.3,374.3L88.3,371.4L100.5,367.7L95.6,362.4L95.6,361.1L98.8,359.0L105.4,357.6L117.3,357.7L129.1,359.7L134.3,362.4L137.1,367.2L139.7,369.0L162.1,373.4L183.2,372.4L195.9,370.3L204.0,367.7L210.6,362.4L216.1,360.8L224.0,361.5L230.6,365.0L232.0,367.7L230.8,370.3L218.8,378.0L213.5,379.9L183.2,382.5L164.7,380.5L160.9,382.2L162.2,384.8L164.7,386.0L179.2,389.3L189.2,394.0L188.4,395.3L175.0,398.0L170.1,400.6L174.5,403.2L188.4,405.4L201.0,403.2L212.2,399.6L243.8,404.2L288.6,400.4L295.7,398.0L300.5,393.4L305.7,390.8L332.1,385.6L347.9,379.9L362.4,373.2L367.7,367.2L371.6,364.9L398.0,367.0L408.5,365.3L411.4,363.7L412.8,361.1L408.2,355.8L408.5,354.5L412.8,353.2L429.6,352.9L457.3,357.3L466.5,356.3L487.6,351.0L504.7,350.2L513.9,352.6L526.5,361.1L528.6,363.7L527.2,369.0L535.0,374.6L536.0,376.9L531.1,379.9L523.2,381.7L479.4,380.8L475.5,379.5L476.5,378.2L480.4,376.9L508.2,370.3L510.8,369.0L510.5,367.7L500.8,365.3L478.4,364.6L452.0,361.8L444.5,363.7L443.1,369.0L441.6,370.3L428.9,375.6L429.2,380.8L425.6,382.4L417.7,383.8L409.8,383.7L392.7,378.4L383.5,377.3L376.4,378.2L374.5,379.5L373.5,382.2L375.8,384.8L380.8,386.6L416.5,394.0L418.2,395.3L417.8,401.9L421.7,404.6L429.6,406.6L436.2,406.6L442.8,405.0L446.7,403.0L452.2,398.0L459.9,396.0L471.8,396.8L492.9,401.8L517.9,401.2L524.9,407.2L525.3,411.2L526.8,413.8L531.1,416.5L541.4,417.7L550.9,415.1L556.1,414.8L578.1,420.4L578.0,421.7L574.2,425.6L575.7,428.3L582.1,433.6L581.8,434.9L577.4,438.8L577.9,440.1L580.9,441.5L614.1,448.3L639.1,449.7L654.9,451.9L674.7,449.5L680.0,450.4L683.9,452.4ZM600.3,438.8L594.7,436.2L593.2,434.9L593.5,433.6L604.7,428.3L607.3,425.6L604.4,423.0L592.9,419.1L592.0,417.7L610.7,409.8L609.8,404.6L610.5,401.9L616.7,398.9L629.9,396.3L635.2,397.0L639.1,398.9L641.8,400.6L642.7,401.9L642.3,403.2L628.4,409.8L628.4,411.2L649.7,416.1L654.6,419.1L656.0,421.7L653.9,425.6L636.5,435.5L611.5,439.9L604.9,439.9L600.3,438.8ZM677.9,409.8L665.5,406.6L659.6,403.2L661.1,400.6L668.0,395.3L670.0,391.4L668.1,390.4L653.6,389.9L649.0,388.8L647.4,386.1L647.3,380.8L649.7,376.9L654.9,375.0L662.9,377.6L671.7,383.5L672.7,386.1L672.2,388.8L673.4,389.7L689.2,389.1L707.7,384.8L714.2,386.2L721.0,390.1L721.1,392.7L712.9,402.8L702.4,404.8L689.2,409.5L677.9,409.8ZM557.3,405.9L549.5,400.6L544.4,392.7L544.3,391.1L545.6,389.4L552.0,387.4L561.4,387.1L573.2,388.4L577.2,390.5L580.7,398.0L577.7,401.9L573.7,404.6L568.0,406.3L557.3,405.9ZM742.9,404.6L730.0,401.9L733.8,398.0L742.9,392.7L745.6,388.8L748.5,388.2L756.4,388.4L761.7,389.6L779.2,398.0L781.4,400.6L777.5,402.9L769.6,404.3L755.1,405.2L742.9,404.6ZM850.5,388.8L838.1,385.6L821.0,386.0L815.3,384.8L815.2,383.5L817.9,382.2L833.4,378.2L815.7,373.2L805.7,366.3L784.1,363.1L779.8,361.1L781.6,359.8L809.1,351.9L818.4,351.4L827.9,353.2L832.1,355.8L830.6,362.4L842.1,367.7L840.8,372.2L836.2,376.9L856.6,378.9L861.3,380.8L861.8,384.8L860.5,387.5L856.6,389.1L850.5,388.8ZM286.1,387.4L276.8,384.8L275.6,383.5L276.1,382.2L283.3,379.6L291.2,379.0L295.2,380.2L299.1,384.8L299.1,386.1L296.5,387.5L286.1,387.4ZM646.5,371.6L631.4,367.7L627.8,365.0L627.5,363.7L632.5,360.8L644.4,359.8L664.2,363.2L668.3,365.0L668.8,366.3L665.8,369.0L656.3,372.4L646.5,371.6ZM315.1,367.7L306.6,363.7L305.7,362.4L306.5,361.1L312.3,359.8L320.2,360.3L333.8,366.3L333.6,367.7L325.5,368.8L315.1,367.7ZM880.7,363.7L879.8,362.4L881.5,361.1L889.5,358.3L894.8,358.5L897.9,361.1L895.8,363.7L892.2,364.7L886.9,365.0L880.7,363.7ZM365.1,362.4L359.8,360.5L358.8,359.8L359.5,358.4L367.7,357.0L373.6,358.4L372.9,360.6L370.3,362.6L365.1,362.4ZM573.7,362.4L571.2,361.1L570.1,358.4L573.2,355.8L578.5,354.4L594.3,353.5L599.6,354.5L602.6,357.1L597.8,359.8L586.4,362.8L579.8,363.4L573.7,362.4ZM686.3,361.1L680.0,358.8L676.6,355.8L675.5,353.2L677.2,350.5L685.3,348.4L749.8,343.1L764.3,344.0L768.3,345.3L770.0,347.9L768.2,350.5L764.3,353.3L755.1,356.2L726.1,357.3L695.8,361.5L686.3,361.1ZM190.6,353.2L182.6,351.9L180.5,350.5L180.9,349.2L188.4,345.1L195.0,344.4L204.3,346.4L209.0,350.5L208.2,352.2L204.3,353.4L190.6,353.2ZM391.2,345.3L382.2,342.9L377.3,340.0L375.3,337.4L379.5,335.8L388.0,336.0L402.3,340.0L406.5,342.6L401.9,344.8L391.2,345.3ZM864.4,345.3L857.6,342.6L856.5,341.3L856.9,340.0L861.8,337.9L879.0,335.2L906.6,327.1L915.9,325.9L925.1,326.2L933.3,328.1L936.4,330.8L933.0,333.5L921.1,337.9L890.8,339.8L885.6,341.2L875.0,346.0L864.4,345.3ZM167.6,340.0L156.5,337.4L157.5,336.0L162.1,334.5L173.9,333.8L181.9,334.2L184.5,335.4L185.6,337.4L184.5,339.3L181.9,340.2L167.6,340.0ZM674.9,340.0L691.8,335.2L698.4,335.6L699.7,336.0L699.9,337.4L690.3,340.0L677.3,341.0L674.9,340.0ZM530.6,336.0L533.7,334.2L535.0,334.7L532.4,336.4L530.6,336.0ZM185.5,330.8L184.2,329.5L184.9,328.1L191.1,326.6L212.2,325.1L215.2,325.5L216.5,326.8L212.1,329.5L204.1,330.8L191.1,331.8L185.5,330.8ZM418.7,325.5L426.5,325.5L418.7,325.5ZM346.5,324.2L338.7,322.3L316.3,321.4L309.7,320.2L306.5,317.6L305.9,309.7L307.0,308.3L312.3,307.7L330.8,307.8L340.0,309.3L345.1,312.3L350.5,320.7L353.9,322.9L353.8,324.2L351.9,324.6L346.5,324.2ZM52.6,311.0L40.5,309.7L37.3,308.4L36.0,305.7L37.6,304.4L40.9,304.0L56.7,304.0L63.7,305.7L70.1,309.7L68.5,311.0L52.6,311.0ZM716.9,453.3L750.2,453.3L749.2,450.7L747.3,449.4L740.6,448.6L723.5,450.0L715.9,453.3L716.9,453.3ZM802.5,452.2L804.2,453.3L829.6,453.3L832.5,449.4L830.2,446.9L826.3,445.8L794.6,445.2L773.5,439.2L768.3,440.1L764.9,442.8L765.1,444.1L769.5,445.4L792.0,448.9L802.5,452.2ZM851.3,453.3L870.2,453.3L867.1,450.4L857.9,448.8L851.3,450.5L850.1,453.3L851.3,453.3ZM908.0,453.3L948.8,453.3L948.8,450.3L930.0,446.7L918.7,442.8L917.7,441.5L918.8,440.1L935.1,434.9L936.8,433.6L936.6,430.9L933.7,428.3L927.7,426.0L904.1,421.7L902.3,417.7L901.4,408.9L897.4,409.1L893.8,413.8L879.7,419.1L879.6,421.7L882.8,428.3L883.0,434.9L884.5,436.2L907.6,442.8L908.5,445.4L907.1,453.3L908.0,453.3ZM89.6,448.1L106.7,447.0L108.9,446.7L109.3,445.4L94.9,443.1L88.3,443.7L85.7,445.4L85.1,446.7L89.6,448.1ZM392.7,428.4L400.6,428.7L401.7,427.0L400.1,425.6L395.3,424.8L389.3,425.6L388.6,427.0L392.7,428.4ZM201.6,424.4L204.4,424.3L204.9,423.0L198.7,420.4L188.4,417.9L181.9,417.4L177.0,419.1L177.9,421.1L181.9,422.7L201.6,424.4ZM6.6,423.3L14.5,424.1L22.2,423.0L15.8,421.6L5.1,421.7L5.3,423.0L6.6,423.3ZM437.5,422.0L442.8,421.9L444.9,420.4L440.1,419.4L435.7,420.4L437.5,422.0ZM0.1,392.7L1.9,391.4L2.9,387.4L6.4,382.2L0.0,377.2L0.1,392.7ZM92.2,309.3L97.5,308.6L100.6,304.4L100.8,301.8L99.5,299.1L96.2,297.1L90.9,298.6L88.6,301.8L88.4,305.7L92.2,309.3ZM681.3,308.5L689.2,308.9L694.9,307.0L694.6,305.7L690.5,303.4L682.6,302.4L679.3,303.1L678.0,304.4L678.7,306.8L681.3,308.5ZM242.5,297.8L255.7,297.0L260.8,295.2L261.5,293.9L257.0,291.3L250.4,290.7L239.8,291.5L233.6,293.9L233.9,295.2L236.1,296.5L242.5,297.8ZM882.9,298.0L896.1,296.9L899.9,295.2L899.9,293.9L894.8,292.1L886.1,292.6L880.5,295.2L880.3,296.8L882.9,298.0ZM818.4,295.4L821.1,295.2L817.1,295.2L818.4,295.4ZM636.5,294.3L647.0,295.1L657.2,293.9L680.3,283.3L681.1,280.7L679.2,275.4L681.2,274.1L689.9,272.8L711.6,272.4L716.8,270.1L716.9,267.5L714.9,264.9L710.9,262.2L701.1,259.1L691.8,258.4L665.5,259.6L648.4,253.9L629.9,249.6L600.9,248.1L591.7,249.2L585.4,255.7L579.8,258.5L546.9,266.8L543.4,268.8L551.4,274.1L554.3,278.1L558.4,279.4L577.2,283.0L589.1,286.8L592.4,286.0L592.8,284.6L590.9,282.0L591.7,281.4L594.3,280.2L598.3,280.1L604.1,283.3L629.8,289.9L636.5,294.3ZM761.7,292.7L762.9,292.6L761.7,292.7ZM108.1,289.9L112.6,289.9L112.2,288.6L104.1,282.4L98.8,279.9L89.6,279.7L85.7,281.2L83.7,283.3L87.8,286.0L108.1,289.9ZM210.8,287.4L216.1,287.5L218.6,286.0L217.4,284.4L213.5,284.1L210.1,286.0L210.8,287.4ZM855.3,286.9L855.7,286.0L854.6,286.0L855.3,286.9ZM736.7,279.8L740.6,279.1L744.5,274.1L747.0,259.6L746.4,255.7L744.8,253.0L740.6,248.8L738.0,247.7L735.3,248.2L732.7,250.3L727.5,257.0L729.6,271.5L732.4,276.7L736.7,279.8ZM152.9,275.5L159.5,276.6L163.3,275.4L163.0,274.1L159.5,272.6L152.9,271.9L149.9,272.8L152.9,275.5ZM477.0,275.8L483.6,275.6L487.0,274.1L477.0,273.9L475.8,275.4L477.0,275.8ZM10.5,274.5L15.8,275.4L22.4,274.8L31.0,272.8L36.6,270.1L37.1,267.5L33.5,259.6L25.5,254.3L37.0,249.1L39.4,243.8L53.6,239.8L59.5,237.2L60.9,234.6L59.8,231.9L52.7,228.6L42.2,229.3L36.0,234.6L15.4,242.5L10.5,245.9L5.4,251.7L3.7,258.3L7.9,272.8L10.5,274.5ZM784.1,274.2L810.4,273.3L815.7,271.7L816.0,270.1L807.8,267.5L794.6,266.5L781.7,268.8L775.7,271.5L777.0,272.8L784.1,274.2ZM321.5,271.6L326.8,271.0L333.4,267.7L338.7,263.6L340.6,259.6L339.4,258.3L336.0,257.6L328.1,258.2L320.7,260.9L311.8,266.2L311.9,267.5L313.7,268.8L321.5,271.6ZM430.9,268.9L442.8,269.5L447.4,268.8L449.0,267.5L439.5,259.6L441.4,255.7L440.2,253.0L432.2,250.4L419.1,248.7L411.2,248.8L407.3,250.4L406.7,251.7L407.5,253.0L411.7,257.0L409.8,260.9L411.2,263.6L417.8,266.2L430.9,268.9ZM88.3,265.1L110.7,264.2L119.9,262.2L118.9,260.9L115.0,259.6L106.7,258.8L87.0,260.6L82.7,262.2L83.7,263.6L88.3,265.1ZM857.9,263.6L868.4,263.4L872.3,262.2L875.5,259.6L873.7,258.3L871.1,258.2L858.9,259.6L855.5,260.9L855.0,262.2L857.9,263.6ZM915.9,259.6L922.4,258.3L921.7,257.0L914.6,255.6L904.4,255.7L902.1,257.0L915.9,259.6ZM225.3,257.0L242.5,257.6L259.6,255.3L263.6,253.2L272.8,245.2L290.5,238.5L292.9,235.9L293.1,233.3L309.7,229.9L315.5,226.7L314.9,225.3L309.7,223.7L291.2,222.8L284.6,223.6L281.4,225.3L281.7,228.0L284.4,230.6L284.0,231.9L282.0,232.2L272.8,232.4L247.7,230.2L219.6,231.9L216.9,233.3L216.8,234.6L222.9,241.2L216.4,251.7L218.8,254.3L225.3,257.0ZM367.7,254.7L369.0,255.5L374.3,254.8L378.8,253.0L379.6,251.7L377.1,249.1L372.9,247.3L354.5,244.1L346.6,237.7L338.7,234.9L328.1,234.3L317.6,236.1L311.0,238.7L306.8,243.8L307.3,245.1L310.1,246.4L317.6,247.6L347.9,246.7L365.0,251.0L367.5,253.0L367.7,254.7ZM807.8,254.4L821.2,254.3L824.1,253.0L829.9,247.7L846.0,239.2L868.4,238.5L870.6,237.2L870.2,234.6L868.4,231.0L865.8,228.8L856.6,226.9L851.3,228.2L847.1,230.6L845.7,233.3L845.8,237.2L844.7,238.2L828.9,238.1L825.9,230.6L821.0,228.3L816.2,230.6L814.4,236.1L813.1,237.3L789.4,235.7L782.8,236.8L780.7,238.5L780.4,245.1L782.2,247.7L807.8,254.4ZM154.2,250.4L160.8,250.3L167.4,246.7L169.0,243.8L167.4,238.3L164.7,237.4L158.1,238.5L149.7,241.2L145.2,243.8L144.5,245.1L146.3,247.4L154.2,250.4ZM81.7,242.6L88.0,242.5L91.0,241.2L91.4,239.8L85.7,238.4L78.3,239.8L78.0,241.2L81.7,242.6ZM478.4,239.9L487.6,239.3L492.2,237.2L493.0,235.9L487.6,233.7L477.0,232.8L467.8,233.7L464.2,235.9L470.0,238.5L478.4,239.9ZM10.5,233.8L15.8,234.0L25.1,225.3L17.1,219.6L10.5,219.3L6.1,222.7L4.5,226.7L6.6,230.6L10.5,233.8ZM578.5,233.4L582.5,234.1L587.5,233.3L583.8,232.4L578.5,233.4ZM801.2,223.4L803.9,223.9L806.6,222.7L808.3,220.1L807.7,217.4L792.0,209.9L789.4,210.0L786.9,212.2L786.1,214.8L788.0,218.0L801.2,223.4ZM456.0,220.2L465.2,220.3L469.9,218.8L461.2,217.6L454.0,218.8L456.0,220.2ZM706.3,218.8L713.7,218.8L716.1,217.4L714.4,216.1L710.3,215.7L705.5,216.1L703.4,217.4L706.3,218.8ZM612.8,216.4L619.4,216.8L621.3,216.1L621.4,214.8L617.4,212.2L612.8,211.3L610.3,212.2L609.8,213.5L612.8,216.4ZM284.6,215.0L287.6,214.8L284.6,213.5L284.6,215.0ZM847.3,215.1L852.6,214.8L857.4,210.8L853.6,205.6L853.8,202.9L857.9,200.8L868.4,198.0L876.3,198.0L894.8,204.7L902.7,205.3L909.0,204.3L914.7,199.0L924.3,196.4L924.7,195.0L909.3,187.0L906.3,184.5L906.6,182.8L913.2,180.9L935.6,178.5L948.8,174.6L948.8,15.8L799.2,15.8L793.3,18.0L785.4,18.8L777.5,18.1L772.1,15.8L333.5,15.8L325.5,17.6L313.6,18.4L304.4,17.6L299.3,15.8L0.0,15.8L0.0,174.6L7.1,176.6L11.6,181.9L17.1,184.0L23.7,184.9L38.2,184.1L51.4,186.2L56.7,185.5L59.3,183.8L59.6,181.9L49.4,175.3L61.9,168.4L67.2,166.9L77.8,166.9L93.6,169.6L121.2,169.9L145.0,173.1L154.2,173.4L180.5,169.6L206.9,168.2L220.1,165.3L233.3,160.9L238.5,160.3L247.7,161.2L264.9,167.1L284.6,169.9L293.9,173.1L301.8,174.4L309.7,179.6L313.6,180.4L317.6,179.6L324.2,175.7L328.1,174.9L363.7,178.9L368.6,176.6L363.5,172.6L363.4,171.3L366.3,170.2L392.7,169.9L425.6,167.2L433.2,168.7L434.2,171.3L433.3,173.9L436.2,175.8L459.9,176.0L482.3,179.2L499.4,178.3L533.7,172.4L544.3,167.4L549.5,166.7L603.6,173.0L620.7,176.6L641.7,171.3L653.4,164.7L674.7,161.9L682.6,163.6L684.2,168.7L682.3,173.9L682.5,176.6L685.3,178.5L690.5,179.7L701.1,178.0L710.7,172.6L731.4,170.9L736.7,168.5L764.3,168.8L784.1,170.6L807.8,165.2L818.4,166.3L827.6,168.7L839.4,175.9L844.7,177.3L853.9,177.2L864.5,173.3L871.1,172.7L884.2,174.1L891.2,177.9L891.7,179.2L890.2,180.5L880.6,184.5L879.5,185.8L878.5,191.1L875.0,193.5L871.1,194.2L851.3,193.5L827.6,195.2L818.4,197.9L809.3,202.9L810.7,204.3L828.9,206.4L833.6,208.2L839.4,212.6L847.3,215.1ZM853.9,163.4L848.1,162.1L845.8,160.8L846.0,159.5L853.9,159.1L859.9,160.8L859.2,162.6L853.9,163.4ZM477.4,150.2L475.2,148.9L475.7,147.6L481.0,145.5L486.3,145.3L489.2,146.3L489.9,147.6L486.3,150.3L477.4,150.2ZM220.7,146.3L223.2,145.0L235.9,142.7L239.1,141.0L239.6,139.7L225.5,131.8L225.5,130.5L228.0,129.0L238.5,126.9L249.1,126.9L259.7,129.1L265.6,133.1L265.3,135.7L262.8,139.7L266.7,145.0L265.2,146.3L245.1,146.0L228.0,147.3L220.7,146.3ZM596.8,138.4L587.7,135.7L586.2,134.4L585.9,131.8L591.7,129.2L602.2,128.5L626.0,131.1L629.7,131.8L630.2,133.1L622.0,137.5L616.7,138.9L596.8,138.4ZM699.4,138.4L693.6,137.1L691.0,135.7L690.6,134.4L697.1,132.3L706.3,132.1L718.8,134.4L723.0,137.1L721.5,138.4L715.6,139.3L699.4,138.4ZM650.9,134.4L640.4,131.8L641.9,130.5L654.9,128.9L664.2,129.7L670.3,131.8L670.0,133.1L665.5,134.4L650.9,134.4ZM361.2,131.8L356.2,130.5L352.8,127.8L358.4,126.5L375.6,128.1L391.4,124.7L395.5,125.2L399.3,127.8L396.7,129.2L378.2,129.6L368.5,131.8L361.2,131.8ZM735.0,114.6L732.1,113.3L731.5,112.0L734.0,110.2L739.3,108.9L745.9,109.5L748.2,110.7L749.8,113.3L748.5,114.8L744.6,115.7L735.0,114.6ZM785.5,114.6L784.6,113.3L786.7,112.8L793.1,113.3L792.0,114.7L785.5,114.6ZM389.5,105.4L383.7,104.1L385.3,102.8L392.7,102.3L401.6,102.8L402.4,104.1L389.5,105.4ZM409.0,102.8L408.6,101.5L410.0,100.2L416.4,97.9L428.7,98.8L433.7,100.2L433.9,101.5L424.3,103.5L409.0,102.8ZM69.2,100.2L67.9,97.5L71.2,95.3L77.8,96.2L79.9,98.8L75.1,101.0L69.2,100.2ZM800.0,100.2L794.4,98.8L792.2,97.5L792.6,96.2L798.6,94.9L806.5,95.0L814.4,96.1L816.8,97.5L816.5,98.8L813.1,100.2L800.0,100.2ZM282.1,98.8L286.0,97.2L289.3,97.5L291.2,98.8L287.3,100.0L282.1,98.8ZM265.0,88.3L259.9,87.0L258.0,84.3L261.2,81.7L267.5,80.1L275.4,80.0L279.1,81.7L279.1,87.0L278.1,88.5L265.0,88.3ZM767.7,88.3L756.2,85.7L754.0,84.3L753.8,81.7L760.4,75.5L769.6,74.2L789.4,75.7L795.4,77.8L798.2,80.4L798.5,81.7L796.5,84.3L788.0,88.3L780.1,89.2L767.7,88.3ZM613.7,79.1L608.7,77.8L607.5,76.4L608.2,75.1L612.6,73.8L620.7,73.8L626.5,75.1L627.3,76.4L622.0,78.6L613.7,79.1ZM306.8,76.4L299.2,72.5L298.8,71.2L305.1,71.2L310.4,73.8L310.9,75.1L309.7,76.3L306.8,76.4ZM138.6,75.1L134.4,72.5L137.6,71.2L145.0,70.9L167.7,73.8L167.2,75.1L163.4,75.4L146.3,76.0L138.6,75.1ZM718.0,75.1L717.9,73.8L719.9,72.5L728.7,70.3L736.7,70.3L740.2,71.2L740.8,72.5L726.1,76.0L718.0,75.1ZM571.5,64.6L562.4,63.3L557.1,60.6L556.8,58.0L559.8,52.7L565.3,50.5L574.6,51.0L578.5,52.7L589.2,60.6L587.7,62.7L583.8,64.0L571.5,64.6ZM435.3,59.3L427.6,56.7L422.0,48.8L424.3,47.5L428.3,47.6L448.1,52.5L452.4,55.3L450.8,58.0L447.0,59.3L435.3,59.3ZM803.2,54.0L788.5,51.4L779.9,44.8L783.8,42.2L792.0,41.0L823.2,46.1L830.2,48.8L828.9,50.7L822.3,52.7L803.2,54.0ZM873.1,52.7L872.2,51.4L872.9,50.1L880.3,47.1L888.1,47.4L891.0,50.1L887.9,52.7L882.9,53.8L877.7,53.9L873.1,52.7ZM703.5,48.8L704.5,47.4L710.4,46.1L713.8,46.1L715.4,47.4L710.3,49.0L703.5,48.8ZM341.3,39.5L324.9,35.6L319.1,32.9L326.8,30.9L340.0,30.2L353.2,32.6L359.8,35.6L359.8,36.9L358.4,37.8L354.5,39.1L341.3,39.5ZM311.0,212.7L315.0,212.0L320.2,205.7L327.5,201.6L329.5,199.0L328.6,197.7L324.2,196.2L316.3,195.7L299.1,197.7L286.0,206.9L283.8,209.5L284.6,211.4L292.6,209.3L301.8,209.2L307.0,210.2L311.0,212.7ZM751.1,211.0L765.6,211.7L768.0,209.5L768.1,206.9L764.3,204.9L748.5,204.7L745.9,205.6L744.9,206.9L745.9,209.6L751.1,211.0ZM104.1,209.6L110.7,209.5L114.3,206.9L113.8,205.6L112.0,205.1L104.1,205.5L102.1,206.9L102.2,208.2L104.1,209.6ZM242.5,201.7L246.4,202.4L249.5,200.3L251.3,196.4L250.1,192.4L242.5,184.8L233.3,181.0L229.3,181.1L226.1,184.5L226.8,189.8L235.6,195.0L242.5,201.7ZM163.4,197.7L172.6,197.9L175.6,196.4L175.1,195.0L171.3,193.2L154.2,190.5L139.7,186.4L130.5,185.8L124.9,187.1L128.6,189.8L145.0,196.2L163.4,197.7ZM210.8,182.2L216.1,183.1L221.4,182.2L224.0,180.5L226.8,176.6L220.1,175.4L213.5,176.5L209.7,180.5L210.8,182.2Z"/>
<path fill="#ffaaaa" fill-rule="evenodd" d="M30.3,349.3L38.3,349.2L44.7,346.6L40.9,345.4L34.3,346.1L29.5,347.9L30.3,349.3ZM801.2,338.8L817.0,339.3L825.8,337.4L826.5,336.0L822.3,333.7L810.3,332.1L810.4,330.8L823.2,318.9L824.1,316.3L822.3,312.9L819.7,312.1L817.0,313.0L809.1,320.7L797.3,325.8L794.4,328.1L793.5,332.1L794.9,336.0L795.8,337.4L801.2,338.8ZM93.6,307.4L96.2,307.4L99.1,304.4L99.1,301.8L96.2,298.9L93.6,298.9L90.6,301.8L90.5,304.4L93.6,307.4ZM11.9,264.9L17.1,264.0L19.8,259.6L18.5,254.3L14.5,251.7L9.5,253.0L7.1,257.0L7.9,261.8L11.9,264.9ZM738.0,260.4L738.0,258.1L736.7,259.6L738.0,260.4ZM819.7,240.4L823.6,239.7L826.3,235.9L825.8,231.9L822.3,229.4L818.4,229.9L815.8,233.3L816.0,237.2L819.7,240.4ZM10.5,232.6L15.8,232.7L19.3,229.3L19.4,224.0L15.8,220.5L10.5,220.6L7.0,224.0L7.1,229.3L10.5,232.6ZM803.9,222.9L806.8,220.1L805.2,217.3L792.0,212.0L789.4,212.1L788.0,213.5L787.6,214.8L789.4,217.4L803.9,222.9ZM748.5,209.8L764.3,210.7L767.2,208.2L766.9,206.9L764.3,205.8L748.5,205.7L746.0,206.9L746.1,208.2L748.5,209.8ZM243.8,200.9L247.7,200.2L249.7,197.7L249.8,195.0L248.2,192.4L241.2,185.3L233.3,182.5L229.3,183.2L227.3,185.8L228.1,189.8L237.2,194.5L243.8,200.9ZM309.7,178.0L315.0,178.9L318.9,177.2L341.3,156.4L353.2,155.1L357.6,152.9L361.2,147.6L359.4,142.3L355.8,138.8L351.9,137.2L340.0,136.8L328.1,134.1L318.9,136.6L315.6,139.7L313.9,143.6L315.0,155.5L306.8,166.0L305.1,170.0L306.5,175.3L309.7,178.0ZM703.7,170.1L716.9,170.7L730.1,169.4L733.3,167.4L733.4,164.7L730.1,162.2L716.9,163.1L701.1,161.9L698.4,163.0L697.2,166.0L698.3,168.7L703.7,170.1ZM752.5,164.9L758.9,163.4L765.4,156.8L765.7,155.5L764.1,154.2L755.1,150.2L754.2,148.9L759.3,142.3L775.8,130.5L776.4,125.2L775.2,122.6L772.2,120.3L767.0,120.3L757.7,125.4L749.0,133.1L739.9,145.0L739.6,150.2L742.0,156.8L748.5,163.1L752.5,164.9ZM52.7,158.2L80.4,158.8L90.9,155.1L94.2,151.5L92.2,148.6L86.3,146.3L81.7,142.9L50.1,136.0L32.9,127.2L13.2,125.7L0.0,128.6L0.0,145.8L14.5,141.2L29.0,141.7L52.3,152.9L48.4,156.8L52.7,158.2ZM369.0,147.9L372.9,147.8L373.2,146.3L369.8,146.3L368.4,147.6L369.0,147.9ZM427.0,147.7L433.6,148.4L440.1,147.5L444.5,145.0L446.1,141.0L441.5,139.2L432.2,138.8L424.3,139.9L419.4,142.3L419.8,145.0L427.0,147.7ZM946.2,145.0L948.8,145.8L948.8,128.7L939.6,131.5L913.1,133.1L909.5,134.4L908.8,135.7L911.9,138.9L919.8,140.2L927.7,139.6L939.6,136.5L942.6,142.3L946.2,145.0ZM430.9,126.6L437.7,126.5L439.1,125.2L438.8,123.9L432.2,121.1L427.4,121.2L424.6,122.6L424.7,123.9L426.5,125.2L430.9,126.6ZM705.0,125.2L718.0,125.2L717.4,123.9L713.8,122.6L693.2,119.5L683.9,119.3L678.0,121.2L679.4,122.6L685.3,123.6L705.0,125.2ZM574.6,117.6L582.5,117.6L593.0,113.8L603.6,113.1L612.5,110.7L614.1,109.2L611.4,106.7L615.4,102.6L624.6,100.9L636.5,96.2L635.2,94.8L619.4,92.5L614.1,89.2L586.4,78.5L582.5,78.7L579.0,83.0L578.9,85.7L580.3,88.3L598.2,97.5L595.1,102.8L593.0,109.2L573.4,113.3L571.7,114.6L571.7,116.0L574.6,117.6ZM826.3,117.6L836.8,117.8L843.6,116.0L845.1,114.6L844.0,113.3L839.8,112.0L830.2,111.8L824.3,114.6L824.1,116.0L826.3,117.6ZM488.9,116.0L499.4,115.6L502.2,114.6L503.8,112.0L501.0,109.4L496.8,108.0L467.8,104.2L457.1,105.4L454.2,106.7L452.3,109.4L455.3,112.0L460.4,113.3L488.9,116.0ZM371.6,108.4L375.6,108.9L379.6,105.4L380.2,101.5L376.9,96.6L371.6,96.5L368.5,100.2L368.2,104.1L371.6,108.4ZM552.2,106.9L557.4,107.9L565.3,106.9L571.9,104.5L573.2,102.0L570.4,100.2L564.0,99.6L550.8,100.0L544.3,101.5L544.2,102.8L546.0,104.1L552.2,106.9ZM1.3,106.4L10.5,105.8L23.1,97.5L25.0,94.9L25.4,92.2L22.6,87.0L18.4,84.1L13.2,83.1L7.9,84.0L3.1,87.0L0.0,91.4L0.0,106.0L1.3,106.4ZM948.8,105.8L948.8,92.9L944.9,96.6L943.7,100.2L945.9,104.1L948.8,105.8ZM680.0,95.0L690.5,95.8L697.2,93.6L697.0,92.2L694.7,90.9L689.2,89.8L681.6,89.6L676.1,90.9L675.1,92.2L676.1,93.6L680.0,95.0ZM486.3,88.4L494.2,89.4L498.1,88.3L498.5,87.0L492.9,85.4L484.1,87.0L486.3,88.4ZM442.8,80.9L449.4,81.3L452.3,80.4L452.5,79.1L449.4,77.4L444.1,77.0L440.8,79.1L442.8,80.9ZM25.0,71.3L28.8,71.2L26.4,69.8L25.0,70.2L24.4,71.2L25.0,71.3ZM904.0,67.2L913.7,65.9L915.4,64.6L915.1,63.3L911.9,61.8L906.6,61.8L899.9,64.6L900.1,66.2L904.0,67.2ZM112.0,63.4L125.8,63.3L140.2,58.0L154.2,55.2L179.2,55.1L186.5,52.7L189.1,50.1L187.5,48.8L173.5,44.8L168.7,40.3L164.7,39.4L162.1,41.2L163.0,46.1L162.3,47.4L158.1,49.9L155.5,50.3L153.7,43.5L148.9,38.6L132.1,36.9L128.3,35.6L131.1,34.3L150.2,32.2L150.8,30.3L148.9,27.7L140.7,22.4L126.5,19.9L118.6,20.5L113.4,22.4L111.3,26.4L113.6,32.9L110.7,34.2L67.2,36.9L39.5,36.8L26.4,37.8L10.5,40.1L7.2,42.2L5.3,46.1L6.2,51.4L9.2,54.9L19.8,57.4L47.4,52.8L59.3,52.2L98.8,52.6L118.1,55.3L108.1,60.6L108.5,61.9L112.0,63.4ZM680.0,63.3L693.2,63.5L701.8,60.6L701.1,59.2L693.2,58.4L681.6,59.3L676.8,60.6L676.7,61.9L680.0,63.3ZM654.9,58.1L666.8,58.2L669.2,56.7L669.6,54.0L666.8,52.3L661.5,52.0L656.2,52.7L650.1,55.3L650.3,56.7L654.9,58.1ZM855.3,40.9L860.8,39.5L859.2,38.2L855.3,38.0L852.6,38.2L851.5,39.5L855.3,40.9ZM27.7,29.1L40.9,29.3L44.9,27.7L42.2,24.6L36.9,22.7L18.2,25.0L14.3,26.4L17.3,27.7L27.7,29.1ZM271.5,24.0L280.7,24.7L284.9,23.7L285.7,22.4L282.0,20.6L275.4,20.3L270.0,22.4L271.5,24.0ZM546.9,18.5L566.7,19.2L575.9,17.9L581.9,15.8L513.1,15.8L520.5,17.3L546.9,18.5ZM885.6,18.6L897.4,19.5L948.8,17.0L948.8,15.8L885.2,15.8L884.6,17.1L885.6,18.6ZM191.1,17.1L200.6,15.8L178.0,15.8L191.1,17.1ZM463.9,17.4L477.0,18.1L491.2,15.8L457.1,15.8L463.9,17.4ZM1.3,16.9L29.5,15.8L0.0,15.8L0.0,17.0L1.3,16.9Z"/>
<path fill="#ff7373" fill-rule="evenodd" d="M797.3,334.2L802.5,334.4L813.3,326.8L822.3,317.7L822.3,314.9L820.9,313.6L818.4,313.7L809.1,322.2L796.0,327.6L794.7,330.8L797.3,334.2ZM93.6,306.2L96.2,306.2L98.0,304.4L98.0,301.8L96.2,300.0L93.6,300.0L91.7,301.8L91.7,304.4L93.6,306.2ZM818.4,239.0L822.3,239.5L825.3,237.2L825.8,233.3L823.6,230.5L819.7,229.9L817.0,231.9L816.2,235.9L818.4,239.0ZM11.9,232.4L15.8,231.9L19.1,228.0L18.6,224.0L14.5,220.8L10.5,221.4L7.3,225.3L7.9,229.3L11.9,232.4ZM801.2,221.5L805.2,221.7L805.6,218.8L792.0,212.8L788.9,213.5L789.4,216.5L801.2,221.5ZM759.1,209.6L764.3,209.7L766.1,208.2L764.3,206.7L747.5,206.9L747.3,208.2L748.5,208.8L759.1,209.6ZM242.5,199.3L246.4,200.0L248.0,199.0L249.0,196.4L248.2,193.7L243.9,188.4L241.2,186.1L233.3,183.4L229.3,184.2L228.0,187.1L229.1,189.8L237.2,193.4L242.5,199.3ZM309.7,176.7L313.6,177.9L317.8,176.6L340.0,155.3L351.9,153.6L355.8,151.7L358.2,147.6L356.9,142.3L351.9,138.9L338.7,139.4L328.1,136.6L321.5,137.4L318.9,138.8L316.9,141.0L315.5,145.0L316.8,156.8L307.7,167.4L306.6,170.0L307.2,173.9L309.7,176.7ZM703.7,168.7L716.9,169.4L725.4,168.7L731.4,167.5L732.0,166.0L730.1,163.9L716.9,164.8L699.8,164.2L699.3,167.4L703.7,168.7ZM75.1,155.7L80.4,156.3L87.0,154.8L91.4,152.9L92.2,150.2L80.4,143.9L49.8,137.1L32.9,128.6L13.2,127.1L0.0,130.4L0.0,143.4L14.5,139.4L29.0,140.2L46.1,148.4L75.1,155.7ZM744.6,153.4L747.2,153.7L749.8,152.5L757.7,142.3L773.9,130.5L775.4,126.5L773.5,122.5L770.9,121.1L767.0,121.6L759.1,125.6L749.6,134.4L740.6,146.3L740.9,150.2L744.6,153.4ZM946.2,142.8L948.8,143.4L948.8,130.6L944.9,132.0L942.5,135.7L943.1,139.7L946.2,142.8ZM599.6,109.4L603.6,108.6L614.1,98.3L615.6,96.2L615.4,93.4L612.4,90.9L586.4,81.1L582.6,81.7L581.4,84.3L582.5,87.0L602.6,96.2L602.7,97.5L597.0,105.4L597.8,108.1L599.6,109.4ZM371.6,107.4L375.6,107.9L378.7,105.4L379.3,101.5L376.9,98.1L372.9,97.5L369.6,100.2L369.2,104.1L371.6,107.4ZM2.6,105.7L10.5,104.9L21.1,96.4L22.8,92.2L21.0,88.3L17.1,85.8L13.2,85.0L9.2,85.7L5.3,88.0L2.3,93.6L0.0,94.9L0.0,105.0L2.6,105.7ZM947.5,104.1L948.8,104.8L948.8,95.2L945.0,98.8L945.1,101.5L947.5,104.1ZM19.8,54.1L47.4,50.2L77.8,49.3L137.1,53.3L141.2,51.4L142.1,48.8L141.0,45.9L137.1,44.0L79.1,40.7L47.4,41.6L18.4,45.9L16.2,50.1L17.5,52.7L19.8,54.1Z"/>
<path fill="#ff3c3c" fill-rule="evenodd" d="M797.3,333.4L801.2,334.2L803.9,332.8L806.5,328.6L813.1,324.5L820.6,316.3L819.7,315.4L818.4,316.0L811.8,322.6L807.8,325.0L797.3,327.1L795.1,330.8L797.3,333.4ZM93.6,304.7L96.5,304.4L96.2,301.5L93.3,301.8L93.6,304.7ZM819.7,239.0L822.3,239.0L825.3,235.9L825.3,233.3L822.3,230.3L819.7,230.3L816.7,233.3L817.3,237.2L819.7,239.0ZM13.2,232.0L17.1,230.3L18.6,226.7L17.1,223.0L13.2,221.3L9.2,223.0L7.7,226.7L9.2,230.2L13.2,232.0ZM803.9,221.4L805.2,220.1L803.9,218.4L792.0,213.6L790.7,213.4L789.4,214.6L790.7,216.4L803.9,221.4ZM243.8,199.3L246.8,199.0L248.3,196.4L242.5,187.9L233.3,184.1L230.2,184.5L229.0,185.8L229.3,188.8L237.2,192.5L243.8,199.3ZM312.3,176.6L317.6,175.3L340.0,153.6L351.9,152.2L354.5,150.9L356.7,146.3L355.1,142.3L351.9,140.4L338.7,140.9L328.1,138.1L321.5,138.6L318.9,140.0L317.2,142.3L316.3,146.3L317.8,158.1L308.0,170.0L308.7,173.9L312.3,176.6ZM73.8,154.5L79.1,155.4L84.3,154.7L90.2,152.9L91.4,151.5L91.2,150.2L80.4,144.9L48.8,137.7L32.9,129.7L13.2,128.2L0.0,131.6L0.0,142.3L14.5,138.3L30.3,139.3L46.1,147.2L73.8,154.5ZM743.2,151.6L745.9,152.5L748.5,151.7L757.7,141.2L772.5,130.5L774.3,127.8L773.5,123.8L770.9,122.0L768.3,122.0L757.7,127.3L742.1,145.0L741.4,148.9L743.2,151.6ZM946.2,141.5L948.8,142.3L948.8,131.7L945.4,133.1L943.8,135.7L943.8,138.4L946.2,141.5ZM372.9,107.2L376.5,106.7L378.6,104.1L378.2,100.5L375.6,98.3L371.8,98.8L369.8,101.5L370.3,105.0L372.9,107.2ZM1.3,104.8L7.9,105.1L12.6,102.8L15.8,97.7L19.8,94.5L20.3,92.2L19.3,89.6L13.5,87.0L7.9,88.6L4.6,93.6L0.0,95.6L0.0,104.4L1.3,104.8ZM947.5,103.4L948.8,104.1L948.8,96.0L946.6,97.5L945.6,100.2L947.5,103.4Z"/>
<path fill="#f70000" fill-rule="evenodd" d="M798.6,333.5L801.2,333.7L803.9,332.1L804.7,328.1L801.2,326.5L796.6,328.1L795.6,330.8L798.6,333.5ZM819.7,238.5L822.3,238.5L824.9,235.9L824.8,233.3L822.3,230.7L819.7,230.8L817.2,233.3L817.1,235.9L819.7,238.5ZM10.5,230.7L14.5,231.3L17.3,229.3L17.9,225.3L15.8,222.5L11.9,222.0L9.0,224.0L8.4,228.0L10.5,230.7ZM243.8,198.2L246.4,198.1L247.3,196.4L241.7,188.4L233.3,185.2L230.2,185.8L230.6,188.9L238.5,192.3L243.8,198.2ZM311.0,174.0L313.6,174.9L316.3,174.0L338.7,152.2L353.2,149.6L354.8,146.3L353.8,143.6L350.5,142.1L340.0,142.8L328.1,139.8L320.2,140.0L318.0,142.3L316.8,146.3L319.1,159.5L310.0,170.0L311.0,174.0ZM76.4,154.5L80.4,154.9L87.0,153.7L90.6,151.5L90.4,150.2L80.4,145.9L48.8,138.9L31.6,130.6L13.2,129.3L0.0,132.8L0.0,141.1L13.2,137.2L30.3,138.1L47.1,146.3L76.4,154.5ZM743.2,150.5L745.9,151.5L748.5,150.4L757.7,140.1L772.2,129.5L773.6,126.5L772.5,123.9L768.3,122.9L757.8,127.8L743.1,145.0L742.1,147.6L743.2,150.5ZM948.8,141.1L948.8,132.9L945.8,134.4L944.8,137.1L945.9,139.7L948.8,141.1ZM374.3,106.8L376.9,105.7L378.2,102.8L376.9,99.8L374.3,98.7L371.6,99.7L370.3,102.8L371.6,105.8L374.3,106.8ZM1.3,104.3L6.6,104.9L11.8,102.8L14.0,98.8L13.2,95.7L10.5,94.0L7.9,93.8L0.0,96.3L0.0,103.9L1.3,104.3ZM948.8,103.5L948.8,96.6L946.3,100.2L948.8,103.5Z"/>
<path fill="#e40000" fill-rule="evenodd" d="M797.3,332.5L799.9,333.3L802.5,332.7L804.4,329.5L802.5,327.3L798.6,327.3L796.2,329.5L797.3,332.5ZM818.4,237.3L821.0,238.4L823.6,237.3L824.7,234.6L823.6,231.9L821.0,230.9L818.4,232.0L817.3,234.6L818.4,237.3ZM11.9,230.9L15.0,230.6L17.4,228.0L17.1,224.7L14.5,222.4L11.3,222.7L8.9,225.3L9.2,228.6L11.9,230.9ZM321.5,158.7L324.2,157.8L328.1,151.9L332.1,151.1L334.7,149.3L336.0,147.5L336.1,145.0L333.4,143.6L328.1,144.6L324.2,140.6L319.9,141.0L317.9,143.6L317.2,148.9L318.9,155.2L321.5,158.7ZM77.8,154.2L87.0,153.3L89.9,151.5L89.7,150.2L80.4,146.8L69.8,146.6L55.3,144.3L54.1,145.0L67.2,148.5L72.8,152.9L77.8,154.2ZM745.9,150.3L759.1,137.5L770.9,129.1L772.2,127.3L772.0,125.2L769.0,123.9L758.4,127.8L756.4,132.3L751.2,137.1L743.7,146.3L743.6,148.9L745.9,150.3ZM51.4,143.7L53.9,143.6L50.4,143.6L51.4,143.7ZM1.0,138.4L13.2,134.5L24.4,134.4L22.6,133.1L13.2,132.0L0.0,135.4L0.0,138.5L1.0,138.4ZM948.8,138.5L948.8,135.5L947.4,137.1L948.8,138.5ZM372.9,105.8L375.6,105.8L377.3,104.1L377.3,101.5L375.6,99.7L372.9,99.7L371.2,101.5L371.2,104.1L372.9,105.8ZM2.6,104.3L6.6,104.5L10.5,103.2L13.0,100.2L12.7,97.5L10.5,95.6L7.9,95.0L0.0,96.8L0.0,103.4L2.6,104.3ZM948.8,103.0L948.8,97.2L946.8,100.2L948.8,103.0Z"/>
<path fill="#c80000" fill-rule="evenodd" d="M798.6,332.8L802.8,332.1L803.8,329.5L803.0,328.1L799.9,327.4L797.3,328.5L796.5,330.8L798.6,332.8ZM819.7,237.7L822.3,237.7L824.1,235.9L824.1,233.3L822.3,231.5L819.7,231.5L817.9,233.3L817.9,235.9L819.7,237.7ZM10.5,229.5L13.2,230.6L16.1,229.3L17.2,226.7L15.8,223.7L13.2,222.7L10.3,224.0L9.2,226.7L10.5,229.5ZM321.5,157.1L324.5,155.5L326.7,148.9L324.8,142.3L321.5,140.9L318.9,142.9L317.6,147.6L318.9,154.0L321.5,157.1ZM75.1,153.2L81.7,153.9L89.1,151.5L88.9,150.2L84.3,148.3L76.4,147.8L71.6,150.2L72.0,151.5L75.1,153.2ZM759.1,132.6L764.3,132.1L766.4,130.5L766.7,127.8L763.0,126.5L759.1,127.7L757.9,130.5L759.1,132.6ZM5.3,104.2L9.2,103.4L11.7,101.5L12.3,98.8L10.5,96.6L5.3,95.6L0.0,97.4L0.0,102.8L5.3,104.2ZM372.9,104.8L374.3,105.3L376.3,104.1L376.8,102.8L375.6,100.7L374.3,100.2L372.2,101.5L371.7,102.8L372.9,104.8ZM948.8,102.3L948.8,97.9L947.4,100.2L948.8,102.3Z"/>
<path fill="#a50000" fill-rule="evenodd" d="M798.6,332.4L802.5,331.7L803.3,329.5L802.5,328.5L799.9,327.7L797.3,329.1L796.9,330.8L798.6,332.4ZM819.7,237.3L822.3,237.3L823.7,235.9L823.7,233.3L822.3,231.9L819.7,231.9L818.3,233.3L818.3,235.9L819.7,237.3ZM11.9,229.7L14.5,229.7L16.2,228.0L16.2,225.3L14.5,223.6L11.9,223.6L10.1,225.3L10.1,228.0L11.9,229.7ZM321.5,156.0L324.4,154.2L325.9,148.9L324.7,143.6L321.5,141.7L318.9,143.9L318.1,147.6L318.9,152.9L321.5,156.0ZM76.4,153.1L83.0,153.4L88.4,151.5L88.1,150.2L85.0,148.9L77.8,148.2L73.0,150.2L73.2,151.5L76.4,153.1ZM761.7,132.0L765.1,130.5L765.1,127.8L761.7,127.1L759.1,128.5L759.1,131.0L761.7,132.0ZM1.3,102.9L5.3,103.7L9.2,102.9L11.0,101.5L11.5,98.8L7.9,96.3L2.6,96.8L0.0,98.1L0.0,102.2L1.3,102.9ZM948.8,101.6L948.8,98.6L948.2,100.2L948.8,101.6Z"/>
<path fill="#8c0000" fill-rule="evenodd" d="M799.9,332.3L802.8,330.8L802.7,329.5L801.2,328.2L797.5,329.5L797.4,330.8L799.9,332.3ZM821.0,237.2L823.6,234.6L821.0,232.0L818.4,234.6L821.0,237.2ZM11.9,228.7L13.2,229.2L15.3,228.0L15.8,226.7L14.5,224.6L13.2,224.1L11.1,225.3L10.6,226.7L11.9,228.7ZM321.5,155.0L324.2,153.1L325.2,148.9L324.2,144.3L321.5,142.5L319.8,143.6L318.5,147.6L318.9,151.5L321.5,155.0ZM77.8,153.0L83.0,153.0L87.4,151.5L87.1,150.2L81.7,148.6L74.4,150.2L74.4,151.5L77.8,153.0ZM760.4,130.9L763.0,130.9L764.6,129.1L763.6,127.8L760.7,127.8L759.4,129.1L760.4,130.9ZM2.6,102.9L8.2,102.8L10.2,101.5L10.7,98.8L6.6,96.7L2.1,97.5L0.0,98.8L0.0,101.4L2.6,102.9Z"/>
<path fill="#ff00ff" fill-rule="evenodd" d="M798.6,331.3L801.2,331.4L801.9,329.5L798.6,329.1L798.6,331.3ZM819.7,236.1L822.5,235.9L822.3,233.1L819.5,233.3L819.7,236.1ZM320.2,153.0L321.5,153.9L322.9,153.5L324.4,150.2L324.2,146.2L321.5,143.5L320.2,144.3L319.0,147.6L320.2,153.0ZM76.4,151.8L80.4,152.7L86.2,151.5L85.9,150.2L80.4,149.2L75.9,150.2L76.4,151.8ZM761.7,129.9L763.2,129.1L760.5,129.1L761.7,129.9ZM2.6,102.1L7.9,102.1L9.9,100.2L9.6,98.8L6.6,97.4L2.6,98.1L0.6,100.2L2.6,102.1Z"/>
<path fill="#dcdcff" fill-rule="evenodd" d="M470.5,431.0L482.7,430.9L494.0,429.6L487.3,428.3L475.7,427.9L467.1,428.3L461.9,429.6L470.5,431.0ZM369.0,227.2L372.9,227.9L376.7,226.7L373.8,225.3L370.6,225.3L368.0,226.7L369.0,227.2ZM193.7,211.0L202.2,210.8L196.4,210.0L192.6,210.8L193.7,211.0ZM226.7,208.2L231.9,208.1L235.0,205.6L232.7,202.9L233.3,197.7L232.5,195.0L229.3,192.8L225.3,192.0L221.4,193.8L219.5,197.7L223.9,206.9L226.7,208.2ZM778.8,205.6L785.8,205.6L784.2,204.3L769.6,201.5L745.9,201.2L743.9,202.9L744.6,204.0L748.5,203.0L765.6,203.2L778.8,205.6Z"/>
<path fill="#a6a6ff" fill-rule="evenodd" d="M225.3,201.8L229.3,201.3L231.7,199.0L231.7,196.4L229.3,193.9L225.3,193.3L221.4,196.4L222.4,200.3L225.3,201.8Z"/>
<path fill="#6b6bff" fill-rule="evenodd" d="M225.3,200.4L230.1,199.0L230.6,197.3L229.3,195.2L225.3,194.5L222.8,196.4L223.0,199.0L225.3,200.4Z"/>
<use href="#nodata"/>
</g>
<g clip-path="url(#mapclip)">
<use href="#land"/><use href="#lakes"/><use href="#coast"/>
</g>
<use href="#grid"/>
</g>
<g transform="translate(1099.8,787.8)">
<g clip-path="url(#dataclip)">
<rect x="0" y="0" width="948.8" height="474.4" fill="#ffffff"/>
<path fill="#ffe8e8" fill-rule="evenodd" d="M183.2,453.3L233.7,453.3L251.7,447.6L262.2,445.9L271.5,447.5L275.4,449.9L278.1,453.3L328.8,453.3L328.1,449.3L318.9,445.4L337.4,443.2L355.8,437.1L378.2,435.2L399.3,431.3L401.9,430.6L403.3,428.3L401.1,425.6L392.5,421.7L382.9,419.1L374.3,418.1L365.0,418.9L357.1,422.1L351.9,423.0L334.7,421.6L311.0,424.0L288.6,423.5L283.3,424.4L272.7,432.2L271.8,433.6L272.9,438.8L271.7,440.1L266.2,442.0L258.3,442.8L245.1,441.6L241.3,440.1L256.3,433.6L257.0,432.2L255.4,428.3L257.0,427.3L274.1,424.7L276.5,423.0L268.8,420.8L259.6,420.4L252.2,421.7L245.1,425.4L238.5,425.6L231.9,424.4L221.4,419.7L210.8,419.2L193.7,421.7L191.6,423.0L191.5,424.3L195.0,426.4L210.8,428.2L215.1,429.6L215.7,430.9L214.7,432.2L211.0,433.6L201.6,433.3L188.4,428.6L177.9,427.3L158.1,428.0L150.1,429.6L148.9,430.9L161.0,436.2L161.5,438.8L159.8,442.8L160.8,443.8L183.2,445.4L192.8,448.1L191.7,449.4L182.4,453.3L183.2,453.3ZM405.9,453.3L423.4,453.3L410.6,449.4L415.1,445.6L433.1,442.8L439.0,440.1L438.6,438.8L433.9,436.2L436.5,433.6L436.3,432.2L430.9,429.6L454.6,426.3L485.1,424.3L489.0,423.0L487.7,421.7L479.5,420.4L454.6,420.4L433.6,424.1L428.8,427.0L428.0,429.6L408.5,432.6L406.6,433.6L405.6,436.2L411.2,440.1L412.4,441.5L411.7,442.8L400.1,446.7L400.0,448.1L405.0,450.7L404.7,453.3L405.9,453.3ZM607.5,453.3L681.5,453.3L677.3,451.8L653.2,449.4L632.5,442.5L627.4,438.8L629.6,430.9L624.6,429.7L610.1,431.2L591.7,439.3L564.0,444.1L561.3,445.4L567.7,448.1L585.1,450.7L598.3,447.5L606.2,447.4L610.3,449.4L606.6,453.3L607.5,453.3ZM719.5,453.3L795.4,453.3L797.3,449.9L803.9,444.1L803.4,442.8L799.9,441.8L789.4,441.5L768.3,444.9L749.8,450.3L727.4,451.4L718.8,453.3L719.5,453.3ZM906.6,453.3L925.1,453.3L925.7,450.7L927.7,448.9L948.8,445.0L948.8,429.0L931.7,431.6L929.2,438.8L925.1,443.4L919.8,446.3L906.6,449.1L905.5,450.7L905.9,453.3L906.6,453.3ZM519.2,446.8L529.8,446.9L532.5,445.4L521.8,444.2L514.9,445.4L519.2,446.8ZM681.3,447.0L687.9,447.5L690.3,446.7L690.9,445.4L687.9,443.8L682.6,443.5L680.0,444.1L679.2,445.4L681.3,447.0ZM1.0,444.1L2.0,442.8L1.2,437.5L4.4,430.9L3.8,429.6L0.0,428.9L0.0,444.5L1.0,444.1ZM877.7,444.2L888.2,444.1L891.7,442.8L891.9,441.5L882.9,435.8L873.7,433.3L863.2,434.3L857.7,437.5L859.0,440.1L862.0,441.5L877.7,444.2ZM822.3,437.8L850.0,431.3L859.2,428.0L880.3,428.7L901.4,424.8L903.3,423.0L903.2,416.4L901.4,410.1L894.8,408.9L879.0,410.5L872.4,410.0L867.1,407.7L856.6,399.9L844.3,396.7L841.9,395.3L841.3,394.0L842.1,393.6L846.0,392.6L853.9,392.8L858.6,394.0L864.6,398.0L881.6,399.7L901.4,403.1L904.0,400.4L914.8,396.7L920.2,388.8L926.4,385.1L937.0,383.0L948.8,384.6L948.8,354.2L946.5,351.9L948.8,347.9L948.8,344.4L923.8,347.2L913.2,345.4L911.1,342.6L913.4,340.0L933.0,331.5L939.6,330.7L948.8,331.8L948.8,310.8L936.7,308.4L913.2,301.2L906.6,300.8L898.7,301.9L891.8,304.4L881.5,311.0L881.0,312.3L902.7,318.9L903.0,320.2L897.5,322.9L889.5,323.5L882.9,322.4L875.3,318.9L872.7,316.3L873.5,312.3L870.9,311.0L853.4,307.0L831.5,304.6L819.7,302.3L815.2,300.5L811.8,294.5L807.8,292.8L789.4,293.0L777.5,294.4L776.1,295.2L776.3,296.5L780.7,300.5L781.2,301.8L780.1,302.9L751.1,300.8L749.6,299.1L751.1,296.0L764.3,292.7L765.1,291.2L761.6,288.6L752.0,284.6L749.8,281.0L744.9,266.2L741.9,263.9L738.0,263.0L734.0,264.4L731.1,267.5L723.5,286.9L714.2,289.7L712.4,291.2L713.5,293.9L726.1,298.4L727.4,301.8L726.1,303.9L702.3,309.7L691.8,313.8L668.1,318.0L657.7,317.6L650.7,315.0L649.5,313.6L650.1,312.3L660.2,309.6L662.5,308.4L662.9,307.0L662.2,304.4L660.2,302.6L652.3,300.7L620.7,303.2L616.1,305.7L619.1,309.7L619.1,311.0L612.9,313.6L603.6,315.3L595.6,314.9L579.8,309.4L573.2,309.5L569.9,311.0L565.9,316.3L562.7,318.5L550.8,320.4L536.2,318.9L532.4,316.3L530.6,311.0L524.5,309.0L504.7,310.5L483.6,307.9L461.2,307.0L430.9,308.4L420.4,307.7L409.8,304.2L407.2,301.8L407.5,297.8L401.9,296.3L393.2,296.5L387.5,297.8L386.9,299.1L388.6,300.5L398.8,305.7L398.8,308.4L394.0,310.2L386.1,310.8L378.2,310.0L354.5,302.4L332.1,301.9L325.5,303.1L323.1,304.4L321.3,307.0L321.5,308.5L324.2,310.2L333.5,312.3L332.1,313.3L311.0,313.1L296.5,317.7L292.6,317.0L289.8,315.0L291.1,313.6L299.6,311.0L296.3,309.7L286.0,308.7L274.1,311.4L267.5,311.5L260.9,310.2L246.4,304.4L234.6,303.4L220.1,305.9L198.9,307.0L187.4,309.7L185.4,311.0L186.9,312.3L204.3,316.2L206.7,317.6L207.0,318.9L201.6,321.1L176.6,322.5L170.2,325.5L170.4,326.8L172.6,328.0L177.9,328.7L192.4,328.0L208.2,325.6L220.5,326.8L220.8,328.1L207.4,338.7L206.9,342.7L202.9,344.0L197.7,342.9L196.0,340.0L194.0,338.7L185.3,336.0L173.9,333.9L158.1,333.3L153.2,332.1L151.5,330.5L149.2,324.2L149.7,315.0L145.0,312.5L118.6,310.0L87.0,310.6L80.5,309.7L79.0,308.4L80.1,307.0L87.0,304.7L93.6,309.5L97.5,308.8L101.0,304.4L101.1,301.8L98.8,298.2L96.2,296.7L92.2,296.8L88.3,298.4L76.4,299.2L64.6,304.9L51.3,308.4L45.6,311.0L45.1,312.3L46.1,312.9L60.6,314.8L65.7,317.6L65.7,318.9L64.0,320.2L59.3,321.6L52.7,322.0L47.4,320.8L44.9,318.9L42.2,314.2L40.9,313.8L0.0,311.0L0.0,332.1L11.9,337.1L32.9,340.3L37.7,342.6L39.3,345.3L35.3,347.9L18.1,353.2L14.5,358.4L13.2,358.9L7.2,358.4L0.0,355.0L0.0,384.9L19.2,390.1L12.2,396.7L11.9,398.0L15.8,399.6L29.0,399.9L35.8,398.0L34.3,394.8L24.6,388.8L30.1,382.2L31.9,378.2L34.3,376.6L38.2,376.1L47.4,378.3L58.8,383.5L73.8,388.0L80.8,392.7L81.6,395.3L79.1,398.8L67.2,400.6L64.4,401.9L67.5,403.2L75.1,402.0L81.7,399.0L106.7,397.5L116.0,398.2L138.4,402.4L150.2,402.8L165.8,399.3L163.5,396.7L164.2,395.3L167.4,394.9L171.3,395.8L172.0,396.7L170.9,399.3L195.0,403.4L233.3,402.6L242.5,400.6L245.1,397.8L246.4,397.6L257.1,401.9L275.4,403.8L297.8,401.1L299.5,400.6L300.7,398.0L308.4,396.1L318.9,396.3L334.7,399.3L345.3,399.8L409.8,393.9L441.5,394.5L461.2,391.9L463.2,392.7L444.1,397.3L438.8,401.9L438.3,404.6L442.8,405.8L449.4,405.7L482.3,400.9L504.7,401.5L517.9,398.6L521.8,400.7L530.9,396.7L530.7,395.3L525.5,392.7L524.5,390.1L535.0,383.5L537.0,380.8L537.4,378.2L537.0,375.6L531.2,367.7L523.2,363.3L512.6,361.5L500.8,364.1L497.9,366.3L499.8,372.9L499.1,375.6L491.5,378.2L453.9,375.6L449.0,374.3L447.3,372.9L447.6,371.6L463.9,366.3L465.9,363.7L464.8,358.4L467.8,357.3L511.3,359.3L553.5,348.9L568.0,347.4L574.6,348.8L585.1,354.2L604.9,356.3L623.3,362.8L644.0,361.1L647.0,362.7L650.3,366.3L647.0,367.9L631.2,367.9L626.0,368.7L611.6,375.6L604.6,382.2L590.7,386.1L594.6,391.4L592.0,396.7L592.7,398.0L602.7,403.2L602.6,404.6L599.4,407.2L595.6,408.6L591.7,408.4L577.2,400.6L569.3,399.7L565.3,401.6L553.8,411.2L553.1,412.5L553.8,413.8L556.3,415.1L581.1,421.4L618.0,419.5L624.6,417.2L629.0,412.5L635.4,408.5L636.2,407.2L634.9,405.9L627.5,401.9L630.1,399.3L635.2,397.1L641.8,395.9L661.5,396.8L666.5,395.3L674.7,390.3L680.0,388.8L705.0,386.1L716.9,385.9L722.2,386.9L725.0,388.8L728.1,400.6L725.7,405.9L724.7,412.5L715.8,419.1L715.1,420.4L717.3,421.7L743.2,425.1L782.8,423.4L790.7,421.0L799.2,415.1L799.2,413.8L797.6,412.5L786.2,408.5L786.6,407.2L799.9,404.4L809.1,404.5L834.2,412.0L838.0,413.8L840.6,416.4L838.8,420.4L832.8,423.9L824.9,426.7L808.7,429.6L806.5,430.9L822.3,437.8ZM761.6,409.8L749.2,401.9L749.1,399.3L757.5,396.7L769.6,397.2L772.4,399.3L774.2,404.6L778.2,407.2L776.2,408.5L769.6,409.8L761.6,409.8ZM208.4,387.4L207.0,386.1L207.8,384.8L213.5,382.8L218.8,383.7L222.9,386.1L222.6,387.4L218.8,388.3L208.4,387.4ZM379.4,382.2L374.7,379.5L374.8,376.9L379.5,373.7L386.1,371.8L409.8,375.9L416.3,378.2L417.0,379.5L411.2,381.8L400.6,383.1L388.8,383.3L379.4,382.2ZM126.6,380.8L124.8,379.5L125.2,376.9L129.1,374.2L134.4,372.6L141.0,373.2L145.4,376.9L143.3,379.5L137.1,381.6L131.8,382.0L126.6,380.8ZM327.9,380.8L311.5,378.2L318.1,376.9L328.1,376.9L334.8,378.2L335.6,379.5L327.9,380.8ZM209.2,379.5L201.6,377.4L177.9,375.6L168.6,372.9L164.5,370.3L165.6,369.0L173.9,366.1L185.8,364.6L195.0,366.8L201.6,372.2L205.6,374.1L225.5,374.3L224.3,376.9L217.4,380.2L213.5,380.6L209.2,379.5ZM727.1,379.5L722.8,378.2L722.0,376.9L728.7,374.8L740.6,374.0L748.5,374.6L753.2,376.9L752.1,378.2L745.9,379.6L727.1,379.5ZM280.6,376.9L279.3,372.9L271.5,367.7L279.4,362.8L281.0,357.1L280.5,354.5L276.7,352.6L271.5,351.9L255.7,354.0L244.1,345.3L249.1,343.9L270.1,344.8L283.3,341.3L300.5,338.6L312.3,333.7L316.3,334.5L326.0,340.0L326.7,341.3L309.5,351.9L300.3,361.1L289.0,366.3L287.0,371.6L289.0,375.6L288.7,376.9L280.6,376.9ZM852.3,375.6L849.1,374.3L848.9,372.9L855.2,372.9L861.0,375.6L852.3,375.6ZM381.8,369.0L351.7,357.1L349.1,353.2L351.0,347.9L344.9,343.9L345.4,342.6L353.2,342.2L394.0,344.4L400.2,345.3L402.7,346.6L402.8,349.2L395.3,357.1L399.4,362.4L399.0,363.7L387.4,369.5L381.8,369.0ZM131.7,366.3L110.7,361.5L107.2,359.8L107.2,358.4L112.0,356.2L119.9,355.0L139.7,354.6L166.0,352.5L172.6,353.7L171.6,355.8L168.8,357.1L150.2,361.4L139.7,366.6L131.7,366.3ZM843.5,363.7L841.8,362.4L847.3,361.6L851.4,362.4L850.0,363.8L843.5,363.7ZM835.0,342.6L832.4,341.3L831.8,340.0L833.0,338.7L838.1,338.3L841.3,340.0L839.4,342.5L835.0,342.6ZM620.6,336.0L621.3,334.7L626.0,333.4L632.1,333.4L634.4,334.7L632.5,336.0L627.3,337.0L620.6,336.0ZM693.8,330.8L693.8,329.5L697.1,329.1L703.7,330.8L699.8,332.0L693.8,330.8ZM471.1,322.9L463.9,320.6L460.5,317.6L461.3,316.3L465.2,315.1L474.4,314.5L481.0,316.0L483.7,318.9L479.7,322.2L471.1,322.9ZM800.8,320.2L800.0,318.9L801.2,318.4L807.8,317.7L808.1,318.9L805.6,320.2L800.8,320.2ZM727.5,318.9L721.6,317.6L720.9,316.3L727.4,313.0L739.3,313.3L748.5,310.5L764.3,308.8L778.8,304.7L781.5,305.3L783.5,308.4L782.4,311.0L778.8,312.1L736.7,318.7L727.5,318.9ZM55.3,435.0L60.6,434.8L76.3,429.6L78.3,428.3L78.5,427.0L73.8,423.5L67.2,422.9L66.6,425.6L64.9,427.0L50.1,432.2L51.1,433.6L55.3,435.0ZM539.0,433.7L546.9,434.5L569.3,432.4L576.3,430.9L580.7,428.3L580.5,427.0L578.5,426.1L573.2,426.0L553.5,431.7L538.3,433.6L539.0,433.7ZM691.8,433.6L699.7,433.6L699.8,432.2L689.5,429.6L685.3,429.8L683.6,430.9L685.4,432.2L691.8,433.6ZM513.9,425.7L529.8,426.2L532.0,425.6L534.0,423.0L532.6,409.8L530.1,407.2L521.8,402.3L519.4,407.2L519.2,419.5L517.9,420.5L506.0,420.5L501.7,421.7L501.1,423.0L513.9,425.7ZM678.7,417.9L689.2,418.3L693.2,416.5L693.1,415.1L690.5,413.7L683.9,413.1L675.4,413.8L673.0,415.1L678.7,417.9ZM656.3,413.9L660.7,413.8L660.9,412.5L656.3,411.8L654.2,412.5L656.3,413.9ZM578.5,382.4L583.8,383.1L586.4,382.5L591.7,377.9L592.4,375.6L584.7,371.6L562.7,365.7L551.1,366.3L547.0,367.7L543.7,370.3L545.1,372.9L548.2,374.1L566.8,378.2L578.5,382.4ZM126.5,303.2L139.0,303.1L141.4,301.8L143.6,298.3L163.4,292.5L166.0,291.2L167.0,288.6L163.4,286.3L155.5,284.8L143.6,283.9L137.1,284.7L134.5,286.0L134.1,288.6L140.5,293.9L141.9,296.5L125.6,301.8L126.5,303.2ZM568.0,299.2L579.8,299.3L585.2,297.8L586.7,296.5L585.9,295.2L582.2,293.9L573.2,292.8L564.0,293.1L559.0,295.2L559.2,296.5L561.5,297.8L568.0,299.2ZM911.9,296.6L921.1,296.5L925.2,295.2L925.6,293.9L901.4,287.8L892.6,280.7L877.1,271.5L877.2,270.1L879.3,268.8L890.1,264.9L890.2,263.6L879.0,260.5L863.2,260.7L864.5,264.2L871.6,272.8L877.7,285.8L900.1,290.3L911.9,296.6ZM267.5,293.9L282.0,294.3L303.3,289.9L301.6,288.6L290.1,286.0L288.5,284.6L307.0,280.5L311.9,278.1L311.7,276.7L299.1,268.9L293.9,267.2L287.3,267.7L274.1,271.9L267.8,275.4L266.7,278.1L273.2,283.3L258.5,288.6L258.3,289.9L259.7,291.2L267.5,293.9ZM345.3,288.8L354.5,289.5L387.4,281.3L409.8,279.9L412.6,279.4L413.8,278.1L408.8,275.4L396.7,274.0L354.5,278.7L347.9,280.5L343.6,283.3L342.4,286.0L345.3,288.8ZM702.4,287.3L709.0,285.9L714.3,279.4L714.5,276.7L713.3,275.4L703.7,271.3L673.4,264.0L637.8,252.6L632.5,252.5L627.3,254.6L608.8,254.2L587.7,256.8L574.4,259.6L571.2,260.9L570.5,262.2L583.2,264.9L623.3,268.1L626.4,270.1L629.0,274.1L629.1,278.1L627.5,283.3L628.6,284.7L657.6,287.0L681.3,284.5L702.4,287.3ZM855.3,283.4L861.2,283.3L856.6,276.5L851.3,273.6L848.9,275.4L848.8,278.1L851.3,281.4L855.3,283.4ZM7.9,272.8L15.8,273.0L19.9,271.5L20.9,270.1L22.8,257.0L22.1,253.0L18.7,247.7L14.5,245.7L10.5,245.9L6.6,248.2L1.3,259.4L0.0,259.6L0.0,272.0L7.9,272.8ZM69.8,271.5L84.3,271.2L88.5,270.1L89.7,268.8L89.1,267.5L85.7,265.6L77.8,264.5L63.5,266.2L57.4,268.8L59.3,270.3L69.8,271.5ZM946.2,271.5L948.8,271.9L948.8,259.2L942.2,258.3L933.0,258.8L929.0,260.4L924.8,264.9L926.5,267.5L929.9,268.8L946.2,271.5ZM258.3,266.2L270.1,265.8L275.1,264.9L276.8,263.6L273.2,262.2L260.9,260.7L251.8,260.9L247.2,262.2L247.0,263.6L249.8,264.9L258.3,266.2ZM760.4,266.5L764.8,266.2L759.4,266.2L760.4,266.5ZM819.7,266.3L830.2,264.9L846.0,265.0L846.6,263.6L844.7,260.7L842.2,259.6L830.2,259.8L823.7,260.9L821.5,262.2L818.5,266.2L819.7,266.3ZM719.5,254.4L728.7,254.7L738.0,253.5L744.9,250.4L746.4,247.7L744.6,246.0L739.3,245.5L718.2,248.4L713.4,250.4L713.0,251.7L714.5,253.0L719.5,254.4ZM121.2,253.0L127.9,251.7L130.5,249.5L130.8,247.7L125.5,243.8L117.3,241.6L105.4,241.6L101.9,242.5L101.1,243.8L103.0,246.4L108.9,250.4L121.2,253.0ZM345.3,249.1L361.1,249.6L371.4,247.7L372.6,246.4L371.6,243.9L364.8,238.5L375.4,233.3L373.4,231.9L361.1,229.5L343.9,229.0L318.9,230.5L315.9,231.9L313.8,234.6L313.6,236.2L316.3,237.0L332.1,236.8L345.3,239.0L346.8,239.8L340.9,246.4L345.3,249.1ZM705.0,240.0L711.6,240.8L734.0,238.0L739.3,236.4L740.4,234.6L736.7,232.5L730.1,231.2L711.6,231.4L702.0,234.6L701.7,237.2L705.0,240.0ZM818.4,239.9L822.3,240.7L826.9,237.2L826.8,231.9L823.6,228.6L818.4,228.5L815.3,231.9L814.9,235.9L818.4,239.9ZM855.3,234.7L868.4,234.9L871.1,234.6L871.9,233.3L859.2,231.9L851.7,233.3L855.3,234.7ZM9.2,233.6L15.8,234.3L19.3,231.9L20.7,226.7L19.0,222.7L17.1,221.0L13.2,219.8L10.5,220.4L6.8,224.0L5.9,229.3L9.2,233.6ZM51.4,223.2L56.6,222.7L71.2,218.2L90.9,215.1L95.8,212.2L96.4,209.5L90.9,204.1L87.0,203.4L75.1,210.3L53.2,216.1L49.7,220.1L50.1,222.4L51.4,223.2ZM801.2,223.4L805.2,223.8L806.4,221.4L803.9,219.1L790.7,214.7L788.2,214.8L786.4,216.1L786.2,217.4L788.0,218.5L801.2,223.4ZM778.8,216.3L783.4,216.1L777.5,213.0L776.9,214.8L778.8,216.3ZM911.9,216.2L916.6,216.1L915.7,214.8L911.3,214.8L910.9,216.1L911.9,216.2ZM763.0,212.3L767.0,211.6L769.1,208.2L768.6,205.6L765.6,203.1L748.5,202.1L745.9,203.2L744.1,205.6L744.9,209.5L747.2,211.3L763.0,212.3ZM875.0,205.6L882.9,205.1L888.4,202.9L891.0,200.3L888.2,198.9L880.3,198.2L873.7,198.8L870.3,200.3L870.3,202.9L875.0,205.6ZM807.8,204.5L815.9,204.3L819.2,199.0L831.9,196.4L833.8,195.0L831.5,193.6L824.9,193.6L821.0,195.0L817.0,198.4L802.7,201.6L807.8,204.5ZM239.8,203.1L254.3,202.2L258.0,200.3L257.9,199.0L251.7,196.0L250.3,192.4L242.5,184.5L233.3,180.7L228.0,180.3L225.6,179.2L225.3,177.9L245.1,172.7L255.7,166.8L260.9,165.1L268.8,164.4L286.0,165.4L291.2,164.9L292.3,163.4L291.7,160.8L293.1,159.5L300.5,157.0L311.0,155.7L312.1,156.8L303.9,167.4L302.5,173.9L293.9,182.6L289.9,183.6L280.7,181.9L275.4,182.4L265.6,188.4L256.0,192.4L259.6,194.5L267.5,195.6L289.9,194.1L301.8,199.2L315.0,199.9L320.7,197.7L331.6,189.8L324.9,177.9L325.4,175.3L329.5,172.4L361.1,171.1L384.8,175.0L398.0,175.1L409.9,172.6L420.4,166.3L425.6,164.4L450.7,161.1L463.1,162.1L477.0,168.1L490.2,170.2L535.0,165.0L554.2,168.7L577.2,169.0L606.2,172.1L633.9,170.9L644.4,173.4L651.0,173.9L691.8,172.4L699.8,173.1L711.6,177.0L751.1,171.6L764.3,175.1L787.5,179.2L788.0,180.5L783.9,187.1L786.7,188.1L797.3,187.0L805.2,184.8L816.6,176.6L816.3,175.3L812.6,172.6L795.1,166.0L795.4,164.7L797.3,164.0L803.9,162.7L815.5,163.4L824.9,169.9L839.4,173.5L850.0,173.1L863.2,170.2L877.7,169.7L884.2,170.3L895.5,173.9L906.6,175.8L933.0,174.9L948.8,175.8L948.8,15.8L692.9,15.8L680.0,18.1L666.2,15.8L66.0,15.8L60.6,16.6L56.7,15.8L0.0,15.8L0.0,175.8L6.6,174.9L30.3,167.7L43.5,166.3L55.3,166.5L72.5,170.6L88.3,173.0L90.2,173.9L81.1,180.5L81.0,181.9L82.5,183.2L92.2,186.2L105.4,186.6L114.6,185.3L121.1,183.2L122.1,181.9L121.6,180.5L116.0,175.3L118.6,174.1L126.5,173.9L139.7,175.5L150.2,174.9L162.2,171.3L179.2,168.7L181.8,167.4L185.2,162.1L187.2,160.8L192.4,159.5L199.0,159.6L208.8,162.1L211.1,163.4L211.3,164.7L205.6,170.3L196.0,173.9L194.9,175.3L196.8,176.6L205.6,178.2L207.2,179.2L207.2,181.9L209.2,183.2L216.1,185.2L224.0,185.7L227.7,189.8L234.6,190.5L237.3,193.7L237.5,196.4L229.9,199.0L229.7,200.3L232.0,201.6L239.8,203.1ZM420.8,148.9L415.5,147.6L416.3,146.3L419.6,145.0L432.2,143.3L444.1,143.7L457.1,146.3L456.6,147.6L449.4,149.0L420.8,148.9ZM484.5,145.0L481.4,143.6L487.7,143.6L486.3,145.0L484.5,145.0ZM649.6,126.5L650.8,122.6L653.6,120.8L660.2,121.0L663.7,122.6L663.6,123.9L662.0,125.2L657.6,127.0L652.3,127.8L649.6,126.5ZM239.3,105.4L235.1,104.1L234.0,102.8L236.2,101.5L243.8,100.7L250.4,101.5L252.9,102.8L253.0,104.1L250.1,105.4L239.3,105.4ZM144.8,80.4L143.9,79.1L145.4,77.8L154.2,76.1L163.4,76.5L170.1,77.8L172.2,79.1L168.6,80.4L156.8,81.6L144.8,80.4ZM252.9,68.5L248.1,67.2L247.8,65.9L258.3,65.2L261.8,65.9L262.7,67.2L259.6,68.7L252.9,68.5ZM196.9,52.7L194.8,51.4L201.6,50.7L205.0,51.4L205.2,52.7L196.9,52.7ZM616.4,42.2L611.1,40.9L611.6,39.5L619.4,38.4L647.0,38.5L668.7,40.9L670.9,42.2L660.2,43.2L616.4,42.2ZM3.2,39.5L2.5,38.2L5.3,36.3L9.2,35.9L11.2,36.9L5.3,39.7L3.2,39.5ZM449.1,35.6L449.5,32.9L454.6,31.3L461.2,31.8L464.0,32.9L464.3,34.3L462.2,35.6L456.0,36.7L449.1,35.6ZM821.6,29.0L820.3,27.7L826.9,25.0L835.5,24.2L840.0,25.0L835.5,27.7L830.4,29.0L821.6,29.0ZM505.3,26.4L500.6,25.0L500.3,23.7L504.7,23.0L511.3,23.5L516.1,25.0L516.2,26.4L505.3,26.4ZM427.0,196.4L446.7,196.5L451.8,195.0L452.0,193.7L444.0,187.1L440.1,185.9L434.9,185.9L429.1,187.1L424.3,189.8L422.9,193.7L423.6,195.0L427.0,196.4ZM38.2,195.7L39.5,196.3L64.0,193.7L62.6,192.4L58.0,191.3L51.4,191.0L38.0,195.0L38.2,195.7ZM583.8,195.1L587.7,195.9L590.1,193.7L584.0,188.4L583.3,183.2L579.8,181.4L569.3,181.0L546.4,184.5L544.9,185.8L573.2,189.0L579.8,191.4L583.8,195.1ZM138.4,194.2L141.6,193.7L137.6,193.7L138.4,194.2ZM531.1,183.2L541.6,182.9L543.7,180.5L544.3,177.3L539.0,175.1L524.5,174.5L513.9,175.5L509.5,177.9L510.3,179.2L513.9,180.9L531.1,183.2Z"/>
<path fill="#ffaaaa" fill-rule="evenodd" d="M425.6,353.5L432.2,354.3L435.1,353.2L435.0,351.9L432.2,350.4L427.0,350.0L424.2,351.9L425.6,353.5ZM875.0,342.9L885.6,343.6L889.5,342.6L892.2,340.0L888.2,338.1L880.3,338.4L875.3,340.0L874.0,341.3L875.0,342.9ZM798.6,335.1L803.9,334.3L814.4,327.7L823.6,317.6L823.9,315.0L822.3,312.4L818.4,311.6L809.1,320.8L796.0,326.9L794.0,330.8L796.0,333.8L798.6,335.1ZM100.2,328.1L113.0,328.1L118.5,326.8L119.8,325.5L118.6,323.9L112.9,321.5L100.2,320.1L96.7,321.5L95.3,325.5L96.0,326.8L100.2,328.1ZM93.6,307.4L96.2,307.3L99.2,304.4L99.2,301.8L96.2,298.7L92.7,299.1L90.4,301.8L90.5,304.4L93.6,307.4ZM736.7,301.0L738.0,301.5L740.6,300.0L744.6,294.6L746.0,289.9L740.2,272.8L738.0,270.4L735.3,269.8L732.7,271.1L731.3,274.1L732.5,279.4L730.0,291.2L731.4,295.2L736.7,301.0ZM11.9,267.9L14.5,267.8L17.1,265.9L20.0,258.3L17.9,251.7L13.2,249.1L8.3,251.7L6.1,258.3L7.9,264.8L11.9,267.9ZM818.4,239.2L822.3,239.7L825.7,237.2L826.2,233.3L823.6,229.8L819.7,229.4L816.3,231.9L815.9,235.9L818.4,239.2ZM10.5,232.8L15.8,232.8L19.2,229.3L18.9,224.0L15.8,221.1L11.9,220.7L7.6,224.0L7.2,229.3L10.5,232.8ZM803.9,222.9L805.5,221.4L803.9,219.8L790.7,215.4L788.5,216.1L790.7,218.1L803.9,222.9ZM763.0,210.9L765.6,210.5L767.5,208.2L765.6,204.8L748.5,203.7L745.7,205.6L745.7,208.2L747.2,209.7L763.0,210.9ZM242.5,203.0L251.7,202.1L255.6,200.3L255.1,199.0L249.9,196.4L248.1,192.4L242.5,185.9L233.3,182.4L229.3,182.9L227.1,185.8L227.5,188.4L234.6,190.1L237.1,192.4L239.0,196.4L231.6,199.0L231.0,200.3L233.4,201.6L242.5,203.0ZM312.3,179.3L316.3,179.0L318.9,177.5L341.3,156.2L353.2,154.9L359.8,152.0L369.0,151.3L376.9,147.8L381.3,142.3L381.5,138.4L379.8,133.1L380.8,131.9L408.5,123.3L444.0,117.3L446.6,114.6L446.3,112.0L444.1,109.4L441.5,109.2L408.5,113.5L396.7,116.0L379.5,121.2L376.4,123.9L374.5,127.8L366.3,126.5L357.1,127.5L347.9,131.0L342.8,135.7L341.3,136.0L339.6,135.7L340.8,133.1L340.3,131.8L337.4,130.4L317.6,128.5L299.1,123.7L293.9,123.7L289.9,124.8L288.6,127.8L291.0,130.5L293.9,131.8L311.0,133.2L315.1,134.4L315.5,135.7L313.0,143.6L316.3,153.3L316.3,156.5L307.3,166.0L305.6,170.0L307.0,176.0L312.3,179.3ZM716.9,171.3L731.4,169.7L733.8,167.4L734.0,164.7L732.7,162.8L730.1,161.9L716.9,163.2L701.1,162.0L698.4,162.8L697.0,164.7L697.0,167.4L699.8,170.0L716.9,171.3ZM749.8,164.9L756.4,165.2L759.5,163.4L761.6,160.8L762.2,158.1L760.7,154.2L754.7,148.9L760.4,142.8L767.8,142.3L797.3,135.0L831.5,131.8L836.5,129.1L837.5,127.8L837.5,125.2L834.2,120.6L828.9,119.0L778.8,128.8L777.5,128.6L776.4,123.9L773.5,120.5L769.6,119.3L765.6,120.5L757.7,125.4L744.8,138.4L739.6,145.0L739.6,150.2L741.9,153.3L745.3,155.5L745.4,160.8L749.8,164.9ZM662.9,158.4L668.1,158.9L673.2,158.1L673.0,156.8L668.1,156.3L664.1,156.8L662.2,158.1L662.9,158.4ZM77.8,157.0L92.2,154.8L96.1,151.5L96.1,148.9L90.9,145.4L64.2,138.4L34.3,127.2L13.2,125.8L0.0,128.5L0.0,144.5L14.5,140.6L29.0,141.9L46.1,149.4L77.8,157.0ZM143.6,157.1L147.6,157.8L151.5,156.8L147.6,156.1L143.6,157.1ZM796.0,154.4L802.4,154.2L801.8,152.9L798.6,152.6L796.8,152.9L796.0,154.4ZM633.9,145.0L637.1,145.0L639.5,143.6L635.2,142.1L632.6,142.3L630.9,143.6L633.9,145.0ZM946.2,144.1L948.8,144.5L948.8,128.7L943.5,130.7L941.1,134.4L941.4,139.7L943.3,142.3L946.2,144.1ZM702.4,142.5L707.9,142.3L712.2,139.7L711.1,138.4L706.3,137.8L700.1,138.4L697.9,139.7L698.5,141.0L702.4,142.5ZM933.0,120.0L939.6,118.6L945.2,113.3L946.6,106.7L948.8,106.2L948.8,93.8L943.5,95.8L939.6,92.9L934.3,92.3L929.0,94.5L926.4,97.5L924.9,104.1L925.6,112.0L928.0,117.3L933.0,120.0ZM304.4,113.4L311.0,112.1L311.5,110.7L305.7,109.8L300.2,110.7L299.7,112.0L304.4,113.4ZM599.6,111.1L604.9,110.0L611.9,104.1L617.4,96.2L616.5,90.9L612.8,87.7L606.2,85.0L586.4,78.4L582.5,78.8L580.4,80.4L579.3,83.0L579.4,85.7L581.1,89.0L599.8,97.5L594.5,102.8L593.7,105.4L596.4,109.4L599.6,111.1ZM372.9,109.8L378.2,108.8L380.8,105.4L380.5,100.2L376.9,96.6L371.6,96.7L368.1,100.2L367.6,104.1L368.4,106.7L372.9,109.8ZM548.2,108.1L565.3,108.3L578.1,105.4L579.9,104.1L574.8,102.8L545.6,100.6L531.1,97.3L523.5,97.5L524.7,98.8L536.3,102.0L544.0,106.7L548.2,108.1ZM4.0,106.7L10.5,106.1L22.8,98.8L27.0,93.6L26.3,89.6L21.1,85.1L15.8,83.2L9.2,83.3L4.0,85.8L1.7,88.3L0.0,93.0L0.0,106.3L4.0,106.7ZM166.0,104.3L179.2,105.3L184.5,104.4L187.1,102.8L186.5,101.5L183.8,100.2L171.3,97.5L163.4,97.1L159.5,98.8L159.8,101.5L166.0,104.3ZM732.7,89.7L769.6,90.4L774.9,88.5L775.6,85.7L772.2,82.1L761.7,77.3L752.5,75.3L743.2,75.2L737.8,76.4L734.7,79.1L730.2,87.0L730.1,88.3L732.7,89.7ZM615.4,83.3L628.6,83.0L631.4,81.7L631.7,77.8L629.7,75.1L623.8,72.5L618.0,71.8L612.8,72.7L607.3,76.4L607.0,79.1L610.1,81.5L615.4,83.3ZM212.2,77.8L219.3,77.8L223.2,76.4L223.9,75.1L220.1,73.4L213.5,73.6L209.5,76.0L212.2,77.8ZM810.4,73.8L811.9,73.8L811.9,72.5L806.5,71.8L802.4,72.5L810.4,73.8ZM96.2,68.6L101.4,68.5L103.6,67.2L97.8,64.6L79.1,60.6L72.5,60.5L69.2,61.9L69.0,63.3L70.6,64.6L74.7,65.9L96.2,68.6ZM430.9,68.6L436.6,68.5L441.1,67.2L440.5,65.9L434.9,64.4L429.3,64.6L426.1,65.9L426.0,67.2L430.9,68.6ZM876.3,68.7L885.6,69.2L893.5,68.3L899.7,65.9L901.2,63.3L899.4,60.6L896.8,59.3L886.9,57.1L876.3,57.0L869.8,59.3L867.6,61.9L867.9,64.6L871.0,67.2L876.3,68.7ZM122.6,56.8L137.1,57.6L148.9,55.9L154.0,51.4L153.1,44.8L150.2,40.2L146.3,38.2L104.1,36.0L55.3,30.1L44.1,31.6L36.5,35.6L27.7,38.5L10.5,41.4L7.3,43.5L5.3,47.4L6.5,51.4L9.2,53.8L19.8,56.0L40.9,53.8L61.9,53.6L80.4,52.2L106.4,54.0L122.6,56.8ZM486.3,42.4L499.1,42.2L502.5,40.9L502.6,39.5L498.1,36.3L492.9,35.7L484.0,39.5L483.2,40.9L486.3,42.4ZM349.2,33.0L359.8,33.2L363.4,31.6L353.2,29.7L346.0,30.3L345.9,31.6L349.2,33.0ZM409.8,30.5L417.7,31.5L420.4,30.5L421.1,29.0L418.7,26.4L411.5,22.4L433.3,15.8L382.4,15.8L407.2,22.4L403.8,27.7L409.8,30.5ZM342.6,21.3L347.9,21.8L355.8,20.7L364.1,18.4L369.0,15.8L277.2,15.8L286.0,17.2L326.8,18.7L342.6,21.3ZM769.6,19.9L782.8,19.5L793.7,15.8L736.3,15.8L738.0,17.3L741.9,18.3L769.6,19.9ZM453.3,17.3L463.9,17.7L471.5,15.8L447.2,15.8L453.3,17.3ZM531.1,17.2L550.8,17.9L564.5,15.8L528.7,15.8L531.1,17.2ZM29.0,15.9L33.2,15.8L29.0,15.9ZM901.4,15.9L917.8,15.8L900.7,15.8L901.4,15.9Z"/>
<path fill="#ff7373" fill-rule="evenodd" d="M797.3,333.8L802.5,334.1L813.6,326.8L822.3,317.8L822.3,314.4L821.0,313.2L818.4,313.2L809.1,322.0L796.0,327.7L794.8,330.8L797.3,333.8ZM93.6,306.2L96.2,306.2L98.0,304.4L98.0,301.8L96.2,299.9L93.6,299.9L91.6,301.8L91.7,304.4L93.6,306.2ZM734.0,275.4L736.7,275.7L736.7,272.9L734.7,272.8L734.0,275.4ZM11.9,260.5L13.2,260.8L14.6,259.6L14.5,255.7L11.9,255.5L11.0,257.0L11.9,260.5ZM819.7,239.2L823.6,238.6L825.7,235.9L825.0,231.9L822.3,229.8L818.4,230.5L816.3,233.3L817.0,237.2L819.7,239.2ZM11.9,232.5L15.8,231.9L18.9,228.0L18.2,224.0L14.5,221.2L10.5,221.8L7.7,225.3L8.0,229.3L11.9,232.5ZM802.5,221.7L804.3,221.4L798.6,219.1L798.4,220.1L802.5,221.7ZM796.0,219.0L798.5,218.8L795.0,218.8L796.0,219.0ZM792.0,217.5L794.7,217.4L792.0,217.5ZM755.1,209.5L764.3,209.9L765.6,209.3L766.3,206.9L763.0,205.3L749.8,204.7L746.9,205.6L747.2,208.5L755.1,209.5ZM235.9,201.8L245.1,202.6L251.8,201.6L253.9,200.3L249.1,196.6L247.9,193.7L242.5,186.9L233.3,183.3L230.6,183.3L228.1,185.8L228.5,188.4L235.9,190.5L240.3,196.4L233.1,199.0L232.3,200.3L235.9,201.8ZM313.6,176.7L317.6,175.9L321.5,173.2L341.3,154.7L353.2,153.4L359.8,149.7L367.7,149.1L374.3,146.4L378.0,141.0L376.6,135.7L370.3,130.9L362.4,129.8L354.6,131.8L348.2,137.1L343.9,138.7L338.7,139.0L326.8,135.9L318.9,138.1L316.3,141.0L315.2,145.0L317.4,156.8L308.4,166.6L306.9,170.0L308.4,174.3L313.6,176.7ZM715.6,170.1L730.1,168.8L732.3,167.4L732.7,165.8L730.1,163.3L716.9,164.5L701.1,163.3L698.3,166.0L701.1,168.9L715.6,170.1ZM752.5,160.8L756.4,159.6L756.1,156.8L753.8,155.7L751.1,156.7L750.8,159.5L752.5,160.8ZM76.4,155.7L80.4,156.2L89.6,154.7L93.5,152.9L95.2,150.2L93.6,147.8L90.9,146.4L50.1,136.1L32.9,128.2L13.2,126.9L0.0,130.2L0.0,143.3L14.5,139.4L29.0,140.6L46.1,148.3L76.4,155.7ZM744.6,153.4L747.2,153.7L749.8,152.7L763.0,137.0L773.5,130.4L775.6,126.5L773.5,122.1L770.9,120.7L767.0,121.3L759.1,125.5L749.7,134.4L740.3,146.3L740.8,150.2L744.6,153.4ZM946.2,142.7L948.8,143.3L948.8,130.4L944.9,131.9L942.5,135.7L943.1,139.7L946.2,142.7ZM934.3,113.5L937.0,113.5L939.6,112.0L941.5,108.1L940.9,102.9L939.6,100.2L935.6,97.9L931.7,99.7L929.7,105.4L930.8,110.7L934.3,113.5ZM600.9,109.5L605.9,106.7L614.6,97.5L615.6,94.9L614.8,92.2L607.3,88.3L586.4,80.4L582.5,81.2L581.1,84.3L582.5,87.5L602.5,96.2L602.6,97.5L597.4,102.8L596.4,105.4L597.6,108.1L600.9,109.5ZM372.9,108.4L376.9,107.9L379.9,104.1L379.2,100.2L375.6,97.4L371.6,97.9L368.8,101.5L369.2,105.4L372.9,108.4ZM2.6,105.8L10.5,105.0L21.1,97.5L24.0,92.2L22.2,88.3L18.4,85.7L14.5,84.7L9.2,85.1L5.3,87.3L2.2,93.6L0.0,95.0L0.0,105.1L2.6,105.8ZM947.5,104.5L948.8,105.0L948.8,95.3L945.3,97.5L943.7,100.2L944.8,102.8L947.5,104.5ZM19.8,54.2L47.4,51.1L79.1,50.1L137.1,54.1L141.2,52.7L146.0,48.8L142.9,44.8L138.4,42.6L79.1,38.5L65.9,38.7L46.1,40.2L18.8,44.8L15.4,47.4L15.0,50.1L16.9,52.7L19.8,54.2Z"/>
<path fill="#ff3c3c" fill-rule="evenodd" d="M798.6,333.8L802.5,333.4L806.5,329.4L813.3,325.5L821.1,317.6L821.2,315.0L818.4,314.7L809.1,323.3L797.3,327.2L795.3,330.8L798.6,333.8ZM93.6,304.7L96.5,304.4L96.2,301.4L93.2,301.8L93.6,304.7ZM819.7,238.8L822.3,238.8L825.3,235.9L825.3,233.3L822.3,230.3L819.7,230.3L816.8,233.3L816.8,235.9L819.7,238.8ZM13.2,232.0L17.1,230.3L18.4,226.7L17.1,223.4L13.2,221.6L9.2,223.4L8.0,226.7L9.6,230.6L13.2,232.0ZM748.5,206.9L761.3,206.9L748.5,206.9ZM237.2,201.7L243.8,202.5L252.2,200.3L248.7,197.7L241.5,187.1L233.3,184.1L230.6,184.1L229.0,185.8L229.3,188.1L235.9,190.0L241.7,196.4L233.8,200.3L237.2,201.7ZM312.3,174.0L316.3,174.2L320.2,172.6L340.0,153.9L353.2,152.1L359.8,147.3L366.3,146.8L371.2,145.0L374.3,141.0L373.4,137.1L369.0,133.6L362.4,132.6L358.4,133.4L350.2,138.4L343.9,140.2L338.7,140.4L328.1,137.4L320.2,138.6L317.6,141.0L316.2,145.0L317.9,158.1L308.4,168.7L308.4,171.4L312.3,174.0ZM707.7,167.4L722.8,167.4L700.8,166.0L707.7,167.4ZM724.8,166.5L730.2,166.0L723.8,166.0L724.8,166.5ZM79.1,155.5L90.9,153.7L94.3,150.2L92.2,147.7L89.6,146.6L50.1,137.2L32.9,129.1L13.2,127.7L0.0,131.2L0.0,142.4L13.2,138.7L29.0,139.6L46.1,147.4L79.1,155.5ZM743.2,151.9L745.9,152.7L748.5,152.1L758.3,141.0L761.7,135.5L773.4,129.1L774.7,126.5L773.5,123.3L770.9,121.6L768.3,121.6L757.7,127.2L741.6,145.0L741.1,148.9L743.2,151.9ZM948.8,142.4L948.8,131.4L944.9,133.3L943.4,137.1L944.9,140.6L948.8,142.4ZM371.6,107.1L375.6,107.7L378.6,105.4L379.1,101.5L376.9,98.6L372.9,98.0L370.1,100.2L369.4,104.1L371.6,107.1ZM1.3,104.9L6.6,105.4L11.9,103.6L15.8,98.9L21.1,94.9L21.9,92.2L21.0,89.6L18.4,87.4L14.5,86.2L10.5,86.4L6.7,88.3L4.0,93.6L0.0,95.7L0.0,104.5L1.3,104.9ZM948.8,104.2L948.8,96.0L946.5,97.5L945.2,100.2L946.4,102.8L948.8,104.2Z"/>
<path fill="#f70000" fill-rule="evenodd" d="M799.9,333.6L802.5,333.0L804.8,330.8L805.2,328.1L803.9,326.9L798.6,327.0L795.9,329.5L796.5,332.1L799.9,333.6ZM821.0,238.6L824.1,237.2L825.1,234.6L823.6,231.5L821.0,230.5L818.4,231.5L816.9,234.6L817.9,237.2L821.0,238.6ZM10.5,230.8L14.5,231.4L17.3,229.3L17.8,225.3L15.8,222.8L11.9,222.2L9.3,224.0L8.5,228.0L10.5,230.8ZM238.5,201.7L243.8,202.2L250.2,200.3L246.4,197.0L243.8,196.7L235.7,200.3L238.5,201.7ZM242.5,194.1L244.9,193.7L241.2,188.1L233.3,185.1L230.2,185.8L230.6,187.7L235.9,189.1L242.5,194.1ZM312.3,171.4L317.6,171.7L321.5,170.0L340.0,152.4L354.0,150.2L356.7,146.3L356.3,142.3L351.9,140.3L340.0,141.8L328.1,138.8L320.2,139.6L317.7,142.3L316.7,146.3L319.0,158.1L310.1,168.7L310.0,170.0L312.3,171.4ZM75.1,154.4L80.4,155.2L88.3,154.0L92.2,152.4L93.6,150.2L89.6,147.0L48.8,137.8L32.9,130.1L13.2,128.6L0.0,132.2L0.0,141.5L13.2,137.7L30.3,138.9L46.1,146.5L75.1,154.4ZM744.6,151.7L747.2,151.7L749.8,149.7L758.2,139.7L760.4,134.3L772.2,129.1L773.9,126.5L773.1,123.9L770.9,122.3L768.3,122.3L757.8,127.8L741.9,146.0L741.9,149.2L744.6,151.7ZM947.5,141.3L948.8,141.5L948.8,132.4L946.2,133.3L944.5,135.7L944.9,139.1L947.5,141.3ZM372.9,107.1L376.3,106.7L378.5,104.1L378.2,100.9L375.6,98.6L372.4,98.8L370.0,101.5L370.3,104.7L372.9,107.1ZM1.3,104.4L6.6,104.9L12.0,102.8L14.8,97.5L18.8,93.6L18.4,90.5L14.7,88.3L11.7,88.3L8.9,89.6L6.3,93.6L0.0,96.3L0.0,103.9L1.3,104.4ZM947.5,102.9L948.8,103.6L948.8,96.6L946.0,100.2L947.5,102.9Z"/>
<path fill="#e40000" fill-rule="evenodd" d="M797.3,332.4L799.9,333.2L802.5,332.6L804.3,330.8L804.0,328.1L801.2,326.9L797.3,328.0L796.2,330.8L797.3,332.4ZM819.7,238.0L822.3,238.0L824.4,235.9L824.4,233.3L822.3,231.1L819.7,231.1L817.6,233.3L817.6,235.9L819.7,238.0ZM11.9,230.9L15.1,230.6L17.4,228.0L17.1,225.0L14.5,222.6L11.7,222.7L9.1,225.3L9.2,228.5L11.9,230.9ZM239.8,201.7L245.1,201.8L247.9,200.3L246.4,198.4L242.5,197.9L237.5,200.3L239.8,201.7ZM317.6,167.5L320.2,167.2L338.7,150.4L350.5,148.3L351.5,147.6L350.8,146.3L347.9,144.6L341.3,144.2L329.5,140.8L322.9,139.7L320.2,140.4L317.8,143.6L317.1,147.6L320.9,160.8L316.8,166.0L317.6,167.5ZM76.4,154.3L80.4,154.8L88.3,153.7L92.2,151.8L92.9,150.2L92.2,148.9L88.3,147.1L69.8,144.4L48.8,139.0L31.6,131.0L13.2,129.8L0.0,133.5L0.0,140.3L13.2,136.5L30.3,137.7L46.1,145.3L67.2,150.4L76.4,154.3ZM744.6,150.8L748.1,150.2L753.8,143.9L757.0,139.7L759.8,133.1L772.2,127.9L773.0,126.5L772.0,123.9L768.3,123.2L758.3,127.8L756.4,131.4L743.2,145.3L742.7,148.9L744.6,150.8ZM947.5,140.0L948.8,140.3L948.8,133.6L945.8,135.7L945.8,138.4L947.5,140.0ZM371.6,105.7L374.3,106.7L377.1,105.4L378.2,102.8L376.9,100.0L374.3,98.9L371.4,100.2L370.4,102.8L371.6,105.7ZM2.6,104.3L7.9,104.3L11.2,102.8L13.4,98.8L12.4,96.2L7.9,94.5L0.0,96.8L0.0,103.4L2.6,104.3ZM948.8,103.1L948.8,97.2L946.7,100.2L948.8,103.1Z"/>
<path fill="#c80000" fill-rule="evenodd" d="M798.6,332.7L802.7,332.1L804.0,329.5L803.2,328.1L799.9,327.3L797.3,328.6L796.6,330.8L798.6,332.7ZM819.7,237.6L822.3,237.6L824.1,235.9L824.1,233.3L822.3,231.5L819.7,231.5L817.9,233.3L817.9,235.9L819.7,237.6ZM10.5,229.5L13.2,230.6L16.0,229.3L17.0,226.7L15.8,223.9L13.2,222.9L10.5,224.0L9.4,226.7L10.5,229.5ZM241.2,201.7L244.3,201.6L246.5,200.3L245.1,198.6L241.2,198.6L238.6,200.3L241.2,201.7ZM321.5,157.5L324.2,156.6L328.1,149.3L332.1,149.2L334.2,146.3L332.1,145.3L328.1,147.6L325.8,142.3L322.9,140.6L319.1,142.3L317.6,146.3L318.6,152.9L321.5,157.5ZM77.8,154.2L88.3,153.4L91.9,151.5L92.3,150.2L88.7,147.6L80.4,145.9L72.5,146.6L69.8,148.2L69.6,150.2L70.8,151.5L77.8,154.2ZM744.6,149.3L747.2,149.3L753.8,142.1L756.0,138.4L756.4,134.2L752.5,136.5L744.6,145.6L743.7,147.6L744.6,149.3ZM759.1,132.3L764.3,131.2L770.9,127.1L771.4,125.2L769.6,124.2L760.4,126.9L757.7,130.5L757.8,131.8L759.1,132.3ZM372.9,105.8L375.6,105.8L377.3,104.1L377.2,101.5L375.6,99.8L372.9,99.8L371.3,101.5L371.2,104.1L372.9,105.8ZM4.0,104.1L10.5,102.7L12.5,100.2L11.9,97.3L6.6,95.4L0.0,97.4L0.0,102.9L4.0,104.1ZM948.8,102.4L948.8,97.9L947.3,100.2L948.8,102.4Z"/>
<path fill="#a50000" fill-rule="evenodd" d="M798.6,332.3L802.5,331.7L803.4,329.5L802.5,328.3L799.9,327.7L797.3,329.1L797.0,330.8L798.6,332.3ZM819.7,237.2L822.3,237.3L823.7,235.9L823.7,233.3L822.3,231.9L819.7,231.9L818.3,233.3L818.3,235.9L819.7,237.2ZM11.9,229.7L14.5,229.7L16.2,228.0L16.1,225.3L14.5,223.8L11.9,223.8L10.3,225.3L10.2,228.0L11.9,229.7ZM239.8,200.5L242.5,201.3L245.5,200.3L242.5,198.8L239.8,200.5ZM321.5,156.2L324.2,154.9L326.3,148.9L325.1,143.6L321.5,141.4L318.9,143.6L318.0,147.6L318.9,152.6L321.5,156.2ZM75.1,153.2L80.4,154.1L87.0,153.3L90.9,151.7L91.6,150.2L87.0,147.5L76.4,146.7L72.5,148.2L71.1,150.2L75.1,153.2ZM759.1,131.1L764.3,130.6L765.7,127.8L763.0,126.8L760.4,127.4L758.6,129.1L759.1,131.1ZM372.9,104.9L374.3,105.4L376.4,104.1L376.8,102.8L375.6,100.7L374.3,100.3L372.2,101.5L371.7,102.8L372.9,104.9ZM1.3,102.9L5.3,103.7L9.2,102.9L11.1,101.5L11.7,98.8L7.9,96.1L2.6,96.7L0.0,98.1L0.0,102.2L1.3,102.9ZM948.8,101.7L948.8,98.6L948.1,100.2L948.8,101.7Z"/>
<path fill="#8c0000" fill-rule="evenodd" d="M799.9,332.2L802.8,330.8L802.8,329.5L801.2,328.1L797.6,329.5L797.4,330.8L799.9,332.2ZM819.7,236.7L821.0,237.1L823.1,235.9L823.5,234.6L822.3,232.5L821.0,232.0L818.9,233.3L818.4,234.6L819.7,236.7ZM11.9,228.7L13.2,229.2L15.2,228.0L15.6,226.7L14.5,224.8L13.2,224.3L11.3,225.3L10.8,226.7L11.9,228.7ZM241.2,200.4L244.1,200.3L241.2,200.4ZM321.5,155.1L324.2,153.4L325.4,148.9L324.2,143.7L321.5,142.2L318.9,144.9L318.5,147.6L319.0,151.5L321.5,155.1ZM76.4,153.1L87.0,153.0L90.4,151.5L90.9,150.2L85.5,147.6L76.4,147.4L72.2,150.2L72.8,151.5L76.4,153.1ZM760.4,130.8L763.3,130.5L764.7,129.1L764.2,127.8L760.4,127.8L759.2,129.1L760.4,130.8ZM2.6,102.9L8.3,102.8L10.3,101.5L10.9,98.8L7.9,96.8L2.1,97.5L0.0,98.8L0.0,101.5L2.6,102.9ZM374.3,103.4L374.3,102.3L374.3,103.4Z"/>
<path fill="#ff00ff" fill-rule="evenodd" d="M798.6,331.2L801.2,331.4L802.0,329.5L798.6,329.1L798.6,331.2ZM819.7,236.0L822.5,235.9L822.3,233.1L819.5,233.3L819.7,236.0ZM77.8,153.0L85.8,152.9L89.5,151.5L90.0,150.2L88.3,148.8L80.4,147.5L75.1,148.7L73.4,150.2L73.9,151.5L77.8,153.0ZM321.5,153.9L323.4,152.9L324.6,148.9L323.8,145.0L321.5,143.2L320.2,144.0L319.0,147.6L320.2,152.8L321.5,153.9ZM760.4,129.3L763.3,129.1L761.7,128.5L760.4,129.3ZM2.6,102.1L7.9,102.2L10.0,100.2L9.7,98.8L6.6,97.3L2.6,98.1L0.6,100.2L2.6,102.1Z"/>
<path fill="#dcdcff" fill-rule="evenodd" d="M101.5,453.3L109.3,453.3L104.1,452.5L100.4,453.3L101.5,453.3ZM490.2,453.3L512.6,453.3L500.8,452.2L490.2,453.3ZM876.3,453.3L885.0,453.3L876.3,453.3ZM311.0,415.2L317.6,415.1L318.5,413.8L312.3,412.6L308.3,413.8L311.0,415.2ZM868.4,286.5L871.1,286.5L873.0,284.6L873.7,282.0L872.6,279.4L861.6,264.9L855.1,253.0L841.8,234.6L839.4,232.8L835.5,233.3L833.6,235.9L833.6,238.5L841.5,251.7L855.8,271.5L868.4,286.5ZM602.2,278.1L619.4,278.7L621.2,276.7L620.8,275.4L619.4,274.9L562.7,270.7L486.3,262.0L400.6,259.5L355.8,254.5L337.4,257.6L332.4,259.6L330.0,262.2L330.8,264.9L335.1,267.5L351.9,270.5L362.4,269.9L376.9,266.2L383.5,265.7L452.0,270.4L475.7,275.8L492.9,273.7L502.1,273.7L523.2,275.5L571.9,275.8L602.2,278.1ZM171.3,258.7L176.6,259.3L180.5,258.4L183.9,255.7L187.3,250.4L196.4,248.4L208.2,249.1L223.5,254.3L233.3,255.8L253.0,253.7L300.5,253.0L315.0,255.4L317.6,254.5L317.9,253.0L316.2,249.1L311.0,247.1L267.5,242.6L262.0,241.2L261.5,239.8L263.6,239.1L283.3,239.2L295.2,236.3L308.4,227.1L309.6,225.3L309.4,222.7L304.4,219.3L296.5,217.6L286.0,217.6L271.5,219.9L266.2,219.4L264.3,217.4L262.6,206.9L259.6,203.0L239.8,203.3L231.9,202.0L228.3,200.3L227.9,199.0L229.3,198.1L236.0,196.4L237.0,195.0L234.9,191.1L230.6,190.1L226.7,191.1L225.3,194.9L224.0,195.5L192.4,196.0L175.3,193.6L166.0,194.3L158.1,197.2L148.9,206.3L138.9,210.8L139.4,228.0L140.4,230.6L150.4,239.8L167.1,245.1L168.1,246.4L160.8,250.4L159.9,253.0L171.3,258.7ZM513.9,250.8L517.9,251.1L520.5,250.3L525.1,245.1L526.0,241.2L525.3,237.2L520.5,233.7L512.6,233.7L509.0,235.9L507.1,238.5L508.1,245.1L511.0,249.1L513.9,250.8ZM549.5,233.4L559.3,233.3L566.7,230.7L568.0,229.3L562.7,228.4L554.4,229.3L548.5,231.9L549.5,233.4ZM438.8,232.0L455.2,231.9L482.1,229.3L484.3,228.0L481.1,224.0L483.6,222.6L510.0,219.5L528.4,218.5L569.3,210.9L573.2,208.5L575.1,205.6L575.7,202.9L574.2,195.0L571.5,192.4L565.3,190.8L540.3,189.0L512.6,188.8L500.8,185.7L490.2,184.6L482.3,186.4L479.3,189.8L483.6,192.2L499.4,193.5L515.3,198.1L533.8,201.6L528.4,203.1L491.5,206.4L434.9,205.0L405.9,202.9L336.0,204.3L324.7,205.6L320.2,209.5L320.4,213.5L322.4,218.8L325.2,221.4L328.1,222.3L366.3,221.8L408.5,224.1L415.7,225.3L420.6,229.3L425.2,230.6L438.8,232.0ZM938.3,232.0L944.9,232.0L948.8,229.6L948.8,215.9L937.0,219.2L921.1,220.6L888.2,218.0L839.4,217.0L831.5,216.3L824.9,212.7L804.1,206.9L786.7,200.3L782.8,200.8L779.4,205.6L779.6,209.5L782.8,213.1L786.7,214.2L790.7,214.0L803.9,218.4L809.1,222.1L830.2,226.7L885.6,230.3L938.3,232.0ZM0.7,228.0L9.2,219.1L30.5,212.2L34.4,209.5L33.4,208.2L30.3,207.4L22.4,207.0L2.6,213.7L0.0,215.2L0.0,228.8L0.7,228.0ZM925.1,195.1L934.3,196.0L944.5,195.0L948.8,193.2L948.8,190.5L943.5,188.6L937.0,188.1L926.4,189.1L921.0,191.1L922.1,193.7L925.1,195.1ZM715.6,188.5L727.4,188.5L731.3,187.1L731.3,185.8L722.2,184.5L710.1,185.8L710.3,187.1L715.6,188.5ZM606.2,185.9L610.2,185.8L606.2,185.9ZM612.8,185.0L634.2,184.5L649.1,181.9L647.6,180.5L641.8,179.4L631.3,179.2L623.3,180.5L611.6,184.5L612.8,185.0ZM686.6,183.3L699.8,184.0L703.7,180.3L704.2,177.9L699.8,175.1L687.9,174.0L679.5,175.3L675.9,176.6L673.4,179.2L676.0,181.4L686.6,183.3Z"/>
<path fill="#a6a6ff" fill-rule="evenodd" d="M351.9,268.8L362.4,267.7L365.1,266.2L366.0,263.6L362.4,260.6L354.5,258.8L346.6,259.6L339.6,262.2L339.0,263.6L341.5,266.2L351.9,268.8ZM516.6,249.1L520.6,247.7L523.5,242.5L521.8,237.6L516.6,235.4L511.7,237.2L509.7,241.2L511.3,246.5L516.6,249.1ZM196.4,234.6L225.3,234.8L230.7,231.9L235.1,226.7L242.5,223.6L243.8,223.7L245.4,228.0L249.1,231.6L251.7,232.5L255.7,232.0L259.1,229.3L260.1,226.7L259.7,222.7L256.1,217.4L259.0,210.8L258.6,206.9L255.7,204.0L237.2,203.3L224.0,199.9L208.2,204.3L193.7,204.3L191.1,203.7L181.9,198.1L173.9,196.4L164.7,197.5L159.4,200.3L157.7,202.9L157.7,205.6L163.8,213.5L161.5,220.1L164.4,225.3L170.4,229.3L177.5,231.9L196.4,234.6ZM284.6,229.4L292.6,230.2L300.5,229.0L305.5,226.7L306.9,224.0L304.9,221.4L299.1,219.2L292.6,218.7L284.6,219.6L280.1,221.4L277.8,224.0L279.4,227.2L284.6,229.4ZM880.3,228.2L898.7,227.9L904.0,226.4L906.2,224.0L901.4,221.1L889.5,219.6L877.7,220.2L870.5,222.7L869.9,224.0L871.1,225.6L880.3,228.2ZM818.4,222.8L822.3,223.7L826.1,222.7L827.8,220.1L826.8,216.1L823.6,214.0L786.7,202.9L784.1,202.9L781.2,205.6L781.2,209.5L784.0,212.2L793.3,214.0L809.1,220.2L818.4,222.8ZM337.4,213.7L421.7,213.7L424.3,212.2L424.6,210.8L424.3,209.5L421.7,207.9L337.4,208.1L334.9,209.5L334.5,210.8L334.8,212.2L337.4,213.7ZM229.3,197.0L234.7,196.4L236.2,195.0L235.7,192.4L233.3,190.6L228.1,191.1L226.8,193.7L229.3,197.0ZM529.8,195.1L546.9,196.3L556.2,195.0L555.7,193.7L546.9,192.9L532.4,192.7L526.0,193.7L529.8,195.1Z"/>
<path fill="#6b6bff" fill-rule="evenodd" d="M350.5,267.5L358.4,267.4L362.9,264.9L361.1,262.8L355.8,261.6L350.5,261.8L346.3,263.6L345.6,264.9L346.6,266.2L350.5,267.5ZM515.3,245.7L517.9,245.7L520.0,243.8L520.2,241.2L517.9,238.6L515.3,238.6L512.9,241.2L513.2,243.8L515.3,245.7ZM213.5,232.0L226.7,231.9L229.4,229.3L230.1,226.7L227.6,220.1L239.8,219.4L249.1,217.1L254.9,212.2L256.3,209.5L256.0,206.9L252.6,204.3L237.2,203.6L225.3,201.6L221.4,202.3L215.7,205.6L214.5,209.5L217.4,213.7L224.1,218.8L214.8,219.5L206.9,218.9L197.7,215.1L197.0,213.5L197.9,209.5L196.4,207.3L192.4,206.6L188.4,209.2L179.2,201.0L172.6,200.9L168.8,204.3L168.5,206.9L171.3,211.8L186.2,224.0L204.3,231.4L213.5,232.0ZM251.7,230.7L256.5,229.3L258.3,225.3L256.8,221.4L251.7,219.1L248.2,221.4L247.2,225.3L249.0,229.3L251.7,230.7ZM288.6,228.1L300.5,227.4L303.1,226.3L304.8,224.0L302.4,221.4L295.2,219.7L288.0,220.1L282.1,222.7L282.1,225.3L288.6,228.1ZM880.3,226.8L894.8,227.0L900.1,225.6L901.6,224.0L900.5,222.7L896.2,221.4L888.2,220.8L879.6,221.4L875.6,222.7L874.6,224.0L875.7,225.3L880.3,226.8ZM817.0,220.1L822.3,221.3L825.0,218.8L822.7,216.1L790.8,206.9L785.4,205.5L783.4,206.9L783.8,209.5L786.6,210.8L817.0,220.1ZM230.6,196.5L235.5,195.0L234.6,191.7L230.6,190.8L227.8,192.4L228.2,195.0L230.6,196.5Z"/>
<path fill="#3030ff" fill-rule="evenodd" d="M353.2,266.2L359.1,264.9L354.5,263.4L349.7,264.9L353.2,266.2ZM212.2,229.3L225.3,229.6L227.0,228.0L227.1,225.3L224.0,223.1L206.9,221.9L192.9,216.1L191.3,214.8L195.0,213.6L197.0,210.8L195.0,207.5L191.1,208.4L189.8,213.3L185.8,211.1L178.2,204.3L175.3,204.1L173.2,205.6L172.5,208.2L173.9,210.8L187.3,221.4L204.3,228.5L212.2,229.3ZM250.4,226.7L253.0,228.0L254.3,227.2L255.3,225.3L254.3,222.9L251.4,222.7L250.3,224.0L250.4,226.7ZM292.6,225.5L299.1,225.8L302.2,224.0L301.7,222.7L296.5,221.0L289.9,221.2L287.1,222.7L287.7,224.0L292.6,225.5ZM884.2,225.4L892.5,225.3L895.5,224.0L892.4,222.7L888.2,222.5L883.8,222.7L880.8,224.0L884.2,225.4ZM235.9,216.1L243.8,215.3L250.4,212.8L253.8,209.5L253.8,206.9L252.7,205.6L249.1,204.5L226.7,202.6L221.4,203.9L217.8,206.9L217.8,209.5L221.4,212.7L229.3,215.5L235.9,216.1ZM229.3,195.3L231.9,196.0L234.6,195.2L234.8,192.4L231.9,191.0L229.3,191.7L228.3,193.7L229.3,195.3Z"/>
<path fill="#1515ff" fill-rule="evenodd" d="M231.9,213.6L239.8,213.7L246.4,212.4L251.2,209.5L251.4,206.9L247.7,205.1L228.0,203.5L223.9,204.3L220.4,206.9L220.7,209.5L222.7,211.1L231.9,213.6ZM192.4,212.8L195.0,212.5L196.2,210.8L195.0,208.3L192.7,208.2L191.2,209.5L191.1,211.3L192.4,212.8ZM230.6,195.2L233.6,195.0L234.6,193.7L234.0,192.4L231.9,191.6L229.3,192.4L229.1,193.7L230.6,195.2Z"/>
<path fill="#00ffff" fill-rule="evenodd" d="M192.4,211.3L195.0,211.1L195.1,209.5L192.4,209.5L192.4,211.3ZM228.0,211.2L234.6,212.1L241.2,211.7L245.1,210.8L248.4,208.2L248.2,206.9L245.5,205.6L229.3,204.5L223.7,206.9L224.4,209.5L228.0,211.2ZM230.6,194.1L233.5,193.7L232.6,192.4L230.7,192.4L230.6,194.1Z"/>
<use href="#nodata"/>
</g>
<g clip-path="url(#mapclip)">
<use href="#land"/><use href="#lakes"/><use href="#coast"/>
</g>
<use href="#grid"/>
</g>
<text transform="translate(1076.5,52.5) scale(0.9588,1)" font-size="43.8" text-anchor="middle">NPP</text>
<rect x="98.3" y="103.0" width="397.8" height="61.3" fill="#fff"/>
<rect x="1095.8" y="103.0" width="359.0" height="61.3" fill="#fff"/>
<rect x="98.3" y="747.8" width="408.8" height="61.3" fill="#fff"/>
<rect x="1095.8" y="747.8" width="350.5" height="61.3" fill="#fff"/>
<text transform="translate(111.6,147.0) scale(0.9588,1)" font-size="36.5" text-anchor="start" word-spacing="-1.8">(a) CTR [g C m<tspan font-size="24.5" dy="-12.6" font-family="'DejaVu Sans', sans-serif" dx="6">−</tspan><tspan font-size="25" dx="7">2</tspan><tspan font-size="36.5" dy="12.6" dx="11.5">yr</tspan><tspan font-size="24.5" dy="-12.6" font-family="'DejaVu Sans', sans-serif" dx="7">−</tspan><tspan font-size="25" dx="8">1</tspan><tspan font-size="36.5" dy="12.6" dx="3">]</tspan></text>
<text transform="translate(1109.0,147.2) scale(0.9588,1)" font-size="36.5" text-anchor="start" word-spacing="-1.8">(b) NEWS minus CTR</text>
<text transform="translate(111.6,791.9) scale(0.9588,1)" font-size="36.5" text-anchor="start" word-spacing="-1.8">(c) DIN+DON minus CTR</text>
<text transform="translate(1109.0,791.9) scale(0.9588,1)" font-size="36.5" text-anchor="start" word-spacing="-1.8">(d) 2xDIN minus CTR</text>
<text transform="translate(92.8,152.5) scale(0.9588,1)" font-size="36.5" text-anchor="end">90°N</text>
<text transform="translate(92.8,231.6) scale(0.9588,1)" font-size="36.5" text-anchor="end">60°N</text>
<text transform="translate(92.8,310.6) scale(0.9588,1)" font-size="36.5" text-anchor="end">30°N</text>
<text transform="translate(92.8,389.7) scale(0.9588,1)" font-size="36.5" text-anchor="end">0°</text>
<text transform="translate(92.8,468.8) scale(0.9588,1)" font-size="36.5" text-anchor="end">30°S</text>
<text transform="translate(92.8,547.8) scale(0.9588,1)" font-size="36.5" text-anchor="end">60°S</text>
<text transform="translate(92.8,626.9) scale(0.9588,1)" font-size="36.5" text-anchor="end">90°S</text>
<text transform="translate(92.8,797.3) scale(0.9588,1)" font-size="36.5" text-anchor="end">90°N</text>
<text transform="translate(92.8,876.4) scale(0.9588,1)" font-size="36.5" text-anchor="end">60°N</text>
<text transform="translate(92.8,955.4) scale(0.9588,1)" font-size="36.5" text-anchor="end">30°N</text>
<text transform="translate(92.8,1034.5) scale(0.9588,1)" font-size="36.5" text-anchor="end">0°</text>
<text transform="translate(92.8,1113.6) scale(0.9588,1)" font-size="36.5" text-anchor="end">30°S</text>
<text transform="translate(92.8,1192.6) scale(0.9588,1)" font-size="36.5" text-anchor="end">60°S</text>
<text transform="translate(92.8,1271.7) scale(0.9588,1)" font-size="36.5" text-anchor="end">90°S</text>
<text transform="translate(102.3,1296.9) scale(0.9588,1)" font-size="36.5" text-anchor="middle">0°</text>
<text transform="translate(260.4,1296.9) scale(0.9588,1)" font-size="36.5" text-anchor="middle">60°E</text>
<text transform="translate(418.6,1296.9) scale(0.9588,1)" font-size="36.5" text-anchor="middle">120°E</text>
<text transform="translate(576.7,1296.9) scale(0.9588,1)" font-size="36.5" text-anchor="middle">180°</text>
<text transform="translate(734.8,1296.9) scale(0.9588,1)" font-size="36.5" text-anchor="middle">120°W</text>
<text transform="translate(893.0,1296.9) scale(0.9588,1)" font-size="36.5" text-anchor="middle">60°W</text>
<text transform="translate(1099.8,1296.9) scale(0.9588,1)" font-size="36.5" text-anchor="middle">0°</text>
<text transform="translate(1257.9,1296.9) scale(0.9588,1)" font-size="36.5" text-anchor="middle">60°E</text>
<text transform="translate(1416.1,1296.9) scale(0.9588,1)" font-size="36.5" text-anchor="middle">120°E</text>
<text transform="translate(1574.2,1296.9) scale(0.9588,1)" font-size="36.5" text-anchor="middle">180°</text>
<text transform="translate(1732.3,1296.9) scale(0.9588,1)" font-size="36.5" text-anchor="middle">120°W</text>
<text transform="translate(1890.5,1296.9) scale(0.9588,1)" font-size="36.5" text-anchor="middle">60°W</text>
<rect x="184.30" y="626.0" width="42.04" height="30.4" fill="#f3e31e"/>
<rect x="225.74" y="626.0" width="42.04" height="30.4" fill="#d3e21b"/>
<rect x="267.17" y="626.0" width="42.04" height="30.4" fill="#aedc2e"/>
<rect x="308.61" y="626.0" width="42.04" height="30.4" fill="#89d546"/>
<rect x="350.05" y="626.0" width="42.04" height="30.4" fill="#6ece58"/>
<rect x="391.48" y="626.0" width="42.04" height="30.4" fill="#4ec36b"/>
<rect x="432.92" y="626.0" width="42.04" height="30.4" fill="#35b779"/>
<rect x="474.36" y="626.0" width="42.04" height="30.4" fill="#25ab82"/>
<rect x="515.79" y="626.0" width="42.04" height="30.4" fill="#1f9e89"/>
<rect x="557.23" y="626.0" width="42.04" height="30.4" fill="#21908d"/>
<rect x="598.67" y="626.0" width="42.04" height="30.4" fill="#26828e"/>
<rect x="640.11" y="626.0" width="42.04" height="30.4" fill="#2b758e"/>
<rect x="681.54" y="626.0" width="42.04" height="30.4" fill="#31688e"/>
<rect x="722.98" y="626.0" width="42.04" height="30.4" fill="#375a8c"/>
<rect x="764.42" y="626.0" width="42.04" height="30.4" fill="#3e4989"/>
<rect x="805.85" y="626.0" width="42.04" height="30.4" fill="#443983"/>
<rect x="847.29" y="626.0" width="42.04" height="30.4" fill="#482878"/>
<rect x="888.73" y="626.0" width="42.04" height="30.4" fill="#481668"/>
<rect x="930.16" y="626.0" width="42.04" height="30.4" fill="#440154"/>
<path d="M971.6,626.0L1011.6,641.2L971.6,656.4Z" fill="#440154"/>
<path d="M184.3,626.0L143.8,641.2L184.3,656.4Z" fill="#fff"/>
<path d="M184.3,626.0L143.8,641.2L184.3,656.4L971.6,656.4L1011.6,641.2L971.6,626.0Z" fill="none" stroke="#000" stroke-width="1.6"/>
<path d="M184.3,656.4V663.6" stroke="#000" stroke-width="1.6"/>
<text transform="translate(184.3,697.0) scale(0.9588,1)" font-size="36.5" text-anchor="middle">10</text>
<path d="M267.2,656.4V663.6" stroke="#000" stroke-width="1.6"/>
<text transform="translate(267.2,697.0) scale(0.9588,1)" font-size="36.5" text-anchor="middle">100</text>
<path d="M350.0,656.4V663.6" stroke="#000" stroke-width="1.6"/>
<text transform="translate(350.0,697.0) scale(0.9588,1)" font-size="36.5" text-anchor="middle">200</text>
<path d="M432.9,656.4V663.6" stroke="#000" stroke-width="1.6"/>
<text transform="translate(432.9,697.0) scale(0.9588,1)" font-size="36.5" text-anchor="middle">300</text>
<path d="M515.8,656.4V663.6" stroke="#000" stroke-width="1.6"/>
<text transform="translate(515.8,697.0) scale(0.9588,1)" font-size="36.5" text-anchor="middle">400</text>
<path d="M598.7,656.4V663.6" stroke="#000" stroke-width="1.6"/>
<text transform="translate(598.7,697.0) scale(0.9588,1)" font-size="36.5" text-anchor="middle">500</text>
<path d="M681.5,656.4V663.6" stroke="#000" stroke-width="1.6"/>
<text transform="translate(681.5,697.0) scale(0.9588,1)" font-size="36.5" text-anchor="middle">600</text>
<path d="M764.4,656.4V663.6" stroke="#000" stroke-width="1.6"/>
<text transform="translate(764.4,697.0) scale(0.9588,1)" font-size="36.5" text-anchor="middle">700</text>
<path d="M847.3,656.4V663.6" stroke="#000" stroke-width="1.6"/>
<text transform="translate(847.3,697.0) scale(0.9588,1)" font-size="36.5" text-anchor="middle">800</text>
<path d="M930.2,656.4V663.6" stroke="#000" stroke-width="1.6"/>
<text transform="translate(930.2,697.0) scale(0.9588,1)" font-size="36.5" text-anchor="middle">900</text>
<rect x="485.20" y="1352.5" width="79.27" height="30.5" fill="#1515ff"/>
<rect x="563.87" y="1352.5" width="79.27" height="30.5" fill="#3030ff"/>
<rect x="642.55" y="1352.5" width="79.27" height="30.5" fill="#6b6bff"/>
<rect x="721.22" y="1352.5" width="79.27" height="30.5" fill="#a6a6ff"/>
<rect x="799.89" y="1352.5" width="79.27" height="30.5" fill="#dcdcff"/>
<rect x="878.57" y="1352.5" width="79.27" height="30.5" fill="#ffffff"/>
<rect x="957.24" y="1352.5" width="79.27" height="30.5" fill="#ffe8e8"/>
<rect x="1035.91" y="1352.5" width="79.27" height="30.5" fill="#ffaaaa"/>
<rect x="1114.59" y="1352.5" width="79.27" height="30.5" fill="#ff7373"/>
<rect x="1193.26" y="1352.5" width="79.27" height="30.5" fill="#ff3c3c"/>
<rect x="1271.93" y="1352.5" width="79.27" height="30.5" fill="#f70000"/>
<rect x="1350.61" y="1352.5" width="79.27" height="30.5" fill="#e40000"/>
<rect x="1429.28" y="1352.5" width="79.27" height="30.5" fill="#c80000"/>
<rect x="1507.95" y="1352.5" width="79.27" height="30.5" fill="#a50000"/>
<rect x="1586.63" y="1352.5" width="79.27" height="30.5" fill="#8c0000"/>
<path d="M1665.3,1352.5L1726.3,1367.75L1665.3,1383.0Z" fill="#ff00ff"/>
<path d="M485.2,1352.5L424.2,1367.75L485.2,1383.0Z" fill="#00ffff"/>
<path d="M485.2,1352.5L424.2,1367.75L485.2,1383.0L1665.3,1383.0L1726.3,1367.75L1665.3,1352.5Z" fill="none" stroke="#000" stroke-width="1.6"/>
<path d="M485.2,1383.0V1390.2" stroke="#000" stroke-width="1.6"/>
<text transform="translate(485.2,1423.3) scale(0.9588,1)" font-size="36.5" text-anchor="middle">−60</text>
<path d="M642.5,1383.0V1390.2" stroke="#000" stroke-width="1.6"/>
<text transform="translate(642.5,1423.3) scale(0.9588,1)" font-size="36.5" text-anchor="middle">−40</text>
<path d="M799.9,1383.0V1390.2" stroke="#000" stroke-width="1.6"/>
<text transform="translate(799.9,1423.3) scale(0.9588,1)" font-size="36.5" text-anchor="middle">−20</text>
<path d="M957.2,1383.0V1390.2" stroke="#000" stroke-width="1.6"/>
<text transform="translate(957.2,1423.3) scale(0.9588,1)" font-size="36.5" text-anchor="middle">0</text>
<path d="M1114.6,1383.0V1390.2" stroke="#000" stroke-width="1.6"/>
<text transform="translate(1114.6,1423.3) scale(0.9588,1)" font-size="36.5" text-anchor="middle">20</text>
<path d="M1271.9,1383.0V1390.2" stroke="#000" stroke-width="1.6"/>
<text transform="translate(1271.9,1423.3) scale(0.9588,1)" font-size="36.5" text-anchor="middle">40</text>
<path d="M1429.3,1383.0V1390.2" stroke="#000" stroke-width="1.6"/>
<text transform="translate(1429.3,1423.3) scale(0.9588,1)" font-size="36.5" text-anchor="middle">60</text>
<path d="M1586.6,1383.0V1390.2" stroke="#000" stroke-width="1.6"/>
<text transform="translate(1586.6,1423.3) scale(0.9588,1)" font-size="36.5" text-anchor="middle">80</text>
<text transform="translate(963.0,1468.8) scale(0.9588,1)" font-size="36.5" text-anchor="start">g C m<tspan font-size="24.5" dy="-12.6" font-family="'DejaVu Sans', sans-serif" dx="6">−</tspan><tspan font-size="25" dx="7">2</tspan><tspan font-size="36.5" dy="12.6" dx="9">yr</tspan><tspan font-size="24.5" dy="-12.6" font-family="'DejaVu Sans', sans-serif" dx="6">−</tspan><tspan font-size="25" dx="8">1</tspan><tspan font-size="36.5" dy="12.6" dx="0"></tspan></text>
</svg></body></html>
